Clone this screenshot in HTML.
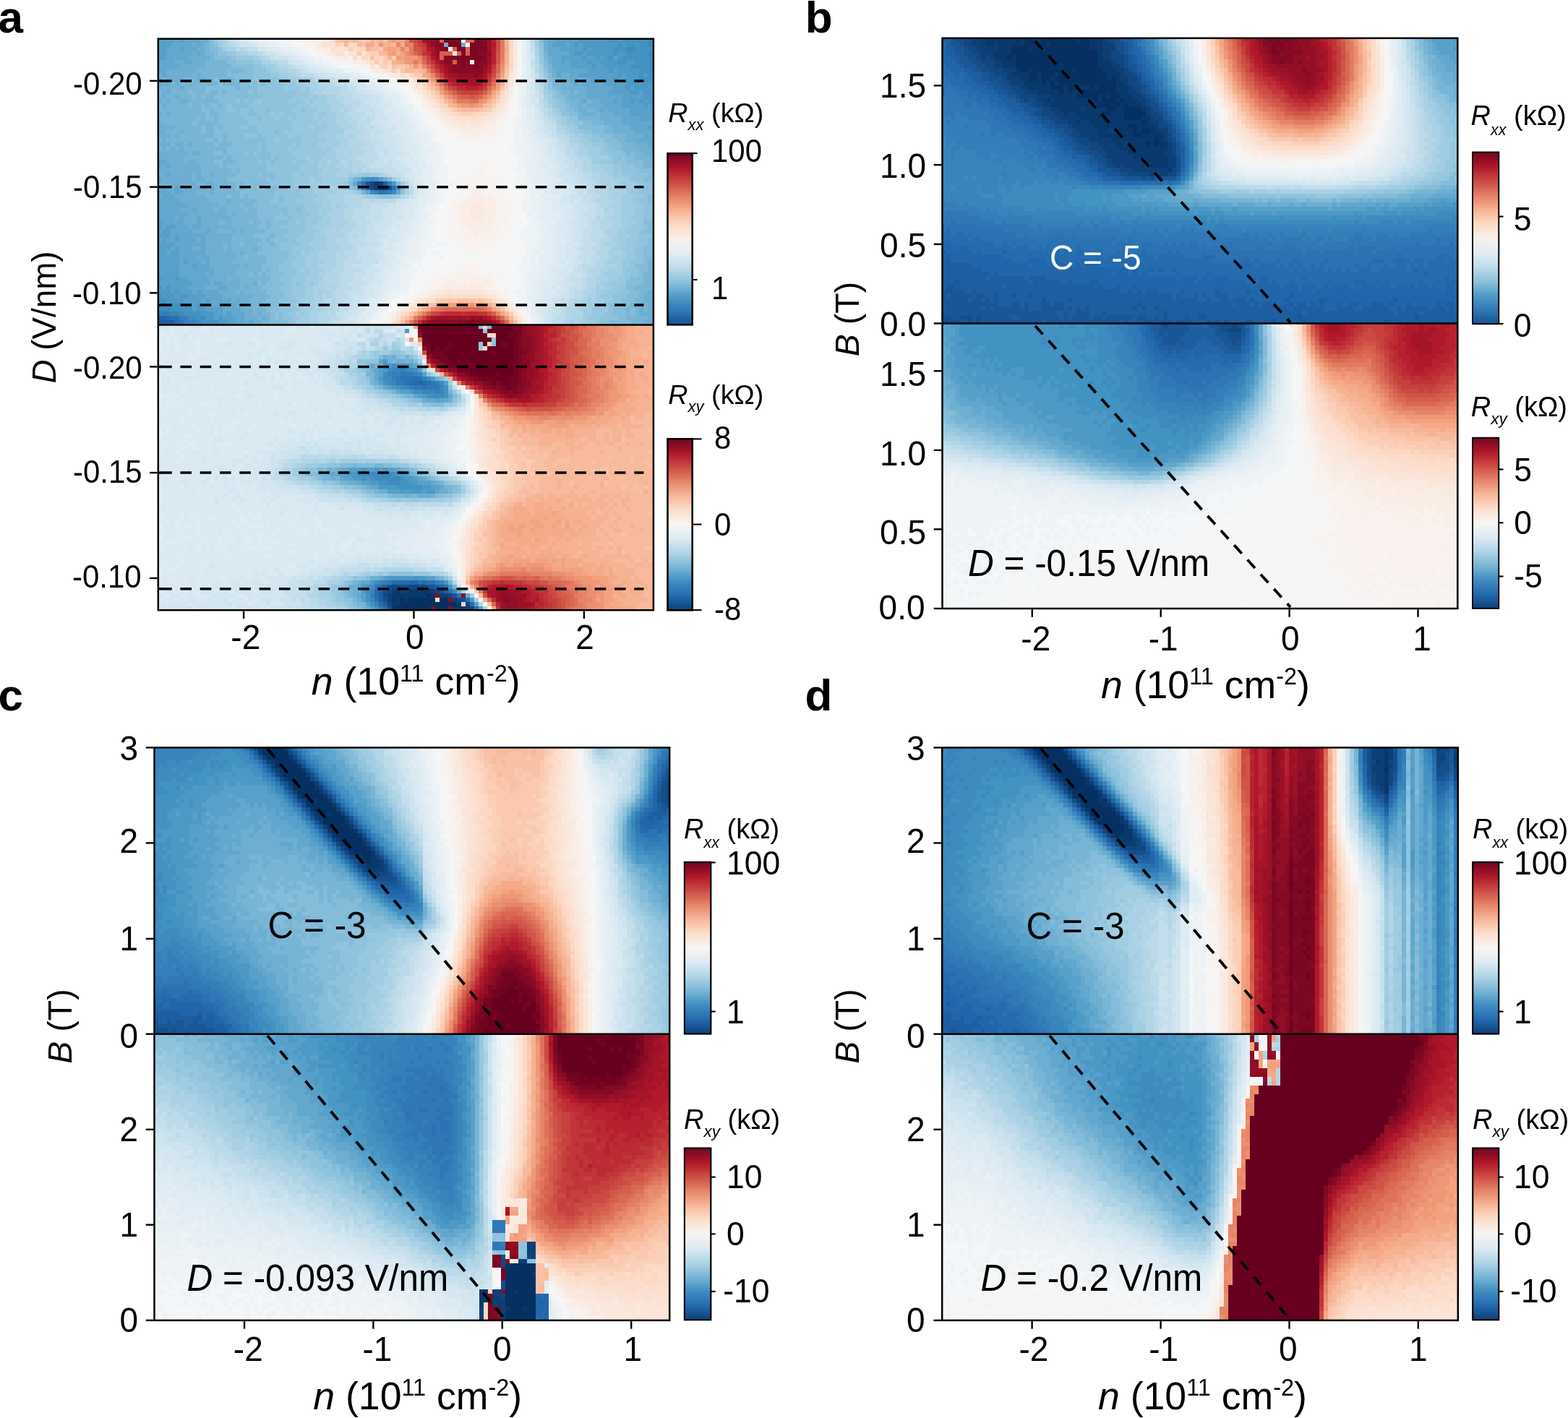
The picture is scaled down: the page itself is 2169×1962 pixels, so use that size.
<!DOCTYPE html>
<html lang="en"><head><meta charset="utf-8"><title>Figure</title>
<style>html,body{margin:0;padding:0;background:#fff;overflow:hidden}svg{display:block}text{font-family:"Liberation Sans", sans-serif;}</style></head>
<body>
<svg width="2169" height="1962" viewBox="0 0 2169 1962">
<defs><linearGradient id="cb" x1="0" y1="0" x2="0" y2="1"><stop offset="0.000" stop-color="#720421"/><stop offset="0.083" stop-color="#ae172a"/><stop offset="0.167" stop-color="#cd4d44"/><stop offset="0.250" stop-color="#e68569"/><stop offset="0.333" stop-color="#f7b799"/><stop offset="0.417" stop-color="#fcdfcd"/><stop offset="0.500" stop-color="#f7f5f3"/><stop offset="0.583" stop-color="#dceaf2"/><stop offset="0.667" stop-color="#b0d4e7"/><stop offset="0.750" stop-color="#79b5d6"/><stop offset="0.833" stop-color="#3f8ec1"/><stop offset="0.917" stop-color="#246aae"/><stop offset="1.000" stop-color="#0d4078"/></linearGradient><linearGradient id="cbx" x1="0" y1="0" x2="0" y2="1"><stop offset="0.000" stop-color="#720421"/><stop offset="0.083" stop-color="#ac162a"/><stop offset="0.167" stop-color="#cb4942"/><stop offset="0.250" stop-color="#e47f65"/><stop offset="0.333" stop-color="#f6b191"/><stop offset="0.417" stop-color="#fddac6"/><stop offset="0.500" stop-color="#f8f0eb"/><stop offset="0.583" stop-color="#e3eef3"/><stop offset="0.667" stop-color="#bfdceb"/><stop offset="0.750" stop-color="#8ec2dd"/><stop offset="0.833" stop-color="#519cc8"/><stop offset="0.917" stop-color="#2f79b6"/><stop offset="1.000" stop-color="#175392"/></linearGradient></defs>
<rect x="0" y="0" width="2169" height="1962" fill="#fff"/>
<clipPath id="ka1"><rect x="218.8" y="53.7" width="685.1" height="395.9"/></clipPath>
<g clip-path="url(#ka1)"><g transform="translate(218 56) scale(6 6)" fill="none" stroke-width="1.04" shape-rendering="crispEdges">
<path stroke="#09386c" d="M50 33h1M51 34h2"/>
<path stroke="#0d3f76" d="M51 33h1M50 34h1"/>
<path stroke="#114781" d="M49 33h1M49 34h1"/>
<path stroke="#154e8b" d="M53 34h1"/>
<path stroke="#195696" d="M48 33h1"/>
<path stroke="#1d5ea0" d="M52 33h1M0 65h4"/>
<path stroke="#2165ab" d="M48 34h1M0 64h2M0 66h3"/>
<path stroke="#256caf" d="M2 64h1M4 65h1M3 66h1"/>
<path stroke="#2a72b2" d="M47 33h1M54 34h1M51 35h1M3 64h2M5 65h1M4 66h1"/>
<path stroke="#2f78b5" d="M52 35h1M5 66h2"/>
<path stroke="#347fb9" d="M53 33h1M50 35h1M53 35h1M0 63h3M5 64h2M6 65h1M7 66h1"/>
<path stroke="#3885bc" d="M47 34h1M3 63h2M7 65h2M8 66h2"/>
<path stroke="#3d8bbf" d="M113 0h1M113 1h2M108 2h2M113 3h2M49 32h1M46 33h1M49 35h1M54 35h1M0 61h2M0 62h3M5 63h1M7 64h2M10 64h1M9 65h1M10 66h1"/>
<path stroke="#4292c2" d="M104 0h2M107 0h6M114 0h1M106 1h1M108 1h2M111 1h2M105 2h3M110 2h5M105 3h1M108 3h5M104 4h1M107 4h8M106 5h2M110 5h5M109 6h6M111 7h4M111 8h1M113 8h2M111 9h4M114 10h1M48 32h1M50 32h1M0 59h1M0 60h2M2 61h3M3 62h5M6 63h4M9 64h1M10 65h4M11 66h4"/>
<path stroke="#4c99c6" d="M97 0h7M106 0h1M96 1h1M98 1h8M107 1h1M110 1h1M98 2h1M100 2h5M96 3h2M99 3h6M106 3h2M98 4h1M101 4h1M103 4h1M106 4h1M99 5h1M102 5h4M108 5h2M100 6h1M103 6h6M104 7h1M106 7h5M106 8h1M108 8h3M112 8h1M105 9h1M108 9h3M108 10h6M108 11h1M110 11h5M109 12h2M112 12h3M112 13h3M109 14h1M111 14h1M113 14h2M112 15h1M114 16h1M47 32h1M54 33h1M55 34h1M0 55h1M4 55h1M0 57h1M2 57h1M0 58h3M4 58h1M1 59h3M5 59h2M2 60h4M5 61h3M9 61h1M9 62h2M10 63h3M11 64h2M14 64h1M14 65h2M15 66h2"/>
<path stroke="#57a0ca" d="M0 0h4M5 0h1M92 0h5M0 1h3M91 1h3M95 1h1M97 1h1M0 2h2M5 2h1M93 2h5M99 2h1M0 3h2M95 3h1M98 3h1M0 4h2M93 4h5M99 4h2M102 4h1M105 4h1M93 5h1M95 5h4M100 5h2M95 6h5M101 6h2M99 7h5M105 7h1M97 8h9M107 8h1M100 9h5M106 9h2M103 10h5M105 11h3M109 11h1M104 12h5M111 12h1M107 13h5M105 14h1M107 14h2M110 14h1M112 14h1M107 15h5M113 15h2M109 16h5M109 17h6M111 18h4M114 19h1M113 20h2M114 21h1M51 32h1M46 34h1M0 42h1M0 43h1M2 43h2M1 44h2M0 45h3M4 45h1M1 46h1M4 46h1M0 47h4M0 48h3M4 48h1M0 49h2M3 49h2M0 50h5M0 51h5M6 51h1M0 52h5M8 52h1M0 53h5M0 54h5M1 55h3M5 55h2M0 56h8M1 57h1M3 57h4M3 58h1M5 58h3M9 58h1M4 59h1M7 59h4M6 60h4M11 60h1M8 61h1M10 61h2M8 62h1M11 62h4M13 63h2M16 63h1M13 64h1M15 64h3M16 65h2M17 66h2"/>
<path stroke="#62a7ce" d="M4 0h1M6 0h4M90 0h2M3 1h5M9 1h1M90 1h1M94 1h1M2 2h3M6 2h3M90 2h3M2 3h6M9 3h1M90 3h5M2 4h5M91 4h2M0 5h4M6 5h2M91 5h2M94 5h1M0 6h5M91 6h4M0 7h2M92 7h7M1 8h1M92 8h1M95 8h2M95 9h2M98 9h2M96 10h1M98 10h5M99 11h6M99 12h5M99 13h8M98 14h1M102 14h3M106 14h1M103 15h4M102 16h1M104 16h5M105 17h4M107 18h4M107 19h7M109 20h4M110 21h4M112 22h3M111 23h4M113 24h2M114 25h1M0 28h2M2 29h1M2 31h1M0 32h1M45 33h1M1 34h1M4 34h1M0 35h3M4 35h2M48 35h1M55 35h1M1 36h3M0 37h5M0 38h7M0 39h5M8 39h1M0 40h7M0 41h4M5 41h1M9 41h1M1 42h5M9 42h1M1 43h1M4 43h3M8 43h2M0 44h1M3 44h5M11 44h1M3 45h1M5 45h6M0 46h1M2 46h2M5 46h4M10 46h1M4 47h7M3 48h1M5 48h3M10 48h1M2 49h1M5 49h6M5 50h4M10 50h2M5 51h1M7 51h3M11 51h1M5 52h3M9 52h3M5 53h8M5 54h6M12 54h1M7 55h5M8 56h4M13 56h2M7 57h4M14 57h2M8 58h1M10 58h4M11 59h4M10 60h1M12 60h5M18 60h1M12 61h6M114 61h1M15 62h4M15 63h1M17 63h3M18 64h2M18 65h2M21 65h1M19 66h2"/>
<path stroke="#6daed1" d="M10 0h2M89 0h1M8 1h1M10 1h1M66 1h1M70 1h1M89 1h1M9 2h2M89 2h1M8 3h1M10 3h1M7 4h5M90 4h1M4 5h2M8 5h3M90 5h1M5 6h6M2 7h7M91 7h1M0 8h1M2 8h6M9 8h1M91 8h1M93 8h2M0 9h1M2 9h4M9 9h2M92 9h3M97 9h1M0 10h3M4 10h1M93 10h1M95 10h1M97 10h1M0 11h1M2 11h1M5 11h1M93 11h6M1 12h2M95 12h1M97 12h2M1 13h1M4 13h1M95 13h4M0 14h1M2 14h1M5 14h2M97 14h1M100 14h2M1 15h1M97 15h1M99 15h4M97 16h2M101 16h1M103 16h1M0 17h1M2 17h1M98 17h3M102 17h3M102 18h5M0 19h1M103 19h4M0 20h4M105 20h4M0 21h2M5 21h1M105 21h5M0 22h3M4 22h1M108 22h4M1 23h1M108 23h3M0 24h3M4 24h2M7 24h1M110 24h3M1 25h1M3 25h1M5 25h1M111 25h3M0 26h7M8 26h2M112 26h3M0 27h6M114 27h1M2 28h4M7 28h2M0 29h2M3 29h7M0 30h10M0 31h2M3 31h5M9 31h1M12 31h1M1 32h7M9 32h2M46 32h1M52 32h1M0 33h9M11 33h2M0 34h1M2 34h2M5 34h6M12 34h1M3 35h1M6 35h3M12 35h1M0 36h1M4 36h7M5 37h7M16 37h1M7 38h7M5 39h3M9 39h4M14 39h2M7 40h9M17 40h1M4 41h1M6 41h3M10 41h7M6 42h3M10 42h4M16 42h1M7 43h1M10 43h7M8 44h3M12 44h2M17 44h1M19 44h1M11 45h6M9 46h1M11 46h6M11 47h4M16 47h1M8 48h2M11 48h4M16 48h1M22 48h1M11 49h7M19 49h1M9 50h1M12 50h6M10 51h1M12 51h5M12 52h7M20 52h1M13 53h5M11 54h1M13 54h5M12 55h4M17 55h2M114 55h1M12 56h1M15 56h4M22 56h1M114 56h1M11 57h3M16 57h3M20 57h1M114 57h1M14 58h4M19 58h1M113 58h2M15 59h7M112 59h3M17 60h1M19 60h2M112 60h3M18 61h2M111 61h1M113 61h1M19 62h3M111 62h1M113 62h2M20 63h2M23 63h1M111 63h4M20 64h3M24 64h1M113 64h2M20 65h1M22 65h2M112 65h3M21 66h3M112 66h3"/>
<path stroke="#78b5d5" d="M11 1h1M11 2h1M11 3h2M89 3h1M12 4h1M89 4h1M11 5h5M11 6h6M90 6h1M9 7h7M17 7h3M90 7h1M8 8h1M10 8h6M1 9h1M6 9h3M11 9h2M14 9h4M91 9h1M3 10h1M5 10h9M15 10h4M91 10h2M94 10h1M1 11h1M3 11h2M6 11h5M18 11h1M92 11h1M0 12h1M3 12h4M8 12h3M12 12h2M15 12h1M93 12h2M96 12h1M0 13h1M2 13h2M5 13h3M9 13h1M11 13h2M94 13h1M1 14h1M3 14h2M7 14h7M94 14h3M99 14h1M0 15h1M2 15h5M8 15h2M11 15h1M14 15h1M95 15h2M98 15h1M0 16h10M12 16h1M96 16h1M99 16h2M1 17h1M3 17h8M12 17h2M97 17h1M101 17h1M0 18h9M10 18h1M13 18h1M97 18h5M1 19h7M9 19h5M100 19h3M4 20h6M11 20h2M14 20h1M103 20h2M2 21h3M6 21h4M11 21h2M103 21h2M3 22h1M5 22h8M15 22h1M105 22h3M0 23h1M2 23h9M13 23h1M15 23h1M106 23h2M3 24h1M6 24h1M8 24h5M14 24h3M107 24h3M0 25h1M2 25h1M4 25h1M6 25h10M107 25h4M7 26h1M10 26h3M15 26h1M108 26h1M110 26h2M6 27h9M16 27h1M110 27h4M6 28h1M9 28h4M15 28h3M112 28h3M10 29h4M15 29h1M112 29h3M10 30h7M18 30h1M114 30h1M8 31h1M10 31h2M13 31h5M8 32h1M11 32h5M45 32h1M9 33h2M13 33h5M19 33h1M11 34h1M13 34h5M19 34h1M9 35h3M13 35h6M47 35h1M11 36h5M17 36h2M20 36h1M12 37h4M17 37h6M14 38h5M20 38h2M13 39h1M16 39h4M21 39h2M16 40h1M18 40h5M17 41h6M14 42h2M17 42h4M22 42h2M25 42h1M17 43h6M25 43h1M14 44h3M18 44h1M20 44h5M17 45h5M26 45h1M17 46h7M25 46h1M15 47h1M17 47h2M20 47h3M26 47h1M15 48h1M17 48h5M23 48h1M18 49h1M20 49h3M114 49h1M18 50h2M21 50h4M114 50h1M17 51h8M113 51h2M19 52h1M21 52h3M113 52h2M18 53h6M25 53h1M113 53h2M18 54h3M22 54h1M24 54h1M112 54h3M16 55h1M19 55h7M112 55h2M19 56h3M24 56h1M112 56h2M19 57h1M21 57h3M110 57h4M18 58h1M20 58h5M111 58h2M22 59h4M111 59h1M21 60h4M110 60h2M20 61h6M109 61h2M112 61h1M22 62h3M108 62h1M110 62h1M112 62h1M22 63h1M24 63h2M108 63h1M110 63h1M23 64h1M25 64h1M108 64h5M24 65h2M109 65h3M24 66h2M109 66h3"/>
<path stroke="#84bcd9" d="M12 0h1M88 0h1M12 1h1M12 2h2M13 3h1M13 4h4M16 5h2M89 5h1M17 6h5M89 6h1M16 7h1M20 7h2M16 8h6M90 8h1M13 9h1M18 9h4M90 9h1M14 10h1M19 10h2M22 10h1M24 10h1M11 11h7M19 11h4M91 11h1M7 12h1M11 12h1M14 12h1M16 12h5M22 12h1M92 12h1M8 13h1M10 13h1M13 13h11M92 13h2M14 14h4M19 14h1M21 14h1M93 14h1M7 15h1M10 15h1M12 15h2M15 15h1M17 15h4M94 15h1M10 16h2M13 16h3M18 16h1M21 16h1M25 16h1M94 16h2M11 17h1M14 17h5M21 17h2M95 17h2M9 18h1M11 18h2M14 18h6M23 18h1M8 19h1M14 19h7M98 19h2M10 20h1M13 20h1M15 20h4M21 20h2M97 20h6M10 21h1M13 21h10M27 21h1M100 21h3M13 22h2M16 22h4M23 22h1M102 22h3M11 23h2M14 23h1M16 23h9M103 23h3M13 24h1M17 24h6M24 24h1M104 24h3M16 25h7M24 25h1M105 25h2M13 26h2M16 26h4M21 26h1M23 26h3M107 26h1M109 26h1M15 27h1M17 27h9M27 27h1M106 27h1M108 27h2M13 28h2M18 28h5M24 28h1M26 28h1M108 28h4M14 29h1M16 29h9M110 29h2M17 30h1M19 30h6M111 30h3M18 31h5M24 31h3M113 31h2M16 32h9M26 32h1M53 32h1M112 32h3M18 33h1M20 33h6M44 33h1M55 33h1M114 33h1M18 34h1M20 34h3M25 34h3M45 34h1M56 34h1M19 35h8M16 36h1M19 36h1M21 36h6M28 36h1M113 36h1M23 37h3M28 37h1M113 37h1M19 38h1M22 38h6M20 39h1M23 39h7M32 39h1M23 40h5M29 40h1M23 41h4M30 41h1M114 41h1M21 42h1M24 42h1M26 42h4M112 42h2M23 43h2M26 43h2M113 43h1M25 44h5M112 44h3M22 45h4M27 45h2M114 45h1M24 46h1M26 46h1M28 46h2M113 46h2M19 47h1M23 47h3M27 47h1M113 47h2M24 48h4M112 48h3M23 49h7M112 49h2M20 50h1M25 50h5M112 50h2M25 51h4M112 51h1M24 52h4M110 52h3M24 53h1M26 53h2M111 53h2M21 54h1M23 54h1M25 54h4M111 54h1M26 55h2M109 55h3M23 56h1M25 56h4M108 56h4M24 57h4M108 57h2M25 58h4M109 58h2M26 59h3M108 59h3M25 60h3M107 60h3M26 61h3M105 61h1M107 61h2M25 62h3M105 62h3M109 62h1M26 63h1M28 63h1M105 63h3M109 63h1M26 64h1M28 64h1M106 64h2M26 65h4M104 65h5M26 66h2M105 66h4"/>
<path stroke="#8fc3dd" d="M13 1h1M88 1h1M14 2h1M88 2h1M14 3h2M88 3h1M17 4h1M18 5h4M22 6h2M22 7h3M89 7h1M22 8h4M22 9h6M21 10h1M23 10h1M25 10h4M90 10h1M23 11h6M90 11h1M21 12h1M23 12h9M91 12h1M24 13h7M91 13h1M18 14h1M20 14h1M22 14h1M24 14h6M32 14h1M92 14h1M16 15h1M21 15h11M92 15h2M16 16h2M19 16h2M22 16h3M26 16h5M33 16h1M93 16h1M19 17h2M23 17h3M27 17h1M29 17h3M93 17h2M20 18h3M24 18h3M28 18h2M31 18h1M95 18h2M21 19h10M96 19h2M19 20h2M23 20h8M23 21h4M28 21h1M30 21h1M98 21h2M20 22h3M24 22h6M32 22h1M100 22h2M25 23h2M28 23h5M100 23h3M23 24h1M25 24h6M32 24h1M103 24h1M23 25h1M25 25h5M31 25h1M103 25h2M20 26h1M22 26h1M26 26h5M104 26h3M26 27h1M28 27h4M105 27h1M107 27h1M23 28h1M25 28h1M27 28h4M32 28h2M105 28h3M25 29h8M107 29h3M25 30h8M107 30h4M23 31h1M27 31h4M33 31h1M109 31h4M25 32h1M27 32h4M44 32h1M109 32h3M26 33h5M112 33h2M23 34h2M28 34h2M32 34h1M44 34h1M112 34h3M27 35h6M56 35h1M111 35h4M27 36h1M29 36h5M51 36h3M112 36h1M114 36h1M26 37h2M29 37h3M111 37h2M114 37h1M28 38h6M112 38h3M30 39h2M33 39h1M112 39h3M28 40h1M30 40h5M112 40h3M27 41h3M31 41h3M112 41h2M30 42h2M33 42h1M114 42h1M28 43h6M112 43h1M114 43h1M30 44h4M111 44h1M29 45h4M111 45h3M27 46h1M30 46h2M111 46h2M28 47h5M111 47h2M28 48h3M110 48h2M30 49h1M32 49h1M110 49h2M30 50h2M110 50h2M29 51h2M109 51h3M28 52h3M109 52h1M28 53h4M108 53h3M29 54h3M109 54h2M28 55h3M108 55h1M29 56h2M32 56h1M28 57h3M107 57h1M29 58h2M106 58h3M29 59h2M105 59h3M28 60h4M105 60h2M29 61h2M103 61h2M106 61h1M28 62h4M104 62h1M27 63h1M29 63h1M103 63h2M27 64h1M29 64h2M102 64h4M30 65h1M102 65h2M28 66h3M101 66h1M103 66h2"/>
<path stroke="#98c8e0" d="M13 0h1M16 3h2M18 4h4M88 4h1M22 5h2M88 5h1M24 6h1M25 7h1M26 8h2M89 8h1M28 9h2M29 10h3M29 11h4M34 11h1M32 12h3M90 12h1M31 13h4M36 13h1M23 14h1M30 14h2M33 14h1M35 14h1M91 14h1M32 15h3M91 15h1M31 16h2M34 16h3M92 16h1M26 17h1M28 17h1M32 17h4M37 17h2M27 18h1M30 18h1M32 18h4M37 18h1M94 18h1M31 19h6M38 19h1M94 19h2M31 20h4M36 20h3M96 20h1M29 21h1M31 21h7M96 21h2M30 22h2M33 22h4M98 22h2M27 23h1M33 23h6M99 23h1M31 24h1M33 24h4M100 24h3M30 25h1M32 25h6M39 25h1M102 25h1M31 26h8M102 26h2M32 27h2M35 27h3M104 27h1M31 28h1M34 28h1M36 28h1M102 28h3M33 29h4M105 29h2M33 30h5M105 30h2M31 31h2M34 31h3M47 31h2M105 31h1M107 31h2M31 32h4M36 32h2M108 32h1M31 33h4M43 33h1M107 33h1M110 33h2M30 34h2M33 34h1M35 34h1M110 34h2M33 35h3M46 35h1M109 35h2M34 36h3M50 36h1M54 36h1M110 36h2M32 37h4M109 37h2M34 38h4M110 38h2M34 39h3M110 39h2M35 40h2M110 40h2M34 41h4M109 41h3M32 42h1M34 42h3M110 42h2M34 43h2M109 43h3M34 44h3M108 44h3M33 45h3M109 45h2M32 46h4M108 46h3M33 47h2M108 47h3M31 48h5M107 48h3M31 49h1M34 49h1M108 49h2M32 50h2M108 50h2M31 51h3M107 51h2M31 52h3M107 52h2M32 53h1M34 53h1M107 53h1M32 54h3M107 54h2M31 55h3M106 55h2M31 56h1M33 56h1M35 56h1M104 56h4M31 57h3M105 57h2M31 58h3M103 58h3M31 59h3M102 59h3M32 60h1M103 60h2M31 61h3M101 61h2M32 62h1M100 62h4M30 63h2M33 63h1M100 63h3M31 64h2M99 64h3M31 65h1M101 65h1M31 66h1M100 66h1M102 66h1"/>
<path stroke="#a1cde2" d="M14 0h1M87 0h1M14 1h1M87 1h1M15 2h1M18 3h1M22 4h1M25 6h2M88 6h1M26 7h2M28 8h2M30 9h3M89 9h1M32 10h2M89 10h1M33 11h1M89 11h1M35 12h1M89 12h1M35 13h1M37 13h2M90 13h1M34 14h1M36 14h3M90 14h1M35 15h5M37 16h3M91 16h1M36 17h1M39 17h2M92 17h1M36 18h1M38 18h3M93 18h1M37 19h1M39 19h2M93 19h1M35 20h1M39 20h3M94 20h2M38 21h5M95 21h1M37 22h4M96 22h2M39 23h3M97 23h2M37 24h5M98 24h2M38 25h1M40 25h1M99 25h3M39 26h2M99 26h3M34 27h1M38 27h3M100 27h4M35 28h1M37 28h2M40 28h2M100 28h2M37 29h4M102 29h3M38 30h4M103 30h2M37 31h4M44 31h3M49 31h2M104 31h1M106 31h1M35 32h1M38 32h6M54 32h1M105 32h3M35 33h8M56 33h1M106 33h1M108 33h2M34 34h1M36 34h4M42 34h2M107 34h3M36 35h5M45 35h1M108 35h1M37 36h2M48 36h2M55 36h1M107 36h3M36 37h4M107 37h2M38 38h2M41 38h1M107 38h3M37 39h3M107 39h3M37 40h2M107 40h3M38 41h2M107 41h2M37 42h3M107 42h3M36 43h3M107 43h2M37 44h1M106 44h2M36 45h3M106 45h3M36 46h3M105 46h3M35 47h4M106 47h2M36 48h3M105 48h2M33 49h1M35 49h2M104 49h1M107 49h1M34 50h3M105 50h3M34 51h4M104 51h3M34 52h3M106 52h1M33 53h1M35 53h3M104 53h3M35 54h2M103 54h4M34 55h4M104 55h2M34 56h1M36 56h1M102 56h2M34 57h2M101 57h1M103 57h2M34 58h2M37 58h1M101 58h2M34 59h2M101 59h1M33 60h3M99 60h1M101 60h2M34 61h1M99 61h2M33 62h3M98 62h2M32 63h1M34 63h1M98 63h2M33 64h2M98 64h1M32 65h3M98 65h3M32 66h2M98 66h2"/>
<path stroke="#aad1e5" d="M15 0h1M15 1h1M16 2h2M87 2h1M19 3h2M87 3h1M23 4h1M24 5h2M27 6h1M28 7h2M88 7h1M30 8h2M88 8h1M33 9h3M34 10h3M35 11h4M36 12h2M39 13h2M89 13h1M39 14h3M40 15h3M90 15h1M40 16h2M43 16h1M41 17h2M91 17h1M41 18h2M92 18h1M41 19h3M92 19h1M42 20h3M93 20h1M94 21h1M41 22h2M44 22h1M95 22h1M42 23h2M95 23h2M42 24h2M97 24h1M41 25h3M97 25h2M41 26h2M44 26h1M97 26h2M41 27h3M99 27h1M39 28h1M44 28h1M41 29h2M44 29h1M100 29h2M42 30h3M46 30h1M100 30h3M41 31h3M51 31h1M102 31h2M102 32h3M102 33h4M40 34h2M57 34h1M104 34h3M41 35h4M57 35h1M104 35h4M39 36h4M47 36h1M104 36h3M40 37h3M105 37h2M40 38h1M42 38h2M104 38h3M40 39h3M103 39h1M105 39h2M39 40h4M105 40h2M40 41h3M104 41h3M40 42h4M105 42h2M39 43h4M105 43h2M38 44h2M41 44h1M103 44h3M39 45h4M104 45h2M39 46h2M104 46h1M39 47h3M103 47h3M39 48h3M104 48h1M37 49h4M105 49h2M37 50h4M104 50h1M38 51h3M103 51h1M37 52h4M103 52h3M38 53h2M102 53h2M37 54h2M102 54h1M101 55h3M37 56h2M101 56h1M36 57h3M40 57h1M102 57h1M36 58h1M38 58h2M100 58h1M36 59h2M39 59h1M99 59h2M36 60h2M98 60h1M100 60h1M35 61h4M36 62h2M97 62h1M35 63h2M35 64h2M96 64h2M35 65h2M95 65h1M97 65h1M34 66h2M96 66h2"/>
<path stroke="#b3d6e7" d="M16 1h1M19 2h1M21 3h2M24 4h1M87 4h1M26 5h2M87 5h1M28 6h2M30 7h2M87 7h1M32 8h1M88 9h1M37 10h3M88 10h1M39 11h3M38 12h4M41 13h2M42 14h1M89 14h1M43 15h2M89 15h1M42 16h1M44 16h1M90 16h1M43 17h1M90 17h1M43 18h2M91 18h1M44 19h2M45 20h1M92 20h1M43 21h4M92 21h2M43 22h1M45 22h1M94 22h1M44 23h3M44 24h4M95 24h2M44 25h3M96 25h1M43 26h1M45 26h3M96 26h1M44 27h2M97 27h2M42 28h2M45 28h2M98 28h2M43 29h1M45 29h3M98 29h2M45 30h1M48 30h1M98 30h2M52 31h1M100 31h2M55 32h1M100 32h2M101 33h1M102 34h2M101 35h3M43 36h4M56 36h1M102 36h2M43 37h4M49 37h1M101 37h4M44 38h3M102 38h2M43 39h2M104 39h1M43 40h2M103 40h2M43 41h2M101 41h1M103 41h1M44 42h2M102 42h3M43 43h3M102 43h3M40 44h1M42 44h3M43 45h1M45 45h1M103 45h1M41 46h3M102 46h2M42 47h3M102 47h1M42 48h3M102 48h2M41 49h2M101 49h3M41 50h3M102 50h2M41 51h2M101 51h2M41 52h2M101 52h2M40 53h3M99 53h3M39 54h3M100 54h2M38 55h4M99 55h2M39 56h3M99 56h2M39 57h1M41 57h1M99 57h2M40 58h1M98 58h2M38 59h1M40 59h1M98 59h1M38 60h1M40 60h1M96 60h2M39 61h2M95 61h4M38 62h3M94 62h3M37 63h2M40 63h1M94 63h4M37 64h3M94 64h2M37 65h2M94 65h1M96 65h1M36 66h2M94 66h2"/>
<path stroke="#bcdaea" d="M16 0h1M86 0h1M17 1h1M18 2h1M20 2h1M23 3h1M25 4h1M28 5h2M30 6h1M87 6h1M32 7h1M33 8h3M36 9h2M87 9h1M40 10h1M42 11h2M88 11h1M42 12h3M88 12h1M43 13h2M43 14h4M88 14h1M45 15h2M45 16h1M89 16h1M44 17h4M89 17h1M45 18h2M48 18h1M90 18h1M46 19h3M91 19h1M46 20h2M49 20h1M47 21h2M46 22h3M92 22h2M47 23h2M93 23h2M48 24h2M94 24h1M47 25h3M94 25h2M48 26h2M94 26h2M46 27h5M95 27h2M47 28h3M96 28h2M48 29h1M96 29h2M47 30h1M49 30h3M97 30h1M53 31h1M98 31h2M98 32h2M57 33h1M99 33h2M100 34h2M58 35h1M99 35h2M57 36h1M100 36h2M47 37h2M50 37h5M100 37h1M47 38h2M101 38h1M45 39h4M101 39h2M45 40h4M101 40h2M45 41h3M102 41h1M46 42h3M100 42h2M46 43h2M100 43h2M45 44h3M100 44h3M44 45h1M46 45h2M100 45h3M44 46h3M100 46h2M45 47h3M101 47h1M45 48h1M100 48h2M43 49h3M44 50h2M100 50h2M43 51h4M100 51h1M43 52h2M98 52h3M43 53h4M98 53h1M42 54h3M99 54h1M42 55h3M98 55h1M42 56h2M98 56h1M42 57h3M98 57h1M41 58h2M96 58h2M41 59h3M96 59h2M39 60h1M41 60h2M95 60h1M41 61h1M94 61h1M41 62h1M93 62h1M39 63h1M93 63h1M40 64h2M92 64h2M39 65h1M93 65h1M38 66h1M92 66h2"/>
<path stroke="#c5dfec" d="M17 0h1M18 1h1M86 1h1M21 2h2M86 2h1M24 3h1M26 4h1M86 5h1M31 6h1M33 7h1M36 8h1M87 8h1M38 9h3M41 10h3M87 10h1M44 11h2M87 11h1M45 12h1M45 13h4M88 13h1M47 14h1M47 15h2M88 15h1M46 16h4M88 16h1M48 17h2M47 18h1M49 18h1M89 18h1M89 19h2M48 20h1M50 20h1M90 20h2M49 21h3M91 21h1M49 22h2M91 22h1M49 23h3M92 23h1M50 24h2M92 24h2M50 25h3M93 25h1M50 26h1M52 26h1M51 27h1M94 27h1M50 28h2M53 28h1M94 28h2M49 29h5M95 29h1M52 30h3M94 30h3M54 31h2M96 31h2M56 32h1M96 32h2M97 33h2M58 34h1M98 34h2M97 35h1M98 36h2M98 37h2M49 38h4M99 38h2M49 39h3M99 39h2M49 40h3M98 40h3M48 41h4M99 41h2M49 42h2M99 42h1M48 43h2M99 43h1M48 44h2M98 44h2M48 45h3M98 45h2M47 46h3M98 46h2M48 47h3M98 47h3M46 48h3M97 48h3M46 49h4M98 49h3M46 50h4M97 50h3M47 51h4M98 51h2M45 52h4M97 52h1M47 53h1M96 53h2M45 54h3M98 54h1M45 55h2M95 55h3M44 56h4M96 56h2M45 57h2M95 57h3M43 58h4M95 58h1M44 59h1M95 59h1M43 60h2M93 60h2M42 61h3M92 61h2M42 62h2M91 62h2M41 63h2M91 63h2M42 64h1M91 64h1M40 65h2M91 65h2M39 66h3M91 66h1"/>
<path stroke="#cde3ef" d="M18 0h1M19 1h2M25 3h2M86 3h1M27 4h3M86 4h1M30 5h1M32 6h2M86 6h1M34 7h1M37 8h2M41 9h3M44 10h1M46 12h2M87 12h1M49 13h2M87 13h1M48 14h3M49 15h2M87 15h1M50 16h2M50 17h2M88 17h1M50 18h3M88 18h1M49 19h3M51 20h2M54 20h1M89 20h1M52 21h2M89 21h2M51 22h3M90 22h1M52 23h3M52 24h3M91 24h1M53 25h2M92 25h1M51 26h1M53 26h3M92 26h2M52 27h3M92 27h2M52 28h1M54 28h2M93 28h1M54 29h3M93 29h2M55 30h3M93 30h1M56 31h1M93 31h3M57 32h1M94 32h2M58 33h1M95 33h2M96 34h2M96 35h1M98 35h1M58 36h1M95 36h3M55 37h2M95 37h1M97 37h1M53 38h2M96 38h3M52 39h3M96 39h3M52 40h3M96 40h2M52 41h2M55 41h1M97 41h2M51 42h3M96 42h3M50 43h3M97 43h2M50 44h2M96 44h2M51 45h2M96 45h2M50 46h2M96 46h2M51 47h1M97 47h1M49 48h2M96 48h1M50 49h2M97 49h1M50 50h2M96 50h1M96 51h2M49 52h1M96 52h1M48 53h3M48 54h2M95 54h3M47 55h3M94 55h1M48 56h1M94 56h2M47 57h1M94 57h1M47 58h1M93 58h2M45 59h3M93 59h2M45 60h2M91 60h2M45 61h1M91 61h1M44 62h2M90 62h1M43 63h3M90 63h1M43 64h1M90 64h1M42 65h3M90 65h1M42 66h2"/>
<path stroke="#d4e7f1" d="M19 0h2M85 0h1M21 1h2M23 2h2M27 3h1M30 4h1M31 5h2M34 6h1M35 7h2M86 7h1M39 8h2M86 8h1M45 10h3M86 10h1M46 11h3M86 11h1M48 12h3M51 13h1M86 13h1M51 14h1M86 14h2M51 15h3M52 16h1M87 16h1M52 17h2M87 17h1M53 18h1M87 18h1M52 19h2M88 19h1M53 20h1M88 20h1M54 21h1M88 21h1M54 22h2M89 22h1M55 23h2M90 23h2M55 24h2M90 24h1M55 25h2M90 25h2M56 26h2M90 26h1M55 27h2M91 27h1M56 28h1M91 28h2M57 29h1M92 29h1M58 30h1M92 30h1M57 31h1M92 31h1M58 32h1M93 32h1M92 33h3M59 34h1M94 34h2M59 35h1M95 35h1M59 36h1M93 36h2M57 37h1M93 37h2M96 37h1M55 38h3M95 38h1M55 39h2M95 39h1M55 40h2M94 40h2M54 41h1M56 41h1M95 41h2M54 42h1M94 42h2M53 43h1M55 43h1M95 43h2M52 44h2M95 44h1M53 45h2M94 45h2M52 46h3M95 46h1M53 47h1M94 47h3M51 48h3M94 48h2M94 49h3M52 50h1M94 50h2M51 51h2M93 51h1M95 51h1M50 52h2M94 52h2M51 53h1M93 53h3M50 54h1M92 54h3M50 55h2M93 55h1M49 56h3M92 56h2M48 57h2M91 57h1M93 57h1M48 58h2M92 58h1M48 59h2M91 59h2M47 60h1M90 60h1M46 61h2M89 61h2M46 62h2M89 62h1M46 63h1M89 63h1M44 64h2M89 64h1M45 65h1M89 65h1M44 66h1M89 66h2"/>
<path stroke="#dae9f2" d="M85 1h1M25 2h1M85 2h1M28 3h1M85 3h1M31 4h1M85 4h1M33 5h1M35 6h1M37 7h2M41 8h3M44 9h2M86 9h1M49 11h1M51 12h1M86 12h1M52 13h1M52 14h2M86 15h1M53 16h2M54 17h1M54 18h3M54 19h3M87 19h1M55 20h3M87 20h1M55 21h3M87 21h1M56 22h2M88 22h1M57 23h2M88 23h2M57 24h2M89 24h1M57 25h3M59 26h1M89 26h1M91 26h1M57 27h2M90 27h1M57 28h3M90 28h1M58 29h2M89 29h1M91 29h1M60 30h1M90 30h2M58 31h2M91 31h1M59 32h1M91 32h2M59 33h2M91 33h1M91 34h3M60 35h1M91 35h4M58 37h2M92 37h1M58 38h1M93 38h2M57 39h2M93 39h2M57 40h2M93 40h1M57 41h2M93 41h2M55 42h3M92 42h2M54 43h1M56 43h2M92 43h3M54 44h3M92 44h3M55 45h1M93 45h1M55 46h2M92 46h1M94 46h1M52 47h1M54 47h1M92 47h2M54 48h2M92 48h2M52 49h3M92 49h2M53 50h2M92 50h2M53 51h1M92 51h1M94 51h1M52 52h2M92 52h2M52 53h1M91 53h2M51 54h2M91 54h1M91 55h2M91 56h1M50 57h2M90 57h1M92 57h1M50 58h2M89 58h3M50 59h1M89 59h2M48 60h1M88 60h2M48 61h1M88 62h1M88 63h1M46 64h2M46 65h1M45 66h2"/>
<path stroke="#dfecf3" d="M21 0h1M23 1h2M26 2h2M29 3h2M32 4h1M34 5h1M85 5h1M36 6h2M85 6h1M39 7h1M41 7h1M85 7h1M44 8h1M85 8h1M46 9h2M85 9h1M48 10h2M85 10h1M50 11h2M85 11h1M52 12h1M85 12h1M53 13h2M85 13h1M54 14h2M85 14h1M54 15h1M85 15h1M55 16h2M85 16h2M55 17h2M85 17h2M57 18h1M86 18h1M57 19h1M86 19h1M58 20h1M86 20h1M58 21h1M86 21h1M58 22h2M87 22h1M59 23h1M87 23h1M59 24h2M88 24h1M60 25h1M88 25h2M58 26h1M60 26h1M88 26h1M59 27h2M89 27h1M60 28h2M88 28h2M60 29h2M90 29h1M59 30h1M89 30h1M60 31h1M88 31h3M60 32h1M89 32h2M90 33h1M60 34h2M90 34h1M61 35h1M89 35h2M60 36h2M91 36h2M61 37h1M90 37h2M59 38h1M91 38h2M59 39h1M90 39h3M59 40h1M92 40h1M59 41h1M91 41h2M58 42h1M58 43h1M90 43h2M57 44h2M90 44h2M56 45h2M91 45h2M91 46h1M93 46h1M55 47h2M90 47h2M56 48h1M91 48h1M55 49h2M91 49h1M90 50h2M54 51h2M91 51h1M54 52h1M90 52h2M53 53h2M90 53h1M53 54h1M90 54h1M52 55h2M89 55h2M52 56h1M88 56h3M52 57h1M89 57h1M52 58h1M88 58h1M51 59h1M88 59h1M49 60h2M87 60h1M49 61h1M88 61h1M48 62h2M87 62h1M47 63h2M48 64h1M88 64h1M47 65h1M88 65h1M88 66h1"/>
<path stroke="#e4eef4" d="M22 0h2M84 0h1M25 1h2M28 2h2M31 3h2M33 4h2M84 4h1M35 5h1M84 5h1M38 6h1M40 7h1M42 7h1M45 8h2M84 8h1M48 9h1M50 10h1M52 11h1M53 12h2M55 13h1M84 13h1M84 14h1M55 15h2M84 15h1M57 16h1M57 17h1M58 18h1M85 18h1M58 19h2M85 19h1M59 20h1M84 20h2M59 21h1M60 22h1M85 22h2M60 23h2M86 23h1M86 24h2M61 25h2M86 25h2M61 26h2M87 26h1M61 27h1M86 27h3M87 28h1M62 29h1M87 29h2M61 30h2M87 30h2M61 31h2M87 31h1M61 32h2M87 32h2M61 33h3M87 33h3M62 34h2M87 34h3M62 35h1M62 36h1M88 36h3M60 37h1M89 37h1M60 38h2M88 38h3M60 39h1M88 39h2M60 40h2M88 40h4M60 41h2M88 41h3M59 42h2M89 42h3M59 43h1M88 43h1M59 44h1M89 44h1M58 45h2M89 45h2M57 46h1M88 46h3M57 47h1M89 47h1M57 48h1M88 48h3M57 49h1M87 49h1M89 49h2M55 50h2M88 50h2M56 51h1M88 51h3M55 52h2M88 52h2M55 53h1M88 53h2M54 54h2M88 54h2M54 55h2M87 55h2M53 56h3M87 56h1M53 57h2M86 57h3M53 58h1M87 58h1M52 59h1M86 59h2M51 60h1M86 60h1M50 61h1M86 61h2M50 62h1M86 62h1M49 63h1M86 63h2M87 64h1M48 65h1M87 65h1M47 66h1"/>
<path stroke="#eaf1f5" d="M24 0h2M27 1h1M84 1h1M30 2h2M84 2h1M33 3h1M84 3h1M35 4h1M36 5h2M39 6h1M84 6h1M43 7h1M84 7h1M47 8h1M49 9h2M84 9h1M51 10h2M84 10h1M53 11h2M84 11h1M55 12h1M83 12h2M56 13h1M56 14h1M83 14h1M57 15h2M58 16h1M84 16h1M58 17h2M84 17h1M59 18h1M84 18h1M60 19h1M83 19h2M60 20h1M60 21h2M84 21h2M61 22h2M84 22h1M62 23h1M84 23h2M61 24h4M84 24h2M63 25h1M83 25h1M85 25h1M63 26h2M85 26h2M62 27h3M84 27h2M62 28h3M84 28h3M63 29h2M85 29h2M63 30h1M85 30h2M63 31h1M85 31h2M63 32h1M85 32h2M64 33h1M86 33h1M86 34h1M63 35h1M86 35h3M63 36h1M86 36h1M62 37h2M86 37h3M62 38h1M86 38h2M61 39h1M86 39h2M62 40h1M85 40h1M87 40h1M87 41h1M61 42h2M87 42h2M60 43h2M87 43h1M89 43h1M60 44h2M87 44h2M60 45h2M86 45h1M88 45h1M58 46h3M87 46h1M58 47h2M87 47h2M58 48h2M86 48h2M58 49h3M88 49h1M57 50h4M86 50h2M57 51h1M86 51h1M57 52h2M86 52h2M56 53h2M86 53h2M56 54h2M85 54h3M56 55h1M85 55h2M56 56h2M84 56h3M55 57h2M85 57h1M54 58h2M85 58h2M53 59h2M85 59h1M52 60h1M85 60h1M51 61h2M84 61h2M51 62h1M50 63h1M49 64h1M86 64h1M48 66h2M87 66h1"/>
<path stroke="#eff3f6" d="M26 0h2M28 1h3M32 2h2M34 3h1M36 4h2M38 5h2M40 6h2M44 7h3M48 8h1M51 9h1M53 10h1M83 10h1M83 11h1M56 12h1M57 13h1M83 13h1M57 14h1M83 15h1M59 16h1M83 16h1M60 17h1M83 17h1M60 18h2M82 18h2M61 19h1M82 19h1M61 20h2M82 20h2M62 21h2M82 21h2M63 22h1M82 22h2M63 23h1M82 23h2M65 24h1M82 24h2M64 25h2M81 25h2M84 25h1M65 26h1M82 26h3M65 27h1M83 27h1M65 28h1M83 28h1M65 29h2M83 29h2M64 30h3M82 30h3M64 31h3M83 31h2M64 32h3M83 32h2M65 33h3M84 33h2M64 34h3M84 34h2M64 35h2M85 35h1M64 36h2M84 36h2M87 36h1M64 37h2M84 37h2M63 38h1M84 38h2M62 39h3M84 39h2M63 40h1M86 40h1M62 41h2M85 41h2M63 42h1M83 42h1M86 42h1M62 43h1M85 43h2M62 44h2M84 44h3M62 45h1M83 45h3M87 45h1M61 46h3M84 46h3M60 47h3M64 47h2M84 47h3M60 48h3M85 48h1M61 49h1M63 49h2M85 49h2M61 50h1M65 50h1M84 50h2M58 51h3M84 51h2M87 51h1M60 52h1M84 52h2M58 53h2M83 53h3M58 54h1M84 54h1M57 55h2M84 55h1M57 57h1M83 57h2M56 58h2M82 58h3M55 59h1M83 59h2M53 60h1M83 60h2M53 61h1M52 62h1M84 62h2M51 63h1M85 63h1M50 64h2M49 65h2M86 65h1M86 66h1"/>
<path stroke="#f4f6f7" d="M28 0h3M70 0h1M83 0h1M31 1h1M83 1h1M34 2h1M83 2h1M35 3h2M68 3h1M83 3h1M38 4h1M40 5h1M72 5h1M83 5h1M42 6h3M83 6h1M47 7h1M83 7h1M49 8h1M83 8h1M52 9h1M83 9h1M54 10h1M55 11h2M57 12h1M82 12h1M58 13h1M82 13h1M58 14h2M59 15h1M82 15h1M60 16h1M82 16h1M81 17h2M81 18h1M62 19h1M63 20h1M81 20h1M64 21h1M81 21h1M64 22h3M80 22h2M64 23h3M80 23h2M66 24h2M69 24h1M75 24h1M78 24h4M66 25h4M71 25h1M74 25h1M76 25h1M79 25h2M66 26h3M81 26h1M66 27h4M79 27h4M66 28h2M69 28h4M79 28h4M67 29h4M79 29h2M82 29h1M67 30h3M77 30h1M81 30h1M67 31h1M70 31h1M81 31h2M67 32h2M81 32h2M68 33h1M79 33h1M82 33h2M67 34h2M80 34h1M82 34h2M66 35h3M83 35h2M66 36h1M68 36h1M83 36h1M66 37h1M83 37h1M64 38h3M82 38h2M65 39h1M64 40h2M83 40h2M64 41h2M82 41h3M64 42h2M84 42h2M63 43h4M82 43h3M64 44h2M82 44h2M63 45h4M80 45h1M82 45h1M64 46h2M83 46h1M63 47h1M79 47h1M82 47h2M63 48h5M81 48h1M83 48h2M62 49h1M65 49h3M77 49h1M79 49h1M81 49h4M62 50h3M66 50h3M71 50h1M75 50h1M77 50h1M82 50h2M61 51h7M70 51h1M79 51h1M82 51h1M59 52h1M61 52h5M81 52h3M60 53h4M78 53h1M80 53h3M59 54h3M81 54h3M59 55h3M81 55h3M58 56h3M80 56h4M58 57h2M81 57h2M58 58h1M81 58h1M56 59h2M82 59h1M54 60h3M82 60h1M54 61h1M83 61h1M53 62h1M52 63h1M85 64h1M51 65h1M50 66h1"/>
<path stroke="#f7f5f4" d="M31 0h2M32 1h2M71 1h1M35 2h1M67 2h1M37 3h1M39 4h1M83 4h1M41 5h2M45 6h1M48 7h1M50 8h1M53 9h2M55 10h1M57 11h1M82 11h1M58 12h1M59 13h1M60 14h1M82 14h1M60 15h1M81 15h1M61 16h1M81 16h1M61 17h2M62 18h2M80 18h1M63 19h2M80 19h2M64 20h2M79 20h2M65 21h2M78 21h3M67 22h2M79 22h1M67 23h3M71 23h2M74 23h1M76 23h1M78 23h2M68 24h1M70 24h5M76 24h2M70 25h1M72 25h2M75 25h1M77 25h2M69 26h12M70 27h9M68 28h1M73 28h6M71 29h3M75 29h4M81 29h1M70 30h4M75 30h2M78 30h3M68 31h2M71 31h3M75 31h1M77 31h4M69 32h6M76 32h5M69 33h2M72 33h1M74 33h1M76 33h3M80 33h2M69 34h2M72 34h1M76 34h4M81 34h1M69 35h3M75 35h8M67 36h1M69 36h2M80 36h3M67 37h1M69 37h1M79 37h4M67 38h1M81 38h1M66 39h1M79 39h1M81 39h3M66 40h2M80 40h3M66 41h3M81 41h1M66 42h2M79 42h1M81 42h2M67 43h3M79 43h3M66 44h2M69 44h1M79 44h3M67 45h2M81 45h1M66 46h3M78 46h5M66 47h5M74 47h3M78 47h1M80 47h2M68 48h4M73 48h8M82 48h1M68 49h9M78 49h1M80 49h1M69 50h2M72 50h3M76 50h1M78 50h4M68 51h2M71 51h8M80 51h2M83 51h1M66 52h5M72 52h9M64 53h6M74 53h4M79 53h1M62 54h5M75 54h1M77 54h1M79 54h2M62 55h1M64 55h1M77 55h4M61 56h2M78 56h2M60 57h2M78 57h2M59 58h2M79 58h2M58 59h2M81 59h1M55 61h1M54 62h1M83 62h1M53 63h1M84 63h1M52 64h1M85 65h1M51 66h1M85 66h1"/>
<path stroke="#f8f1ed" d="M33 0h2M37 0h1M34 1h3M36 2h1M38 3h1M40 4h1M44 4h1M43 5h2M46 6h3M49 7h1M51 8h2M82 9h1M56 10h2M82 10h1M58 11h1M59 12h1M60 13h1M81 13h1M81 14h1M61 15h1M62 16h1M80 16h1M63 17h1M80 17h1M64 18h1M79 18h1M65 19h1M78 19h2M66 20h1M76 20h1M78 20h1M67 21h3M76 21h2M69 22h3M74 22h5M70 23h1M73 23h1M75 23h1M77 23h1M74 29h1M74 30h1M74 31h1M76 31h1M75 32h1M71 33h1M73 33h1M75 33h1M71 34h1M73 34h3M74 35h1M71 36h2M75 36h1M77 36h3M68 37h1M70 37h1M77 37h2M68 38h2M78 38h3M67 39h3M78 39h1M80 39h1M68 40h1M78 40h2M69 41h1M77 41h4M68 42h2M78 42h1M80 42h1M70 43h1M77 43h2M68 44h1M70 44h2M75 44h1M77 44h2M69 45h4M74 45h6M69 46h9M71 47h3M77 47h1M72 48h1M71 52h1M70 53h4M67 54h8M76 54h1M78 54h1M63 55h1M65 55h5M71 55h1M74 55h1M76 55h1M63 56h3M69 56h3M77 56h1M62 57h3M76 57h2M80 57h1M61 58h2M78 58h1M60 59h1M79 59h2M57 60h2M81 60h1M56 61h1M82 61h1M54 63h1M83 63h1M53 64h1M84 64h1M52 65h1M52 66h1"/>
<path stroke="#f9ede6" d="M35 0h2M37 2h1M39 2h1M39 3h1M43 3h1M41 4h2M82 4h1M45 5h3M50 6h1M51 7h1M82 7h1M53 8h1M82 8h1M55 9h1M58 10h1M81 11h1M81 12h1M61 14h1M62 15h1M80 15h1M63 16h1M64 17h1M79 17h1M65 18h1M78 18h1M66 19h2M76 19h2M67 20h3M74 20h2M77 20h1M70 21h1M72 21h4M72 22h2M72 35h2M73 36h2M76 36h1M71 37h6M70 38h3M75 38h3M70 39h2M76 39h2M69 40h3M75 40h3M70 41h2M75 41h2M70 42h8M71 43h6M72 44h3M76 44h1M73 45h1M70 55h1M72 55h2M75 55h1M66 56h3M72 56h5M65 57h5M71 57h1M75 57h1M63 58h1M76 58h2M61 59h1M78 59h1M59 60h1M80 60h1M57 61h1M81 61h1M55 62h1M82 62h1M53 65h1M84 65h1"/>
<path stroke="#fae9df" d="M38 0h1M82 0h1M37 1h1M82 1h1M38 2h1M82 2h1M40 3h1M82 3h1M43 4h1M46 4h1M82 5h1M82 6h1M50 7h1M54 8h2M56 9h3M59 11h1M60 12h1M61 13h1M62 14h1M80 14h1M64 16h1M79 16h1M65 17h1M78 17h1M66 18h2M77 18h1M68 19h2M71 19h1M75 19h1M70 20h4M71 21h1M73 38h2M72 39h4M72 40h3M72 41h3M70 57h1M72 57h3M64 58h2M68 58h1M75 58h1M62 59h1M60 60h1M79 60h1M58 61h1M56 62h1M54 64h1M53 66h1M84 66h1"/>
<path stroke="#fbe5d9" d="M39 0h1M40 1h1M41 2h2M45 3h1M47 3h1M48 5h1M52 7h1M57 8h1M81 8h1M81 9h1M59 10h1M81 10h1M60 11h1M61 12h1M80 12h1M80 13h1M63 14h1M63 15h1M79 15h1M78 16h1M66 17h1M77 17h1M68 18h1M75 18h2M70 19h1M72 19h3M66 58h2M69 58h6M63 59h1M76 59h2M61 60h1M59 61h1M80 61h1M57 62h1M81 62h1M55 63h1M82 63h1M83 64h1M54 65h1"/>
<path stroke="#fce1d2" d="M38 1h2M43 2h1M41 3h2M44 3h1M49 6h1M53 6h1M53 7h1M60 10h1M62 13h1M79 14h1M64 15h1M78 15h1M65 16h1M67 17h1M76 17h1M69 18h3M74 18h1M64 59h2M75 59h1M62 60h1M78 60h1M60 61h1M55 64h1M83 65h1M54 66h1"/>
<path stroke="#fcddcb" d="M40 0h1M42 1h1M44 1h1M40 2h1M45 2h1M45 4h1M48 4h1M49 5h1M55 7h1M81 7h1M56 8h1M59 9h1M61 11h1M80 11h1M62 12h1M79 13h1M66 16h1M77 16h1M68 17h1M75 17h1M72 18h2M66 59h9M63 60h1M77 60h1M79 61h1M58 62h1M56 63h1"/>
<path stroke="#fcd8c3" d="M81 0h1M45 1h1M81 1h1M46 2h2M81 2h1M48 3h1M81 3h1M47 4h1M50 4h2M81 4h1M51 5h1M81 5h1M51 6h1M81 6h1M58 8h1M61 10h1M80 10h1M79 12h1M63 13h1M64 14h1M65 15h1M67 16h1M69 17h1M73 17h2M61 61h1M78 61h1M59 62h1M80 62h1M57 63h1M82 64h1M55 65h1M83 66h1"/>
<path stroke="#fbd0b9" d="M41 1h1M44 2h1M49 3h2M53 5h1M52 6h1M54 7h1M60 9h2M80 9h1M62 11h1M63 12h1M64 13h1M65 14h1M78 14h1M66 15h1M77 15h1M76 16h1M70 17h3M64 60h1M76 60h1M81 63h1M56 64h1"/>
<path stroke="#fac9b0" d="M47 0h1M51 2h1M46 3h1M52 4h1M54 4h1M50 5h1M52 5h1M55 6h2M56 7h1M59 8h2M80 8h1M62 10h1M79 11h1M78 13h1M68 16h1M75 16h1M65 60h2M68 60h1M73 60h1M75 60h1M62 61h1M58 63h1M55 66h1"/>
<path stroke="#f9c1a6" d="M41 0h1M44 0h1M46 0h1M48 0h1M52 0h1M47 1h1M50 1h1M49 2h2M49 4h1M54 6h1M57 6h1M59 7h1M80 7h1M63 11h1M64 12h1M65 13h1M77 14h1M76 15h1M69 16h1M74 16h1M67 60h1M69 60h4M74 60h1M63 61h1M77 61h1M60 62h1M79 62h1M57 64h1M56 65h1M82 65h1"/>
<path stroke="#f7ba9c" d="M42 0h1M50 0h1M43 1h1M46 1h1M54 1h1M51 3h2M80 6h1M57 7h2M60 7h1M78 12h1M66 14h1M67 15h1M75 15h1M70 16h4M80 63h1M81 64h1"/>
<path stroke="#f6b293" d="M43 0h1M45 0h1M49 0h1M51 0h1M80 0h1M52 1h2M80 1h1M48 2h1M55 3h1M80 3h1M53 4h1M80 4h1M54 5h1M80 5h1M58 6h1M61 7h1M62 9h1M79 9h1M63 10h1M79 10h1M77 13h1M76 14h1M68 15h1M64 61h1M76 61h1M61 62h1M78 62h1M59 63h1M56 66h1M82 66h1"/>
<path stroke="#f5aa89" d="M48 1h2M56 1h1M52 2h1M55 2h1M80 2h1M55 5h2M60 6h1M61 8h1M64 11h1M67 14h1M65 61h1M75 61h1M58 64h1"/>
<path stroke="#f3a280" d="M53 0h1M55 0h2M53 2h2M57 2h1M53 3h1M56 3h1M56 4h1M62 8h1M79 8h1M78 11h1M65 12h1M77 12h1M66 13h1M69 15h1M74 15h1M66 61h3M70 61h1M73 61h2M62 62h1M77 62h1M79 63h1M57 65h1M81 65h1"/>
<path stroke="#ef9878" d="M54 0h1M51 1h1M54 3h1M55 4h1M57 4h3M57 5h2M59 6h1M79 7h1M63 9h1M64 10h1M78 10h1M76 13h1M68 14h1M75 14h1M70 15h2M73 15h1M69 61h1M71 61h2M60 63h1M80 64h1"/>
<path stroke="#ea8f71" d="M57 3h1M60 5h1M79 6h1M65 11h1M67 13h1M74 14h1M72 15h1M57 66h1"/>
<path stroke="#e68569" d="M57 0h1M55 1h1M58 1h1M56 2h1M60 4h1M79 5h1M61 6h1M62 7h1M63 8h1M78 9h1M77 11h1M66 12h1M75 13h1M63 62h1M76 62h1M78 63h1M81 66h1"/>
<path stroke="#e27b62" d="M79 0h1M57 1h1M79 1h1M58 2h1M79 2h1M58 3h1M79 3h1M79 4h1M59 5h1M78 8h1M64 9h1M76 12h1M68 13h1M69 14h3M64 62h1M61 63h1M59 64h1M58 65h1"/>
<path stroke="#de715a" d="M65 10h1M77 10h1M67 12h1M72 14h2M65 62h1M75 62h1"/>
<path stroke="#d96853" d="M71 2h1M59 3h1M69 3h1M61 5h1M62 6h1M78 6h1M78 7h1M66 11h1M76 11h1M69 13h1M74 13h1M66 62h9M79 64h1M80 65h1"/>
<path stroke="#d55e4c" d="M65 0h1M71 0h2M68 2h1M65 3h3M71 3h1M61 4h1M65 4h1M68 5h1M63 7h1M64 8h1M77 9h1M68 12h1M75 12h1M70 13h2M73 13h1M62 63h1M77 63h1M60 64h1M58 66h1"/>
<path stroke="#d05447" d="M58 0h1M59 1h1M59 2h2M60 3h1M78 3h1M78 4h1M78 5h1M65 9h1M72 13h1M59 65h1"/>
<path stroke="#cb4a42" d="M59 0h1M78 0h1M78 1h1M78 2h1M62 5h1M63 6h1M77 8h1M66 10h1M76 10h1M67 11h1M69 12h1M74 12h1M63 63h1M76 63h1M78 64h1M80 66h1"/>
<path stroke="#c6403e" d="M60 1h1M61 2h1M62 4h1M64 7h1M77 7h1M65 8h1M68 11h1M75 11h1M70 12h4M64 63h1M61 64h1M79 65h1"/>
<path stroke="#c13539" d="M60 0h1M61 1h1M61 3h1M63 5h1M77 6h1M76 9h1M65 63h1M70 63h1M74 63h2M59 66h1"/>
<path stroke="#bc2b34" d="M62 3h1M64 6h1M76 8h1M66 9h1M67 10h1M75 10h1M69 11h2M74 11h1M66 63h4M71 63h3M77 64h1M60 65h1"/>
<path stroke="#b7212f" d="M77 0h1M77 2h1M77 3h1M77 4h1M77 5h1M65 7h1M68 10h1M71 11h3M62 64h1M79 66h1"/>
<path stroke="#b1182b" d="M77 1h1M62 2h1M63 4h1M64 5h1M65 6h1M76 7h1M66 8h1M67 9h1M75 9h1M69 10h2M74 10h1M76 64h1M78 65h1"/>
<path stroke="#a61429" d="M62 1h1M63 2h1M63 3h1M76 6h1M66 7h1M75 8h1M68 9h1M71 10h3M63 64h1M71 64h1M75 64h1M61 65h1M60 66h1"/>
<path stroke="#9c1127" d="M61 0h2M76 0h1M76 1h1M76 2h1M64 4h1M76 4h1M65 5h1M76 5h1M66 6h1M75 7h1M67 8h2M69 9h6M64 64h7M73 64h1M77 65h1"/>
<path stroke="#910e26" d="M63 0h1M63 1h1M64 2h1M64 3h1M76 3h1M67 6h1M75 6h1M67 7h1M69 8h4M74 8h1M72 64h1M74 64h1M62 65h1M78 66h1"/>
<path stroke="#870a24" d="M64 0h1M69 0h1M75 0h1M64 1h2M75 1h1M65 2h1M70 3h1M74 3h2M66 4h2M75 4h1M66 5h2M69 5h1M71 5h1M74 5h2M68 6h2M71 6h2M74 6h1M68 7h7M73 8h1M63 65h6M70 65h1M73 65h4M61 66h2M77 66h1"/>
<path stroke="#7c0722" d="M66 0h3M73 0h2M67 1h3M72 1h3M66 2h1M69 2h2M72 2h4M72 3h2M68 4h7M70 5h1M73 5h1M70 6h1M73 6h1M69 65h1M71 65h2M63 66h9M73 66h4"/>
<path stroke="#720321" d="M72 66h1"/>
</g></g>
<clipPath id="ka2"><rect x="218.8" y="449.6" width="685.1" height="394.6"/></clipPath>
<g clip-path="url(#ka2)"><g transform="translate(218 452) scale(6 6)" fill="none" stroke-width="1.04" shape-rendering="crispEdges">
<path stroke="#053061" d="M62 62h1M56 63h1M58 63h6M65 63h2M56 64h13M55 65h8M64 65h3"/>
<path stroke="#09386c" d="M55 61h1M58 61h5M54 62h8M63 62h1M54 63h2M57 63h1M54 64h2M69 64h1M54 65h1M68 65h3"/>
<path stroke="#0d3f76" d="M54 61h1M56 61h2M63 61h1M53 62h1M65 62h2M53 63h1M68 63h1M71 65h1"/>
<path stroke="#114781" d="M54 60h2M58 60h4M53 61h1M64 61h1M52 62h1M67 62h1M69 63h1M53 64h1M71 64h1M72 65h1"/>
<path stroke="#154e8b" d="M53 60h1M56 60h2M62 60h1M52 61h1M65 61h1M52 63h1M70 63h1M53 65h1"/>
<path stroke="#195696" d="M63 60h1M68 62h1"/>
<path stroke="#1d5ea0" d="M52 60h1M64 60h1M51 61h1M66 61h1M51 62h1M51 63h1M52 64h1"/>
<path stroke="#2165ab" d="M60 13h1M58 59h2M65 60h1"/>
<path stroke="#256caf" d="M59 12h1M58 13h2M61 13h1M54 59h4M61 59h1M51 60h1M50 61h1M50 62h1M71 63h1M51 64h1M72 64h1M52 65h1M73 65h1"/>
<path stroke="#2a72b2" d="M56 12h3M60 12h1M57 13h1M62 13h1M61 14h1M60 59h1M62 59h2M66 60h1M67 61h1M69 62h1M50 63h1"/>
<path stroke="#2f78b5" d="M56 11h3M55 12h1M55 13h2M63 13h1M59 14h2M62 14h3M53 59h1M50 60h1M51 65h1"/>
<path stroke="#347fb9" d="M56 10h1M54 11h2M59 11h1M54 12h1M61 12h1M64 13h1M58 14h1M64 15h1M52 59h1M64 59h1M49 62h1"/>
<path stroke="#3885bc" d="M54 10h2M57 10h1M53 11h1M60 11h1M54 13h1M57 14h1M65 14h1M61 15h3M65 15h1M51 59h1M65 59h1M49 61h1M49 63h1M50 64h1"/>
<path stroke="#3d8bbf" d="M53 10h1M58 10h1M52 11h1M52 12h2M62 12h1M53 13h1M65 13h1M56 14h1M59 15h2M63 16h3M48 34h6M50 35h6M53 36h3M50 59h1M49 60h1M48 61h1M68 61h1"/>
<path stroke="#4292c2" d="M52 9h1M54 9h1M56 9h2M59 10h1M52 13h1M55 14h1M66 14h1M66 15h1M62 16h1M66 16h1M46 34h2M54 34h1M47 35h1M49 35h1M56 35h1M51 36h2M56 36h2M55 37h6M59 58h1M48 60h1M67 60h1M48 62h1M48 63h1M49 64h1M50 65h1"/>
<path stroke="#4c99c6" d="M57 1h1M52 8h1M53 9h1M55 9h1M52 10h1M51 12h1M63 12h1M54 14h1M58 15h1M61 16h1M47 33h1M50 33h1M52 33h1M44 34h2M55 34h2M45 35h2M48 35h1M57 35h2M49 36h2M58 36h2M51 37h4M61 37h2M56 38h1M58 38h3M62 38h2M53 58h6M60 58h2M49 59h1M66 59h1M47 60h1M47 61h1M72 63h1"/>
<path stroke="#57a0ca" d="M58 9h1M51 10h1M60 10h1M51 11h1M61 11h1M51 13h1M66 13h1M53 14h1M56 15h2M60 16h1M64 17h1M44 33h3M48 33h2M51 33h1M53 33h2M42 34h2M57 34h1M43 35h2M59 35h1M47 36h2M60 36h3M63 37h2M53 38h3M57 38h1M61 38h1M52 58h1M62 58h2M47 62h1M47 63h1M48 64h1M73 64h1M49 65h1M74 65h1"/>
<path stroke="#62a7ce" d="M51 8h1M49 9h1M59 9h1M50 10h1M50 11h1M50 12h1M52 14h1M55 15h1M59 16h1M67 16h1M62 17h2M65 17h2M42 33h2M55 33h1M40 34h2M42 35h1M60 35h1M46 36h1M63 36h1M49 37h2M65 37h1M64 38h1M51 58h1M47 59h2M46 60h1M46 62h1M71 62h1"/>
<path stroke="#6daed1" d="M52 7h1M54 7h1M53 8h1M55 8h2M58 8h1M51 9h1M49 10h1M64 12h1M50 13h1M61 17h1M67 17h1M39 33h1M41 33h1M56 33h1M39 34h1M58 34h1M40 35h1M61 35h1M44 36h2M64 36h1M48 37h1M51 38h2M65 38h2M57 39h1M60 39h4M49 58h2M64 58h1M46 59h1M44 60h2M45 61h2M69 61h1M45 62h1M46 63h1M48 65h1"/>
<path stroke="#78b5d5" d="M53 7h1M57 7h1M54 8h1M57 8h1M50 9h1M48 11h2M49 12h1M49 13h1M51 14h1M54 15h1M67 15h1M57 16h2M45 32h1M50 32h2M37 33h1M40 33h1M57 33h1M37 34h2M59 34h1M38 35h2M41 35h1M62 35h1M42 36h2M65 36h1M47 37h1M66 37h2M50 38h1M67 38h1M54 39h3M58 39h2M65 58h1M45 59h1M67 59h1M68 60h1M44 61h1M44 62h1M45 63h1M46 64h2M47 65h1"/>
<path stroke="#84bcd9" d="M76 0h1M51 7h1M55 7h1M59 8h1M48 9h1M60 9h1M48 10h1M65 12h1M50 14h1M53 15h1M56 16h1M68 16h1M59 17h2M63 18h3M42 32h3M46 32h4M52 32h2M38 33h1M58 33h1M34 34h3M60 34h1M37 35h1M63 35h1M41 36h1M45 37h2M68 37h1M48 38h2M68 38h1M53 39h1M64 39h2M48 58h1M44 59h1M43 60h1M43 61h1M43 62h1M45 64h1M46 65h1"/>
<path stroke="#8fc3dd" d="M74 0h1M77 3h1M74 4h1M77 4h1M54 6h2M56 7h1M58 7h1M46 8h5M47 10h1M61 10h1M62 11h1M48 12h1M67 14h1M52 15h1M55 16h1M58 17h1M68 17h1M61 18h2M39 32h3M54 32h2M34 33h3M59 33h1M61 34h1M36 35h1M38 36h1M40 36h1M66 36h1M43 37h2M69 37h1M47 38h1M69 38h1M50 39h3M66 39h2M53 57h6M45 58h1M47 58h1M66 58h1M43 59h1M42 60h1M42 61h1M42 62h1M43 63h2M44 64h1M45 65h1"/>
<path stroke="#98c8e0" d="M75 1h1M52 5h1M74 5h1M50 6h1M53 6h1M56 6h1M50 7h1M46 9h2M46 10h1M47 12h1M48 13h1M49 14h1M51 15h1M68 15h1M54 16h1M69 16h1M57 17h1M66 18h2M37 32h2M56 32h2M33 33h1M33 34h1M62 34h1M35 35h1M64 35h1M39 36h1M67 36h1M42 37h1M49 39h1M55 40h1M58 40h3M62 40h1M51 57h1M59 57h4M46 58h1M40 60h2M40 61h2M41 62h1M41 63h2M43 64h1M44 65h1"/>
<path stroke="#a1cde2" d="M54 4h1M54 5h2M49 6h1M51 6h2M49 7h1M59 7h1M60 8h1M45 10h1M46 11h2M46 12h1M66 12h1M46 13h2M67 13h1M48 14h1M50 15h1M52 16h2M56 17h1M69 17h1M58 18h2M68 18h1M40 31h1M42 31h5M48 31h2M34 32h3M31 33h2M60 33h1M31 34h2M33 35h2M65 35h1M37 36h1M68 36h1M40 37h2M44 38h3M70 38h1M48 39h1M68 39h1M53 40h2M56 40h2M61 40h1M63 40h3M48 57h1M50 57h1M52 57h1M44 58h1M42 59h1M40 62h1M72 62h1M40 63h1M41 64h2"/>
<path stroke="#aad1e5" d="M49 4h2M55 4h1M58 5h1M47 6h1M57 6h2M46 7h3M43 10h2M44 11h2M63 11h1M47 14h1M48 15h2M51 16h1M54 17h2M57 18h1M60 18h1M62 19h1M65 19h1M36 31h1M39 31h1M47 31h1M50 31h5M32 32h2M58 32h2M61 33h2M63 34h1M32 35h1M66 35h1M35 36h2M69 36h1M38 37h2M70 37h1M41 38h1M43 38h1M47 39h1M69 39h1M51 40h2M66 40h2M47 57h1M49 57h1M63 57h2M42 58h2M67 58h1M39 59h3M39 60h1M37 61h3M70 61h1M37 62h3M39 63h1M73 63h1M39 64h2M42 65h2M75 65h1"/>
<path stroke="#b3d6e7" d="M51 2h1M50 3h1M55 3h1M52 4h1M51 5h1M53 5h1M46 6h1M48 6h1M45 7h1M44 8h1M43 9h3M44 12h2M45 13h1M45 14h2M50 16h1M53 17h1M54 18h3M60 19h2M63 19h2M66 19h1M33 30h1M45 30h1M33 31h3M37 31h2M41 31h1M55 31h1M31 32h1M60 32h1M29 33h2M29 34h2M64 34h1M30 35h2M67 35h1M32 36h3M37 37h1M40 38h1M42 38h1M45 39h2M48 40h3M68 40h1M52 56h7M43 57h1M46 57h1M65 57h1M40 58h2M68 59h1M36 60h3M36 61h1M35 62h2M37 63h2M37 64h2M74 64h1M39 65h1M41 65h1"/>
<path stroke="#bcdaea" d="M48 1h1M50 1h2M49 3h1M51 3h1M46 4h2M56 4h1M47 5h1M50 5h1M56 5h2M59 6h1M44 7h1M60 7h1M42 8h2M45 8h1M42 10h1M43 11h1M42 12h2M42 13h3M47 15h1M69 15h1M48 16h2M51 17h2M70 17h1M69 18h1M56 19h1M58 19h2M34 30h11M46 30h2M30 31h3M56 31h2M29 32h2M61 32h1M63 33h1M27 34h2M65 34h1M29 35h1M68 35h1M31 36h1M70 36h1M35 37h2M71 37h1M37 38h3M71 38h1M43 39h2M70 39h1M47 40h1M69 40h1M54 41h1M57 41h3M61 41h5M67 41h1M48 56h1M50 56h2M59 56h3M42 57h1M44 57h2M66 57h1M38 58h2M36 59h3M34 60h2M34 61h2M34 62h1M33 63h1M35 63h2M35 64h2M35 65h1M37 65h2M40 65h1"/>
<path stroke="#c5dfec" d="M55 1h1M46 2h1M52 2h3M48 3h1M52 3h1M54 3h1M56 3h1M51 4h1M53 4h1M44 5h1M49 5h1M43 6h2M41 7h1M43 7h1M41 8h1M39 9h1M41 9h2M61 9h1M40 10h2M41 11h2M64 11h1M41 12h1M43 14h2M68 14h1M46 15h1M47 16h1M70 16h1M50 17h1M51 18h3M54 19h2M57 19h1M67 19h2M61 20h1M64 20h1M33 28h1M34 29h1M37 29h1M40 29h2M43 29h2M31 30h2M48 30h4M53 30h2M28 31h2M58 31h2M28 32h1M62 32h2M27 33h2M64 33h1M66 34h1M26 35h3M29 36h2M33 37h2M36 38h1M39 39h4M44 40h1M46 40h1M50 41h4M55 41h2M60 41h1M66 41h1M51 42h1M56 42h1M58 42h1M46 55h3M50 55h1M52 55h1M54 55h4M59 55h1M42 56h6M49 56h1M62 56h3M40 57h2M35 58h1M37 58h1M32 59h4M31 60h3M69 60h1M29 61h5M31 62h3M31 63h1M34 63h1M33 64h2M33 65h2M36 65h1"/>
<path stroke="#cde3ef" d="M48 0h6M56 1h1M47 2h1M49 2h2M56 2h1M43 3h1M53 3h1M41 4h1M43 4h3M48 4h1M43 5h1M45 5h2M48 5h1M41 6h2M45 6h1M39 7h2M42 7h1M38 8h3M38 9h1M40 9h1M38 10h2M62 10h1M39 11h2M40 12h1M41 13h1M42 14h1M43 15h3M45 16h2M47 17h3M48 18h3M70 18h1M48 19h1M50 19h4M53 20h1M55 20h6M62 20h2M65 20h1M54 21h1M34 27h1M36 27h1M43 27h2M46 27h1M32 28h1M34 28h5M40 28h2M43 28h2M46 28h1M48 28h1M28 29h6M35 29h2M38 29h2M42 29h1M45 29h3M49 29h3M26 30h1M29 30h2M52 30h1M55 30h1M26 31h2M60 31h1M26 32h2M25 33h2M65 33h1M25 34h2M24 35h1M69 35h1M27 36h2M71 36h1M28 37h5M33 38h3M72 38h1M36 39h3M71 39h1M37 40h7M45 40h1M47 41h3M68 41h1M42 42h1M50 42h1M52 42h4M57 42h1M59 42h3M63 42h2M53 43h1M57 43h1M46 54h1M52 54h5M42 55h4M49 55h1M51 55h1M53 55h1M58 55h1M60 55h2M38 56h4M65 56h1M35 57h5M67 57h1M31 58h1M33 58h2M36 58h1M30 59h2M28 60h3M26 61h1M29 62h2M15 63h1M24 63h2M28 63h3M32 63h1M16 64h1M25 64h1M29 64h4M7 65h1M18 65h1M26 65h1M28 65h5"/>
<path stroke="#d4e7f1" d="M32 0h1M42 0h1M45 0h3M54 0h1M28 1h1M38 1h1M42 1h1M44 1h2M47 1h1M49 1h1M6 2h1M24 2h1M39 2h6M48 2h1M39 3h1M42 3h1M44 3h2M47 3h1M16 4h2M21 4h1M28 4h1M30 4h2M40 4h1M42 4h1M24 5h1M28 5h3M35 5h1M40 5h3M59 5h1M14 6h1M23 6h1M32 6h1M36 6h5M21 7h1M25 7h1M37 7h2M25 8h1M27 8h1M29 8h1M31 8h1M35 8h1M37 8h1M16 9h1M20 9h2M30 9h1M33 9h1M36 9h2M30 10h1M32 10h3M36 10h2M22 11h1M28 11h1M31 11h1M34 11h2M37 11h2M2 12h1M6 12h2M23 12h2M26 12h1M35 12h1M38 12h2M20 13h1M29 13h1M32 13h1M36 13h1M38 13h3M27 14h2M38 14h4M40 15h3M20 16h2M41 16h1M43 16h2M14 17h1M17 17h1M46 17h1M30 18h1M35 18h1M42 18h1M46 18h2M19 19h1M36 19h1M43 19h1M45 19h1M47 19h1M49 19h1M69 19h1M27 20h1M30 20h2M39 20h1M46 20h2M49 20h1M51 20h2M54 20h1M66 20h1M29 21h1M39 21h1M50 21h2M53 21h1M55 21h2M58 21h1M61 21h3M47 22h1M50 22h1M52 22h3M56 22h1M58 22h1M60 22h2M36 23h1M52 23h2M56 23h1M30 24h2M34 24h1M37 24h1M42 24h2M47 24h1M20 25h1M32 25h2M43 25h2M48 25h1M50 25h2M55 25h1M13 26h2M19 26h1M27 26h1M30 26h1M33 26h1M35 26h1M37 26h6M44 26h6M25 27h2M28 27h6M35 27h1M37 27h6M45 27h1M47 27h6M55 27h1M27 28h5M39 28h1M42 28h1M45 28h1M47 28h1M49 28h5M55 28h1M8 29h1M13 29h1M23 29h5M48 29h1M52 29h3M56 29h2M20 30h1M25 30h1M27 30h2M56 30h4M10 31h1M17 31h3M22 31h1M24 31h2M61 31h2M14 32h2M17 32h1M20 32h2M23 32h3M64 32h2M12 33h1M14 33h3M19 33h2M22 33h2M66 33h1M13 34h1M15 34h1M19 34h5M67 34h1M11 35h1M13 35h1M15 35h3M19 35h1M21 35h2M25 35h1M5 36h2M10 36h1M15 36h1M19 36h3M23 36h4M12 37h1M17 37h1M23 37h5M72 37h1M16 38h2M20 38h1M23 38h2M26 38h7M15 39h1M18 39h1M27 39h2M31 39h2M34 39h2M13 40h1M17 40h1M19 40h1M24 40h1M26 40h1M32 40h5M70 40h2M13 41h1M25 41h1M34 41h1M36 41h1M40 41h7M69 41h1M29 42h1M36 42h1M47 42h3M62 42h1M65 42h3M24 43h1M28 43h1M35 43h1M49 43h4M54 43h3M58 43h2M61 43h3M66 43h1M51 44h1M53 44h1M57 44h1M46 49h1M42 53h1M46 53h1M48 53h3M52 53h1M54 53h1M56 53h1M35 54h1M39 54h3M43 54h3M47 54h5M57 54h4M12 55h1M32 55h1M34 55h1M37 55h5M62 55h2M27 56h1M33 56h1M35 56h3M11 57h1M22 57h1M24 57h1M28 57h1M32 57h3M19 58h1M22 58h1M25 58h6M32 58h1M68 58h1M13 59h1M17 59h2M20 59h4M26 59h4M13 60h1M17 60h2M20 60h1M22 60h6M2 61h1M10 61h3M14 61h2M18 61h4M23 61h3M27 61h2M0 62h1M3 62h2M7 62h1M12 62h6M20 62h9M3 63h1M5 63h1M7 63h2M11 63h4M17 63h3M21 63h1M23 63h1M26 63h2M0 64h7M8 64h8M17 64h4M22 64h3M26 64h3M0 65h7M9 65h8M19 65h6M27 65h1"/>
<path stroke="#dae9f2" d="M0 0h3M4 0h2M7 0h3M12 0h2M15 0h2M18 0h13M33 0h2M36 0h6M43 0h2M55 0h2M0 1h3M4 1h2M7 1h2M12 1h1M14 1h6M21 1h1M23 1h5M32 1h6M39 1h3M43 1h1M46 1h1M52 1h3M2 2h4M8 2h16M25 2h4M30 2h9M45 2h1M55 2h1M3 3h1M5 3h2M8 3h1M10 3h4M16 3h6M23 3h11M35 3h4M40 3h2M46 3h1M57 3h1M0 4h2M3 4h1M5 4h3M10 4h6M18 4h3M22 4h1M24 4h4M29 4h1M32 4h8M59 4h1M1 5h3M5 5h4M10 5h14M25 5h3M31 5h4M36 5h4M0 6h4M5 6h2M8 6h1M11 6h3M15 6h8M24 6h2M27 6h5M33 6h3M60 6h1M0 7h1M2 7h1M4 7h3M9 7h12M22 7h2M26 7h2M29 7h8M0 8h20M21 8h3M26 8h1M28 8h1M30 8h1M32 8h3M36 8h1M0 9h4M6 9h6M13 9h3M17 9h3M22 9h8M31 9h2M34 9h2M0 10h1M2 10h4M7 10h1M9 10h21M31 10h1M35 10h1M0 11h2M3 11h13M17 11h5M23 11h4M29 11h2M32 11h2M36 11h1M1 12h1M4 12h2M8 12h7M16 12h7M25 12h1M28 12h2M31 12h4M36 12h2M0 13h8M9 13h11M21 13h8M30 13h2M33 13h3M37 13h1M0 14h5M7 14h5M13 14h6M20 14h7M29 14h1M31 14h7M1 15h2M4 15h4M9 15h5M16 15h11M28 15h12M3 16h1M5 16h2M8 16h3M12 16h6M19 16h1M22 16h5M28 16h4M33 16h8M42 16h1M0 17h3M4 17h1M6 17h8M16 17h1M18 17h28M71 17h1M1 18h1M5 18h5M13 18h10M24 18h6M32 18h3M36 18h6M43 18h3M0 19h1M3 19h4M9 19h10M20 19h16M37 19h6M44 19h1M46 19h1M70 19h1M0 20h1M2 20h5M8 20h3M13 20h5M19 20h8M28 20h2M32 20h7M40 20h6M48 20h1M50 20h1M67 20h1M0 21h5M6 21h2M9 21h11M21 21h8M31 21h3M35 21h4M40 21h10M52 21h1M57 21h1M59 21h2M64 21h2M0 22h3M4 22h1M6 22h6M13 22h4M19 22h20M41 22h6M48 22h2M51 22h1M55 22h1M57 22h1M59 22h1M62 22h2M0 23h1M3 23h2M6 23h2M9 23h2M12 23h3M16 23h1M18 23h4M23 23h8M32 23h4M37 23h15M54 23h2M57 23h5M64 23h1M1 24h1M3 24h6M10 24h3M14 24h1M17 24h2M20 24h1M22 24h7M32 24h2M35 24h2M38 24h4M44 24h3M48 24h13M62 24h1M3 25h1M5 25h1M8 25h5M14 25h6M21 25h5M27 25h1M29 25h3M34 25h9M45 25h3M49 25h1M52 25h3M56 25h3M0 26h10M11 26h1M15 26h4M20 26h7M28 26h2M31 26h2M34 26h1M36 26h1M43 26h1M50 26h6M0 27h1M3 27h1M6 27h1M9 27h2M12 27h3M17 27h8M27 27h1M53 27h2M56 27h3M1 28h4M7 28h1M9 28h18M54 28h1M56 28h2M59 28h1M0 29h4M5 29h3M9 29h4M14 29h6M21 29h2M55 29h1M58 29h2M0 30h1M2 30h3M6 30h12M19 30h1M21 30h4M60 30h2M0 31h4M5 31h5M11 31h6M20 31h2M23 31h1M63 31h2M0 32h14M16 32h1M18 32h2M22 32h1M66 32h1M0 33h12M13 33h1M17 33h2M21 33h1M24 33h1M1 34h12M14 34h1M16 34h3M24 34h1M68 34h2M0 35h4M5 35h6M12 35h1M14 35h1M18 35h1M20 35h1M23 35h1M70 35h1M1 36h4M7 36h3M11 36h4M16 36h3M22 36h1M72 36h1M0 37h5M6 37h6M13 37h4M18 37h5M1 38h8M10 38h6M18 38h2M21 38h2M25 38h1M0 39h1M3 39h2M6 39h9M16 39h2M19 39h8M29 39h2M33 39h1M72 39h1M1 40h12M14 40h3M18 40h1M20 40h4M25 40h1M27 40h5M0 41h9M10 41h3M14 41h3M18 41h4M23 41h1M26 41h8M35 41h1M37 41h3M0 42h4M5 42h13M19 42h10M30 42h2M33 42h3M37 42h5M43 42h4M68 42h1M1 43h4M6 43h12M19 43h2M22 43h1M25 43h3M29 43h6M36 43h6M43 43h6M60 43h1M64 43h2M67 43h1M0 44h1M2 44h1M4 44h1M6 44h1M9 44h1M11 44h1M14 44h5M20 44h2M24 44h7M33 44h3M37 44h14M52 44h1M54 44h3M58 44h5M0 45h2M3 45h1M5 45h4M10 45h7M18 45h1M21 45h6M28 45h2M31 45h5M38 45h3M42 45h18M1 46h3M5 46h1M8 46h1M10 46h4M15 46h3M19 46h2M24 46h1M26 46h4M32 46h5M38 46h2M41 46h4M47 46h6M54 46h3M58 46h2M0 47h1M2 47h1M4 47h1M6 47h3M10 47h5M18 47h1M21 47h1M23 47h4M28 47h1M30 47h2M34 47h2M37 47h1M41 47h6M49 47h3M53 47h3M2 48h4M7 48h2M10 48h3M14 48h1M16 48h3M21 48h2M25 48h1M27 48h6M35 48h5M42 48h3M46 48h1M50 48h2M1 49h3M8 49h2M12 49h2M15 49h1M18 49h2M22 49h1M24 49h1M26 49h18M47 49h3M51 49h2M54 49h1M0 50h1M4 50h1M6 50h3M10 50h4M15 50h4M22 50h1M24 50h2M28 50h1M31 50h3M35 50h4M41 50h1M45 50h1M47 50h1M49 50h4M2 51h4M7 51h2M10 51h1M12 51h1M14 51h1M16 51h3M23 51h1M26 51h14M41 51h1M44 51h2M48 51h1M51 51h1M54 51h1M0 52h4M5 52h4M10 52h5M16 52h1M18 52h1M20 52h10M32 52h4M37 52h1M39 52h1M41 52h6M48 52h6M0 53h4M6 53h10M17 53h7M27 53h2M30 53h6M37 53h5M43 53h3M47 53h1M51 53h1M53 53h1M55 53h1M57 53h1M59 53h1M0 54h1M2 54h3M6 54h1M8 54h1M10 54h1M12 54h2M15 54h1M17 54h18M36 54h3M42 54h1M61 54h4M0 55h1M3 55h1M5 55h5M11 55h1M13 55h14M28 55h2M33 55h1M35 55h2M64 55h2M1 56h1M4 56h2M7 56h20M28 56h3M32 56h1M34 56h1M1 57h10M12 57h10M23 57h1M25 57h3M29 57h3M1 58h2M4 58h2M7 58h2M10 58h5M16 58h3M20 58h2M23 58h2M0 59h4M5 59h8M14 59h3M19 59h1M24 59h2M0 60h13M14 60h3M19 60h1M21 60h1M1 61h1M3 61h7M13 61h1M16 61h2M22 61h1M71 61h1M1 62h2M5 62h2M8 62h4M18 62h2M0 63h3M4 63h1M6 63h1M9 63h2M16 63h1M20 63h1M22 63h1M7 64h1M21 64h1M8 65h1M17 65h1M25 65h1"/>
<path stroke="#dfecf3" d="M3 0h1M6 0h1M10 0h2M14 0h1M17 0h1M31 0h1M35 0h1M57 0h1M3 1h1M6 1h1M9 1h3M13 1h1M20 1h1M22 1h1M29 1h3M0 2h2M7 2h1M29 2h1M0 3h3M4 3h1M7 3h1M9 3h1M14 3h2M22 3h1M34 3h1M2 4h1M4 4h1M8 4h2M23 4h1M58 4h1M0 5h1M4 5h1M9 5h1M4 6h1M7 6h1M9 6h2M26 6h1M1 7h1M3 7h1M7 7h2M24 7h1M28 7h1M20 8h1M24 8h1M4 9h2M12 9h1M1 10h1M6 10h1M8 10h1M2 11h1M16 11h1M27 11h1M0 12h1M3 12h1M15 12h1M27 12h1M30 12h1M8 13h1M68 13h1M5 14h2M12 14h1M19 14h1M30 14h1M0 15h1M3 15h1M8 15h1M14 15h2M27 15h1M0 16h3M4 16h1M7 16h1M11 16h1M18 16h1M27 16h1M32 16h1M71 16h1M3 17h1M5 17h1M15 17h1M0 18h1M2 18h3M10 18h3M23 18h1M31 18h1M1 19h2M7 19h2M1 20h1M7 20h1M11 20h2M18 20h1M68 20h2M5 21h1M8 21h1M20 21h1M30 21h1M34 21h1M66 21h1M3 22h1M5 22h1M12 22h1M17 22h2M39 22h2M65 22h1M1 23h2M5 23h1M8 23h1M11 23h1M15 23h1M17 23h1M22 23h1M31 23h1M62 23h2M0 24h1M2 24h1M9 24h1M13 24h1M15 24h2M19 24h1M21 24h1M29 24h1M61 24h1M63 24h1M0 25h3M4 25h1M6 25h2M13 25h1M26 25h1M28 25h1M59 25h4M10 26h1M12 26h1M56 26h7M1 27h2M4 27h2M7 27h2M11 27h1M15 27h2M59 27h4M0 28h1M5 28h2M8 28h1M58 28h1M60 28h4M4 29h1M20 29h1M60 29h4M1 30h1M5 30h1M18 30h1M62 30h2M4 31h1M65 31h1M67 32h1M67 33h2M0 34h1M4 35h1M71 35h1M0 36h1M5 37h1M73 37h1M0 38h1M9 38h1M73 38h1M1 39h2M5 39h1M0 40h1M9 41h1M17 41h1M22 41h1M24 41h1M70 41h1M4 42h1M18 42h1M32 42h1M69 42h1M0 43h1M5 43h1M18 43h1M21 43h1M23 43h1M42 43h1M1 44h1M3 44h1M5 44h1M7 44h2M10 44h1M12 44h2M19 44h1M22 44h2M31 44h2M36 44h1M63 44h5M2 45h1M4 45h1M9 45h1M17 45h1M19 45h2M27 45h1M30 45h1M36 45h2M41 45h1M60 45h2M63 45h3M0 46h1M4 46h1M6 46h2M9 46h1M14 46h1M18 46h1M21 46h3M25 46h1M30 46h2M37 46h1M40 46h1M45 46h2M53 46h1M57 46h1M60 46h1M63 46h1M1 47h1M3 47h1M5 47h1M9 47h1M15 47h3M19 47h2M22 47h1M27 47h1M29 47h1M32 47h2M36 47h1M38 47h3M47 47h2M52 47h1M56 47h5M0 48h2M6 48h1M9 48h1M13 48h1M15 48h1M19 48h2M23 48h2M26 48h1M33 48h2M40 48h2M45 48h1M47 48h3M52 48h1M54 48h5M0 49h1M4 49h4M10 49h2M14 49h1M16 49h2M20 49h2M23 49h1M25 49h1M44 49h2M50 49h1M53 49h1M55 49h3M1 50h3M5 50h1M9 50h1M14 50h1M19 50h3M23 50h1M26 50h2M29 50h2M34 50h1M39 50h2M42 50h3M46 50h1M48 50h1M53 50h2M56 50h1M58 50h1M0 51h2M6 51h1M9 51h1M11 51h1M13 51h1M15 51h1M19 51h4M24 51h2M40 51h1M42 51h2M46 51h2M49 51h2M52 51h2M55 51h3M4 52h1M9 52h1M15 52h1M17 52h1M19 52h1M30 52h2M36 52h1M38 52h1M40 52h1M47 52h1M54 52h5M60 52h1M4 53h2M16 53h1M24 53h3M29 53h1M36 53h1M58 53h1M60 53h3M1 54h1M5 54h1M7 54h1M9 54h1M11 54h1M14 54h1M16 54h1M1 55h2M4 55h1M10 55h1M27 55h1M30 55h2M66 55h1M0 56h1M2 56h2M6 56h1M31 56h1M66 56h2M0 57h1M0 58h1M3 58h1M6 58h1M9 58h1M15 58h1M4 59h1M0 61h1"/>
<path stroke="#e4eef4" d="M70 15h1M71 18h1M70 20h1M67 21h2M64 22h1M66 22h2M65 23h2M68 23h1M64 24h3M63 25h3M63 26h2M63 27h3M64 28h2M64 29h2M64 30h2M66 31h2M68 32h1M69 33h1M70 34h1M73 36h1M73 39h1M72 40h1M71 41h1M70 42h1M68 43h2M68 44h1M62 45h1M66 45h2M61 46h2M64 46h2M61 47h3M53 48h1M59 48h6M58 49h5M55 50h1M57 50h1M59 50h4M58 51h6M59 52h1M61 52h4M63 53h4M65 54h2M68 57h1M69 59h1"/>
<path stroke="#eaf1f5" d="M58 0h1M61 8h1M69 14h1M71 19h1M69 21h1M68 22h1M67 23h1M67 24h1M66 25h2M65 26h4M66 27h3M66 28h2M66 29h2M66 30h3M68 31h1M70 32h1M70 33h1M72 35h1M74 37h1M74 38h1M69 44h1M68 45h1M66 46h1M64 47h2M65 48h2M63 49h3M63 50h3M64 51h2M65 52h2M67 53h1M67 54h1M67 55h1M68 56h1"/>
<path stroke="#eff3f6" d="M58 1h1M58 2h1M71 20h1M70 21h1M69 22h2M69 23h2M68 24h2M68 25h2M69 26h1M69 27h1M68 28h1M68 29h3M69 30h1M69 31h2M69 32h1M71 34h1M73 40h1M72 41h1M70 43h1M67 46h2M66 47h3M67 48h1M66 49h2M66 50h1M66 51h2M67 52h1M68 54h1M68 55h1M69 58h1M70 60h1"/>
<path stroke="#f4f6f7" d="M59 1h1M57 2h1M59 2h1M57 4h1M60 5h1M71 15h1M72 17h1M72 18h1M71 21h1M70 24h1M70 25h1M70 26h2M70 27h1M69 28h2M71 29h1M70 30h2M71 31h1M71 32h1M71 33h1M72 34h1M73 35h1M74 36h1M74 39h1M73 41h1M71 42h1M70 44h1M69 45h2M69 46h1M68 48h1M68 49h1M67 50h1M68 52h1M68 53h1M69 57h1M73 62h1M75 64h1M76 65h1"/>
<path stroke="#f7f5f4" d="M59 3h1M72 16h1M72 19h1M72 20h1M71 22h1M71 23h1M71 24h1M71 25h1M71 27h1M71 28h1M72 31h1M72 32h2M72 33h1M73 34h1M74 35h1M75 37h1M75 38h1M75 39h1M74 40h1M72 42h1M71 43h1M69 47h1M68 50h1M68 51h1M69 54h1M69 56h1"/>
<path stroke="#f8f1ed" d="M72 21h1M72 22h1M72 23h1M72 24h1M72 26h1M72 27h1M72 28h1M72 29h1M72 30h1M73 33h1M75 36h1M74 41h1M72 43h1M71 44h1M70 46h1M69 48h1M69 49h1M69 51h1M69 52h1M69 53h1M69 55h1M72 61h1M74 63h1"/>
<path stroke="#f9ede6" d="M70 14h1M73 21h1M73 23h1M72 25h1M73 26h1M73 27h1M73 28h1M73 29h1M73 30h1M73 31h1M74 33h1M74 34h1M75 35h1M76 37h1M76 38h1M76 39h1M75 40h1M73 42h2M73 43h1M72 44h1M71 45h1M70 47h1M70 48h1M69 50h1M70 54h1M70 55h1M70 56h1"/>
<path stroke="#fae9df" d="M73 18h1M73 19h1M73 22h1M73 24h1M73 25h1M74 28h1M74 29h1M74 30h1M74 31h1M74 32h1M75 33h1M75 34h1M76 35h1M76 36h1M77 37h1M71 46h1M70 49h1M70 50h1M70 51h1M70 52h1M70 53h1M70 57h1M70 58h1M70 59h1"/>
<path stroke="#fbe5d9" d="M73 17h1M73 20h1M74 22h1M74 23h1M74 24h1M74 25h1M74 26h2M74 27h2M75 28h1M75 29h2M75 30h1M75 31h1M75 32h1M76 34h2M77 38h1M76 40h1M75 41h1M75 42h1M74 43h1M73 44h1M72 45h1M71 47h1M71 48h1M71 49h1M71 50h1"/>
<path stroke="#fce1d2" d="M72 15h1M73 16h1M74 20h1M74 21h1M75 24h1M75 25h1M76 27h1M76 28h1M76 30h1M76 31h2M76 32h3M76 33h1M77 35h2M77 36h2M78 37h1M77 39h1M76 41h1M73 45h1M72 46h1M71 51h1M71 52h1M71 53h1M71 54h1M71 55h1M71 60h1"/>
<path stroke="#fcddcb" d="M76 2h1M63 10h1M74 19h1M75 22h1M75 23h1M76 24h1M76 25h2M76 26h1M77 27h1M77 28h2M77 29h2M77 30h1M78 31h1M80 32h1M77 33h2M78 34h1M79 36h1M79 37h1M78 38h1M77 40h1M74 44h1M74 45h1M73 46h1M72 47h1M72 48h1M72 49h1M72 50h1M72 52h1M71 56h1M64 63h1M70 64h1"/>
<path stroke="#fcd8c3" d="M75 0h1M77 2h1M76 4h1M75 5h1M75 20h1M75 21h1M76 22h1M77 24h1M78 25h1M78 26h1M78 27h1M79 29h1M78 30h2M79 31h2M79 32h1M79 33h2M79 34h2M79 35h2M80 36h1M80 37h1M79 38h1M78 39h2M78 40h1M77 41h1M76 42h2M75 43h2M73 47h1M73 50h1M72 51h1M72 53h1M72 54h1M72 55h1M71 57h1"/>
<path stroke="#fbd0b9" d="M60 4h1M61 7h1M74 18h1M75 19h1M76 20h1M76 21h1M77 22h1M76 23h3M78 24h1M79 25h1M77 26h1M79 26h1M79 27h1M79 28h3M80 29h1M80 30h2M81 31h1M85 31h1M81 32h2M81 33h2M81 34h1M83 34h1M81 35h1M81 36h1M81 37h1M80 38h2M80 39h1M79 40h1M78 41h1M75 44h2M75 45h1M74 46h2M74 47h1M73 48h2M73 49h1M75 49h1M74 50h1M73 51h2M73 52h1M73 53h1M73 54h1M72 56h1"/>
<path stroke="#fac9b0" d="M74 17h1M78 22h1M79 24h2M80 25h1M80 26h2M80 27h1M82 28h1M84 28h1M81 29h3M82 30h3M82 31h3M86 31h1M83 32h1M85 32h1M83 33h3M82 34h1M84 34h1M86 34h1M82 35h2M82 36h3M82 37h2M82 38h1M81 39h1M80 40h1M78 42h1M77 43h1M77 44h1M75 47h1M74 49h1M75 50h1M75 51h1M74 52h2M74 53h2M74 54h1M73 55h1M71 58h1M73 61h1"/>
<path stroke="#f9c1a6" d="M75 18h1M77 21h2M79 22h1M80 23h1M113 24h1M82 25h1M82 26h2M107 26h1M81 27h3M114 27h1M83 28h1M85 28h3M84 29h2M87 29h1M89 29h1M113 29h1M85 30h5M104 30h1M114 30h1M87 31h2M92 31h3M100 31h1M109 31h1M112 31h1M84 32h1M86 32h3M91 32h1M103 32h1M113 32h1M86 33h4M96 33h1M100 33h1M102 33h2M105 33h1M85 34h1M89 34h2M103 34h1M84 35h4M85 36h3M95 36h1M103 36h1M84 37h2M87 37h1M107 37h1M110 37h1M112 37h1M114 37h1M83 38h1M86 38h2M111 38h1M82 39h3M81 40h2M79 41h2M79 42h1M114 42h1M78 43h1M113 43h1M78 44h1M76 45h1M76 46h1M76 47h1M75 48h2M107 48h1M114 48h1M76 49h1M114 49h1M76 50h1M104 50h1M76 51h1M112 51h3M76 52h2M107 52h1M110 54h1M74 55h1M73 56h1M72 57h1M114 63h1M76 64h1"/>
<path stroke="#f7ba9c" d="M114 0h1M114 3h1M113 5h1M112 6h1M112 7h1M114 8h1M114 13h1M113 15h1M114 16h1M114 17h1M76 19h1M114 19h1M77 20h1M112 20h3M109 21h1M112 21h3M109 22h6M79 23h1M81 23h1M106 23h1M112 23h3M81 24h1M83 24h1M101 24h4M107 24h1M109 24h4M114 24h1M81 25h1M84 25h2M101 25h2M104 25h1M107 25h1M110 25h5M84 26h4M97 26h2M101 26h2M104 26h1M108 26h7M84 27h4M91 27h3M96 27h1M99 27h2M102 27h2M105 27h3M109 27h2M112 27h2M88 28h4M93 28h2M98 28h8M107 28h8M86 29h1M88 29h1M90 29h1M92 29h3M96 29h6M103 29h10M114 29h1M90 30h14M105 30h9M89 31h3M95 31h5M101 31h8M110 31h2M113 31h2M89 32h2M92 32h11M104 32h9M114 32h1M90 33h6M97 33h3M101 33h1M104 33h1M106 33h9M87 34h2M91 34h12M104 34h6M111 34h4M88 35h15M104 35h11M88 36h4M93 36h2M96 36h6M104 36h8M113 36h2M86 37h1M88 37h4M93 37h3M97 37h5M103 37h4M108 37h2M111 37h1M113 37h1M84 38h2M88 38h7M96 38h4M101 38h10M113 38h2M85 39h2M89 39h1M92 39h1M97 39h1M99 39h3M104 39h1M107 39h1M109 39h6M83 40h2M87 40h1M94 40h1M100 40h1M103 40h1M105 40h2M109 40h6M81 41h1M84 41h1M96 41h1M98 41h1M104 41h1M106 41h1M108 41h7M80 42h1M101 42h1M103 42h1M105 42h3M109 42h5M79 43h2M99 43h1M101 43h2M104 43h1M106 43h7M114 43h1M100 44h1M104 44h2M107 44h8M77 45h1M103 45h2M106 45h9M77 46h1M102 46h2M105 46h4M110 46h5M77 47h1M101 47h1M103 47h2M107 47h4M112 47h3M77 48h1M101 48h2M104 48h3M108 48h6M77 49h1M102 49h2M105 49h9M77 50h1M97 50h1M100 50h4M105 50h10M77 51h2M100 51h1M103 51h1M105 51h1M107 51h5M97 52h1M102 52h4M108 52h7M76 53h1M96 53h1M102 53h1M109 53h6M75 54h2M105 54h4M111 54h1M113 54h2M108 55h2M112 55h1M114 55h1M74 56h1M105 56h1M110 56h5M110 57h5M109 58h1M111 58h4M71 59h1M112 59h3M111 60h1M113 60h2M112 61h3M74 62h1M112 62h3M113 63h1M111 64h4M110 65h5"/>
<path stroke="#f6b293" d="M110 0h4M110 1h1M112 1h3M110 2h5M110 3h4M111 4h4M109 5h1M111 5h2M114 5h1M109 6h3M113 6h2M109 7h3M113 7h2M111 8h1M113 8h1M111 9h4M110 10h5M65 11h1M110 11h1M112 11h3M67 12h1M110 12h2M113 12h2M110 13h4M111 14h4M109 15h4M114 15h1M111 16h1M113 16h1M108 17h1M110 17h4M109 18h6M110 19h4M78 20h1M107 20h1M109 20h3M79 21h2M105 21h2M108 21h1M110 21h2M80 22h2M104 22h5M82 23h2M85 23h1M95 23h1M100 23h1M102 23h4M107 23h5M82 24h1M85 24h1M87 24h1M91 24h1M93 24h1M96 24h5M105 24h2M108 24h1M83 25h1M86 25h6M93 25h1M96 25h5M103 25h1M105 25h2M108 25h2M88 26h9M99 26h2M103 26h1M105 26h2M88 27h3M94 27h2M97 27h2M101 27h1M104 27h1M108 27h1M111 27h1M92 28h1M95 28h3M106 28h1M91 29h1M95 29h1M102 29h1M110 34h1M103 35h1M92 36h1M102 36h1M112 36h1M92 37h1M96 37h1M102 37h1M95 38h1M100 38h1M112 38h1M87 39h2M90 39h2M93 39h4M98 39h1M102 39h2M105 39h2M108 39h1M85 40h2M88 40h4M93 40h1M95 40h5M101 40h2M104 40h1M107 40h2M82 41h1M85 41h2M89 41h6M97 41h1M99 41h5M105 41h1M107 41h1M81 42h1M85 42h2M89 42h1M91 42h2M94 42h7M102 42h1M104 42h1M108 42h1M81 43h1M86 43h1M93 43h6M100 43h1M103 43h1M105 43h1M79 44h3M94 44h6M101 44h3M106 44h1M78 45h2M93 45h1M95 45h1M98 45h5M105 45h1M78 46h1M93 46h1M95 46h3M99 46h3M104 46h1M109 46h1M78 47h1M96 47h1M98 47h3M102 47h1M105 47h2M111 47h1M78 48h1M94 48h1M97 48h4M103 48h1M78 49h2M86 49h1M90 49h2M93 49h1M95 49h7M104 49h1M78 50h1M80 50h3M90 50h1M92 50h5M98 50h2M84 51h2M88 51h2M91 51h9M101 51h2M104 51h1M106 51h1M78 52h4M85 52h1M87 52h1M91 52h1M93 52h4M98 52h4M106 52h1M77 53h2M84 53h1M92 53h1M95 53h1M97 53h1M99 53h3M103 53h6M77 54h2M98 54h7M109 54h1M112 54h1M75 55h3M97 55h1M101 55h1M103 55h5M110 55h2M113 55h1M75 56h1M100 56h1M103 56h1M106 56h4M103 57h1M105 57h5M106 58h3M110 58h1M105 59h2M108 59h4M72 60h1M107 60h4M112 60h1M107 61h2M110 61h2M105 62h1M108 62h4M106 63h7M107 64h4M108 65h1"/>
<path stroke="#f5aa89" d="M108 0h2M108 1h2M111 1h1M108 2h2M108 3h2M107 4h4M107 5h2M110 5h1M108 6h1M108 7h1M108 8h3M112 8h1M108 9h3M108 10h2M108 11h2M111 11h1M108 12h2M112 12h1M108 13h2M108 14h3M108 15h1M109 16h2M112 16h1M109 17h1M106 18h3M105 19h5M103 20h1M106 20h1M108 20h1M100 21h1M102 21h3M107 21h1M82 22h1M99 22h1M101 22h3M84 23h1M86 23h4M96 23h4M101 23h1M84 24h1M86 24h1M88 24h3M92 24h1M94 24h2M92 25h1M94 25h2M92 40h1M83 41h1M87 41h2M95 41h1M82 42h3M87 42h2M90 42h1M93 42h1M82 43h4M87 43h4M92 43h1M82 44h7M90 44h4M80 45h6M88 45h4M94 45h1M96 45h2M79 46h2M82 46h1M85 46h2M89 46h2M92 46h1M98 46h1M79 47h2M84 47h2M87 47h9M97 47h1M79 48h4M84 48h10M95 48h2M80 49h6M88 49h2M92 49h1M94 49h1M79 50h1M83 50h7M91 50h1M79 51h5M86 51h2M90 51h1M82 52h3M86 52h1M88 52h3M92 52h1M79 53h2M82 53h2M85 53h7M93 53h2M98 53h1M79 54h1M81 54h1M86 54h1M90 54h1M92 54h1M94 54h4M91 55h2M94 55h3M98 55h3M102 55h1M76 56h1M98 56h2M101 56h2M104 56h1M73 57h2M99 57h4M104 57h1M104 58h2M104 59h1M107 59h1M105 60h2M105 61h2M109 61h1M106 62h2M75 63h1M105 63h1M104 64h3M103 65h1M105 65h3M109 65h1"/>
<path stroke="#f3a280" d="M59 0h1M107 0h1M107 1h1M107 2h1M106 3h2M106 4h1M106 5h1M107 6h1M106 7h2M106 8h2M106 9h2M105 10h1M107 10h1M106 11h2M105 12h1M107 12h1M106 13h2M106 14h2M106 15h2M107 16h2M106 17h2M105 18h1M104 19h1M79 20h1M104 20h2M81 21h1M99 21h1M101 21h1M83 22h3M89 22h3M94 22h5M100 22h1M90 23h5M91 43h1M89 44h1M86 45h2M92 45h1M81 46h1M83 46h2M87 46h2M91 46h1M94 46h1M81 47h3M86 47h1M83 48h1M87 49h1M81 53h1M80 54h1M82 54h4M87 54h3M91 54h1M93 54h1M78 55h1M80 55h2M84 55h1M89 55h2M93 55h1M77 56h1M91 56h7M96 57h3M72 58h1M100 58h4M102 59h2M101 60h1M103 60h2M103 61h2M103 62h2M101 63h1M103 63h2M103 64h1M77 65h1M104 65h1"/>
<path stroke="#ef9878" d="M104 0h1M106 0h1M104 1h3M105 2h2M58 3h1M104 4h2M105 5h1M104 6h3M105 7h1M105 8h1M105 9h1M104 10h1M106 10h1M104 11h2M106 12h1M105 13h1M105 14h1M104 15h2M104 16h3M104 17h2M103 18h2M77 19h1M101 19h3M80 20h1M101 20h2M82 21h3M96 21h3M86 22h3M92 22h2M79 55h1M82 55h2M85 55h4M78 56h1M85 56h1M89 56h2M75 57h1M94 57h2M96 58h4M98 59h4M100 60h1M102 60h1M102 61h1M101 62h2M102 63h1M102 64h1M101 65h2"/>
<path stroke="#ea8f71" d="M102 0h2M105 0h1M103 1h1M103 2h2M102 3h4M102 4h2M103 5h2M103 6h1M103 7h2M103 8h2M103 9h2M103 10h1M103 11h1M102 12h3M102 13h1M104 13h1M102 14h1M104 14h1M103 15h1M103 16h1M103 17h1M76 18h1M102 18h1M78 19h1M81 20h1M98 20h3M85 21h3M90 21h6M79 56h5M86 56h3M76 57h2M91 57h3M73 58h1M94 58h2M97 59h1M98 60h2M99 61h3M99 62h2M100 63h1M99 64h3M99 65h2"/>
<path stroke="#e68569" d="M101 0h1M101 1h2M101 2h2M60 3h1M100 3h2M101 5h2M102 6h1M102 7h1M101 8h2M62 9h1M101 9h2M101 10h2M102 11h1M101 12h1M69 13h1M101 13h1M103 13h1M103 14h1M101 15h2M74 16h1M102 16h1M75 17h1M101 17h2M100 18h2M79 19h1M99 19h2M82 20h1M93 20h1M95 20h3M88 21h2M84 56h1M78 57h1M86 57h5M74 58h1M93 58h1M72 59h1M96 59h1M73 60h1M97 60h1M97 61h2M98 62h1M97 63h3M98 64h1M98 65h1"/>
<path stroke="#e27b62" d="M99 0h2M100 1h1M100 2h1M99 4h3M100 5h1M100 6h2M100 7h2M100 9h1M100 10h1M100 11h2M99 12h2M100 13h1M71 14h1M100 14h2M100 15h1M99 16h3M100 17h1M99 18h1M80 19h1M97 19h2M83 20h2M89 20h1M92 20h1M94 20h1M79 57h7M89 58h1M91 58h2M95 59h1M94 60h3M74 61h1M96 62h2M97 64h1M96 65h2"/>
<path stroke="#de715a" d="M98 1h2M98 2h2M99 3h1M99 5h1M98 6h2M99 7h1M99 8h2M98 9h2M99 10h1M99 11h1M98 13h2M99 14h1M99 15h1M98 16h1M99 17h1M77 18h1M96 18h1M98 18h1M81 19h1M94 19h3M85 20h4M90 20h2M75 58h2M88 58h1M90 58h1M73 59h1M93 59h2M95 61h2M96 63h1M96 64h1M95 65h1"/>
<path stroke="#d96853" d="M97 0h2M97 1h1M97 3h2M97 4h2M98 5h1M97 6h1M98 7h1M98 8h1M97 9h1M98 10h1M98 11h1M97 12h2M97 14h2M97 15h2M97 16h1M97 17h2M78 18h1M97 18h1M82 19h1M93 19h1M77 58h1M83 58h1M85 58h2M90 59h3M93 60h1M94 61h1M95 62h1M76 63h1M95 63h1M77 64h1M95 64h1M94 65h1"/>
<path stroke="#d55e4c" d="M96 1h1M97 2h1M96 4h1M97 5h1M96 7h2M96 8h2M96 10h2M97 11h1M96 12h1M97 13h1M96 14h1M73 15h1M96 15h1M96 16h1M76 17h1M96 17h1M79 18h1M95 18h1M83 19h1M91 19h2M78 58h1M82 58h1M84 58h1M87 58h1M92 60h1M92 61h2M93 62h2M94 63h1M94 64h1"/>
<path stroke="#d05447" d="M94 0h1M96 0h1M95 1h1M95 2h2M95 3h2M96 5h1M95 6h2M95 7h1M95 8h1M95 9h2M95 10h1M66 11h1M95 11h2M95 12h1M95 13h2M95 14h1M95 15h1M95 16h1M94 17h2M92 18h3M84 19h1M86 19h5M79 58h3M74 59h1M88 59h2M74 60h1M91 60h1M75 62h1M92 62h1M93 63h1M93 64h1M93 65h1"/>
<path stroke="#cb4a42" d="M95 0h1M94 1h1M93 2h2M94 3h1M94 4h2M94 5h2M61 6h1M94 6h1M94 7h1M94 8h1M64 10h1M94 10h1M93 11h2M94 12h1M94 13h1M94 14h1M94 15h1M75 16h1M94 16h1M77 17h1M93 17h1M80 18h1M85 19h1M75 59h1M85 59h3M89 60h2M90 61h2M91 62h1M92 63h1M92 64h1M92 65h1"/>
<path stroke="#c6403e" d="M93 0h1M93 1h1M92 3h1M93 4h1M92 5h2M93 6h1M92 7h2M93 8h1M92 9h3M93 10h1M68 12h1M93 12h1M93 13h1M72 14h1M93 14h1M74 15h1M92 15h2M93 16h1M92 17h1M89 18h3M76 59h1M84 59h1M75 60h1M88 60h1M90 62h1M90 63h2M91 64h1M91 65h1"/>
<path stroke="#c13539" d="M92 0h1M92 1h1M92 2h1M91 3h1M93 3h1M92 4h1M92 6h1M92 8h1M92 10h1M92 11h1M92 12h1M70 13h1M92 13h1M91 14h2M91 15h1M91 16h2M78 17h1M90 17h2M81 18h3M85 18h4M77 59h2M80 59h4M86 60h2M75 61h1M88 61h2M89 62h1M89 63h1M90 64h1M78 65h1M89 65h2"/>
<path stroke="#bc2b34" d="M91 0h1M90 1h2M90 3h1M91 4h1M91 5h1M90 6h2M91 7h1M91 8h1M91 9h1M90 10h2M67 11h1M91 11h1M90 12h2M90 13h2M90 15h1M76 16h1M89 16h2M79 17h1M89 17h1M84 18h1M79 59h1M84 60h2M87 61h1M88 62h1M77 63h1M88 63h1M87 64h1M89 64h1M88 65h1"/>
<path stroke="#b7212f" d="M90 0h1M89 2h3M89 4h2M90 5h1M90 7h1M62 8h1M90 8h1M63 9h1M90 9h1M65 10h1M90 11h1M89 13h1M73 14h1M89 14h2M89 15h1M77 16h1M88 16h1M87 17h2M76 60h1M82 60h2M86 61h1M86 62h2M86 63h1M78 64h1M88 64h1M87 65h1"/>
<path stroke="#b1182b" d="M89 0h1M89 1h1M89 3h1M89 5h1M89 6h1M89 7h1M89 8h1M89 9h1M88 10h2M89 11h1M69 12h1M89 12h1M71 13h1M75 15h1M88 15h1M78 16h1M86 16h2M80 17h3M86 17h1M77 60h3M81 60h1M84 61h2M76 62h1M85 62h1M85 63h1M87 63h1M86 65h1"/>
<path stroke="#a61429" d="M88 0h1M88 1h1M88 2h1M88 3h1M88 4h1M88 5h1M88 6h1M87 7h2M88 8h1M87 9h2M66 10h1M68 11h1M88 11h1M88 12h1M72 13h1M87 13h2M74 14h1M88 14h1M76 15h1M87 15h1M83 17h3M80 60h1M76 61h2M83 61h1M77 62h1M84 63h1M86 64h1M85 65h1"/>
<path stroke="#9c1127" d="M87 0h1M86 1h2M87 2h1M87 3h1M87 4h1M87 5h1M87 6h1M87 8h1M64 9h1M86 9h1M87 10h1M87 11h1M70 12h1M87 12h1M86 13h1M86 14h2M77 15h1M85 15h2M79 16h1M84 16h2M78 61h1M80 61h3M78 62h1M82 62h3M78 63h1M79 64h1M83 64h3M79 65h1M83 65h2"/>
<path stroke="#910e26" d="M85 0h2M85 1h1M60 2h1M85 2h2M86 3h1M86 4h1M61 5h1M86 5h1M86 6h1M62 7h1M85 7h2M63 8h1M86 8h1M65 9h1M85 10h2M85 11h2M71 12h1M85 12h2M73 13h2M75 14h1M85 14h1M78 15h1M84 15h1M80 16h1M82 16h2M79 61h1M70 62h1M79 62h3M67 63h1M79 63h1M81 63h3M80 64h3M63 65h1M67 65h1M80 65h3"/>
<path stroke="#870a24" d="M84 0h1M84 1h1M84 2h1M84 3h2M84 4h2M84 5h2M85 6h1M84 7h1M64 8h1M84 8h2M85 9h1M67 10h2M84 10h1M69 11h2M84 11h1M72 12h1M84 12h1M84 13h2M76 14h1M78 14h1M83 14h2M79 15h1M81 15h1M83 15h1M81 16h1M64 62h1M80 63h1"/>
<path stroke="#7c0722" d="M60 1h1M83 2h1M83 3h1M83 4h1M83 5h1M62 6h1M84 6h1M63 7h1M83 7h1M65 8h1M83 8h1M66 9h1M83 9h2M83 10h1M71 11h1M83 11h1M73 12h1M83 12h1M75 13h2M78 13h1M83 13h1M77 14h1M79 14h1M82 14h1M80 15h1M82 15h1"/>
<path stroke="#720321" d="M64 0h1M67 0h1M79 0h1M82 0h2M71 1h1M82 1h2M81 2h2M61 3h1M82 3h1M61 4h2M67 4h1M79 4h2M82 4h1M62 5h1M64 5h1M66 5h1M82 5h1M63 6h3M70 6h1M77 6h1M82 6h2M64 7h3M82 7h1M66 8h2M69 8h1M71 8h1M82 8h1M67 9h4M72 9h1M78 9h1M82 9h1M69 10h3M82 10h1M72 11h2M78 11h1M82 11h1M74 12h4M80 12h3M77 13h1M79 13h1M81 13h2M80 14h2"/>
<path stroke="#67001f" d="M60 0h4M65 0h2M68 0h6M77 0h2M80 0h2M61 1h10M72 1h3M76 1h6M61 2h15M78 2h3M62 3h15M78 3h4M63 4h4M68 4h6M75 4h1M78 4h1M81 4h1M63 5h1M65 5h1M67 5h7M76 5h6M66 6h4M71 6h6M78 6h4M67 7h15M68 8h1M70 8h1M72 8h10M71 9h1M73 9h5M79 9h3M72 10h10M74 11h4M79 11h3M78 12h2M80 13h1"/>
</g></g>
<clipPath id="kb1"><rect x="1303.5" y="52.8" width="712.8" height="395.2"/></clipPath>
<g clip-path="url(#kb1)"><g transform="translate(1303 55) scale(6 6)" fill="none" stroke-width="1.04" shape-rendering="crispEdges">
<path stroke="#053061" d="M17 0h1M19 0h3M23 0h8M32 0h2M19 1h5M25 1h9M16 2h4M21 2h2M24 2h10M16 3h20M15 4h1M17 4h19M17 5h19M17 6h10M28 6h8M18 7h2M21 7h9M31 7h6M20 8h2M23 8h3M27 8h11M20 9h2M23 9h2M26 9h12M39 9h1M23 10h1M25 10h1M27 10h13M25 11h3M29 11h3M34 11h1M36 11h4M27 12h1M29 12h1M32 12h8M31 13h5M37 13h1M39 13h2M35 14h1M37 14h3M41 14h1M36 15h5M42 15h1M38 16h2M42 16h4M37 17h2M42 17h5M42 18h4M46 19h1M43 20h2M44 21h1M46 21h2M44 22h2M49 23h1M47 24h1M49 24h1"/>
<path stroke="#09386c" d="M9 0h8M18 0h1M22 0h1M31 0h1M34 0h3M10 1h2M13 1h6M24 1h1M34 1h3M13 2h3M20 2h1M23 2h1M34 2h3M12 3h4M36 3h1M12 4h3M16 4h1M36 4h1M14 5h3M36 5h3M14 6h3M27 6h1M36 6h3M17 7h1M20 7h1M30 7h1M37 7h3M16 8h4M22 8h1M26 8h1M38 8h3M18 9h2M22 9h1M25 9h1M38 9h1M40 9h1M19 10h4M24 10h1M26 10h1M40 10h2M20 11h5M28 11h1M32 11h2M35 11h1M40 11h3M22 12h5M28 12h1M30 12h2M40 12h3M25 13h6M36 13h1M38 13h1M41 13h3M24 14h1M26 14h9M36 14h1M40 14h1M42 14h3M25 15h11M41 15h1M43 15h3M27 16h5M33 16h5M40 16h2M46 16h1M28 17h1M31 17h6M39 17h3M32 18h10M46 18h2M31 19h1M34 19h12M47 19h1M35 20h8M45 20h4M36 21h2M40 21h4M45 21h1M48 21h2M36 22h8M46 22h5M39 23h10M50 23h1M40 24h2M43 24h4M48 24h1M50 24h2M41 25h11M43 26h8M44 27h8M46 28h6M48 29h4M52 30h1"/>
<path stroke="#0d3f76" d="M7 0h2M37 0h1M7 1h3M12 1h1M37 1h2M8 2h5M37 2h3M9 3h3M37 3h2M9 4h1M11 4h1M37 4h2M12 5h2M39 5h1M12 6h2M39 6h2M14 7h3M40 7h2M15 8h1M41 8h1M15 9h3M41 9h2M16 10h3M42 10h1M18 11h2M43 11h1M19 12h3M43 12h2M22 13h3M44 13h2M22 14h2M25 14h1M45 14h2M23 15h2M46 15h1M25 16h2M32 16h1M47 16h1M26 17h2M29 17h2M47 17h1M27 18h5M48 18h1M29 19h2M32 19h2M48 19h2M30 20h5M49 20h1M31 21h5M38 21h2M50 21h2M32 22h4M51 22h1M34 23h5M51 23h1M36 24h4M42 24h1M52 24h1M37 25h4M52 25h1M38 26h5M51 26h2M38 27h6M52 27h2M39 28h7M52 28h2M40 29h1M42 29h6M52 29h2M44 30h8M48 31h1M50 31h2"/>
<path stroke="#114781" d="M5 0h2M38 0h2M5 1h2M39 1h1M6 2h2M7 3h2M39 3h2M8 4h1M10 4h1M39 4h3M9 5h3M40 5h2M10 6h2M41 6h1M11 7h3M42 7h1M12 8h3M42 8h2M14 9h1M43 9h2M15 10h1M43 10h2M16 11h2M44 11h2M17 12h2M45 12h1M18 13h4M46 13h1M19 14h1M21 14h1M47 14h1M21 15h2M47 15h1M23 16h2M48 16h1M23 17h3M48 17h2M25 18h2M49 18h2M26 19h3M50 19h1M29 20h1M50 20h2M30 21h1M30 22h2M52 22h1M31 23h3M52 23h1M32 24h4M53 24h1M34 25h3M53 25h1M36 26h2M53 26h1M37 27h1M38 28h1M38 29h2M41 29h1M41 30h3M53 30h1M43 31h5M49 31h1M52 31h2"/>
<path stroke="#154e8b" d="M3 0h2M40 0h1M4 1h1M40 1h2M5 2h1M40 2h2M5 3h2M41 3h1M6 4h2M42 4h1M7 5h2M42 5h1M8 6h2M42 6h1M9 7h2M43 7h1M11 8h1M44 8h1M11 9h3M45 9h1M13 10h2M45 10h1M14 11h2M46 11h1M15 12h2M46 12h1M17 13h1M47 13h1M18 14h1M20 14h1M48 14h1M20 15h1M48 15h2M22 16h1M49 16h1M21 17h2M50 17h1M23 18h2M25 19h1M51 19h1M26 20h3M52 20h1M28 21h2M52 21h1M29 22h1M30 23h1M53 23h1M31 24h1M31 25h3M33 26h3M35 27h2M54 27h1M36 28h2M54 28h1M37 29h1M54 29h1M39 30h2M54 30h1M41 31h2M46 32h1M48 32h1M50 32h1M0 64h2M4 64h3M8 64h1M0 65h4M6 65h1M8 65h1"/>
<path stroke="#195696" d="M2 0h1M41 0h1M2 1h2M42 1h1M3 2h2M42 2h1M3 3h2M42 3h1M4 4h2M43 4h1M4 5h3M43 5h1M5 6h3M43 6h2M7 7h2M44 7h1M9 8h2M45 8h1M9 9h2M11 10h2M46 10h1M12 11h2M47 11h1M13 12h2M47 12h1M15 13h2M48 13h1M17 14h1M49 14h1M18 15h2M19 16h3M50 16h1M20 17h1M51 17h1M22 18h1M51 18h1M23 19h2M52 19h1M24 20h2M26 21h2M53 21h1M27 22h2M53 22h1M28 23h2M29 24h2M54 24h1M30 25h1M54 25h1M31 26h2M54 26h1M34 27h1M34 28h2M36 29h1M36 30h3M38 31h3M54 31h1M42 32h4M47 32h1M49 32h1M51 32h3M3 56h1M1 57h2M0 58h5M7 58h1M0 59h1M2 59h5M8 59h2M12 59h1M16 59h1M20 59h1M0 60h6M7 60h2M10 60h1M12 60h1M23 60h1M29 60h1M0 61h13M16 61h2M19 61h1M23 61h2M26 61h2M45 61h1M0 62h9M10 62h1M12 62h6M19 62h1M23 62h5M29 62h1M31 62h1M33 62h1M44 62h1M46 62h1M49 62h1M0 63h26M28 63h1M31 63h3M37 63h1M51 63h1M2 64h2M7 64h1M9 64h7M18 64h9M28 64h1M30 64h4M35 64h2M38 64h6M45 64h2M49 64h1M51 64h1M56 64h1M59 64h2M82 64h1M109 64h1M4 65h2M7 65h1M9 65h14M24 65h17M42 65h1M45 65h8M54 65h4M61 65h1M63 65h1M65 65h1M70 65h2M76 65h1M83 65h1M102 65h1"/>
<path stroke="#1d5ea0" d="M0 0h2M42 0h2M1 1h1M43 1h1M1 2h2M43 2h1M1 3h2M43 3h1M2 4h2M44 4h1M3 5h1M44 5h1M4 6h1M45 6h1M5 7h2M45 7h1M6 8h3M46 8h1M7 9h2M46 9h1M8 10h3M47 10h1M10 11h2M12 12h1M48 12h1M13 13h2M49 13h1M14 14h3M15 15h3M50 15h1M16 16h3M51 16h1M19 17h1M20 18h2M52 18h1M21 19h2M23 20h1M53 20h1M24 21h2M26 22h1M54 22h1M27 23h1M54 23h1M27 24h2M28 25h2M55 25h1M30 26h1M55 26h1M30 27h1M32 27h2M55 27h1M33 28h1M55 28h1M34 29h2M55 29h1M35 30h1M37 31h1M39 32h3M0 49h1M1 50h1M0 51h2M0 52h7M0 53h9M0 54h11M12 54h1M0 55h10M11 55h8M20 55h4M0 56h3M4 56h16M21 56h6M29 56h1M34 56h2M0 57h1M3 57h11M15 57h20M36 57h1M40 57h1M44 57h1M5 58h2M8 58h33M43 58h1M45 58h1M47 58h3M55 58h1M63 58h1M70 58h1M1 59h1M7 59h1M10 59h2M13 59h3M17 59h3M21 59h32M54 59h1M58 59h1M60 59h1M63 59h3M74 59h1M80 59h1M6 60h1M9 60h1M11 60h1M13 60h10M24 60h5M30 60h23M54 60h5M61 60h1M64 60h2M67 60h3M71 60h1M79 60h1M87 60h2M104 60h1M13 61h3M18 61h1M20 61h3M25 61h1M28 61h17M46 61h21M68 61h3M72 61h1M74 61h3M80 61h1M82 61h2M85 61h1M87 61h1M91 61h1M94 61h2M99 61h3M103 61h1M107 61h1M114 61h1M116 61h2M9 62h1M11 62h1M18 62h1M20 62h3M28 62h1M30 62h1M32 62h1M34 62h10M45 62h1M47 62h2M50 62h30M81 62h7M91 62h4M97 62h6M105 62h1M107 62h5M113 62h3M117 62h1M26 63h2M29 63h2M34 63h3M38 63h13M52 63h31M84 63h20M105 63h5M111 63h8M16 64h2M27 64h1M29 64h1M34 64h1M37 64h1M44 64h1M47 64h2M50 64h1M52 64h4M57 64h2M61 64h21M83 64h26M110 64h9M23 65h1M41 65h1M43 65h2M53 65h1M58 65h3M62 65h1M64 65h1M66 65h4M72 65h4M77 65h6M84 65h18M103 65h16"/>
<path stroke="#2165ab" d="M0 1h1M44 1h1M0 2h1M44 2h1M0 3h1M44 3h1M0 4h2M45 4h1M0 5h3M45 5h1M1 6h3M46 6h1M2 7h3M46 7h1M3 8h1M5 8h1M47 8h1M5 9h2M47 9h1M5 10h3M48 10h1M7 11h3M48 11h1M9 12h3M49 12h1M11 13h2M11 14h3M50 14h1M13 15h2M51 15h1M15 16h1M16 17h3M52 17h1M18 18h2M19 19h2M53 19h1M21 20h2M22 21h2M54 21h1M23 22h3M25 23h2M26 24h1M55 24h1M27 25h1M28 26h2M31 27h1M31 28h2M33 29h1M34 30h1M55 30h1M36 31h1M37 32h2M54 32h1M0 47h2M0 48h3M4 48h2M1 49h6M8 49h1M14 49h1M0 50h1M2 50h12M2 51h14M20 51h4M26 51h1M32 51h2M7 52h13M21 52h3M25 52h5M31 52h1M33 52h3M44 52h1M9 53h34M44 53h1M47 53h2M50 53h1M53 53h1M109 53h1M11 54h1M13 54h26M40 54h3M44 54h1M46 54h1M54 54h1M61 54h1M111 54h1M10 55h1M19 55h1M24 55h30M55 55h4M60 55h1M62 55h4M73 55h2M83 55h1M116 55h1M20 56h1M27 56h2M30 56h4M36 56h22M59 56h11M73 56h2M76 56h1M80 56h1M89 56h1M95 56h3M100 56h1M102 56h1M110 56h1M114 56h1M116 56h3M14 57h1M35 57h1M37 57h3M41 57h3M45 57h26M72 57h6M79 57h3M83 57h3M88 57h1M90 57h4M97 57h3M101 57h2M105 57h2M108 57h1M110 57h2M113 57h1M116 57h2M41 58h2M44 58h1M46 58h1M50 58h5M56 58h7M64 58h6M71 58h11M83 58h2M86 58h29M116 58h3M53 59h1M55 59h3M59 59h1M61 59h2M66 59h8M75 59h5M81 59h38M53 60h1M59 60h2M62 60h2M66 60h1M70 60h1M72 60h7M80 60h7M89 60h15M105 60h14M67 61h1M71 61h1M73 61h1M77 61h3M81 61h1M84 61h1M86 61h1M88 61h3M92 61h2M96 61h3M102 61h1M104 61h3M108 61h6M115 61h1M118 61h1M80 62h1M88 62h3M95 62h2M103 62h2M106 62h1M112 62h1M116 62h1M118 62h1M83 63h1M104 63h1M110 63h1"/>
<path stroke="#256caf" d="M44 0h1M45 2h1M45 3h1M46 4h1M46 5h1M0 6h1M0 7h2M47 7h1M0 8h3M4 8h1M1 9h4M48 9h1M2 10h3M4 11h3M49 11h1M6 12h3M6 13h1M8 13h3M50 13h1M8 14h1M10 14h1M11 15h2M13 16h2M52 16h1M14 17h2M15 18h3M53 18h1M16 19h3M19 20h2M54 20h1M20 21h2M21 22h2M55 22h1M23 23h2M55 23h1M25 24h1M26 25h1M26 26h2M27 27h3M29 28h2M30 29h3M31 30h3M33 31h3M55 31h1M36 32h1M41 33h10M52 33h1M1 44h1M0 45h2M3 45h2M6 45h1M0 46h6M7 46h2M2 47h10M14 47h1M16 47h1M3 48h1M6 48h10M17 48h3M22 48h1M24 48h1M31 48h1M42 48h1M7 49h1M9 49h5M15 49h12M28 49h2M31 49h3M35 49h2M40 49h1M46 49h1M52 49h1M54 49h1M14 50h23M38 50h6M45 50h4M50 50h6M60 50h3M105 50h1M114 50h3M16 51h4M24 51h2M27 51h5M34 51h28M67 51h1M69 51h2M72 51h1M77 51h1M81 51h1M88 51h1M99 51h3M104 51h4M109 51h2M112 51h4M117 51h2M20 52h1M24 52h1M30 52h1M32 52h1M36 52h8M45 52h27M73 52h4M78 52h1M80 52h1M82 52h1M85 52h1M87 52h1M95 52h1M98 52h1M102 52h1M105 52h2M108 52h1M110 52h1M112 52h7M43 53h1M45 53h2M49 53h1M51 53h2M54 53h26M81 53h1M83 53h1M85 53h3M89 53h1M91 53h1M93 53h1M96 53h3M101 53h6M108 53h1M110 53h9M39 54h1M43 54h1M45 54h1M47 54h7M55 54h6M62 54h49M112 54h7M54 55h1M59 55h1M61 55h1M66 55h7M75 55h8M84 55h32M117 55h2M58 56h1M70 56h3M75 56h1M77 56h3M81 56h8M90 56h5M98 56h2M101 56h1M103 56h7M111 56h3M115 56h1M71 57h1M78 57h1M82 57h1M86 57h2M89 57h1M94 57h3M100 57h1M103 57h2M107 57h1M109 57h1M112 57h1M114 57h2M118 57h1M82 58h1M85 58h1M115 58h1"/>
<path stroke="#2a72b2" d="M45 0h1M46 3h1M47 5h1M47 6h1M48 8h1M0 9h1M0 10h2M49 10h1M0 11h1M2 11h2M0 12h1M3 12h3M50 12h1M4 13h2M7 13h1M51 13h1M5 14h3M9 14h1M51 14h1M5 15h2M8 15h3M52 15h1M9 16h1M11 16h2M53 16h1M11 17h3M53 17h1M12 18h3M13 19h3M54 19h1M15 20h4M16 21h4M55 21h1M19 22h2M20 23h3M22 24h3M22 25h1M24 25h2M56 25h1M23 26h3M56 26h1M26 27h1M56 27h1M26 28h3M56 28h1M28 29h2M56 29h1M30 30h1M32 31h1M33 32h3M37 33h4M51 33h1M53 33h1M2 42h1M0 43h8M0 44h1M2 44h12M2 45h1M5 45h1M7 45h10M19 45h1M26 45h2M30 45h1M6 46h1M9 46h26M36 46h4M43 46h1M114 46h1M12 47h2M15 47h1M17 47h22M40 47h4M45 47h5M51 47h1M53 47h1M55 47h1M57 47h2M66 47h1M75 47h1M109 47h1M114 47h1M117 47h1M16 48h1M20 48h2M23 48h1M25 48h6M32 48h10M43 48h16M60 48h1M62 48h1M64 48h3M68 48h1M73 48h1M79 48h2M94 48h1M96 48h4M103 48h2M106 48h13M27 49h1M30 49h1M34 49h1M37 49h3M41 49h5M47 49h5M53 49h1M55 49h28M84 49h3M88 49h7M96 49h3M100 49h19M37 50h1M44 50h1M49 50h1M56 50h4M63 50h42M106 50h8M117 50h2M62 51h5M68 51h1M71 51h1M73 51h4M78 51h3M82 51h6M89 51h10M102 51h2M108 51h1M111 51h1M116 51h1M72 52h1M77 52h1M79 52h1M81 52h1M83 52h2M86 52h1M88 52h7M96 52h2M99 52h3M103 52h2M107 52h1M109 52h1M111 52h1M80 53h1M82 53h1M84 53h1M88 53h1M90 53h1M92 53h1M94 53h2M99 53h2M107 53h1"/>
<path stroke="#2f78b5" d="M45 1h1M46 2h1M47 4h1M48 6h1M48 7h1M49 9h1M50 10h1M1 11h1M50 11h1M1 12h2M51 12h1M0 13h4M0 14h5M52 14h1M0 15h5M7 15h1M0 16h9M10 16h1M0 17h3M4 17h7M54 17h1M2 18h1M6 18h6M54 18h1M1 19h1M10 19h3M5 20h1M11 20h4M55 20h1M11 21h5M9 22h1M11 22h1M14 22h5M17 23h3M56 23h1M18 24h4M56 24h1M19 25h3M23 25h1M19 26h1M21 26h2M20 27h1M22 27h4M24 28h2M24 29h4M27 30h3M56 30h1M29 31h3M31 32h2M55 32h1M34 33h3M54 33h1M0 38h1M0 40h6M0 41h9M0 42h2M3 42h9M14 42h1M8 43h12M22 43h1M31 43h1M35 43h1M14 44h27M44 44h1M49 44h1M51 44h1M55 44h1M57 44h1M112 44h1M17 45h2M20 45h6M28 45h2M31 45h20M52 45h10M63 45h1M69 45h2M72 45h1M75 45h1M78 45h1M83 45h1M95 45h2M100 45h3M104 45h1M108 45h6M115 45h4M35 46h1M40 46h3M44 46h31M76 46h1M78 46h5M84 46h1M86 46h2M89 46h1M94 46h5M100 46h14M115 46h4M39 47h1M44 47h1M50 47h1M52 47h1M54 47h1M56 47h1M59 47h7M67 47h8M76 47h11M88 47h21M110 47h4M115 47h2M118 47h1M59 48h1M61 48h1M63 48h1M67 48h1M69 48h4M74 48h5M81 48h13M95 48h1M100 48h3M105 48h1M83 49h1M87 49h1M95 49h1M99 49h1"/>
<path stroke="#347fb9" d="M46 0h1M46 1h1M47 3h1M48 4h1M48 5h1M49 7h1M49 8h1M50 9h1M53 15h1M3 17h1M0 18h2M3 18h3M0 19h1M2 19h8M55 19h1M0 20h5M6 20h5M0 21h11M0 22h9M10 22h1M12 22h2M56 22h1M1 23h16M1 24h1M3 24h15M2 25h2M5 25h14M2 26h1M8 26h3M12 26h7M20 26h1M2 27h1M8 27h3M13 27h7M21 27h1M11 28h3M17 28h7M14 29h1M19 29h2M22 29h1M20 30h2M23 30h4M14 31h1M24 31h3M28 31h1M56 31h1M26 32h1M29 32h2M32 33h2M0 37h1M2 37h1M1 38h3M5 38h1M0 39h9M10 39h1M6 40h7M15 40h1M9 41h12M12 42h2M15 42h18M34 42h1M36 42h3M41 42h1M44 42h1M20 43h2M23 43h8M32 43h3M36 43h18M55 43h4M63 43h3M97 43h1M111 43h8M41 44h3M45 44h4M50 44h1M52 44h3M56 44h1M58 44h11M70 44h12M83 44h6M90 44h22M113 44h6M51 45h1M62 45h1M64 45h5M71 45h1M73 45h2M76 45h2M79 45h4M84 45h11M97 45h3M103 45h1M105 45h3M114 45h1M75 46h1M77 46h1M83 46h1M85 46h1M88 46h1M90 46h4M99 46h1M87 47h1"/>
<path stroke="#3885bc" d="M47 1h1M47 2h1M49 6h1M50 8h1M51 11h1M52 13h1M53 14h1M54 16h1M55 18h1M56 21h1M0 23h1M0 24h1M2 24h1M0 25h2M4 25h1M0 26h2M3 26h5M11 26h1M57 26h1M0 27h2M3 27h5M11 27h2M57 27h1M0 28h11M14 28h3M57 28h1M0 29h14M15 29h4M21 29h1M23 29h1M0 30h20M22 30h1M0 31h14M15 31h9M27 31h1M0 32h5M6 32h1M8 32h5M14 32h12M27 32h2M0 33h17M18 33h3M22 33h1M25 33h2M28 33h4M0 34h2M3 34h5M9 34h4M15 34h1M18 34h1M30 34h1M34 34h2M37 34h9M0 35h8M9 35h4M15 35h1M0 36h9M12 36h2M1 37h1M3 37h11M4 38h1M6 38h8M9 39h1M11 39h8M22 39h1M13 40h2M16 40h15M21 41h18M40 41h1M45 41h1M118 41h1M33 42h1M35 42h1M39 42h2M42 42h2M45 42h16M62 42h1M64 42h1M95 42h1M101 42h3M105 42h2M108 42h11M54 43h1M59 43h4M66 43h31M98 43h13M69 44h1M82 44h1M89 44h1"/>
<path stroke="#3d8bbf" d="M47 0h1M48 2h1M48 3h1M49 4h1M49 5h1M50 7h1M51 9h1M51 10h1M52 12h1M53 13h1M54 15h1M55 17h1M56 20h1M57 24h1M57 25h1M57 29h1M5 32h1M7 32h1M13 32h1M56 32h1M17 33h1M21 33h1M23 33h2M27 33h1M55 33h1M2 34h1M8 34h1M13 34h2M16 34h2M19 34h11M31 34h3M36 34h1M46 34h7M8 35h1M13 35h2M16 35h14M9 36h3M14 36h12M27 36h2M14 37h12M27 37h2M14 38h13M28 38h2M32 38h1M19 39h3M23 39h10M34 39h2M37 39h1M31 40h13M47 40h1M114 40h5M39 41h1M41 41h4M46 41h15M62 41h1M64 41h1M78 41h1M90 41h1M96 41h1M98 41h20M61 42h1M63 42h1M65 42h30M96 42h5M104 42h1M107 42h1"/>
<path stroke="#4292c2" d="M48 0h1M48 1h1M50 6h1M51 8h1M52 11h1M54 14h1M55 16h1M56 19h1M57 22h1M57 23h1M57 30h1M53 34h1M30 35h12M26 36h1M29 36h8M38 36h1M26 37h1M29 37h8M38 37h1M27 38h1M30 38h2M33 38h7M118 38h1M33 39h1M36 39h1M38 39h8M47 39h1M49 39h1M109 39h1M111 39h8M44 40h3M48 40h10M59 40h3M63 40h2M95 40h1M102 40h3M106 40h8M61 41h1M63 41h1M65 41h13M79 41h11M91 41h5M97 41h1"/>
<path stroke="#4c99c6" d="M118 0h1M49 2h1M118 2h1M49 3h1M50 5h1M51 7h1M52 9h1M52 10h1M53 12h1M55 15h1M56 18h1M57 21h1M57 31h1M54 34h1M42 35h5M37 36h1M39 36h4M37 37h1M39 37h5M45 37h1M115 37h1M40 38h10M51 38h1M111 38h1M113 38h5M46 39h1M48 39h1M50 39h12M63 39h1M67 39h1M98 39h2M101 39h2M104 39h5M110 39h1M58 40h1M62 40h1M65 40h6M72 40h4M77 40h18M96 40h6M105 40h1"/>
<path stroke="#57a0ca" d="M49 0h1M113 0h5M49 1h1M114 1h5M114 2h4M50 3h1M115 3h4M50 4h1M117 4h2M51 5h1M118 5h1M51 6h1M52 8h1M53 11h1M54 13h1M55 14h1M56 17h1M57 19h1M57 20h1M58 24h1M58 26h1M58 27h1M58 28h1M57 32h1M56 33h1M55 34h1M47 35h5M43 36h3M47 36h2M44 37h1M46 37h5M112 37h3M116 37h3M50 38h1M52 38h5M58 38h1M100 38h1M102 38h1M105 38h6M112 38h1M62 39h1M64 39h3M68 39h21M90 39h8M100 39h1M103 39h1M71 40h1M76 40h1"/>
<path stroke="#62a7ce" d="M112 0h1M113 1h1M50 2h1M113 2h1M113 3h2M114 4h3M115 5h3M116 6h3M52 7h1M116 7h3M118 8h1M118 9h1M53 10h1M54 12h1M56 16h1M58 22h1M58 23h1M58 25h1M58 29h1M58 30h1M56 34h1M52 35h2M118 35h1M46 36h1M49 36h4M113 36h6M51 37h4M58 37h1M108 37h4M57 38h1M59 38h8M68 38h4M75 38h1M80 38h1M83 38h1M90 38h1M92 38h8M101 38h1M103 38h2M89 39h1"/>
<path stroke="#6daed1" d="M111 0h1M50 1h1M112 1h1M112 2h1M51 3h1M112 3h1M51 4h1M113 5h2M52 6h1M114 6h2M114 7h2M53 8h1M115 8h3M53 9h1M115 9h3M116 10h3M54 11h1M118 11h1M118 12h1M55 13h1M118 13h1M56 15h1M57 18h1M58 21h1M54 35h2M114 35h4M53 36h5M108 36h5M55 37h3M59 37h5M96 37h1M98 37h1M100 37h8M67 38h1M72 38h3M76 38h4M81 38h2M84 38h6M91 38h1"/>
<path stroke="#78b5d5" d="M50 0h1M111 1h1M51 2h1M111 2h1M111 3h1M52 4h1M112 4h2M52 5h1M112 5h1M112 6h2M53 7h1M113 7h1M113 8h2M114 9h1M54 10h1M114 10h2M114 11h4M55 12h1M115 12h3M117 13h1M56 14h1M117 14h2M57 16h1M57 17h1M58 19h1M58 20h1M58 31h1M57 33h1M57 34h1M115 34h4M56 35h1M109 35h5M58 36h2M105 36h3M64 37h8M73 37h1M75 37h2M78 37h4M84 37h1M90 37h1M92 37h4M97 37h1M99 37h1"/>
<path stroke="#84bcd9" d="M51 0h1M110 0h1M51 1h1M110 1h1M110 2h1M52 3h1M111 4h1M111 5h1M53 6h1M112 7h1M112 8h1M54 9h1M113 9h1M113 10h1M113 11h1M114 12h1M56 13h1M116 13h1M116 14h1M57 15h1M117 15h2M118 16h1M118 17h1M58 18h1M59 24h1M59 25h1M59 26h1M59 27h1M59 28h1M118 31h1M58 32h1M117 32h1M115 33h4M111 34h4M57 35h2M107 35h2M60 36h6M97 36h1M99 36h6M72 37h1M74 37h1M77 37h1M82 37h2M85 37h5M91 37h1"/>
<path stroke="#8fc3dd" d="M109 0h1M52 2h1M109 2h1M110 3h1M53 4h1M110 4h1M53 5h1M111 6h1M111 7h1M54 8h1M111 8h1M112 9h1M112 10h1M55 11h1M113 12h1M113 13h3M114 14h2M115 15h2M116 16h2M58 17h1M116 17h2M117 18h2M117 19h2M118 20h1M59 21h1M118 21h1M59 22h1M118 22h1M59 23h1M59 29h1M118 29h1M59 30h1M118 30h1M117 31h1M116 32h1M118 32h1M58 33h1M113 33h2M58 34h1M109 34h2M59 35h3M102 35h5M66 36h11M78 36h6M85 36h1M91 36h6M98 36h1"/>
<path stroke="#98c8e0" d="M52 1h1M109 1h1M53 3h1M110 5h1M110 6h1M54 7h1M110 7h1M110 8h1M111 9h1M55 10h1M112 11h1M56 12h1M112 12h1M112 13h1M57 14h1M113 14h1M114 15h1M58 16h1M114 16h2M115 17h1M115 18h2M59 19h1M115 19h2M59 20h1M116 20h2M116 21h2M116 22h2M118 23h1M117 24h2M117 25h2M117 26h2M117 27h2M116 28h3M116 29h2M116 30h2M59 31h1M114 31h3M113 32h3M110 33h3M59 34h1M107 34h2M62 35h2M68 35h1M98 35h4M77 36h1M84 36h1M86 36h5"/>
<path stroke="#a1cde2" d="M52 0h1M53 2h1M109 3h1M109 4h1M54 5h1M54 6h1M109 6h1M55 8h1M55 9h1M110 9h1M111 10h1M56 11h1M111 11h1M111 12h1M57 13h1M112 14h1M58 15h1M112 15h2M113 16h1M113 17h2M59 18h1M114 18h1M114 19h1M115 20h1M115 21h1M115 22h1M115 23h3M60 24h1M115 24h2M60 25h1M114 25h3M60 26h1M115 26h2M114 27h3M115 28h1M114 29h2M114 30h2M112 31h2M59 32h1M111 32h2M59 33h1M108 33h2M60 34h1M103 34h4M64 35h4M69 35h2M72 35h3M77 35h1M93 35h5"/>
<path stroke="#aad1e5" d="M108 0h1M53 1h1M108 1h1M108 2h1M54 3h1M108 3h1M54 4h1M109 5h1M55 7h1M109 7h1M110 10h1M110 11h1M110 12h1M111 13h1M111 14h1M111 15h1M111 16h2M59 17h1M112 17h1M112 18h2M112 19h2M113 20h2M60 21h1M113 21h2M60 22h1M113 22h2M60 23h1M114 23h1M113 24h2M113 26h2M60 27h1M113 27h1M60 28h1M113 28h2M60 29h1M112 29h2M60 30h1M112 30h2M111 31h1M108 32h3M60 33h1M106 33h2M61 34h2M100 34h3M71 35h1M75 35h2M78 35h15"/>
<path stroke="#b3d6e7" d="M53 0h1M107 0h1M107 1h1M54 2h1M108 4h1M108 5h1M55 6h1M108 6h1M109 8h1M56 9h1M109 9h1M56 10h1M109 10h1M57 12h1M58 13h1M110 13h1M58 14h1M110 14h1M110 15h1M59 16h1M111 17h1M111 18h1M111 19h1M60 20h1M111 20h2M111 21h2M112 22h1M111 23h3M112 24h1M111 25h3M112 26h1M111 27h2M111 28h2M111 29h1M110 30h2M60 31h1M109 31h2M60 32h1M106 32h2M61 33h1M103 33h3M63 34h5M95 34h5"/>
<path stroke="#bcdaea" d="M54 1h1M107 2h1M107 3h1M55 4h1M107 4h1M55 5h1M56 7h1M108 7h1M56 8h1M108 8h1M108 10h1M57 11h1M109 11h1M109 12h1M109 13h1M109 14h1M59 15h1M109 15h1M110 16h1M60 17h1M110 17h1M60 18h1M110 18h1M60 19h1M110 19h1M110 20h1M110 21h1M110 22h2M110 23h1M61 24h1M110 24h2M61 25h1M110 25h1M61 26h1M110 26h2M61 27h1M61 28h1M110 28h1M61 29h1M109 29h2M61 30h1M108 30h2M106 31h3M61 32h1M104 32h2M62 33h2M101 33h2M68 34h7M76 34h4M81 34h2M91 34h4"/>
<path stroke="#c5dfec" d="M54 0h1M106 0h1M55 2h1M55 3h1M107 5h1M56 6h1M107 6h1M108 9h1M57 10h1M108 11h1M58 12h1M108 12h1M108 13h1M59 14h1M108 14h1M60 16h1M109 16h1M109 17h1M109 18h1M109 19h1M109 20h1M61 21h1M109 21h1M61 22h1M109 22h1M61 23h1M109 23h1M109 24h1M109 25h1M109 26h1M109 27h2M108 28h2M108 29h1M106 30h2M61 31h1M105 31h1M62 32h1M103 32h1M64 33h3M96 33h5M75 34h1M80 34h1M83 34h8"/>
<path stroke="#cde3ef" d="M55 0h1M55 1h1M106 1h1M106 2h1M106 3h1M56 5h1M106 5h1M107 7h1M57 8h1M107 8h1M57 9h1M107 9h1M107 10h1M58 11h1M107 11h1M59 13h1M60 15h1M108 15h1M108 16h1M108 17h1M108 18h1M61 19h1M108 19h1M61 20h1M108 20h1M108 21h1M108 22h1M108 23h1M108 24h1M107 25h2M62 26h1M107 26h2M107 27h2M62 28h1M107 28h1M62 29h1M106 29h2M62 30h1M104 30h2M62 31h1M103 31h2M63 32h1M100 32h3M67 33h3M94 33h2"/>
<path stroke="#d4e7f1" d="M56 2h1M56 3h1M56 4h1M106 4h1M106 6h1M57 7h1M106 7h1M106 8h1M106 9h1M107 12h1M107 13h1M60 14h1M107 14h1M107 15h1M107 16h1M107 17h1M61 18h1M107 18h1M107 19h1M107 20h1M107 21h1M107 22h1M107 23h1M62 24h1M107 24h1M62 25h1M106 25h1M106 26h1M62 27h1M105 28h2M104 29h2M103 30h1M63 31h1M102 31h1M64 32h2M98 32h2M70 33h14M85 33h1M88 33h2M91 33h3"/>
<path stroke="#dae9f2" d="M56 0h1M105 0h1M56 1h1M105 1h1M105 2h1M105 3h1M105 4h1M105 5h1M57 6h1M105 6h1M105 7h1M58 9h1M58 10h1M106 10h1M106 11h1M59 12h1M106 12h1M106 13h1M106 14h1M106 15h1M61 16h1M106 16h1M61 17h1M106 17h1M106 18h1M106 19h1M62 20h1M106 20h1M62 21h1M106 21h1M62 22h1M105 22h2M62 23h1M106 23h1M105 24h2M105 25h1M105 26h1M104 27h3M63 28h1M103 28h2M63 29h1M103 29h1M63 30h1M100 30h3M64 31h3M99 31h3M66 32h4M93 32h1M95 32h3M84 33h1M86 33h2M90 33h1"/>
<path stroke="#dfecf3" d="M57 2h1M57 4h1M57 5h1M58 8h1M105 8h1M105 9h1M59 10h1M105 10h1M59 11h1M60 12h1M105 12h1M60 13h1M105 13h1M61 15h1M105 15h1M105 16h1M105 17h1M62 18h1M105 18h1M62 19h1M105 19h1M105 20h1M105 21h1M104 23h2M63 24h1M104 24h1M63 25h1M104 25h1M63 26h1M103 26h2M63 27h1M103 27h1M102 28h1M101 29h2M64 30h2M99 30h1M68 31h1M95 31h4M70 32h10M81 32h1M83 32h1M85 32h1M89 32h1M91 32h2M94 32h1"/>
<path stroke="#e4eef4" d="M57 0h1M104 0h1M57 1h1M104 1h1M104 2h1M57 3h1M104 3h1M104 4h1M104 5h1M58 6h1M104 6h1M58 7h1M59 9h1M105 11h1M61 14h1M105 14h1M104 15h1M62 16h1M104 16h1M62 17h1M104 17h1M104 18h1M104 19h1M104 20h1M63 21h1M104 21h1M63 22h1M104 22h1M63 23h1M103 23h1M103 24h1M102 25h2M102 26h1M64 27h1M101 27h2M64 28h1M100 28h2M64 29h2M99 29h2M66 30h2M96 30h3M67 31h1M69 31h2M90 31h1M92 31h3M80 32h1M82 32h1M84 32h1M86 32h3M90 32h1"/>
<path stroke="#eaf1f5" d="M103 0h1M103 1h1M103 2h1M103 3h1M58 4h1M103 4h1M58 5h1M59 7h1M104 7h1M59 8h1M104 8h1M104 9h1M104 10h1M60 11h1M104 11h1M104 12h1M61 13h1M104 13h1M104 14h1M103 18h1M63 19h1M103 19h1M63 20h1M103 20h1M103 21h1M102 22h2M102 23h1M64 24h1M102 24h1M64 25h1M101 25h1M64 26h1M100 26h2M65 27h1M100 27h1M65 28h1M98 28h2M66 29h2M95 29h4M68 30h2M91 30h5M71 31h12M84 31h6M91 31h1"/>
<path stroke="#eff3f6" d="M58 0h1M58 1h1M58 2h1M58 3h1M103 5h1M59 6h1M103 6h1M103 7h1M60 10h1M61 12h1M103 13h1M62 14h1M103 14h1M62 15h1M103 15h1M103 16h1M63 17h1M103 17h1M63 18h1M102 19h1M102 20h1M64 21h1M101 21h2M64 22h1M101 22h1M64 23h1M101 23h1M100 24h2M99 25h2M65 26h1M99 26h1M66 27h1M97 27h3M66 28h2M95 28h3M68 29h3M91 29h4M70 30h21M83 31h1"/>
<path stroke="#f4f6f7" d="M59 0h1M102 0h1M102 1h1M59 2h1M102 2h1M59 3h1M102 3h1M59 4h1M59 5h1M60 8h1M103 8h1M60 9h1M103 9h1M61 10h1M103 10h1M61 11h1M103 11h1M103 12h1M62 13h1M63 15h1M102 15h1M63 16h1M102 16h1M102 17h1M101 18h2M64 19h1M101 19h1M64 20h1M101 20h1M100 21h1M100 22h1M65 23h1M100 23h1M65 24h1M99 24h1M65 25h2M98 25h1M66 26h2M98 26h1M67 27h2M96 27h1M68 28h2M92 28h3M71 29h15M87 29h3"/>
<path stroke="#f7f5f4" d="M59 1h1M102 4h1M102 5h1M60 6h1M102 6h1M60 7h1M102 7h1M102 8h1M61 9h1M102 9h1M102 10h1M102 11h1M62 12h1M102 12h1M102 13h1M63 14h1M102 14h1M64 16h1M101 16h1M64 17h1M101 17h1M64 18h1M100 19h1M100 20h1M65 21h1M65 22h1M98 22h2M98 23h2M66 24h1M97 24h2M67 25h1M96 25h2M68 26h1M94 26h4M69 27h1M93 27h3M70 28h3M74 28h1M76 28h1M81 28h2M84 28h2M87 28h5M86 29h1M90 29h1"/>
<path stroke="#f8f1ed" d="M101 0h1M101 1h1M101 2h1M101 3h1M60 4h1M60 5h1M61 8h1M62 11h1M101 12h1M63 13h1M101 13h1M101 14h1M101 15h1M65 17h1M100 17h1M65 18h1M100 18h1M65 19h1M99 19h1M65 20h1M99 20h1M66 21h1M99 21h1M66 22h1M66 23h2M67 24h2M96 24h1M68 25h1M95 25h1M69 26h2M93 26h1M70 27h2M73 27h1M90 27h3M73 28h1M75 28h1M77 28h4M83 28h1M86 28h1"/>
<path stroke="#f9ede6" d="M60 0h1M60 1h1M60 2h1M60 3h1M101 4h1M101 5h1M101 6h1M61 7h1M101 7h1M101 8h1M62 9h1M101 9h1M62 10h1M101 10h1M63 11h1M101 11h1M63 12h1M100 13h1M64 14h1M100 14h1M64 15h1M100 15h1M65 16h1M100 16h1M99 17h1M99 18h1M98 19h1M66 20h1M98 20h1M98 21h1M67 22h1M97 22h1M68 23h1M96 23h2M95 24h1M69 25h2M94 25h1M71 26h3M92 26h1M72 27h1M74 27h16"/>
<path stroke="#fae9df" d="M100 0h1M100 1h1M61 5h1M61 6h1M62 8h1M100 12h1M99 14h1M99 15h1M99 16h1M98 17h1M66 18h1M98 18h1M66 19h1M97 19h1M97 20h1M67 21h1M97 21h1M68 22h1M96 22h1M69 23h1M95 23h1M69 24h2M94 24h1M71 25h1M92 25h2M74 26h2M89 26h3"/>
<path stroke="#fbe5d9" d="M100 2h1M61 3h1M100 3h1M61 4h1M100 4h1M100 5h1M100 6h1M62 7h1M100 7h1M100 8h1M100 9h1M63 10h1M100 10h1M100 11h1M64 12h1M64 13h1M99 13h1M65 15h1M66 16h1M98 16h1M66 17h1M97 18h1M67 19h1M67 20h2M96 20h1M68 21h1M96 21h1M69 22h1M95 22h1M70 23h1M94 23h1M71 24h1M92 24h2M72 25h2M90 25h2M76 26h13"/>
<path stroke="#fce1d2" d="M61 1h1M61 2h1M62 6h1M63 9h1M64 11h1M99 12h1M65 14h1M98 14h1M98 15h1M97 17h1M67 18h1M68 19h1M69 21h1M95 21h1M70 22h1M94 22h1M71 23h1M93 23h1M72 24h1M91 24h1M74 25h3M87 25h3"/>
<path stroke="#fcddcb" d="M61 0h1M99 0h1M99 1h1M99 2h1M99 3h1M99 4h1M62 5h1M99 5h1M99 7h1M63 8h1M99 8h1M99 9h1M64 10h1M99 10h1M99 11h1M98 12h1M65 13h1M98 13h1M66 15h1M97 15h1M67 16h1M97 16h1M67 17h1M96 19h1M69 20h1M95 20h1M70 21h1M94 21h1M71 22h1M93 22h1M72 23h2M92 23h1M73 24h3M89 24h2M77 25h10"/>
<path stroke="#fcd8c3" d="M62 2h1M62 3h1M62 4h1M99 6h1M63 7h1M64 9h1M98 11h1M65 12h1M66 14h1M97 14h1M67 15h1M96 17h1M68 18h1M96 18h1M95 19h1M94 20h1M71 21h1M72 22h1M92 22h1M74 23h1M90 23h2M76 24h4M87 24h2"/>
<path stroke="#fbd0b9" d="M62 0h1M98 0h1M62 1h1M98 1h1M98 2h1M63 5h1M98 5h1M63 6h1M98 6h1M64 8h1M98 8h1M98 9h1M98 10h1M65 11h1M66 13h1M97 13h1M96 15h1M96 16h1M68 17h1M69 18h1M95 18h1M69 19h1M94 19h1M70 20h1M72 21h1M92 21h2M73 22h2M91 22h1M75 23h1M88 23h2M80 24h7"/>
<path stroke="#fac9b0" d="M98 3h1M63 4h1M98 4h1M64 7h1M98 7h1M65 10h1M97 11h1M66 12h1M97 12h1M67 14h1M96 14h1M68 16h1M69 17h1M95 17h1M70 19h1M71 20h1M93 20h1M91 21h1M89 22h2M76 23h5M82 23h1M87 23h1"/>
<path stroke="#f9c1a6" d="M97 0h1M97 1h1M63 2h1M97 2h1M63 3h1M64 6h1M97 8h1M65 9h1M97 9h1M97 10h1M66 11h1M67 13h1M68 15h1M95 16h1M70 18h1M94 18h1M71 19h1M93 19h1M72 20h1M92 20h1M73 21h2M90 21h1M75 22h2M88 22h1M81 23h1M83 23h4"/>
<path stroke="#f7ba9c" d="M63 1h1M97 3h1M97 4h1M64 5h1M97 5h1M97 6h1M65 7h1M97 7h1M65 8h1M66 10h1M96 12h1M96 13h1M68 14h1M95 15h1M69 16h1M94 16h1M70 17h1M94 17h1M71 18h1M93 18h1M72 19h1M73 20h1M91 20h1M75 21h1M89 21h1M77 22h4M85 22h1M87 22h1"/>
<path stroke="#f6b293" d="M63 0h1M96 0h1M64 4h1M66 9h1M96 9h1M96 10h1M96 11h1M67 12h1M68 13h1M95 13h1M95 14h1M69 15h1M70 16h1M93 17h1M73 19h1M92 19h1M74 20h1M90 20h1M76 21h1M88 21h1M81 22h4M86 22h1"/>
<path stroke="#f5aa89" d="M96 1h1M64 2h1M96 2h1M64 3h1M96 3h1M65 5h1M65 6h1M96 6h1M96 7h1M66 8h1M96 8h1M67 11h1M95 12h1M69 14h1M94 14h1M70 15h1M94 15h1M93 16h1M71 17h1M72 18h1M92 18h1M74 19h1M91 19h1M75 20h1M89 20h1M77 21h5M86 21h2"/>
<path stroke="#f3a280" d="M64 0h1M64 1h1M96 4h1M96 5h1M67 10h1M95 10h1M95 11h1M68 12h1M69 13h1M94 13h1M71 16h1M72 17h1M92 17h1M73 18h1M91 18h1M75 19h1M90 19h1M76 20h2M88 20h1M82 21h4"/>
<path stroke="#ef9878" d="M95 0h1M95 1h1M65 3h1M65 4h1M66 6h1M95 6h1M66 7h1M95 7h1M95 8h1M67 9h1M95 9h1M68 11h1M69 12h1M94 12h1M70 14h1M71 15h1M93 15h1M72 16h1M92 16h1M73 17h1M74 18h1M90 18h1M76 19h1M89 19h1M78 20h3M86 20h2"/>
<path stroke="#ea8f71" d="M65 1h1M65 2h1M95 2h1M95 3h1M95 4h1M66 5h1M95 5h1M67 8h1M68 10h1M94 10h1M94 11h1M70 13h1M93 13h1M71 14h1M93 14h1M92 15h1M74 17h1M91 17h1M75 18h1M77 19h1M88 19h1M81 20h5"/>
<path stroke="#e68569" d="M65 0h1M94 0h1M66 3h1M66 4h1M67 7h1M68 8h1M68 9h1M69 11h1M70 12h1M72 15h1M73 16h1M91 16h1M75 17h1M76 18h1M89 18h1M78 19h3M86 19h2"/>
<path stroke="#e27b62" d="M66 1h1M94 1h1M66 2h1M94 2h1M94 3h1M94 4h1M67 5h1M94 5h1M67 6h1M94 6h1M94 7h1M94 8h1M94 9h1M69 10h1M93 11h1M93 12h1M71 13h1M72 14h1M92 14h1M73 15h1M74 16h2M76 17h1M90 17h1M77 18h2M88 18h1M81 19h5"/>
<path stroke="#de715a" d="M66 0h1M93 0h1M93 1h1M93 2h1M67 3h1M67 4h1M68 7h1M69 9h1M93 10h1M70 11h1M71 12h1M72 13h1M92 13h1M73 14h1M74 15h1M91 15h1M76 16h1M90 16h1M77 17h2M88 17h2M79 18h2M86 18h2"/>
<path stroke="#d96853" d="M67 1h1M67 2h1M93 3h1M93 4h1M93 5h1M68 6h1M93 6h1M93 7h1M69 8h1M93 8h1M93 9h1M70 10h1M71 11h1M92 11h1M72 12h1M92 12h1M91 13h1M74 14h1M91 14h1M75 15h1M90 15h1M77 16h1M89 16h1M87 17h1M81 18h5"/>
<path stroke="#d55e4c" d="M67 0h1M92 0h1M68 3h1M68 4h1M68 5h1M69 7h1M92 8h1M70 9h1M71 10h1M92 10h1M91 12h1M73 13h1M75 14h1M90 14h1M76 15h1M89 15h1M78 16h1M79 17h2M85 17h2"/>
<path stroke="#d05447" d="M92 1h1M68 2h1M92 2h1M92 3h1M92 5h1M69 6h1M92 6h1M92 7h1M70 8h1M71 9h1M92 9h1M72 11h1M91 11h1M73 12h1M74 13h2M90 13h1M76 14h2M77 15h2M79 16h1M87 16h2M81 17h4"/>
<path stroke="#cb4a42" d="M68 0h1M91 0h1M68 1h1M91 1h1M69 4h1M92 4h1M69 5h1M70 6h1M70 7h1M71 8h1M91 9h1M72 10h1M91 10h1M73 11h2M74 12h2M76 13h1M89 14h1M79 15h1M88 15h1M80 16h2M85 16h2"/>
<path stroke="#c6403e" d="M69 2h1M91 2h1M69 3h1M91 3h1M91 4h1M70 5h1M91 5h1M91 6h1M91 7h1M91 8h1M72 9h1M73 10h1M90 11h1M90 12h1M77 13h2M89 13h1M78 14h1M88 14h1M80 15h1M86 15h2M82 16h3"/>
<path stroke="#c13539" d="M90 0h1M69 1h1M90 1h1M90 2h1M70 4h1M90 4h1M71 6h1M71 7h1M72 8h1M90 8h1M73 9h1M90 9h1M74 10h1M90 10h1M75 11h2M76 12h3M89 12h1M79 13h1M88 13h1M79 14h2M87 14h1M81 15h3M85 15h1"/>
<path stroke="#bc2b34" d="M69 0h1M89 0h1M70 1h1M89 1h1M70 2h1M70 3h1M90 3h1M71 5h1M90 5h1M90 6h1M72 7h1M90 7h1M73 8h1M74 9h2M75 10h2M89 10h1M77 11h1M89 11h1M88 12h1M86 13h2M81 14h2M85 14h2M84 15h1"/>
<path stroke="#b7212f" d="M70 0h1M88 0h1M89 2h1M89 3h1M71 4h1M89 4h1M89 5h1M72 6h1M89 6h1M73 7h1M89 7h1M74 8h1M89 8h1M76 9h1M89 9h1M77 10h1M78 11h1M79 12h1M87 12h1M80 13h2M83 14h2"/>
<path stroke="#b1182b" d="M71 0h1M87 0h1M71 1h1M88 1h1M71 2h1M88 2h1M71 3h2M72 4h1M72 5h2M73 6h1M74 7h1M75 8h1M88 8h1M77 9h1M88 9h1M78 10h2M88 10h1M79 11h2M87 11h2M80 12h2M86 12h1M82 13h4"/>
<path stroke="#a61429" d="M72 0h1M86 0h1M72 1h1M87 1h1M72 2h1M87 2h1M87 3h2M73 4h1M88 4h1M87 5h2M74 6h1M87 6h2M75 7h1M88 7h1M76 8h2M87 8h1M78 9h2M80 10h1M87 10h1M81 11h1M86 11h1M82 12h1M84 12h2"/>
<path stroke="#9c1127" d="M85 0h1M73 1h1M85 1h2M73 2h1M86 2h1M73 3h1M86 3h1M74 4h1M84 4h1M86 4h2M74 5h1M86 5h1M75 6h2M86 6h1M76 7h4M87 7h1M78 8h3M86 8h1M80 9h2M86 9h2M81 10h2M86 10h1M82 11h2M85 11h1M83 12h1"/>
<path stroke="#910e26" d="M73 0h1M82 0h3M82 1h3M74 2h1M81 2h1M83 2h3M74 3h1M83 3h3M75 4h1M81 4h3M85 4h1M75 5h1M81 5h1M83 5h3M77 6h9M80 7h3M84 7h3M81 8h3M85 8h1M82 9h4M83 10h3M84 11h1"/>
<path stroke="#870a24" d="M74 0h1M78 0h1M80 0h2M74 1h2M79 1h3M75 2h1M77 2h1M79 2h2M82 2h1M75 3h1M78 3h5M76 4h5M76 5h2M79 5h2M82 5h1M83 7h1M84 8h1"/>
<path stroke="#7c0722" d="M75 0h3M79 0h1M76 1h3M76 2h1M78 2h1M76 3h2M78 5h1"/>
</g></g>
<clipPath id="kb2"><rect x="1303.5" y="448.0" width="712.8" height="394.0"/></clipPath>
<g clip-path="url(#kb2)"><g transform="translate(1303 451) scale(6 6)" fill="none" stroke-width="1.04" shape-rendering="crispEdges">
<path stroke="#114781" d="M67 0h1M66 1h3"/>
<path stroke="#154e8b" d="M51 0h1M64 0h3M68 0h1M64 1h2M66 2h3M66 3h3M67 4h1"/>
<path stroke="#195696" d="M50 0h1M52 0h5M62 0h2M69 0h1M50 1h7M63 1h1M69 1h1M50 2h1M52 2h4M63 2h3M69 2h1M51 3h4M64 3h2M51 4h3M55 4h1M65 4h2M68 4h1M66 5h3"/>
<path stroke="#1d5ea0" d="M48 0h2M57 0h3M61 0h1M48 1h2M57 1h6M70 1h1M49 2h1M51 2h1M56 2h7M49 3h2M55 3h5M61 3h3M69 3h1M50 4h1M54 4h1M56 4h3M62 4h3M69 4h1M50 5h8M64 5h2M52 6h1M54 6h1M65 6h4"/>
<path stroke="#2165ab" d="M47 0h1M60 0h1M70 0h1M47 1h1M47 2h2M70 2h1M48 3h1M60 3h1M70 3h1M49 4h1M59 4h3M70 4h1M49 5h1M58 5h6M69 5h1M50 6h2M53 6h1M55 6h10M69 6h1M51 7h6M58 7h2M64 7h5M55 8h1M65 8h1M67 8h1"/>
<path stroke="#256caf" d="M46 0h1M46 1h1M46 2h1M47 3h1M47 4h2M48 5h1M70 5h1M48 6h2M70 6h1M49 7h2M57 7h1M60 7h4M49 8h6M56 8h9M66 8h1M68 8h1M52 9h2M55 9h7M64 9h3M54 10h1M57 10h3M61 10h1"/>
<path stroke="#2a72b2" d="M45 0h1M71 0h1M45 1h1M71 1h1M71 2h1M46 3h1M71 3h1M46 4h1M71 4h1M46 5h2M47 6h1M47 7h2M69 7h1M48 8h1M69 8h1M49 9h3M54 9h1M62 9h2M67 9h2M50 10h4M55 10h2M60 10h1M62 10h6M51 11h15M53 12h11M54 13h3M58 13h2M61 13h1M57 14h4"/>
<path stroke="#2f78b5" d="M43 0h2M43 1h2M43 2h3M44 3h2M44 4h2M45 5h1M71 5h1M45 6h2M46 7h1M70 7h1M47 8h1M70 8h1M47 9h2M69 9h1M47 10h3M68 10h1M48 11h3M66 11h3M48 12h1M50 12h3M64 12h4M50 13h4M57 13h1M60 13h1M62 13h4M50 14h7M61 14h4M54 15h9M54 16h1M58 16h1M60 16h3M56 17h1M59 17h2"/>
<path stroke="#347fb9" d="M40 0h3M41 1h2M42 2h1M42 3h2M42 4h2M43 5h2M44 6h1M71 6h1M44 7h2M71 7h1M45 8h2M46 9h1M70 9h1M45 10h2M69 10h1M47 11h1M69 11h1M47 12h1M49 12h1M68 12h1M47 13h3M66 13h2M48 14h2M65 14h3M48 15h6M63 15h3M49 16h5M55 16h3M59 16h1M63 16h2M50 17h6M57 17h2M61 17h4M54 18h8M55 19h1M58 19h1M60 19h1"/>
<path stroke="#3885bc" d="M38 0h2M38 1h3M39 2h3M39 3h3M72 3h1M41 4h1M40 5h3M40 6h4M40 7h4M41 8h4M71 8h1M42 9h4M44 10h1M70 10h1M44 11h3M43 12h1M45 12h2M69 12h1M45 13h2M68 13h2M45 14h3M68 14h1M45 15h3M66 15h2M46 16h3M65 16h2M44 17h1M46 17h4M46 18h1M48 18h6M62 18h3M49 19h6M56 19h2M59 19h1M61 19h3M52 20h10M55 21h1M57 21h1M53 22h1"/>
<path stroke="#3d8bbf" d="M27 0h1M29 0h2M33 0h5M72 0h1M33 1h1M36 1h2M72 1h1M33 2h2M36 2h3M72 2h1M23 3h1M26 3h1M30 3h9M23 4h1M30 4h1M32 4h1M34 4h1M36 4h5M72 4h1M31 5h2M36 5h4M72 5h1M36 6h4M72 6h1M32 7h1M36 7h4M29 8h1M33 8h1M35 8h3M39 8h2M36 9h1M38 9h1M40 9h2M71 9h1M34 10h1M39 10h5M37 11h1M40 11h4M70 11h1M38 12h1M41 12h2M44 12h1M34 13h1M37 13h1M39 13h1M41 13h4M34 14h1M38 14h1M41 14h4M69 14h1M40 15h5M68 15h1M39 16h7M67 16h2M41 17h3M45 17h1M65 17h2M43 18h3M47 18h1M65 18h2M42 19h7M64 19h1M44 20h8M62 20h1M46 21h9M56 21h1M58 21h4M44 22h1M50 22h3M54 22h7M47 23h1M50 23h3M54 23h3M58 23h1M46 24h1M53 24h2M56 24h3M53 25h1M56 25h1"/>
<path stroke="#4292c2" d="M4 0h23M28 0h1M31 0h2M4 1h29M34 1h2M4 2h29M35 2h1M5 3h18M24 3h2M27 3h3M4 4h19M24 4h6M31 4h1M33 4h1M35 4h1M6 5h2M10 5h21M33 5h3M5 6h2M9 6h27M7 7h25M33 7h3M72 7h1M9 8h1M11 8h1M13 8h16M30 8h3M34 8h1M38 8h1M72 8h1M6 9h2M9 9h1M12 9h1M14 9h22M37 9h1M39 9h1M10 10h1M12 10h4M19 10h8M28 10h6M35 10h4M71 10h1M14 11h1M16 11h1M19 11h18M38 11h2M71 11h1M18 12h4M23 12h2M26 12h12M39 12h2M70 12h1M23 13h1M25 13h1M27 13h7M35 13h2M38 13h1M40 13h1M70 13h1M22 14h1M25 14h3M29 14h1M31 14h3M35 14h3M39 14h2M27 15h13M69 15h1M27 16h12M69 16h1M27 17h1M31 17h10M67 17h2M29 18h1M31 18h12M32 19h1M34 19h8M65 19h2M31 20h3M36 20h1M38 20h6M63 20h2M38 21h8M62 21h2M35 22h1M37 22h1M40 22h4M45 22h5M61 22h2M36 23h1M39 23h4M44 23h3M48 23h2M53 23h1M57 23h1M59 23h3M39 24h7M47 24h6M55 24h1M59 24h2M38 25h15M54 25h2M57 25h3M40 26h20M39 27h13M53 27h4M58 27h1M41 28h7M49 28h5M55 28h2M45 29h7M54 29h1M45 30h3M49 30h1"/>
<path stroke="#4c99c6" d="M2 0h2M3 1h1M3 2h1M2 3h3M3 4h1M2 5h4M8 5h2M2 6h3M7 6h2M3 7h4M3 8h6M10 8h1M12 8h1M3 9h3M8 9h1M10 9h2M13 9h1M72 9h1M4 10h6M11 10h1M16 10h3M27 10h1M72 10h1M5 11h2M8 11h6M15 11h1M17 11h2M4 12h1M6 12h12M22 12h1M25 12h1M71 12h1M5 13h1M7 13h16M24 13h1M26 13h1M71 13h1M8 14h1M10 14h2M13 14h9M23 14h2M28 14h1M30 14h1M70 14h1M10 15h1M12 15h15M70 15h1M13 16h1M15 16h2M18 16h9M70 16h1M13 17h1M17 17h10M28 17h3M69 17h1M14 18h1M18 18h1M21 18h8M30 18h1M67 18h2M20 19h12M33 19h1M67 19h1M21 20h1M23 20h8M34 20h2M37 20h1M65 20h2M22 21h2M26 21h12M64 21h2M24 22h11M36 22h1M38 22h2M63 22h2M27 23h9M37 23h2M43 23h1M62 23h1M30 24h9M61 24h2M28 25h10M60 25h2M28 26h1M30 26h10M60 26h1M32 27h7M52 27h1M57 27h1M59 27h1M34 28h7M48 28h1M54 28h1M57 28h2M37 29h8M52 29h2M55 29h2M40 30h5M48 30h1M50 30h6M43 31h9"/>
<path stroke="#57a0ca" d="M0 0h2M0 1h3M0 2h3M1 3h1M0 4h3M73 4h1M1 5h1M73 6h1M1 7h2M1 8h2M1 9h2M2 10h2M2 11h3M7 11h1M72 11h1M2 12h2M5 12h1M3 13h2M6 13h1M4 14h4M9 14h1M12 14h1M71 14h1M4 15h6M11 15h1M4 16h9M14 16h1M17 16h1M6 17h2M9 17h4M14 17h3M10 18h4M15 18h3M19 18h2M12 19h8M68 19h1M14 20h7M22 20h1M67 20h1M14 21h8M24 21h2M66 21h1M16 22h8M65 22h1M19 23h1M21 23h6M63 23h2M21 24h1M23 24h7M63 24h1M24 25h4M62 25h1M27 26h1M29 26h1M61 26h1M28 27h4M60 27h1M30 28h4M59 28h1M33 29h4M57 29h2M35 30h5M56 30h1M38 31h5M52 31h4M43 32h8"/>
<path stroke="#62a7ce" d="M73 0h1M73 1h1M73 2h1M0 3h1M73 3h1M0 5h1M73 5h1M0 6h2M0 7h1M73 7h1M0 8h1M0 9h1M0 10h2M0 11h2M1 12h1M72 12h1M2 13h1M72 13h1M1 14h3M3 15h1M71 15h1M3 16h1M71 16h1M3 17h3M8 17h1M70 17h1M4 18h6M69 18h1M7 19h5M69 19h1M7 20h2M10 20h4M68 20h1M10 21h4M67 21h1M12 22h4M66 22h1M14 23h5M20 23h1M65 23h1M17 24h1M19 24h2M22 24h1M64 24h1M19 25h5M63 25h2M22 26h5M62 26h2M25 27h3M61 27h1M27 28h3M60 28h1M29 29h2M32 29h1M59 29h1M32 30h3M57 30h1M36 31h2M56 31h1M40 32h3M51 32h3M44 33h5"/>
<path stroke="#6daed1" d="M73 8h1M73 9h1M73 10h1M73 11h1M0 12h1M0 13h2M0 14h1M72 14h1M0 15h3M1 16h2M2 17h1M71 17h1M2 18h2M70 18h1M2 19h5M4 20h3M9 20h1M5 21h5M68 21h1M8 22h4M67 22h1M10 23h4M66 23h1M14 24h3M18 24h1M65 24h1M16 25h3M18 26h4M64 26h1M22 27h3M62 27h1M24 28h3M61 28h1M27 29h2M31 29h1M60 29h1M30 30h2M58 30h1M33 31h3M57 31h1M37 32h3M54 32h1M41 33h3M49 33h3"/>
<path stroke="#78b5d5" d="M73 12h1M72 15h1M0 16h1M0 17h2M0 18h2M71 18h1M1 19h1M70 19h1M3 20h1M69 20h1M2 21h3M3 22h5M68 22h1M6 23h4M67 23h1M9 24h5M66 24h1M12 25h4M65 25h1M16 26h2M18 27h4M63 27h1M22 28h2M62 28h1M26 29h1M61 29h1M27 30h3M59 30h1M31 31h2M58 31h1M34 32h3M55 32h1M39 33h2M52 33h1M45 34h3"/>
<path stroke="#84bcd9" d="M74 3h1M74 4h1M74 5h1M74 6h1M74 7h1M74 9h1M74 10h1M73 13h1M73 14h1M72 16h1M72 17h1M0 19h1M71 19h1M0 20h3M70 20h1M0 21h2M69 21h1M1 22h2M69 22h1M3 23h3M68 23h1M5 24h4M67 24h1M10 25h2M66 25h1M12 26h4M65 26h1M15 27h3M64 27h1M19 28h3M63 28h1M23 29h3M62 29h1M26 30h1M60 30h1M29 31h2M59 31h1M33 32h1M56 32h2M36 33h3M53 33h1M42 34h3M48 34h3"/>
<path stroke="#8fc3dd" d="M74 0h1M74 1h1M74 2h1M74 8h1M74 11h1M73 15h1M72 18h1M71 20h1M70 21h1M0 22h1M1 23h2M4 24h1M6 25h4M67 25h1M9 26h3M66 26h1M12 27h3M65 27h1M16 28h3M64 28h1M20 29h3M63 29h1M24 30h2M61 30h1M27 31h2M60 31h1M31 32h2M34 33h2M54 33h2M39 34h3M51 34h1"/>
<path stroke="#98c8e0" d="M74 12h1M74 13h1M73 16h1M73 17h1M72 19h1M71 21h1M70 22h1M0 23h1M69 23h1M0 24h4M68 24h2M3 25h3M7 26h2M67 26h1M10 27h2M66 27h1M14 28h2M65 28h1M16 29h4M20 30h1M22 30h2M62 30h1M26 31h1M61 31h1M29 32h2M58 32h1M32 33h1M38 34h1M52 34h1M43 35h7"/>
<path stroke="#a1cde2" d="M75 9h1M74 14h1M74 15h1M74 16h1M73 18h1M72 20h1M70 23h1M0 25h3M68 25h1M4 26h3M7 27h3M67 27h1M10 28h4M66 28h1M14 29h2M64 29h1M18 30h1M21 30h1M63 30h1M24 31h2M62 31h1M27 32h2M59 32h1M31 33h1M33 33h1M56 33h1M35 34h3M53 34h1M41 35h2M50 35h1"/>
<path stroke="#aad1e5" d="M75 2h1M75 3h1M75 4h1M75 5h1M75 6h1M75 7h1M75 8h1M75 10h1M75 11h1M75 12h1M74 17h1M73 19h1M72 21h1M71 22h1M71 23h1M70 24h1M69 25h1M0 26h4M68 26h1M4 27h3M7 28h3M67 28h1M12 29h2M65 29h1M16 30h2M19 30h1M64 30h1M21 31h3M25 32h2M60 32h2M29 33h2M57 33h1M33 34h2M54 34h1M37 35h4M51 35h2"/>
<path stroke="#b3d6e7" d="M75 0h1M75 1h1M75 13h1M75 14h1M74 18h1M73 20h1M72 22h1M70 25h1M69 26h1M2 27h2M68 27h1M5 28h2M9 29h3M66 29h1M12 30h4M17 31h4M63 31h1M22 32h3M27 33h2M58 33h1M31 34h2M55 34h1M36 35h1M44 36h4"/>
<path stroke="#bcdaea" d="M75 15h1M75 16h1M75 17h1M74 19h1M73 21h1M73 22h1M72 23h1M71 24h1M70 26h1M0 27h2M69 27h1M2 28h3M68 28h1M5 29h4M67 29h1M9 30h3M65 30h2M15 31h2M64 31h1M20 32h2M62 32h1M25 33h2M59 33h1M29 34h2M56 34h1M34 35h2M53 35h1M41 36h3M48 36h3"/>
<path stroke="#c5dfec" d="M76 4h1M76 5h1M76 6h1M76 7h1M76 8h1M76 9h1M76 10h1M76 11h1M76 12h1M76 14h1M75 18h1M75 19h1M74 20h1M74 21h1M73 23h1M72 24h1M71 25h2M70 27h1M0 28h2M69 28h1M2 29h3M68 29h1M6 30h3M11 31h4M65 31h1M17 32h3M63 32h1M22 33h3M60 33h1M28 34h1M57 34h1M32 35h2M54 35h1M37 36h4M51 36h1"/>
<path stroke="#cde3ef" d="M76 1h1M76 2h1M76 3h1M76 13h1M76 15h1M76 16h1M75 20h1M74 22h1M73 24h1M71 26h2M71 27h1M70 28h1M0 29h2M2 30h4M67 30h2M6 31h1M9 31h2M66 31h1M14 32h3M64 32h1M20 33h2M61 33h2M25 34h3M58 34h1M31 35h1M55 35h1M34 36h3M52 36h2M44 37h1M46 37h1"/>
<path stroke="#d4e7f1" d="M76 0h1M77 8h1M77 9h1M77 10h1M77 11h1M77 12h1M77 13h1M76 17h1M76 18h1M76 20h1M75 21h1M75 22h1M74 23h1M74 24h1M73 25h1M73 26h1M71 28h1M69 29h2M0 30h2M69 30h1M2 31h4M7 31h2M67 31h1M10 32h4M65 32h1M14 33h2M17 33h3M63 33h1M22 34h3M59 34h2M27 35h4M56 35h1M31 36h3M54 36h1M38 37h6M45 37h1M47 37h4"/>
<path stroke="#dae9f2" d="M77 4h1M77 5h1M77 6h1M77 7h1M77 14h1M77 15h1M77 16h1M76 19h1M76 22h1M75 23h1M74 25h1M74 26h1M72 27h2M71 29h1M70 30h1M1 31h1M68 31h1M4 32h6M66 32h1M9 33h2M12 33h2M16 33h1M64 33h1M18 34h4M61 34h2M24 35h3M57 35h2M29 36h2M55 36h2M35 37h3M51 37h3M42 38h1M44 38h2"/>
<path stroke="#dfecf3" d="M77 1h1M77 2h1M77 3h1M78 8h1M78 9h1M78 10h1M78 11h1M78 12h1M78 13h1M78 14h1M77 17h1M77 18h1M77 19h1M77 20h1M76 21h1M75 24h1M75 25h1M75 26h1M74 27h1M72 28h2M72 29h1M71 30h2M0 31h1M69 31h2M0 32h4M67 32h2M5 33h4M11 33h1M65 33h2M13 34h5M63 34h1M17 35h1M20 35h4M59 35h2M22 36h7M57 36h1M31 37h4M54 37h1M36 38h6M43 38h1M46 38h6M42 39h1M44 39h1M47 39h1"/>
<path stroke="#e4eef4" d="M77 0h1M78 6h1M78 7h1M78 15h1M78 16h1M78 17h1M78 18h1M78 19h1M77 21h1M77 22h1M76 23h1M76 24h1M76 25h1M75 27h2M74 28h2M73 29h2M73 30h1M71 31h2M69 32h3M0 33h5M67 33h3M0 34h1M4 34h9M64 34h2M8 35h1M10 35h7M18 35h2M61 35h2M14 36h2M19 36h3M58 36h1M20 37h5M26 37h5M55 37h2M25 38h1M30 38h6M52 38h3M32 39h2M35 39h7M43 39h1M45 39h2M48 39h3M52 39h1M40 40h5"/>
<path stroke="#eaf1f5" d="M78 1h1M78 2h1M78 3h1M78 4h1M78 5h2M79 7h1M79 8h1M79 9h1M79 10h1M79 11h1M79 12h1M79 13h1M79 14h1M79 15h1M79 16h1M79 17h1M79 18h1M79 19h1M78 20h2M78 21h2M78 22h2M77 23h2M77 24h2M77 25h2M76 26h2M77 27h1M76 28h1M75 29h2M74 30h3M73 31h4M72 32h2M75 32h1M70 33h3M1 34h3M66 34h5M0 35h2M3 35h5M9 35h1M63 35h3M3 36h2M6 36h8M16 36h3M59 36h4M64 36h1M1 37h1M3 37h1M7 37h5M13 37h7M25 37h1M57 37h4M5 38h1M12 38h3M16 38h9M26 38h4M55 38h3M12 39h1M18 39h1M20 39h6M27 39h5M34 39h1M51 39h1M53 39h3M7 40h1M18 40h1M21 40h4M27 40h1M29 40h11M45 40h10M28 41h1M31 41h1M33 41h14M48 41h3M40 42h2"/>
<path stroke="#eff3f6" d="M78 0h1M79 2h1M79 3h1M79 4h1M79 6h1M80 8h1M80 9h1M80 10h1M80 11h1M80 12h1M80 13h1M80 14h1M80 15h1M80 16h1M80 17h1M80 18h2M80 19h1M80 20h1M80 21h2M80 22h1M79 23h2M79 24h2M79 25h1M78 26h2M78 27h3M77 28h2M77 29h3M77 30h2M77 31h3M74 32h1M76 32h3M73 33h5M71 34h5M2 35h1M66 35h8M0 36h3M5 36h1M63 36h1M65 36h7M73 36h1M0 37h1M2 37h1M4 37h3M12 37h1M61 37h6M69 37h2M0 38h5M6 38h6M15 38h1M58 38h7M66 38h1M0 39h12M13 39h5M19 39h1M26 39h1M56 39h6M0 40h7M8 40h10M19 40h2M25 40h2M28 40h1M55 40h6M64 40h1M0 41h28M29 41h2M32 41h1M47 41h1M51 41h8M60 41h1M64 41h1M68 41h1M0 42h16M17 42h23M42 42h15M58 42h1M0 43h22M24 43h23M48 43h3M53 43h1M55 43h2M58 43h1M65 43h1M0 44h16M17 44h2M20 44h1M23 44h1M25 44h3M30 44h1M34 44h2M37 44h1M40 44h2M44 44h2M47 44h1M52 44h2M0 45h13M15 45h2M20 45h2M23 45h3M29 45h2M32 45h1M39 45h1M44 45h1M46 45h1M1 46h11M13 46h3M18 46h3M22 46h5M30 46h2M33 46h2M36 46h2M39 46h1M45 46h1M47 46h1M50 46h1M0 47h1M2 47h4M7 47h4M12 47h1M16 47h3M20 47h1M25 47h1M27 47h2M31 47h1M33 47h1M43 47h1M46 47h2M49 47h1M52 47h1M0 48h3M4 48h2M8 48h3M14 48h2M18 48h3M23 48h2M26 48h1M28 48h1M31 48h2M39 48h1M44 48h1M47 48h1M53 48h1M0 49h10M11 49h1M13 49h2M17 49h1M19 49h2M24 49h1M26 49h2M30 49h1M32 49h2M35 49h1M44 49h1M1 50h7M9 50h3M13 50h2M17 50h1M22 50h1M30 50h1M1 51h3M5 51h1M8 51h4M14 51h2M18 51h2M23 51h3M27 51h1M29 51h1M3 52h2M6 52h2M9 52h2M13 52h1M17 52h1M29 52h1M35 52h1M0 53h2M6 53h3M13 53h1M16 53h1M22 53h1M25 53h1M27 53h1M30 53h1M49 53h1M1 54h1M3 54h1M6 54h3M10 54h1M16 54h2M22 54h1M0 55h1M2 55h1M4 55h3M8 55h1M13 55h1M23 55h1M3 56h1M5 56h2M8 56h3M12 56h1M18 56h2M1 57h1M4 57h2M9 57h2M14 57h1M16 57h1M20 57h1M26 57h1M7 58h1M13 58h1M0 59h1M3 59h1M5 59h1M8 59h3M12 59h1M1 60h1M22 60h1M4 61h1M6 62h1M8 62h1M0 63h1M4 63h1M0 64h1M14 65h1"/>
<path stroke="#f4f6f7" d="M79 0h1M79 1h1M80 5h1M80 6h1M80 7h1M81 9h1M81 10h1M81 11h1M81 12h1M81 13h1M81 14h1M81 15h1M81 16h2M81 17h1M81 19h1M81 20h1M81 22h1M81 23h1M81 24h2M80 25h3M80 26h3M81 27h2M79 28h3M80 29h3M79 30h4M80 31h3M79 32h3M78 33h4M83 33h1M76 34h6M74 35h8M72 36h1M74 36h9M67 37h2M71 37h10M83 37h1M65 38h1M67 38h16M62 39h14M77 39h1M79 39h3M61 40h3M65 40h17M84 40h1M59 41h1M61 41h3M65 41h3M69 41h10M81 41h1M16 42h1M57 42h1M59 42h13M73 42h8M87 42h1M22 43h2M47 43h1M51 43h2M54 43h1M57 43h1M59 43h6M66 43h13M80 43h3M16 44h1M19 44h1M21 44h2M24 44h1M28 44h2M31 44h3M36 44h1M38 44h2M42 44h2M46 44h1M48 44h4M54 44h16M71 44h8M80 44h2M13 45h2M17 45h3M22 45h1M26 45h3M31 45h1M33 45h6M40 45h4M45 45h1M47 45h21M69 45h5M75 45h2M78 45h3M0 46h1M12 46h1M16 46h2M21 46h1M27 46h3M32 46h1M35 46h1M38 46h1M40 46h5M46 46h1M48 46h2M51 46h25M78 46h4M84 46h1M1 47h1M6 47h1M11 47h1M13 47h3M19 47h1M21 47h4M26 47h1M29 47h2M32 47h1M34 47h9M44 47h2M48 47h1M50 47h2M53 47h16M70 47h3M74 47h5M82 47h1M3 48h1M6 48h2M11 48h3M16 48h2M21 48h2M25 48h1M27 48h1M29 48h2M33 48h6M40 48h4M45 48h2M48 48h5M54 48h23M78 48h3M83 48h2M10 49h1M12 49h1M15 49h2M18 49h1M21 49h3M25 49h1M28 49h2M31 49h1M34 49h1M36 49h8M45 49h22M68 49h4M75 49h1M78 49h5M0 50h1M8 50h1M12 50h1M15 50h2M18 50h4M23 50h7M31 50h42M74 50h4M79 50h1M81 50h2M84 50h1M0 51h1M4 51h1M6 51h2M12 51h2M16 51h2M20 51h3M26 51h1M28 51h1M30 51h37M68 51h4M73 51h2M76 51h7M85 51h1M0 52h3M5 52h1M8 52h1M11 52h2M14 52h3M18 52h11M30 52h5M36 52h17M54 52h17M72 52h3M76 52h2M79 52h1M84 52h1M2 53h4M9 53h4M14 53h2M17 53h5M23 53h2M26 53h1M28 53h2M31 53h18M50 53h23M74 53h4M80 53h1M0 54h1M2 54h1M4 54h2M9 54h1M11 54h5M18 54h4M23 54h51M77 54h3M81 54h1M1 55h1M3 55h1M7 55h1M9 55h4M14 55h9M24 55h40M65 55h7M74 55h1M76 55h1M78 55h1M80 55h1M83 55h1M88 55h1M0 56h3M4 56h1M7 56h1M11 56h1M13 56h5M20 56h34M55 56h9M66 56h7M74 56h4M79 56h2M84 56h1M0 57h1M2 57h2M6 57h3M11 57h3M15 57h1M17 57h3M21 57h5M27 57h21M49 57h9M59 57h3M63 57h3M67 57h5M73 57h1M75 57h2M80 57h1M0 58h7M8 58h5M14 58h37M52 58h17M71 58h3M75 58h1M77 58h4M83 58h1M1 59h2M4 59h1M6 59h2M11 59h1M13 59h42M56 59h5M63 59h1M65 59h2M68 59h5M75 59h5M81 59h3M86 59h1M0 60h1M2 60h20M23 60h32M57 60h8M67 60h4M72 60h4M77 60h2M83 60h1M0 61h4M5 61h41M48 61h16M67 61h2M70 61h1M72 61h2M75 61h1M79 61h4M84 61h1M86 61h1M0 62h6M7 62h1M9 62h29M39 62h5M45 62h7M53 62h2M56 62h4M62 62h3M66 62h1M68 62h6M75 62h1M79 62h1M84 62h1M1 63h3M5 63h54M60 63h1M62 63h2M65 63h3M70 63h4M77 63h1M79 63h1M81 63h1M83 63h1M85 63h1M1 64h31M33 64h11M45 64h9M55 64h2M58 64h2M61 64h1M65 64h3M69 64h3M73 64h2M76 64h1M78 64h3M82 64h1M84 64h1M0 65h14M15 65h9M25 65h6M32 65h1M34 65h4M39 65h7M47 65h5M57 65h5M66 65h2M70 65h4M76 65h1M78 65h5"/>
<path stroke="#f7f5f4" d="M80 1h1M80 3h1M80 4h1M81 6h1M81 7h1M81 8h1M82 10h1M82 11h1M82 12h1M82 13h1M82 14h1M82 15h1M82 17h1M82 18h1M82 19h1M82 20h1M82 21h1M82 22h1M82 23h1M83 24h1M83 25h1M83 26h1M83 27h1M82 28h3M83 29h2M83 30h2M83 31h3M82 32h4M82 33h1M84 33h1M82 34h4M82 35h4M83 36h3M81 37h2M84 37h4M83 38h3M87 38h1M76 39h1M78 39h1M82 39h9M82 40h2M85 40h4M79 41h2M82 41h8M72 42h1M81 42h6M88 42h2M79 43h1M83 43h6M91 43h1M70 44h1M79 44h1M82 44h10M68 45h1M74 45h1M77 45h1M81 45h11M93 45h1M76 46h2M82 46h2M85 46h8M69 47h1M73 47h1M79 47h3M83 47h8M77 48h1M81 48h2M85 48h4M91 48h1M67 49h1M72 49h3M76 49h2M83 49h10M73 50h1M78 50h1M80 50h1M83 50h1M85 50h2M88 50h4M93 50h1M96 50h1M67 51h1M72 51h1M75 51h1M83 51h2M86 51h8M53 52h1M71 52h1M75 52h1M78 52h1M80 52h4M85 52h7M93 52h2M97 52h1M102 52h1M109 52h1M73 53h1M78 53h2M81 53h10M93 53h3M99 53h1M102 53h1M104 53h1M107 53h1M74 54h3M80 54h1M82 54h10M93 54h1M102 54h1M110 54h1M113 54h1M118 54h1M64 55h1M72 55h2M75 55h1M77 55h1M79 55h1M81 55h2M84 55h4M89 55h1M91 55h2M94 55h1M103 55h1M107 55h1M54 56h1M64 56h2M73 56h1M78 56h1M81 56h3M85 56h8M96 56h1M98 56h3M102 56h2M114 56h1M118 56h1M48 57h1M58 57h1M62 57h1M66 57h1M72 57h1M74 57h1M77 57h3M81 57h15M100 57h4M110 57h1M114 57h1M116 57h1M51 58h1M69 58h2M74 58h1M76 58h1M81 58h2M84 58h12M97 58h1M100 58h2M103 58h1M105 58h1M107 58h1M116 58h1M118 58h1M55 59h1M61 59h2M64 59h1M67 59h1M73 59h2M80 59h1M84 59h2M87 59h12M100 59h3M104 59h1M106 59h3M112 59h1M114 59h1M55 60h2M65 60h2M71 60h1M76 60h1M79 60h4M84 60h9M94 60h3M98 60h1M100 60h1M103 60h3M110 60h1M112 60h1M46 61h2M64 61h3M69 61h1M71 61h1M74 61h1M76 61h3M83 61h1M85 61h1M87 61h11M99 61h10M110 61h2M114 61h3M118 61h1M38 62h1M44 62h1M52 62h1M55 62h1M60 62h2M65 62h1M67 62h1M74 62h1M76 62h3M80 62h4M85 62h15M101 62h4M108 62h10M59 63h1M61 63h1M64 63h1M68 63h2M74 63h3M78 63h1M80 63h1M82 63h1M84 63h1M86 63h10M97 63h8M106 63h8M116 63h2M32 64h1M44 64h1M54 64h1M57 64h1M60 64h1M62 64h3M68 64h1M72 64h1M75 64h1M77 64h1M81 64h1M83 64h1M85 64h19M106 64h8M115 64h4M24 65h1M31 65h1M33 65h1M38 65h1M46 65h1M52 65h5M62 65h4M68 65h2M74 65h2M77 65h1M83 65h18M102 65h16"/>
<path stroke="#f8f1ed" d="M80 0h1M80 2h1M81 5h1M82 9h1M83 16h1M83 17h1M83 18h1M83 19h1M83 20h1M83 21h1M83 22h1M83 23h2M84 24h1M84 25h1M84 26h2M84 27h2M85 28h1M85 29h1M85 30h2M86 31h1M86 32h2M85 33h1M87 33h1M86 34h3M86 35h4M86 36h4M92 36h1M88 37h6M86 38h1M88 38h9M91 39h5M89 40h6M96 40h2M100 40h1M90 41h11M102 41h1M104 41h1M90 42h10M101 42h3M105 42h2M108 42h1M111 42h1M113 42h1M89 43h2M92 43h5M98 43h6M105 43h1M107 43h3M111 43h3M117 43h1M92 44h17M110 44h3M114 44h2M92 45h1M94 45h15M110 45h3M114 45h2M117 45h1M93 46h23M117 46h1M91 47h28M89 48h2M92 48h25M118 48h1M93 49h26M87 50h1M92 50h1M94 50h2M97 50h22M94 51h22M117 51h2M92 52h1M95 52h2M98 52h4M103 52h6M110 52h9M91 53h2M96 53h3M100 53h2M103 53h1M105 53h2M108 53h11M92 54h1M94 54h8M103 54h7M111 54h2M114 54h4M90 55h1M93 55h1M95 55h8M104 55h3M108 55h11M93 56h3M97 56h1M101 56h1M104 56h10M115 56h3M96 57h4M104 57h6M111 57h3M115 57h1M117 57h2M96 58h1M98 58h2M102 58h1M104 58h1M106 58h1M108 58h8M117 58h1M99 59h1M103 59h1M105 59h1M109 59h3M113 59h1M115 59h4M93 60h1M97 60h1M99 60h1M101 60h2M106 60h4M111 60h1M113 60h6M98 61h1M109 61h1M112 61h2M117 61h1M100 62h1M105 62h3M118 62h1M96 63h1M105 63h1M114 63h2M118 63h1M104 64h2M114 64h1M101 65h1M118 65h1"/>
<path stroke="#f9ede6" d="M81 3h1M81 4h1M82 7h1M82 8h1M83 10h1M83 11h1M83 12h1M83 13h1M83 14h1M83 15h1M84 21h1M84 22h1M85 24h1M85 25h1M86 26h1M86 27h1M86 28h1M86 29h2M87 30h2M87 31h3M88 32h2M86 33h1M88 33h2M92 33h1M89 34h6M90 35h5M90 36h2M93 36h5M100 36h1M94 37h3M98 37h4M103 37h2M97 38h8M106 38h3M111 38h4M96 39h15M112 39h2M115 39h1M118 39h1M95 40h1M98 40h2M101 40h18M101 41h1M103 41h1M105 41h14M100 42h1M104 42h1M107 42h1M109 42h2M112 42h1M114 42h5M97 43h1M104 43h1M106 43h1M110 43h1M114 43h3M118 43h1M109 44h1M113 44h1M116 44h3M109 45h1M113 45h1M116 45h1M118 45h1M116 46h1M118 46h1M117 48h1M116 51h1"/>
<path stroke="#fae9df" d="M81 0h1M81 1h1M81 2h1M82 5h1M82 6h1M83 9h1M84 16h1M84 17h1M84 18h1M84 19h1M84 20h1M85 21h1M85 22h1M85 23h1M86 25h1M87 26h1M87 27h2M87 28h2M88 29h3M89 30h2M92 30h1M90 31h3M90 32h5M90 33h2M93 33h4M95 34h3M95 35h8M98 36h2M101 36h11M97 37h1M102 37h1M105 37h14M105 38h1M109 38h2M115 38h4M111 39h1M114 39h1M116 39h2"/>
<path stroke="#fbe5d9" d="M82 4h1M83 8h1M84 12h1M84 13h1M84 14h1M84 15h1M85 18h1M85 19h1M85 20h1M86 21h1M86 22h1M86 23h2M86 24h2M87 25h1M88 26h2M89 27h2M89 28h4M91 29h3M91 30h1M93 30h1M93 31h5M95 32h4M97 33h5M98 34h8M107 34h1M110 34h1M103 35h14M112 36h7"/>
<path stroke="#fce1d2" d="M82 3h1M83 6h1M83 7h1M84 10h1M84 11h1M85 16h1M85 17h1M86 19h1M86 20h1M87 21h1M87 22h2M88 23h2M88 24h3M88 25h3M90 26h3M91 27h3M93 28h2M94 29h1M94 30h5M98 31h5M104 31h1M99 32h8M102 33h12M106 34h1M108 34h2M111 34h8M117 35h2"/>
<path stroke="#fcddcb" d="M82 0h1M82 1h1M82 2h1M84 9h1M85 14h1M85 15h1M86 17h1M86 18h2M87 19h1M87 20h1M88 21h2M89 22h1M90 23h1M91 24h1M91 25h2M93 26h2M94 27h2M95 28h2M95 29h6M99 30h5M105 30h3M103 31h1M105 31h7M114 31h1M117 31h1M107 32h12M114 33h5"/>
<path stroke="#fcd8c3" d="M83 5h1M84 8h1M85 11h1M85 12h1M85 13h1M86 15h1M86 16h2M87 17h1M88 18h1M88 19h1M88 20h2M90 22h2M91 23h2M92 24h2M93 25h2M95 26h1M96 27h2M97 28h4M102 28h1M101 29h7M109 29h1M104 30h1M108 30h9M112 31h2M115 31h2M118 31h1"/>
<path stroke="#fbd0b9" d="M83 4h1M84 7h1M85 10h1M86 13h1M86 14h1M87 15h1M88 16h1M88 17h1M89 18h2M89 19h2M90 20h1M90 21h3M92 22h1M93 23h2M94 24h2M95 25h3M96 26h5M98 27h6M105 27h1M101 28h1M103 28h6M111 28h1M108 29h1M110 29h9M117 30h2"/>
<path stroke="#fac9b0" d="M83 3h1M85 9h1M86 12h1M87 14h1M88 15h1M89 16h1M89 17h2M91 19h2M91 20h3M93 21h1M93 22h2M95 23h1M96 24h2M99 24h1M98 25h5M101 26h6M104 27h1M106 27h8M115 27h2M109 28h2M112 28h7"/>
<path stroke="#f9c1a6" d="M83 2h1M84 6h1M85 8h1M86 10h1M86 11h1M87 13h1M88 14h1M89 15h2M90 16h2M91 17h1M91 18h3M93 19h2M94 20h2M94 21h4M95 22h4M96 23h4M98 24h1M100 24h3M103 25h4M108 25h1M107 26h8M118 26h1M114 27h1M117 27h2"/>
<path stroke="#f7ba9c" d="M83 0h1M83 1h1M84 5h1M87 11h1M87 12h1M88 13h1M89 14h1M92 16h1M92 17h2M94 18h2M95 19h2M96 20h2M98 21h2M99 22h1M101 22h1M100 23h3M103 24h6M107 25h1M109 25h3M114 25h5M115 26h3"/>
<path stroke="#f6b293" d="M84 4h1M85 7h1M86 9h1M88 12h1M89 13h1M90 14h2M91 15h3M93 16h3M94 17h4M96 18h3M97 19h3M98 20h3M100 21h2M100 22h1M102 22h1M103 23h7M109 24h6M116 24h3M112 25h2"/>
<path stroke="#f5aa89" d="M87 10h1M88 11h1M89 12h1M90 13h3M92 14h4M94 15h4M96 16h3M98 17h1M99 18h2M100 19h1M101 20h1M102 21h1M103 22h5M110 23h9M115 24h1"/>
<path stroke="#f3a280" d="M84 3h1M85 6h1M86 8h1M87 9h1M88 10h1M89 11h1M90 12h2M93 12h1M93 13h4M96 14h3M98 15h1M99 16h1M99 17h2M101 19h1M102 20h2M103 21h4M108 22h11"/>
<path stroke="#ef9878" d="M84 2h1M85 5h1M86 7h1M90 11h2M93 11h2M92 12h1M94 12h4M97 13h2M99 15h1M100 16h1M101 17h1M101 18h1M102 19h1M104 20h1M107 21h12"/>
<path stroke="#ea8f71" d="M84 0h1M84 1h1M87 8h1M88 9h1M89 10h2M92 10h1M96 10h1M92 11h1M95 11h3M98 12h1M99 13h1M99 14h2M100 15h1M101 16h1M102 17h1M102 18h1M103 19h1M105 20h4M116 20h3"/>
<path stroke="#e68569" d="M85 4h1M86 6h1M89 9h1M91 10h1M93 10h3M97 10h1M98 11h1M99 12h1M101 15h1M102 16h1M103 18h1M104 19h2M116 19h3M109 20h7"/>
<path stroke="#e27b62" d="M85 3h1M87 7h1M88 8h1M98 8h1M90 9h9M98 10h1M99 11h1M100 12h1M100 13h1M101 14h1M102 15h1M103 17h1M104 18h2M117 18h2M106 19h10"/>
<path stroke="#de715a" d="M86 5h1M97 7h1M89 8h1M93 8h5M99 9h1M99 10h1M100 11h1M101 13h1M102 14h1M103 15h1M103 16h1M104 17h1M118 17h1M106 18h1M114 18h3"/>
<path stroke="#d96853" d="M85 2h1M86 4h1M87 6h1M97 6h2M88 7h1M94 7h3M98 7h2M90 8h3M99 8h1M100 9h1M100 10h1M101 11h1M101 12h1M102 13h1M104 16h1M117 16h2M105 17h2M115 17h3M107 18h7"/>
<path stroke="#d55e4c" d="M85 1h1M87 5h1M97 5h3M88 6h1M95 6h2M99 6h1M89 7h2M92 7h2M100 7h1M100 8h1M101 9h1M101 10h1M102 12h1M103 14h1M104 15h1M117 15h2M105 16h2M114 16h3M107 17h8"/>
<path stroke="#d05447" d="M85 0h1M86 3h1M97 4h3M95 5h2M94 6h1M100 6h1M91 7h1M101 7h1M101 8h1M102 10h1M102 11h1M103 12h1M103 13h1M118 13h1M104 14h1M116 14h3M105 15h1M115 15h2M107 16h7"/>
<path stroke="#cb4a42" d="M98 1h1M86 2h1M97 2h3M96 3h4M95 4h2M100 4h1M88 5h1M94 5h1M100 5h1M89 6h2M92 6h2M101 6h1M102 8h1M102 9h1M103 11h1M118 12h1M104 13h1M117 13h1M105 14h1M114 14h2M106 15h4M111 15h1M113 15h2"/>
<path stroke="#c6403e" d="M97 0h5M86 1h1M97 1h1M99 1h3M96 2h1M100 2h3M95 3h1M100 3h2M87 4h1M101 4h1M93 5h1M101 5h1M91 6h1M102 6h1M102 7h1M103 9h1M103 10h1M104 11h1M118 11h1M104 12h2M115 12h3M105 13h3M114 13h3M106 14h8M110 15h1M112 15h1"/>
<path stroke="#c13539" d="M86 0h1M96 0h1M102 0h2M95 1h2M102 1h2M95 2h1M103 2h1M87 3h1M94 3h1M102 3h2M88 4h1M93 4h2M102 4h1M89 5h4M102 5h1M103 6h1M103 7h1M103 8h1M118 8h1M104 9h1M118 9h1M104 10h2M116 10h3M105 11h1M115 11h3M106 12h2M109 12h1M113 12h2M108 13h6"/>
<path stroke="#bc2b34" d="M95 0h1M104 0h1M87 1h1M94 1h1M104 1h1M87 2h1M94 2h1M104 2h1M93 3h1M104 3h1M89 4h1M92 4h1M103 4h2M103 5h1M104 6h1M118 6h1M104 7h1M117 7h2M104 8h2M117 8h1M105 9h2M115 9h3M106 10h1M114 10h2M106 11h2M112 11h3M108 12h1M110 12h3"/>
<path stroke="#b7212f" d="M87 0h1M93 0h2M105 0h2M114 0h1M117 0h2M93 1h1M105 1h1M116 1h3M88 2h1M93 2h1M105 2h2M117 2h2M88 3h1M91 3h2M105 3h1M116 3h3M90 4h2M105 4h2M116 4h3M104 5h3M115 5h4M105 6h2M116 6h2M105 7h3M114 7h3M106 8h2M113 8h4M107 9h2M113 9h2M107 10h2M111 10h3M108 11h4"/>
<path stroke="#b1182b" d="M88 0h1M92 0h1M107 0h3M111 0h3M115 0h2M88 1h1M92 1h1M106 1h4M111 1h1M114 1h2M89 2h4M107 2h1M113 2h4M89 3h2M106 3h2M112 3h4M107 4h1M113 4h3M107 5h2M113 5h2M107 6h3M113 6h3M108 7h2M111 7h3M108 8h5M109 9h4M109 10h2"/>
<path stroke="#a61429" d="M89 0h3M110 0h1M89 1h3M110 1h1M112 1h2M108 2h5M108 3h4M108 4h5M109 5h4M110 6h3M110 7h1"/>
</g></g>
<clipPath id="kc1"><rect x="213.5" y="1033.9" width="712.7" height="396.8"/></clipPath>
<g clip-path="url(#kc1)"><g transform="translate(213 1036) scale(6 6)" fill="none" stroke-width="1.04" shape-rendering="crispEdges">
<path stroke="#053061" d="M25 0h5M25 1h6M26 2h5M28 3h4M28 4h5M29 5h5M30 6h5M31 7h5M32 8h5M32 9h5M33 10h5M34 11h5M35 12h2M38 12h2M36 13h5M37 14h5M38 15h2M41 15h2M39 16h5M39 17h5M40 18h5M41 19h5M42 20h5M43 21h5M44 22h4M45 23h4M46 24h4M48 25h2M49 26h1"/>
<path stroke="#09386c" d="M24 0h1M31 2h1M27 3h1M32 3h1M33 4h1M34 5h1M29 6h1M30 7h1M31 8h1M37 9h1M38 10h1M33 11h1M39 11h1M37 12h1M40 12h1M35 13h1M41 13h1M36 14h1M37 15h1M40 15h1M38 16h1M44 17h1M45 18h1M40 19h1M46 19h1M41 20h1M47 20h1M42 21h1M43 22h1M48 22h1M44 23h1M49 23h1M45 24h1M50 24h1M47 25h1M50 25h1M48 26h1M50 26h2M49 27h3"/>
<path stroke="#0d3f76" d="M30 0h1M24 1h1M25 2h1M26 3h1M27 4h1M28 5h1M35 6h1M37 8h1M38 9h1M32 10h1M34 12h1M42 14h1M43 15h1M37 16h1M44 16h1M38 17h1M39 18h1M48 21h1M46 25h1M51 25h1M47 26h1M52 26h1M48 27h1M52 27h1M49 28h4M51 29h1"/>
<path stroke="#114781" d="M23 0h1M31 1h1M32 2h1M28 6h1M29 7h1M36 7h1M31 9h1M118 9h1M39 10h1M118 10h1M40 11h1M118 11h1M36 15h1M45 17h1M41 21h1M42 22h1M49 22h1M43 23h1M50 23h1M44 24h1M45 25h1M47 27h1M53 27h1M48 28h1M53 28h1M50 29h1M52 29h2"/>
<path stroke="#154e8b" d="M33 3h1M34 4h1M27 5h1M35 5h1M36 6h1M118 6h1M118 7h1M30 8h1M117 8h2M117 9h1M117 10h1M117 11h1M33 12h1M41 12h1M117 12h2M34 13h1M42 13h1M118 13h1M35 14h1M46 18h1M47 19h1M40 20h1M48 20h1M51 24h1M52 25h1M46 26h1M49 29h1M54 29h1M51 30h5M0 65h3M4 65h1M0 66h5M6 66h3M10 66h1"/>
<path stroke="#195696" d="M31 0h1M32 1h1M24 2h1M25 3h1M26 4h1M118 5h1M37 7h1M117 7h1M38 8h1M30 9h1M31 10h1M116 10h1M32 11h1M116 11h1M116 12h1M117 13h1M43 14h1M117 14h1M44 15h1M36 16h1M45 16h1M37 17h1M38 18h1M39 19h1M49 21h1M53 26h1M54 28h1M50 30h1M52 31h4M10 62h1M0 63h1M3 63h1M5 63h2M9 63h1M0 64h7M8 64h4M3 65h1M5 65h9M5 66h1M9 66h1M11 66h2"/>
<path stroke="#1d5ea0" d="M22 0h1M23 1h1M33 2h1M34 3h1M118 4h1M117 6h1M29 8h1M116 8h1M39 9h1M116 9h1M40 10h1M41 11h1M116 13h1M34 14h1M116 14h1M118 14h1M35 15h1M115 15h3M114 16h1M116 16h1M46 17h1M50 22h1M42 23h1M51 23h1M43 24h1M44 25h1M45 26h1M46 27h1M54 27h1M47 28h1M48 29h1M55 29h1M51 31h1M56 31h1M53 32h4M0 61h6M10 61h1M0 62h10M12 62h2M1 63h2M4 63h1M7 63h2M10 63h4M7 64h1M12 64h4M14 65h3M13 66h3"/>
<path stroke="#2165ab" d="M118 3h1M35 4h1M117 4h1M26 5h1M36 5h1M117 5h1M27 6h1M37 6h1M28 7h1M116 7h1M115 11h1M32 12h1M115 12h1M33 13h1M115 13h1M115 14h1M114 15h1M118 15h1M113 16h1M115 16h1M117 16h2M112 17h4M47 18h1M113 18h2M48 19h1M39 20h1M40 21h1M41 22h1M52 24h1M53 25h1M49 30h1M56 30h1M52 32h1M57 32h1M53 33h5M2 58h1M4 58h1M0 59h2M4 59h7M0 60h12M6 61h4M11 61h3M11 62h1M14 62h1M14 63h2M16 64h2M16 66h2"/>
<path stroke="#256caf" d="M32 0h1M33 1h1M23 2h1M118 2h1M24 3h1M25 4h1M116 6h1M39 8h1M115 9h1M30 10h1M115 10h1M31 11h1M42 12h1M43 13h1M44 14h1M114 14h1M113 15h1M112 16h1M116 17h3M37 18h1M112 18h1M115 18h4M38 19h1M112 19h2M116 19h1M49 20h1M54 26h1M55 28h1M56 29h1M50 31h1M57 31h1M51 32h1M58 33h1M54 34h5M58 35h1M2 56h1M8 56h1M0 57h4M6 57h5M0 58h2M3 58h1M5 58h6M2 59h2M11 59h3M12 60h3M14 61h1M15 62h2M16 63h1M17 65h2M18 66h1"/>
<path stroke="#2a72b2" d="M21 0h1M22 1h1M34 2h1M117 3h1M116 4h1M116 5h1M38 7h1M115 8h1M40 9h1M41 10h1M114 12h1M114 13h1M113 14h1M45 15h1M112 15h1M35 16h1M46 16h1M36 17h1M111 17h1M114 19h2M117 19h1M113 20h3M50 21h1M51 22h1M52 23h1M43 25h1M44 26h1M45 27h1M46 28h1M47 29h1M57 30h1M58 32h1M52 33h1M59 34h1M56 35h2M59 35h1M7 54h1M0 55h1M2 55h6M0 56h2M3 56h5M9 56h2M4 57h2M11 57h2M11 58h2M14 58h1M14 59h2M15 60h1M15 61h2M17 62h1M17 63h2M18 64h2M19 65h1M19 66h1"/>
<path stroke="#2f78b5" d="M118 0h1M117 1h2M117 2h1M35 3h1M116 3h1M36 4h1M25 5h1M37 5h1M26 6h1M27 7h1M115 7h1M28 8h1M29 9h1M42 11h1M114 11h1M43 12h1M32 13h1M34 15h1M111 16h1M47 17h1M48 18h1M111 18h1M49 19h1M111 19h1M118 19h1M112 20h1M116 20h3M39 21h1M114 21h3M118 21h1M40 22h1M41 23h1M42 24h1M55 27h1M48 30h1M49 31h1M50 32h1M59 33h1M53 34h1M54 35h2M56 36h1M58 36h1M5 51h1M6 52h1M9 52h1M0 53h2M3 53h6M0 54h7M8 54h3M1 55h1M8 55h5M11 56h4M13 57h3M13 58h1M15 58h2M16 59h1M16 60h3M17 61h3M18 62h2M19 63h1M20 64h2M20 65h2M20 66h2"/>
<path stroke="#347fb9" d="M1 0h1M20 0h1M33 0h1M34 1h1M22 2h1M116 2h1M23 3h1M24 4h1M115 5h1M38 6h1M115 6h1M39 7h1M40 8h1M114 10h1M30 11h1M31 12h1M44 13h1M113 13h1M33 14h1M45 14h1M112 14h1M111 15h1M38 20h1M50 20h1M111 20h1M111 21h3M117 21h1M113 22h6M113 23h1M117 23h1M53 24h1M54 25h1M56 28h1M58 31h1M51 33h1M60 34h1M60 35h1M55 36h1M57 36h1M59 36h2M3 47h1M3 48h2M0 49h2M3 49h3M0 50h1M2 50h2M5 50h2M8 50h1M0 51h5M6 51h4M0 52h6M7 52h2M10 52h1M2 53h1M9 53h3M11 54h4M13 55h3M15 56h2M16 57h2M17 58h2M17 59h2M19 60h3M20 61h1M20 62h2M20 63h2M22 65h1M22 66h2"/>
<path stroke="#3885bc" d="M0 0h1M2 0h9M117 0h1M0 1h10M21 1h1M0 2h9M35 2h1M0 3h3M5 3h1M22 3h1M36 3h1M0 4h1M2 4h1M37 4h1M115 4h1M25 6h1M26 7h1M27 8h1M28 9h1M41 9h1M114 9h1M29 10h1M42 10h1M113 12h1M46 15h1M34 16h1M47 16h1M35 17h1M110 17h1M36 18h1M110 18h1M37 19h1M51 21h1M111 22h2M40 23h1M114 23h3M118 23h1M118 24h1M43 26h1M55 26h1M45 28h1M57 29h1M47 30h1M58 30h1M59 32h1M52 34h1M53 35h1M61 36h1M57 37h4M0 44h1M4 44h1M0 45h1M4 45h2M0 46h1M2 46h5M0 47h3M4 47h2M7 47h1M0 48h3M5 48h2M8 48h1M2 49h1M6 49h4M1 50h1M4 50h1M7 50h1M9 50h2M10 51h1M12 51h1M11 52h4M12 53h2M15 54h2M16 55h2M17 56h2M18 57h3M19 58h2M19 59h4M21 61h2M22 62h1M22 63h2M22 64h2M23 65h2M24 66h2"/>
<path stroke="#3d8bbf" d="M11 0h5M18 0h2M34 0h1M116 0h1M10 1h5M19 1h2M35 1h1M116 1h1M9 2h4M20 2h2M3 3h2M6 3h2M9 3h3M13 3h2M16 3h1M21 3h1M37 3h1M1 4h1M3 4h9M13 4h1M15 4h1M23 4h1M0 5h4M5 5h2M8 5h3M24 5h1M38 5h1M0 6h6M7 6h1M39 6h1M0 7h4M5 7h2M25 7h1M40 7h1M114 7h1M0 8h1M41 8h1M114 8h1M0 9h2M5 9h1M0 10h3M28 10h1M43 11h1M113 11h1M30 12h1M44 12h1M31 13h1M112 13h1M32 14h1M46 14h1M33 15h1M110 16h1M48 17h1M49 18h1M110 19h1M51 20h1M110 20h1M52 21h1M110 21h1M39 22h1M52 22h1M53 23h1M111 23h2M41 24h1M54 24h1M113 24h5M42 25h1M55 25h1M116 25h3M118 26h1M44 27h1M56 27h1M57 28h1M1 29h1M46 29h1M0 30h2M48 31h1M59 31h1M0 32h1M2 32h1M49 32h1M0 33h1M2 33h1M50 33h1M60 33h1M0 34h2M0 35h3M1 36h1M54 36h1M0 37h1M55 37h2M61 37h1M0 38h2M57 38h2M60 38h1M0 39h2M0 40h1M3 40h1M1 41h1M0 42h1M2 42h4M0 43h6M1 44h3M5 44h3M1 45h3M6 45h3M1 46h1M7 46h3M6 47h1M8 47h3M7 48h1M9 48h4M10 49h3M14 49h1M11 50h4M11 51h1M13 51h3M15 52h1M17 52h1M14 53h4M17 54h2M18 55h2M19 56h2M21 58h1M22 60h3M23 61h1M23 62h2M24 63h2M24 64h3M26 65h1"/>
<path stroke="#4292c2" d="M16 0h2M35 0h1M15 1h4M13 2h7M36 2h2M115 2h1M8 3h1M12 3h1M15 3h1M17 3h4M115 3h1M12 4h1M14 4h1M16 4h2M19 4h4M38 4h1M4 5h1M7 5h1M11 5h7M22 5h2M39 5h1M6 6h1M8 6h6M18 6h1M23 6h2M40 6h1M114 6h1M4 7h1M7 7h1M9 7h3M14 7h1M1 8h11M14 8h1M26 8h1M2 9h3M7 9h2M27 9h1M42 9h2M3 10h4M43 10h2M0 11h6M29 11h1M44 11h1M0 12h5M6 12h1M8 12h1M45 12h1M0 13h6M8 13h1M45 13h1M0 14h4M111 14h1M0 15h3M47 15h1M110 15h1M0 16h3M48 16h1M0 17h4M49 17h1M0 18h4M35 18h1M50 18h1M0 19h1M36 19h1M50 19h1M0 20h2M37 20h1M3 21h1M38 21h1M0 22h4M53 22h1M110 22h1M1 23h1M3 23h1M0 24h3M111 24h2M0 25h2M3 25h1M114 25h2M0 26h4M115 26h3M0 27h3M4 27h1M117 27h2M0 28h5M0 29h1M2 29h3M2 30h2M5 30h1M0 31h5M1 32h1M3 32h2M1 33h1M5 33h2M2 34h3M51 34h1M3 35h2M52 35h1M61 35h1M0 36h1M2 36h3M53 36h1M1 37h3M2 38h3M6 38h1M56 38h1M59 38h1M61 38h1M2 39h5M1 40h2M4 40h3M0 41h1M2 41h5M1 42h1M6 42h3M6 43h3M10 43h1M8 44h3M9 45h2M10 46h3M11 47h4M13 48h2M13 49h1M15 49h2M15 50h3M16 51h3M16 52h1M18 52h2M18 53h2M19 54h2M20 55h1M21 56h3M21 57h3M22 58h2M23 59h3M24 61h2M25 62h2M26 63h2M27 64h1M25 65h1M27 65h1M26 66h3"/>
<path stroke="#4c99c6" d="M36 0h1M115 0h1M36 1h1M115 1h1M38 2h1M38 3h1M18 4h1M39 4h1M41 4h1M114 4h1M18 5h4M40 5h2M114 5h1M14 6h4M19 6h4M41 6h1M8 7h1M12 7h2M15 7h10M41 7h2M12 8h2M15 8h1M17 8h2M20 8h6M42 8h1M6 9h1M9 9h7M26 9h1M7 10h8M26 10h2M113 10h1M6 11h7M28 11h1M45 11h1M5 12h1M7 12h1M9 12h3M29 12h1M112 12h1M6 13h2M9 13h2M29 13h2M46 13h2M4 14h8M30 14h2M47 14h2M3 15h2M6 15h3M10 15h1M31 15h2M48 15h1M3 16h6M10 16h1M33 16h1M49 16h1M4 17h7M34 17h1M109 17h1M4 18h4M109 18h1M1 19h7M51 19h1M109 19h1M2 20h6M36 20h1M52 20h1M109 20h1M0 21h3M4 21h2M7 21h1M9 21h1M37 21h1M53 21h1M109 21h1M4 22h4M38 22h1M54 22h1M0 23h1M2 23h1M4 23h5M39 23h1M54 23h1M110 23h1M3 24h5M40 24h1M55 24h1M2 25h1M4 25h3M9 25h1M41 25h1M56 25h1M111 25h3M4 26h5M42 26h1M56 26h1M111 26h4M3 27h1M5 27h5M43 27h1M57 27h1M115 27h2M5 28h2M44 28h1M115 28h1M117 28h2M5 29h3M45 29h1M58 29h1M117 29h2M4 30h1M6 30h3M46 30h1M59 30h1M118 30h1M5 31h3M47 31h1M60 31h1M5 32h4M48 32h1M60 32h1M3 33h2M7 33h1M49 33h1M5 34h4M50 34h1M61 34h1M5 35h4M5 36h3M9 36h1M4 37h6M54 37h1M5 38h1M7 38h1M9 38h1M7 39h3M58 39h4M7 40h3M7 41h3M9 42h3M9 43h1M11 43h2M11 44h3M11 45h4M13 46h5M15 47h2M18 47h1M15 48h5M17 49h2M18 50h4M19 51h3M20 52h2M20 53h2M21 54h3M21 55h2M24 56h2M24 57h2M24 58h2M26 59h1M25 60h3M26 61h2M27 62h2M28 63h1M28 64h2M28 65h2M29 66h1"/>
<path stroke="#57a0ca" d="M37 0h2M37 1h3M39 2h1M39 3h2M114 3h1M40 4h1M42 5h1M42 6h2M43 7h1M45 7h1M16 8h1M19 8h1M43 8h2M113 8h1M16 9h10M44 9h3M113 9h1M15 10h11M45 10h3M13 11h4M18 11h10M46 11h2M12 12h7M21 12h8M46 12h3M11 13h9M22 13h1M24 13h1M26 13h3M48 13h1M111 13h1M12 14h5M18 14h1M26 14h1M28 14h2M49 14h1M110 14h1M5 15h1M9 15h1M11 15h1M13 15h5M28 15h1M30 15h1M49 15h2M9 16h1M11 16h2M14 16h1M29 16h4M50 16h2M109 16h1M11 17h1M13 17h1M31 17h3M50 17h2M8 18h7M16 18h1M32 18h3M51 18h1M8 19h4M13 19h1M34 19h2M52 19h2M8 20h6M35 20h1M6 21h1M8 21h1M10 21h5M36 21h1M8 22h6M36 22h2M109 22h1M9 23h3M13 23h2M38 23h1M109 23h1M8 24h6M38 24h1M56 24h1M110 24h1M7 25h2M10 25h1M12 25h1M40 25h1M110 25h1M9 26h4M40 26h2M10 27h4M15 27h1M42 27h1M113 27h2M7 28h6M58 28h1M114 28h1M116 28h1M8 29h6M115 29h2M9 30h4M116 30h2M8 31h4M117 31h2M9 32h5M118 32h1M8 33h4M61 33h1M118 33h1M9 34h3M13 34h1M118 34h1M9 35h4M51 35h1M8 36h1M10 36h2M52 36h1M10 37h4M8 38h1M10 38h4M55 38h1M10 39h1M13 39h2M56 39h1M10 40h3M59 40h1M10 41h5M12 42h4M13 43h5M14 44h2M15 45h2M18 45h1M18 46h1M17 47h1M19 47h2M20 48h2M19 49h3M22 50h1M22 51h2M22 52h3M22 53h4M24 54h2M23 55h4M26 56h2M26 57h2M26 58h3M27 59h2M28 60h1M28 61h1M29 62h2M29 63h2M30 64h1M30 65h1M30 66h3"/>
<path stroke="#62a7ce" d="M39 0h2M114 0h1M40 1h2M114 1h1M40 2h2M114 2h1M41 3h3M42 4h2M43 5h2M44 6h1M44 7h1M113 7h1M45 8h2M48 10h1M17 11h1M48 11h1M112 11h1M19 12h2M49 12h1M111 12h1M20 13h2M23 13h1M25 13h1M49 13h1M17 14h1M19 14h7M27 14h1M50 14h1M12 15h1M18 15h3M22 15h6M29 15h1M51 15h1M13 16h1M15 16h10M26 16h3M52 16h1M12 17h1M14 17h5M20 17h4M25 17h1M27 17h4M52 17h2M15 18h1M17 18h5M23 18h2M27 18h5M52 18h2M12 19h1M14 19h6M23 19h1M27 19h1M29 19h5M54 19h1M14 20h4M19 20h1M22 20h1M29 20h6M53 20h2M15 21h5M33 21h3M54 21h1M14 22h4M19 22h1M29 22h3M33 22h3M55 22h1M12 23h1M15 23h1M17 23h1M31 23h1M33 23h1M36 23h2M55 23h2M14 24h6M36 24h2M39 24h1M109 24h1M11 25h1M13 25h4M35 25h2M38 25h2M57 25h1M13 26h3M19 26h1M38 26h1M57 26h2M110 26h1M14 27h1M16 27h1M41 27h1M58 27h1M111 27h2M13 28h2M16 28h2M41 28h3M14 29h3M43 29h2M59 29h1M113 29h2M13 30h3M45 30h1M114 30h2M12 31h2M15 31h1M46 31h1M115 31h2M14 32h1M16 32h1M47 32h1M61 32h1M115 32h1M117 32h1M12 33h4M48 33h1M116 33h2M12 34h1M14 34h3M49 34h1M117 34h1M13 35h2M50 35h1M117 35h2M12 36h5M118 36h1M14 37h3M53 37h1M14 38h4M54 38h1M11 39h2M15 39h1M18 39h1M57 39h1M13 40h6M60 40h2M15 41h3M16 42h5M18 43h4M16 44h4M21 44h1M17 45h1M19 45h4M19 46h5M21 47h3M22 48h3M22 49h2M23 50h2M26 50h1M24 51h2M25 52h3M26 53h2M26 54h2M27 55h2M30 55h1M28 56h2M28 57h2M29 58h2M29 59h2M29 60h2M29 61h3M31 62h2M31 63h2M31 64h3M31 65h3"/>
<path stroke="#6daed1" d="M41 0h1M42 1h1M42 2h2M44 4h1M113 4h1M45 5h1M113 5h1M45 6h1M113 6h1M46 7h1M47 8h1M47 9h3M49 10h1M112 10h1M49 11h1M50 12h1M50 13h1M110 13h1M51 14h1M21 15h1M52 15h1M109 15h1M25 16h1M19 17h1M24 17h1M26 17h1M54 17h1M22 18h1M25 18h2M54 18h1M108 18h1M20 19h3M24 19h3M28 19h1M108 19h1M18 20h1M20 20h2M23 20h6M55 20h1M108 20h1M20 21h13M55 21h1M108 21h1M18 22h1M20 22h9M32 22h1M108 22h1M16 23h1M18 23h13M32 23h1M34 23h2M108 23h1M20 24h16M57 24h1M17 25h5M25 25h1M27 25h4M33 25h2M37 25h1M58 25h1M109 25h1M16 26h3M20 26h4M25 26h2M30 26h1M33 26h1M35 26h3M39 26h1M17 27h5M25 27h1M34 27h1M37 27h4M59 27h1M15 28h1M18 28h4M34 28h2M37 28h2M40 28h1M59 28h1M112 28h2M17 29h4M36 29h1M41 29h2M60 29h1M112 29h1M16 30h4M24 30h1M42 30h3M60 30h1M113 30h1M14 31h1M16 31h5M45 31h1M114 31h1M15 32h1M17 32h2M46 32h1M116 32h1M16 33h3M22 33h1M47 33h1M114 33h2M17 34h2M20 34h1M48 34h1M116 34h1M15 35h4M48 35h2M115 35h2M17 36h1M19 36h1M50 36h2M117 36h1M17 37h4M51 37h2M62 37h1M117 37h2M18 38h1M20 38h2M53 38h1M62 38h1M16 39h2M19 39h1M54 39h2M19 40h5M57 40h2M18 41h5M24 41h1M60 41h1M21 42h2M24 42h2M22 43h4M27 43h1M20 44h1M22 44h2M25 44h1M27 44h1M23 45h5M24 46h2M29 46h1M24 47h3M25 48h6M24 49h7M25 50h1M27 50h2M30 50h1M26 51h4M32 51h1M28 52h3M28 53h3M32 53h1M28 54h3M32 54h1M29 55h1M30 56h1M30 57h4M31 58h2M31 59h3M31 60h3M32 61h3M33 62h2M33 63h2M34 64h1M36 64h1M34 65h2M33 66h3"/>
<path stroke="#78b5d5" d="M42 0h1M43 1h1M44 2h1M44 3h1M113 3h1M45 4h2M46 5h1M46 6h2M47 7h1M48 8h1M112 8h1M50 9h1M112 9h1M50 10h1M50 11h1M111 11h1M51 12h1M51 13h1M52 14h1M109 14h1M53 15h1M53 16h2M108 17h1M55 19h1M56 21h1M56 22h2M57 23h1M58 24h1M108 24h1M22 25h3M26 25h1M31 25h2M24 26h1M27 26h3M31 26h2M34 26h1M59 26h1M109 26h1M22 27h3M26 27h8M35 27h2M110 27h1M22 28h12M36 28h1M39 28h1M60 28h1M110 28h2M21 29h14M37 29h4M111 29h1M20 30h4M26 30h3M30 30h12M61 30h1M112 30h1M21 31h7M29 31h2M32 31h1M35 31h10M61 31h1M112 31h2M19 32h5M25 32h4M30 32h4M37 32h2M40 32h6M112 32h3M19 33h3M23 33h1M27 33h1M30 33h1M35 33h2M38 33h1M40 33h2M43 33h4M19 34h1M21 34h1M23 34h2M26 34h1M32 34h1M38 34h1M40 34h1M42 34h6M114 34h2M19 35h6M26 35h2M38 35h1M40 35h1M45 35h1M114 35h1M18 36h1M20 36h6M28 36h1M31 36h2M41 36h1M47 36h3M62 36h1M115 36h2M21 37h3M28 37h2M34 37h1M48 37h3M116 37h1M19 38h1M22 38h6M31 38h1M33 38h1M50 38h3M117 38h2M20 39h8M31 39h5M44 39h1M53 39h1M62 39h1M24 40h4M30 40h2M33 40h1M37 40h1M54 40h3M23 41h1M25 41h4M31 41h1M38 41h1M58 41h2M61 41h1M23 42h1M26 42h8M26 43h1M28 43h3M32 43h1M34 43h1M36 43h2M24 44h1M26 44h1M28 44h6M28 45h6M26 46h3M30 46h8M27 47h8M36 47h1M31 48h5M31 49h3M29 50h1M31 50h6M30 51h2M33 51h1M35 51h1M37 51h1M31 52h6M31 53h1M33 53h3M37 53h1M31 54h1M33 54h4M38 54h1M31 55h8M31 56h8M34 57h2M37 57h1M33 58h4M34 59h4M34 60h4M35 61h2M35 62h3M35 63h4M35 64h1M37 64h1M36 65h3M36 66h1M38 66h1"/>
<path stroke="#84bcd9" d="M43 0h2M113 0h1M44 1h2M113 1h1M45 2h2M113 2h1M45 3h2M47 5h1M48 6h1M48 7h2M112 7h1M49 8h1M51 11h1M52 12h1M52 13h2M53 14h2M54 15h1M108 16h1M55 18h1M56 20h1M57 21h1M58 23h1M59 25h1M108 25h1M60 27h1M109 27h1M109 28h1M35 29h1M61 29h1M110 29h1M25 30h1M29 30h1M111 30h1M28 31h1M31 31h1M33 31h2M111 31h1M24 32h1M29 32h1M34 32h3M39 32h1M24 33h3M28 33h2M31 33h4M37 33h1M39 33h1M42 33h1M112 33h2M22 34h1M25 34h1M27 34h5M33 34h5M39 34h1M41 34h1M112 34h2M25 35h1M28 35h3M32 35h6M39 35h1M41 35h4M46 35h2M112 35h2M26 36h2M29 36h2M33 36h8M42 36h5M114 36h1M24 37h4M30 37h4M35 37h13M114 37h2M28 38h3M32 38h1M34 38h16M115 38h2M28 39h3M36 39h8M45 39h8M116 39h3M28 40h2M32 40h1M34 40h3M38 40h16M118 40h1M29 41h2M32 41h6M39 41h1M41 41h1M43 41h6M50 41h2M55 41h3M118 41h1M34 42h8M44 42h1M31 43h1M33 43h1M35 43h1M38 43h7M47 43h1M34 44h12M34 45h8M45 45h1M38 46h3M35 47h1M37 47h6M36 48h4M41 48h2M34 49h9M37 50h3M41 50h1M43 50h1M34 51h1M36 51h1M38 51h4M43 51h1M37 52h6M36 53h1M38 53h4M37 54h1M39 54h1M39 55h3M39 56h1M41 56h2M36 57h1M38 57h2M41 57h1M37 58h3M42 58h1M38 59h3M43 59h1M38 60h4M37 61h6M38 62h4M39 63h2M42 63h1M38 64h5M39 65h3M37 66h1M39 66h4"/>
<path stroke="#8fc3dd" d="M45 0h1M46 1h1M47 3h1M47 4h2M112 4h1M48 5h1M112 5h1M49 6h2M112 6h1M50 7h1M50 8h1M51 9h1M51 10h1M52 11h1M53 12h1M110 12h1M109 13h1M108 14h1M108 15h1M55 16h1M55 17h1M107 18h1M56 19h1M107 19h1M57 20h1M107 20h1M107 21h1M58 22h1M107 22h1M107 23h1M59 24h1M60 25h1M60 26h1M108 26h1M61 28h1M110 30h1M110 31h1M111 32h1M111 33h1M111 34h1M31 35h1M62 35h1M112 36h2M63 37h1M113 37h1M63 38h1M114 38h1M63 39h1M115 39h1M62 40h1M116 40h2M40 41h1M42 41h1M49 41h1M52 41h3M117 41h1M42 42h2M45 42h9M58 42h4M118 42h1M45 43h2M48 43h1M117 43h1M46 44h5M118 44h1M42 45h3M46 45h3M117 45h2M41 46h8M118 46h1M43 47h5M118 47h1M40 48h1M43 48h4M118 48h1M43 49h4M118 49h1M40 50h1M42 50h1M44 50h3M42 51h1M44 51h2M48 51h1M43 52h2M46 52h1M118 52h1M42 53h4M40 54h6M42 55h3M40 56h1M43 56h2M40 57h1M42 57h4M40 58h2M43 58h2M41 59h2M44 59h2M42 60h3M43 61h2M42 62h2M41 63h1M43 63h2M43 64h1M45 64h1M42 65h3M43 66h2"/>
<path stroke="#98c8e0" d="M46 0h1M47 1h1M112 1h1M47 2h2M112 2h1M48 3h1M112 3h1M49 4h1M49 5h1M51 8h1M52 9h1M111 9h1M52 10h2M111 10h1M53 11h1M110 11h1M54 13h1M55 15h1M56 17h1M107 17h1M56 18h1M57 19h1M58 20h1M58 21h1M59 22h1M59 23h1M60 24h1M107 24h1M61 27h1M108 27h1M109 29h1M109 30h1M110 32h1M110 33h1M110 34h1M111 35h1M111 36h1M112 37h1M113 38h1M114 39h1M63 40h1M114 40h2M115 41h2M54 42h4M115 42h3M49 43h7M57 43h1M115 43h2M118 43h1M51 44h3M117 44h1M49 45h4M116 45h1M49 46h3M116 46h2M48 47h3M116 47h2M47 48h5M116 48h2M47 49h3M51 49h1M117 49h1M47 50h3M118 50h1M46 51h2M49 51h1M117 51h2M45 52h1M47 52h3M117 52h1M46 53h3M50 53h1M118 53h1M46 54h4M117 54h2M45 55h5M118 55h1M45 56h4M117 56h1M46 57h3M118 57h1M45 58h3M118 58h1M46 59h3M118 59h1M45 60h2M48 60h1M117 60h2M45 61h4M117 61h2M44 62h3M48 62h1M117 62h2M45 63h3M117 63h2M44 64h1M46 64h2M118 64h1M45 65h3M117 65h2M45 66h4M117 66h2"/>
<path stroke="#a1cde2" d="M47 0h2M102 0h2M112 0h1M48 1h2M49 2h2M49 3h2M50 4h1M50 5h2M111 5h1M51 6h1M51 7h1M111 7h1M52 8h1M111 8h1M53 9h1M110 10h1M54 12h1M109 12h1M55 13h1M108 13h1M55 14h1M56 15h1M107 15h1M56 16h1M107 16h1M57 17h1M57 18h1M58 19h1M61 25h1M107 25h1M61 26h1M107 26h1M108 28h1M109 31h1M109 32h1M109 33h1M62 34h1M110 35h1M63 36h1M111 37h1M112 38h1M113 39h1M64 40h1M113 40h1M62 41h1M113 41h2M114 42h1M56 43h1M58 43h4M114 43h1M54 44h2M114 44h3M53 45h3M114 45h2M52 46h3M114 46h2M51 47h3M115 47h1M52 48h3M114 48h2M50 49h1M53 49h1M114 49h3M50 50h4M115 50h3M50 51h3M116 51h1M50 52h4M116 52h1M49 53h1M51 53h2M115 53h3M50 54h3M116 54h1M50 55h1M115 55h3M49 56h3M116 56h1M118 56h1M49 57h4M115 57h3M48 58h4M115 58h3M49 59h1M51 59h1M116 59h2M47 60h1M49 60h1M116 60h1M49 61h2M115 61h2M47 62h1M49 62h1M116 62h1M48 63h3M116 63h1M48 64h2M117 64h1M48 65h3M49 66h1M116 66h1"/>
<path stroke="#aad1e5" d="M49 0h1M104 0h1M50 1h1M102 1h2M51 3h1M111 3h1M51 4h2M111 4h1M52 5h1M52 6h1M111 6h1M52 7h1M53 8h1M54 10h1M54 11h1M55 12h1M56 14h1M107 14h1M57 16h1M58 18h1M106 18h1M59 20h1M59 21h2M106 21h1M60 22h1M106 22h1M60 23h1M61 24h1M107 27h1M108 29h1M108 30h1M108 31h1M108 33h1M109 34h1M110 36h1M64 37h1M110 37h1M64 38h1M110 38h2M64 39h1M111 39h2M112 40h1M63 41h1M113 42h1M112 43h2M56 44h5M112 44h1M56 45h2M113 45h1M55 46h2M113 46h1M54 47h2M113 47h2M55 48h1M113 48h1M52 49h1M54 49h1M113 49h1M54 50h2M113 50h1M53 51h1M114 51h2M113 52h3M53 53h2M114 53h1M53 54h2M113 54h3M51 55h2M54 55h1M52 56h2M114 56h2M53 57h1M114 57h1M52 58h1M114 58h1M50 59h1M52 59h2M114 59h2M50 60h3M113 60h3M51 61h2M114 61h1M50 62h2M114 62h2M51 63h2M113 63h3M50 64h2M115 64h2M51 65h2M114 65h3M50 66h2M115 66h1"/>
<path stroke="#b3d6e7" d="M50 0h3M111 0h1M51 1h2M104 1h1M111 1h1M51 2h2M103 2h1M111 2h1M52 3h1M53 5h1M110 5h1M53 6h1M110 6h1M53 7h2M110 7h1M54 8h2M110 8h1M54 9h1M110 9h1M55 10h1M55 11h2M109 11h1M56 12h1M108 12h1M56 13h1M107 13h1M57 14h1M57 15h1M106 16h1M58 17h1M106 17h1M59 18h1M59 19h1M106 19h1M60 20h1M106 20h1M61 23h1M106 23h1M106 24h1M106 25h1M106 26h1M107 28h1M107 30h1M107 31h1M108 32h1M62 33h1M63 35h1M109 35h1M109 36h1M109 37h1M111 40h1M64 41h1M111 41h2M62 42h1M111 42h2M61 44h1M113 44h1M58 45h2M111 45h2M57 46h1M111 46h2M56 47h1M111 47h2M56 48h2M55 49h3M112 49h1M56 50h1M112 50h1M114 50h1M54 51h2M112 51h2M54 52h3M55 53h1M113 53h1M55 54h1M53 55h1M55 55h1M112 55h3M54 56h1M112 56h2M54 57h1M113 57h1M53 58h1M112 58h2M54 59h1M113 59h1M53 60h1M112 60h1M53 61h2M112 61h2M52 62h2M113 62h1M53 63h2M52 64h2M112 64h3M112 65h2M52 66h2M112 66h3"/>
<path stroke="#bcdaea" d="M53 0h1M101 0h1M105 0h1M101 1h1M105 1h1M53 2h2M102 2h1M104 2h2M110 2h1M53 3h2M110 3h1M53 4h2M110 4h1M54 5h2M54 6h2M55 7h1M109 8h1M55 9h2M56 10h1M109 10h1M108 11h1M107 12h1M57 13h1M58 14h1M106 14h1M58 15h1M106 15h1M58 16h1M59 17h1M61 21h1M61 22h1M105 22h1M105 23h1M106 28h1M107 29h1M62 31h1M62 32h1M107 32h1M107 33h1M63 34h1M107 34h2M108 35h1M64 36h1M108 36h1M109 38h1M65 39h1M109 39h2M65 40h1M110 40h1M63 42h1M110 42h1M62 43h1M110 43h2M111 44h1M60 45h2M58 46h3M110 46h1M57 47h3M58 48h1M111 48h2M58 49h1M111 49h1M57 50h2M111 50h1M56 51h3M110 51h2M57 52h2M111 52h2M56 53h1M111 53h2M56 54h1M111 54h2M111 55h1M55 56h2M111 56h1M55 57h2M111 57h2M54 58h2M110 58h2M55 59h1M111 59h2M54 60h2M111 60h1M55 61h1M111 61h1M54 62h1M111 62h2M111 63h2M54 64h2M111 64h1M53 65h2M110 65h2M54 66h2M110 66h2"/>
<path stroke="#c5dfec" d="M54 0h1M106 0h1M108 0h1M110 0h1M53 1h2M106 1h2M110 1h1M55 2h1M101 2h1M106 2h1M108 2h1M55 3h1M102 3h3M106 3h1M109 3h1M55 4h1M109 4h1M56 5h1M107 5h3M56 6h1M107 6h1M109 6h1M56 7h2M108 7h2M56 8h1M108 8h1M108 9h2M57 10h1M108 10h1M57 11h2M107 11h1M57 12h2M58 13h1M106 13h1M59 15h1M59 16h1M60 18h1M105 18h1M60 19h2M105 19h1M61 20h1M105 20h1M105 21h1M105 24h1M106 27h1M62 28h1M62 29h1M106 29h1M62 30h1M63 32h1M63 33h1M64 35h1M107 35h1M107 36h1M108 37h1M65 38h1M108 38h1M109 40h1M65 41h1M109 41h2M64 42h1M109 42h1M109 43h1M62 44h1M110 44h1M110 45h1M61 46h1M109 46h1M60 47h1M109 47h2M59 48h2M110 48h1M59 49h1M110 49h1M59 50h1M110 50h1M59 51h1M109 51h1M59 52h1M109 52h2M57 53h1M110 53h1M57 54h2M109 54h2M56 55h2M109 55h2M57 56h1M109 56h2M57 57h1M109 57h2M56 58h1M109 58h1M56 59h1M108 59h3M56 60h1M109 60h2M56 61h1M109 61h2M55 62h2M109 62h2M55 63h2M109 63h2M110 64h1M55 65h2M109 65h1M109 66h1"/>
<path stroke="#cde3ef" d="M55 0h2M107 0h1M109 0h1M55 1h2M108 1h2M56 2h1M107 2h1M109 2h1M56 3h1M101 3h1M105 3h1M107 3h2M56 4h1M103 4h6M57 5h2M105 5h2M57 6h1M108 6h1M57 8h1M107 8h1M57 9h2M107 9h1M58 10h1M107 10h1M59 12h1M106 12h1M59 13h1M59 14h2M105 15h1M60 16h1M105 16h1M60 17h1M105 17h1M61 18h1M104 21h1M104 23h1M105 25h1M62 26h1M105 26h1M62 27h1M105 27h1M105 28h1M63 29h1M63 30h1M106 30h1M63 31h1M106 31h1M106 32h1M64 33h1M106 33h1M64 34h1M106 34h1M65 37h1M107 37h1M107 38h1M66 39h1M107 39h2M66 40h1M108 40h1M108 41h1M63 43h1M63 44h1M108 44h2M62 45h2M108 45h2M62 46h1M61 47h1M108 47h1M61 48h1M108 48h2M60 49h2M109 49h1M60 50h2M109 50h1M60 51h1M108 51h1M58 53h2M108 53h2M59 54h1M108 54h1M58 55h2M108 55h1M58 56h2M107 56h2M58 57h1M108 57h1M57 58h2M107 58h2M57 59h2M107 59h1M57 60h2M108 60h1M57 61h1M108 61h1M57 62h1M108 62h1M57 63h1M107 63h2M56 64h2M107 64h3M57 65h1M107 65h2M56 66h2M107 66h2"/>
<path stroke="#d4e7f1" d="M100 0h1M57 1h2M100 1h1M57 2h1M57 3h2M57 4h1M102 4h1M103 5h2M58 6h1M103 6h2M106 6h1M58 7h1M106 7h2M58 8h2M106 8h1M59 9h1M106 9h1M59 10h1M106 10h1M59 11h1M106 11h1M105 12h1M60 13h1M105 13h1M105 14h1M60 15h1M104 16h1M61 17h1M104 17h1M104 18h1M104 19h1M62 20h1M104 20h1M62 21h1M104 22h1M62 23h1M62 24h2M104 24h1M62 25h2M104 25h1M63 27h1M63 28h1M64 29h1M105 29h1M105 30h1M105 31h1M64 32h1M105 32h1M105 33h1M106 35h1M65 36h1M106 36h1M106 37h1M106 38h1M107 40h1M66 41h1M107 41h1M65 42h1M107 42h2M64 43h1M107 43h2M64 44h1M107 44h1M63 46h1M107 46h2M62 47h1M62 48h1M62 49h1M108 49h1M62 50h1M108 50h1M61 51h2M107 51h1M60 52h2M107 52h2M60 53h2M60 54h2M60 55h1M107 55h1M60 56h1M59 57h1M107 57h1M59 58h1M59 59h2M106 59h1M59 60h1M106 60h2M58 61h2M106 61h2M58 62h2M106 62h2M58 63h1M58 64h1M106 64h1M58 65h1M58 66h1M106 66h1"/>
<path stroke="#dae9f2" d="M57 0h2M58 2h2M100 2h1M58 4h2M101 4h1M59 5h2M102 5h1M59 6h2M102 6h1M105 6h1M59 7h2M103 7h3M60 8h1M104 8h2M60 9h1M105 9h1M60 10h1M105 10h1M60 11h2M105 11h1M60 12h2M61 13h1M61 14h1M104 14h1M61 15h1M104 15h1M61 16h1M62 17h1M62 19h1M103 20h1M103 21h1M62 22h1M103 22h1M63 23h1M63 26h1M104 26h1M64 27h1M104 27h1M64 28h1M104 28h1M64 30h1M104 30h1M64 31h1M104 33h1M65 34h1M105 34h1M65 35h1M105 35h1M105 36h1M66 37h1M105 37h1M66 38h1M105 38h1M106 39h1M106 40h1M106 41h1M66 42h1M106 42h1M65 43h1M106 43h1M65 44h1M64 45h1M107 45h1M64 46h1M106 46h1M63 47h2M107 47h1M63 48h1M106 48h2M63 49h1M106 49h2M63 50h1M106 50h2M106 51h1M106 52h1M62 53h1M106 53h2M106 54h2M61 55h1M61 56h1M106 56h1M60 57h2M106 57h1M60 58h1M105 58h2M60 60h1M60 61h1M59 63h1M105 63h2M59 64h1M105 64h1M59 65h1M106 65h1M59 66h1"/>
<path stroke="#dfecf3" d="M59 0h2M59 1h2M60 2h1M59 3h2M100 3h1M60 4h2M61 5h1M101 5h1M61 6h1M101 6h1M61 7h1M102 7h1M61 8h1M103 8h1M61 9h1M104 9h1M61 10h2M104 10h1M103 11h2M104 12h1M62 13h1M103 13h2M62 14h1M103 14h1M62 15h1M103 15h1M62 16h1M103 16h1M103 17h1M62 18h2M103 18h1M63 19h1M103 19h1M63 20h1M63 21h1M63 22h2M64 23h1M103 23h1M64 24h1M103 24h1M64 25h1M103 25h1M64 26h1M103 26h1M103 29h2M65 30h1M65 31h1M104 31h1M65 32h1M104 32h1M65 33h1M104 34h1M66 35h1M104 35h1M66 36h1M104 36h1M67 39h1M105 39h1M67 40h1M105 40h1M67 41h1M105 41h1M105 43h1M105 44h2M65 45h1M105 45h2M65 46h1M105 46h1M65 47h1M105 47h2M64 48h1M64 49h1M105 49h1M105 50h1M63 51h1M105 51h1M62 52h2M105 52h1M62 54h1M105 54h1M62 55h1M105 55h2M62 56h1M105 56h1M62 57h1M104 57h2M61 58h1M61 59h1M105 59h1M61 60h1M105 60h1M105 61h1M60 62h1M105 62h1M60 63h1M60 64h1M60 65h1M105 65h1M60 66h1M104 66h2"/>
<path stroke="#e4eef4" d="M99 0h1M61 1h1M99 1h1M61 2h1M61 3h2M100 4h1M62 5h2M100 5h1M62 6h1M62 7h1M101 7h1M62 8h2M102 8h1M62 9h1M102 9h2M63 10h1M102 10h2M62 11h1M62 12h1M103 12h1M63 13h1M63 14h1M102 14h1M63 15h1M102 15h1M63 16h1M63 17h2M102 17h1M64 18h1M102 18h1M64 19h1M102 19h1M64 20h2M102 20h1M64 21h1M102 21h1M102 22h1M102 23h1M102 24h1M65 25h1M65 26h1M102 26h1M65 27h1M103 27h1M65 28h1M103 28h1M65 29h2M66 30h1M103 30h1M66 31h1M103 31h1M66 32h1M103 32h1M66 33h1M103 33h1M66 34h1M103 34h1M103 35h1M67 37h1M104 37h1M67 38h1M104 38h1M104 40h1M104 41h1M67 42h1M104 42h2M66 43h1M104 43h1M66 44h1M104 44h1M66 45h1M104 45h1M66 46h1M104 46h1M104 47h1M65 48h1M104 48h2M104 49h1M64 50h1M104 50h1M64 51h1M104 51h1M64 52h1M104 52h1M63 53h1M104 53h2M104 54h1M63 55h1M104 55h1M104 56h1M62 58h1M103 58h2M104 59h1M104 60h1M61 61h1M104 61h1M61 62h1M104 62h1M61 63h1M104 63h1M104 64h1M61 65h1M104 65h1M103 66h1"/>
<path stroke="#eaf1f5" d="M61 0h2M62 1h1M62 2h1M99 2h1M99 3h1M62 4h1M99 4h1M63 6h1M100 6h1M63 7h1M100 7h1M101 8h1M63 9h1M101 9h1M101 10h1M63 11h2M102 11h1M63 12h2M102 12h1M64 13h1M101 13h2M64 14h1M101 14h1M64 15h1M64 16h2M101 16h2M101 17h1M65 18h1M65 19h1M101 19h1M65 21h1M101 21h1M65 22h2M65 23h1M65 24h2M66 25h1M102 25h1M66 26h1M66 27h1M102 27h1M66 28h1M102 29h1M102 30h1M102 32h1M67 33h1M67 34h1M67 35h1M67 36h1M103 36h1M102 37h2M103 38h1M103 39h2M102 40h2M68 41h1M103 41h1M103 42h1M67 43h1M103 43h1M67 44h1M103 44h1M103 45h1M103 46h1M66 47h1M66 48h1M103 48h1M65 49h1M65 50h1M103 50h1M103 51h1M103 52h1M64 53h1M103 53h1M63 54h1M103 54h1M103 55h1M63 56h1M103 56h1M63 57h1M103 57h1M62 59h1M103 59h1M62 60h1M103 60h1M62 61h1M103 61h1M103 62h1M103 63h1M61 64h1M103 64h1M103 65h1M61 66h1"/>
<path stroke="#eff3f6" d="M63 0h1M98 0h1M63 1h2M63 2h1M63 3h2M63 4h2M64 5h1M99 5h1M64 6h1M64 7h1M64 8h1M100 8h1M64 9h2M100 9h1M64 10h2M100 10h1M65 11h1M101 11h1M65 12h1M101 12h1M65 13h1M65 14h1M65 15h1M101 15h1M65 17h2M66 18h1M101 18h1M66 19h2M101 20h1M66 21h1M101 22h1M66 23h2M101 23h1M67 24h1M101 24h1M67 25h1M67 26h1M67 27h1M101 27h1M67 28h1M102 28h1M67 29h1M67 30h1M67 31h1M102 31h1M67 32h1M68 33h1M102 33h1M102 34h1M68 35h1M102 35h1M68 36h1M102 36h1M68 37h1M68 38h1M102 38h1M68 39h1M102 39h1M68 40h1M102 41h1M68 42h1M102 42h1M102 43h1M102 44h1M67 45h1M102 45h1M67 46h1M102 46h1M102 47h2M102 48h1M66 49h1M103 49h1M65 51h1M65 52h1M102 52h1M102 53h1M64 54h1M102 54h1M64 55h1M102 55h1M102 56h1M102 57h1M63 58h1M102 58h1M63 59h1M102 59h1M63 60h1M102 61h1M62 62h1M102 62h1M62 63h1M102 63h1M102 64h1M102 65h1M102 66h1"/>
<path stroke="#f4f6f7" d="M64 0h2M65 1h1M98 1h1M64 2h2M98 2h1M65 3h1M98 3h1M65 4h1M65 5h1M65 6h1M99 6h1M65 7h2M99 7h1M65 8h2M99 8h1M66 9h1M66 10h1M66 11h1M100 11h1M66 12h1M100 12h1M66 13h1M99 13h2M66 14h1M100 14h1M66 15h1M100 15h1M66 16h1M100 16h1M67 17h1M100 17h1M67 18h1M100 18h1M100 19h1M66 20h2M67 21h2M67 22h1M100 22h1M68 23h1M100 23h1M68 24h1M68 25h1M100 25h2M68 26h1M101 26h1M68 28h1M101 28h1M68 29h1M101 29h1M68 30h1M101 30h1M68 31h1M101 31h1M68 32h1M101 32h1M101 33h1M68 34h1M101 34h1M101 35h1M101 36h1M101 37h1M101 38h1M101 39h1M101 41h1M101 42h1M68 43h1M101 44h1M68 45h1M101 45h1M67 47h1M101 47h1M67 48h1M102 49h1M66 50h1M102 50h1M66 51h1M102 51h1M65 53h1M64 56h1M64 57h1M101 59h1M102 60h1M63 61h1M101 61h1M62 64h1M62 65h1M101 65h1M62 66h1"/>
<path stroke="#f7f5f4" d="M97 0h1M66 1h1M97 1h1M66 2h1M66 3h1M66 4h2M98 4h1M66 5h1M98 5h1M66 6h2M67 7h1M98 7h1M67 8h1M97 8h2M67 9h1M98 9h2M67 10h1M98 10h2M67 11h2M98 11h2M67 12h1M98 12h2M67 13h1M67 14h2M98 14h2M67 15h1M99 15h1M67 16h2M98 16h2M99 17h1M68 18h1M98 18h2M68 19h1M99 19h1M68 20h1M98 20h3M99 21h2M68 22h1M99 22h1M99 23h1M100 24h1M99 25h1M69 26h1M100 26h1M68 27h1M99 27h2M69 28h1M100 28h1M69 29h1M100 29h1M100 30h1M99 31h2M69 32h1M100 32h1M69 33h1M100 33h1M69 34h1M100 34h1M69 35h1M100 35h1M69 36h1M100 36h1M69 37h1M100 37h1M69 38h1M100 38h1M69 39h1M69 40h1M101 40h1M69 41h1M100 41h1M69 42h1M101 43h1M68 44h1M68 46h1M101 46h1M68 47h1M101 48h1M67 49h1M101 49h1M101 50h1M101 51h1M66 52h1M101 52h1M101 53h1M65 54h1M101 54h1M65 55h1M101 55h1M65 56h1M101 56h1M101 57h1M64 58h1M101 58h1M64 59h1M64 60h1M101 60h1M63 62h1M101 62h1M63 63h1M101 63h1M63 64h1M101 64h1M101 66h1"/>
<path stroke="#f8f1ed" d="M66 0h2M67 1h1M67 2h1M97 2h1M67 3h1M97 3h1M97 4h1M67 5h2M97 5h1M68 6h1M97 6h2M68 7h1M97 7h1M68 8h1M68 9h2M97 9h1M97 10h1M69 11h1M97 11h1M68 12h1M97 12h1M68 13h1M96 13h3M69 14h1M97 14h1M68 15h2M97 15h2M68 17h2M97 17h2M69 18h1M97 18h1M69 19h1M97 19h2M69 20h1M69 21h1M98 21h1M69 22h1M97 22h2M69 23h1M98 23h1M69 24h1M98 24h2M69 25h2M98 25h1M98 26h2M69 27h2M98 27h1M98 28h2M97 29h3M69 30h1M99 30h1M69 31h1M99 32h1M99 33h1M70 34h1M99 34h1M70 35h1M99 35h1M99 36h1M99 37h1M70 38h1M99 39h2M100 40h1M99 41h1M100 42h1M69 43h1M100 43h1M100 44h1M100 45h1M100 46h1M100 47h1M68 48h1M100 48h1M100 49h1M67 50h1M100 50h1M67 51h1M100 52h1M66 53h1M66 54h1M100 54h1M100 55h1M65 57h1M100 57h1M100 58h1M100 60h1M64 61h1M63 65h1M63 66h1"/>
<path stroke="#f9ede6" d="M68 0h1M96 0h1M68 1h1M96 1h1M68 2h2M96 2h1M68 3h1M96 3h1M68 4h1M96 4h1M96 5h1M96 6h1M69 7h1M96 7h1M69 8h2M96 8h1M96 9h1M68 10h2M95 10h2M95 11h2M69 12h1M96 12h1M69 13h2M70 14h1M96 14h1M70 15h1M96 15h1M69 16h2M95 16h3M70 17h1M70 18h1M96 18h1M70 19h1M70 20h1M97 20h1M70 21h1M96 21h2M70 22h2M96 22h1M70 23h2M96 23h2M70 24h1M96 24h2M71 25h1M95 25h3M70 26h1M97 26h1M97 27h1M70 28h1M96 28h2M70 29h2M96 29h1M70 30h1M97 30h2M70 31h1M98 31h1M70 32h1M98 32h1M70 33h1M98 33h1M98 34h1M98 35h1M70 36h1M98 36h1M70 37h1M99 38h1M70 39h1M70 40h1M99 40h1M99 42h1M99 43h1M69 44h1M99 44h1M99 45h1M99 46h1M99 47h1M68 49h1M100 51h1M67 52h1M100 53h1M66 55h1M100 56h1M65 58h1M100 59h1M100 61h1M64 62h1M100 62h1M64 63h1M100 63h1M100 64h1M100 65h1M100 66h1"/>
<path stroke="#fae9df" d="M95 0h1M69 1h1M95 1h1M69 3h1M95 3h1M69 4h2M95 4h1M69 5h2M95 5h1M69 6h2M95 6h1M70 7h1M95 7h1M94 8h2M70 9h2M95 9h1M70 10h1M70 11h2M94 11h1M70 12h1M95 12h1M71 13h1M94 13h2M95 14h1M95 15h1M71 16h1M94 16h1M94 17h3M71 18h1M95 18h1M71 19h1M95 19h2M71 20h1M95 20h2M71 21h1M95 21h1M95 22h1M94 23h2M71 24h1M95 24h1M94 25h1M71 26h1M95 26h2M71 27h1M96 27h1M95 28h1M95 29h1M71 30h1M96 30h1M71 31h1M96 31h2M71 32h1M96 32h2M71 33h1M97 33h1M71 34h1M97 34h1M71 35h1M97 35h1M97 36h1M97 37h2M97 38h2M98 39h1M98 40h1M70 41h1M98 41h1M98 42h1M98 43h1M98 44h1M69 45h1M69 46h1M99 48h1M99 49h1M68 50h1M99 50h1M99 51h1M67 54h1M99 54h1M99 55h1M66 56h1M99 57h1M65 59h1M65 60h1M64 64h1M64 65h1"/>
<path stroke="#fbe5d9" d="M69 0h2M94 0h1M70 1h1M94 1h1M70 2h1M94 2h2M70 3h1M94 3h1M94 4h1M71 5h1M94 5h1M71 6h1M94 6h1M71 7h1M93 7h2M71 8h1M72 9h1M94 9h1M71 10h2M93 10h2M93 11h1M71 12h2M93 12h2M72 13h1M71 14h2M93 14h2M71 15h2M94 15h1M72 16h1M71 17h2M72 18h1M93 18h2M72 19h2M93 19h2M72 20h1M93 20h2M72 21h2M94 21h1M72 22h1M94 22h1M72 23h1M72 24h1M93 24h2M72 25h1M72 26h1M94 26h1M72 27h1M94 27h2M71 28h2M93 28h2M94 29h1M94 30h2M95 31h1M95 32h1M96 33h1M96 34h1M96 35h1M71 36h1M96 36h1M71 37h1M97 39h1M97 40h1M97 41h1M70 42h1M70 43h1M70 44h1M98 45h1M98 46h1M69 47h1M98 47h1M69 48h1M98 48h1M68 51h1M68 52h1M98 52h2M67 53h1M99 53h1M99 56h1M66 57h1M66 58h1M99 58h1M99 59h1M99 60h1M65 61h1M99 61h1M65 62h1M99 62h1M99 63h1M99 64h1M99 65h1M64 66h1M99 66h1"/>
<path stroke="#fce1d2" d="M93 0h1M71 1h1M93 1h1M71 2h1M93 2h1M71 3h1M71 4h1M93 4h1M72 5h1M93 5h1M72 6h1M93 6h1M72 7h1M72 8h1M93 8h1M92 9h2M73 10h1M92 10h1M72 11h2M73 12h2M92 12h1M73 13h1M92 13h2M73 14h2M73 15h1M92 15h2M73 16h1M93 16h1M73 17h1M92 17h2M73 18h2M74 19h1M91 19h2M73 20h2M92 20h1M92 21h2M73 22h2M92 22h2M73 23h2M93 23h1M73 24h1M92 24h1M73 25h1M92 25h2M73 26h1M93 26h1M93 27h1M73 28h1M72 29h1M93 29h1M72 30h1M93 30h1M72 31h1M94 31h1M72 32h1M94 32h1M72 33h1M95 33h1M72 34h1M95 34h1M72 35h1M95 35h1M95 36h1M96 37h1M71 38h1M96 38h1M71 39h1M96 39h1M96 40h1M71 41h1M97 42h1M97 43h1M97 44h1M70 45h1M97 45h1M70 46h1M97 46h1M69 49h1M98 49h1M98 50h1M98 51h1M68 53h1M98 53h1M98 54h1M67 55h1M98 57h1M65 63h1M65 64h1"/>
<path stroke="#fcddcb" d="M71 0h1M72 1h1M92 1h1M72 2h1M72 3h2M92 3h2M72 4h2M92 4h1M73 5h1M92 5h1M73 6h2M92 6h1M73 7h2M91 7h2M73 8h2M92 8h1M73 9h2M91 9h1M74 10h1M91 10h1M74 11h2M91 11h2M75 12h1M91 12h1M74 13h2M91 14h2M74 15h1M91 15h1M74 16h2M92 16h1M74 17h1M91 17h1M75 18h1M91 18h2M75 19h1M75 20h1M91 20h1M74 21h3M90 21h1M75 22h1M91 22h1M75 23h1M91 23h2M74 24h2M91 24h1M74 25h1M91 25h1M74 26h1M92 26h1M73 27h2M92 27h1M92 28h1M73 29h1M92 29h1M73 30h1M73 31h1M93 31h1M73 32h1M93 32h1M73 33h1M94 33h1M73 34h1M94 34h1M94 35h1M72 36h1M72 37h1M95 37h1M95 38h1M71 40h1M95 40h1M96 41h1M71 42h1M96 42h1M96 43h1M97 47h1M97 48h1M97 49h1M69 50h1M98 55h1M67 56h1M98 56h1M98 58h1M66 59h1M98 59h1M66 60h1M98 60h1M98 61h1M98 62h1M98 63h1M98 65h1"/>
<path stroke="#fcd8c3" d="M72 0h2M92 0h1M73 1h1M73 2h1M91 2h2M74 3h1M91 3h1M74 4h2M74 5h1M91 5h1M75 6h1M91 6h1M75 7h1M75 8h1M91 8h1M75 9h1M90 9h1M75 10h1M76 11h1M90 11h1M76 12h1M89 12h2M76 13h1M90 13h2M75 14h3M75 15h3M90 15h1M76 16h1M89 16h3M75 17h3M90 17h1M76 18h2M90 18h1M76 19h1M90 19h1M76 20h2M89 20h2M77 21h1M88 21h1M91 21h1M76 22h2M90 22h1M76 23h3M90 23h1M76 24h1M75 25h2M90 25h1M75 26h1M90 26h2M75 27h1M89 27h3M74 28h2M91 28h1M74 29h2M91 29h1M74 30h1M92 30h1M74 31h1M91 31h2M92 32h1M92 33h2M93 34h1M73 35h1M93 35h1M94 36h1M94 37h1M72 38h1M94 38h1M95 39h1M95 41h1M71 43h1M95 43h1M71 44h1M96 44h1M96 45h1M96 46h1M70 47h1M70 48h1M96 48h1M97 50h1M69 51h1M97 51h1M69 52h1M97 52h1M97 53h1M68 54h1M67 57h1M66 61h1M98 64h1M65 65h1M65 66h1M98 66h1"/>
<path stroke="#fbd0b9" d="M74 0h1M91 0h1M74 1h1M91 1h1M74 2h1M90 2h1M75 3h1M90 3h1M90 4h2M75 5h2M90 5h1M76 6h1M90 6h1M76 7h1M90 7h1M76 8h2M89 8h2M76 9h3M89 9h1M76 10h1M89 10h2M77 11h2M87 11h1M89 11h1M77 12h2M88 12h1M77 13h2M89 13h1M78 14h1M85 14h1M87 14h4M78 15h1M89 15h1M77 16h3M88 16h1M78 17h2M83 17h2M86 17h4M78 18h2M88 18h2M77 19h2M85 19h2M89 19h1M78 20h2M87 20h2M78 21h2M84 21h1M87 21h1M89 21h1M78 22h2M84 22h1M86 22h4M87 23h3M77 24h2M86 24h1M88 24h3M77 25h1M89 25h1M76 26h3M88 26h2M76 27h2M76 28h1M90 28h1M76 29h1M89 29h2M75 30h1M91 30h1M74 32h1M91 32h1M74 33h1M74 34h1M92 34h1M92 35h1M73 36h1M93 36h1M72 39h1M94 39h1M72 40h1M94 40h1M95 42h1M95 44h1M71 45h1M96 47h1M70 49h1M96 49h1M96 50h1M69 53h1M97 54h1M68 55h1M97 55h1M97 57h1M67 58h1M97 58h1M67 59h1M97 60h1M66 62h1M66 63h1"/>
<path stroke="#fac9b0" d="M75 0h1M90 0h1M75 1h1M90 1h1M75 2h1M86 2h1M76 3h1M89 3h1M76 4h2M89 4h1M77 5h1M83 5h2M89 5h1M77 6h2M83 6h1M85 6h2M89 6h1M77 7h4M84 7h2M87 7h3M78 8h1M80 8h2M85 8h4M79 9h1M81 9h1M84 9h5M77 10h5M83 10h6M79 11h8M88 11h1M79 12h9M79 13h10M79 14h6M86 14h1M79 15h5M85 15h4M80 16h8M80 17h3M85 17h1M80 18h8M79 19h6M87 19h2M80 20h7M80 21h2M83 21h1M85 21h2M81 22h3M85 22h1M79 23h8M79 24h2M82 24h1M84 24h2M87 24h1M78 25h2M84 25h1M86 25h3M84 26h4M78 27h1M86 27h3M77 28h2M86 28h1M88 28h2M77 29h1M88 29h1M76 30h1M89 30h2M75 31h2M89 31h2M75 32h1M75 33h1M89 33h3M91 34h1M74 35h1M74 36h1M92 36h1M73 37h1M93 37h1M73 38h1M93 38h1M93 39h1M72 41h1M94 41h1M72 42h1M94 42h1M94 43h1M95 45h1M71 46h1M95 46h1M95 47h1M70 50h1M96 51h1M96 52h1M96 53h1M68 56h1M97 56h1M97 59h1M67 60h1M97 61h1M97 62h1M97 63h1M66 64h1M97 64h1M66 65h1M97 65h1"/>
<path stroke="#f9c1a6" d="M76 0h3M86 0h1M88 0h2M76 1h3M82 1h3M86 1h1M88 1h2M76 2h2M79 2h7M87 2h3M77 3h1M79 3h1M81 3h8M78 4h11M78 5h5M85 5h4M80 6h3M84 6h1M87 6h2M81 7h3M86 7h1M79 8h1M82 8h3M80 9h1M82 9h2M82 10h1M84 15h1M82 21h1M80 22h1M81 24h1M83 24h1M80 25h4M85 25h1M79 26h5M79 27h2M82 27h4M79 28h4M85 28h1M87 28h1M78 29h2M84 29h4M77 30h1M87 30h2M88 31h1M89 32h2M75 34h1M90 34h1M91 35h1M91 36h1M92 37h1M92 38h1M73 39h1M93 40h1M93 41h1M72 43h1M94 44h1M94 45h1M71 47h1M71 48h1M95 48h1M70 51h1M69 54h1M96 54h1M96 55h1M68 57h1M96 57h1M67 61h1M66 66h1M97 66h1"/>
<path stroke="#f7ba9c" d="M79 0h7M87 0h1M79 1h3M85 1h1M87 1h1M78 2h1M78 3h1M80 3h1M79 6h1M81 27h1M83 28h2M80 29h4M78 30h4M83 30h1M85 30h2M77 31h3M85 31h1M87 31h1M76 32h2M88 32h1M76 33h1M88 33h1M89 34h1M75 35h1M89 35h2M74 37h1M91 37h1M74 38h1M92 39h1M73 40h1M92 40h1M73 41h1M93 42h1M93 43h1M72 44h1M93 44h1M94 46h1M94 47h1M71 49h1M95 49h1M95 50h1M95 51h1M70 52h1M95 52h1M69 55h1M96 56h1M68 58h1M96 58h1M96 59h1M96 60h1M96 61h1M67 62h1"/>
<path stroke="#f6b293" d="M82 30h1M84 30h1M86 31h1M78 32h1M86 32h2M77 33h1M87 33h1M76 34h1M87 34h2M76 35h1M88 35h1M75 36h1M89 36h2M90 37h1M91 38h1M74 39h1M91 39h1M92 41h1M73 42h1M73 43h1M72 45h1M93 45h1M72 46h1M93 46h1M72 47h1M94 48h1M94 49h1M71 50h1M94 50h1M70 53h1M95 53h1M95 54h1M95 55h1M95 56h1M68 59h1M96 62h1M67 63h1M96 63h1M96 64h1M96 65h1M96 66h1"/>
<path stroke="#f5aa89" d="M80 31h5M79 32h7M78 33h2M85 33h2M77 34h1M86 34h1M87 35h1M76 36h1M75 37h1M75 38h1M90 38h1M90 39h1M74 40h1M91 40h1M91 41h1M92 42h1M92 43h1M73 44h1M92 44h1M93 47h1M72 48h1M93 48h1M71 51h1M94 51h1M94 52h1M70 54h1M69 56h1M95 57h1M67 64h1"/>
<path stroke="#f3a280" d="M80 33h2M83 33h2M78 34h2M85 34h1M77 35h1M85 35h2M88 36h1M89 37h1M74 41h1M91 42h1M73 45h1M92 45h1M92 46h1M93 49h1M71 52h1M94 54h1M69 57h1M95 58h1M95 59h1M68 60h1M95 60h1M68 61h1M95 61h1M68 62h1M95 62h1M67 65h1M67 66h1"/>
<path stroke="#ef9878" d="M82 33h1M80 34h5M78 35h2M84 35h1M77 36h1M87 36h1M76 37h1M88 37h1M88 38h2M75 39h1M89 39h1M90 40h1M74 42h1M74 43h1M91 43h1M91 44h1M73 46h1M73 47h1M92 47h1M72 49h1M93 50h1M93 51h1M93 52h1M71 53h1M94 53h1M70 55h1M94 55h1M69 58h1M95 63h1M95 64h1M95 65h1M95 66h1"/>
<path stroke="#ea8f71" d="M80 35h4M78 36h3M85 36h2M77 37h1M86 37h2M76 38h1M75 40h1M89 40h1M90 41h1M90 42h1M90 43h1M91 45h1M91 46h1M73 48h1M92 48h1M92 49h1M72 50h1M72 51h1M93 53h1M70 56h1M94 56h1M94 57h1M94 58h1M69 59h1M68 63h1M68 64h1"/>
<path stroke="#e68569" d="M81 36h4M78 37h2M85 37h1M77 38h1M87 38h1M76 39h1M88 39h1M75 41h1M89 41h1M75 42h1M74 44h1M90 44h1M74 45h1M91 47h1M91 48h1M92 50h1M92 51h1M71 54h1M93 54h1M70 57h1M94 59h1M69 60h1M94 60h1M68 65h1M68 66h1"/>
<path stroke="#e27b62" d="M80 37h1M78 38h1M86 38h1M77 39h1M87 39h1M76 40h1M88 40h1M89 42h1M75 43h1M90 45h1M74 46h1M90 46h1M73 49h1M72 52h1M92 52h1M72 53h1M71 55h1M93 55h1M69 61h1M94 61h1M69 62h1M94 63h1M94 65h1"/>
<path stroke="#de715a" d="M81 37h4M79 38h1M84 38h2M86 39h1M87 40h1M76 41h1M88 41h1M89 43h1M75 44h1M89 44h1M74 47h1M90 47h1M74 48h1M91 49h1M73 50h1M92 53h1M93 56h1M93 57h1M70 58h1M94 62h1M69 63h1M94 64h1M94 66h1"/>
<path stroke="#d96853" d="M80 38h4M78 39h2M81 39h1M85 39h1M77 40h1M86 40h1M77 41h1M87 41h1M76 42h1M88 42h1M88 43h1M75 45h1M89 45h1M90 48h1M91 50h1M73 51h1M91 51h1M72 54h1M92 54h1M92 55h1M71 56h1M93 58h1M70 59h1M93 60h1"/>
<path stroke="#d55e4c" d="M80 39h1M82 39h3M78 40h2M85 40h1M86 41h1M87 42h1M76 43h1M88 44h1M75 46h1M89 46h1M74 49h1M90 49h1M73 52h1M91 52h1M73 53h1M72 55h1M92 56h1M71 57h1M93 59h1M70 60h1M93 61h1M93 62h1M93 63h1M69 64h1M93 64h1"/>
<path stroke="#d05447" d="M80 40h5M78 41h2M84 41h2M77 42h1M86 42h1M86 43h2M76 44h1M87 44h1M88 45h1M75 47h1M89 47h1M74 50h1M90 50h1M90 51h1M91 53h1M72 56h1M92 57h1M71 58h1M70 61h1M69 65h1M93 65h1M69 66h1M93 66h1"/>
<path stroke="#cb4a42" d="M80 41h2M78 42h1M85 42h1M77 43h1M76 45h1M87 45h1M88 46h1M88 47h1M75 48h1M89 48h1M75 49h1M89 49h1M74 51h1M74 52h1M90 52h1M73 54h1M91 54h1M91 55h1M92 58h1M71 59h1M92 59h1M70 62h1M70 63h1"/>
<path stroke="#c6403e" d="M82 41h2M79 42h3M84 42h1M78 43h2M85 43h1M77 44h1M86 44h1M76 46h1M75 50h1M89 50h1M89 51h1M90 53h1M73 55h1M91 56h1M72 57h1M71 60h1M92 60h1M92 61h1M92 62h1M92 65h1"/>
<path stroke="#c13539" d="M82 42h2M80 43h2M84 43h1M78 44h2M85 44h1M77 45h1M86 45h1M77 46h1M87 46h1M76 47h1M87 47h1M88 48h1M88 49h1M74 53h1M90 54h1M91 57h1M72 58h1M91 58h1M71 61h1M92 63h1M70 64h1M92 64h1M70 65h1M70 66h1M92 66h1"/>
<path stroke="#bc2b34" d="M82 43h2M81 44h1M84 44h1M78 45h2M85 45h1M78 46h1M85 46h2M77 47h1M86 47h1M76 48h1M87 48h1M76 49h1M88 50h1M75 51h1M89 52h1M74 54h1M90 55h1M73 56h1M72 59h1M91 59h1M71 62h1M71 63h1"/>
<path stroke="#b7212f" d="M80 44h1M82 44h2M80 45h2M84 45h1M79 46h1M84 46h1M86 48h1M87 49h1M76 50h1M88 51h1M75 52h1M89 53h1M74 55h1M90 56h1M73 57h1M73 58h1M72 60h1M91 60h1M72 61h1M91 61h1M91 62h1M91 63h1M71 64h1M91 64h1"/>
<path stroke="#b1182b" d="M82 45h2M80 46h1M82 46h2M78 47h2M85 47h1M77 48h1M77 49h1M87 50h1M76 51h1M88 52h1M75 53h1M88 53h1M75 54h1M89 54h1M89 55h1M74 56h1M90 57h1M90 58h1M73 59h1M72 62h1M71 65h1M91 65h1M91 66h1"/>
<path stroke="#a61429" d="M81 46h1M80 47h1M83 47h2M78 48h1M85 48h1M78 49h1M85 49h2M77 50h2M87 51h1M76 52h1M75 55h1M89 56h1M74 57h1M90 59h1M73 60h1M90 60h1M90 61h1M71 66h1"/>
<path stroke="#9c1127" d="M81 47h2M79 48h3M84 48h1M79 49h2M84 49h1M85 50h2M77 51h1M77 52h1M87 52h1M76 53h1M76 54h1M88 54h1M88 55h1M75 56h1M89 57h1M74 58h1M73 61h1M90 62h1M72 63h1M90 63h1M72 64h1M90 65h1M90 66h1"/>
<path stroke="#910e26" d="M82 48h2M81 49h1M83 49h1M79 50h2M78 51h1M86 51h1M78 52h1M86 52h1M77 53h1M87 53h1M77 54h1M76 55h1M76 56h1M75 57h1M89 58h1M74 59h1M89 59h1M74 60h1M89 60h1M89 61h1M73 62h1M73 63h1M90 64h1M72 65h1M72 66h1"/>
<path stroke="#870a24" d="M82 49h1M81 50h4M79 51h1M84 51h2M79 52h1M85 52h1M78 53h1M86 53h1M78 54h1M86 54h2M78 55h1M87 55h1M88 56h1M76 57h1M88 57h1M75 58h1M88 58h1M75 59h1M74 61h1M89 62h1M89 63h1M73 64h1M89 64h1M89 65h1M73 66h1"/>
<path stroke="#7c0722" d="M80 51h4M83 52h2M79 53h2M84 53h2M79 54h1M85 54h1M77 55h1M86 55h1M77 56h1M87 56h1M77 57h1M87 57h1M88 59h1M75 60h1M88 60h1M75 61h1M74 62h2M74 63h1M88 63h1M74 64h1M73 65h1M89 66h1"/>
<path stroke="#720321" d="M80 52h3M81 53h3M80 54h3M84 54h1M79 55h3M83 55h3M78 56h3M84 56h3M78 57h2M84 57h1M86 57h1M76 58h2M82 58h1M84 58h1M86 58h2M76 59h2M85 59h2M76 60h2M85 60h1M76 61h1M78 61h1M87 61h2M76 62h1M78 62h1M87 62h2M75 63h2M75 64h2M81 64h1M74 65h2M88 65h1M74 66h2M78 66h1M81 66h1M88 66h1"/>
<path stroke="#67001f" d="M83 54h1M82 55h1M81 56h3M80 57h4M85 57h1M78 58h4M83 58h1M85 58h1M78 59h7M87 59h1M78 60h7M86 60h2M77 61h1M79 61h8M77 62h1M79 62h8M77 63h11M77 64h4M82 64h7M76 65h12M76 66h2M79 66h2M82 66h6"/>
</g></g>
<clipPath id="kc2"><rect x="213.5" y="1430.7" width="712.7" height="395.7"/></clipPath>
<g clip-path="url(#kc2)"><g transform="translate(213 1433) scale(6 6)" fill="none" stroke-width="1.04" shape-rendering="crispEdges">
<path stroke="#053061" d="M81 53h7M81 54h7M81 55h6M81 56h7M81 57h7M81 58h7M81 59h2M84 59h4M81 60h7M81 61h7M81 62h7M82 63h3M86 63h2M81 64h7M81 65h7"/>
<path stroke="#09386c" d="M87 55h1M75 59h2M83 59h1M75 60h2M75 61h2M75 62h1M81 63h1M85 63h1"/>
<path stroke="#0d3f76" d="M86 48h2M86 49h2M86 50h2M87 51h1M84 52h2M78 59h2M78 60h2M78 61h3M78 62h3M75 63h1M80 63h1M75 64h1M80 64h1M75 65h1M80 65h1"/>
<path stroke="#114781" d="M86 51h1M80 52h1M80 53h1M80 60h1"/>
<path stroke="#154e8b" d="M80 51h1M80 57h1M80 58h1"/>
<path stroke="#2165ab" d="M88 60h1M90 60h1M88 61h3M88 62h3M88 63h3M88 64h1M90 64h1M90 65h1"/>
<path stroke="#256caf" d="M89 60h1M89 64h1M88 65h2"/>
<path stroke="#2a72b2" d="M64 10h1M63 11h1M66 12h1M62 13h1M66 13h1M64 15h1M67 15h1M61 17h2M65 17h1M58 18h1M66 18h3M65 19h2M66 20h2M64 21h1M66 21h2M64 22h1M66 22h2M64 23h1M67 24h1M66 27h1"/>
<path stroke="#2f78b5" d="M66 2h1M60 3h1M63 3h1M67 3h1M61 5h1M59 6h1M65 6h1M67 6h1M62 7h2M58 8h7M66 8h1M60 9h3M64 9h3M55 10h2M58 10h2M61 10h3M65 10h2M58 11h5M64 11h4M57 12h9M67 12h1M55 13h1M58 13h2M61 13h1M63 13h3M67 13h2M59 14h11M56 15h1M58 15h6M65 15h2M57 16h12M57 17h4M63 17h2M66 17h3M59 18h7M58 19h7M67 19h2M58 20h4M63 20h3M68 20h1M60 21h4M65 21h1M68 21h1M59 22h5M65 22h1M68 22h1M58 23h3M62 23h2M65 23h4M60 24h1M63 24h4M68 24h1M62 25h7M61 26h2M64 26h4M64 27h2M67 27h2M63 28h1M65 28h2M64 29h2M67 29h2M66 30h2M66 31h2M66 32h1M66 33h1M78 43h3M78 44h3M78 45h3M78 48h2M78 49h3"/>
<path stroke="#347fb9" d="M57 0h1M60 0h3M64 0h5M56 1h6M63 1h4M68 1h1M55 2h8M64 2h2M67 2h1M54 3h1M57 3h2M61 3h2M64 3h3M68 3h1M52 4h1M56 4h13M52 5h1M54 5h1M57 5h4M62 5h6M54 6h5M60 6h5M66 6h1M68 6h1M54 7h8M64 7h5M52 8h1M55 8h3M65 8h1M67 8h2M54 9h6M63 9h1M67 9h2M52 10h1M54 10h1M57 10h1M60 10h1M67 10h2M53 11h5M68 11h1M51 12h1M54 12h3M68 12h2M53 13h2M56 13h2M60 13h1M69 13h1M52 14h1M54 14h5M54 15h2M57 15h1M68 15h2M53 16h2M56 16h1M69 16h1M55 17h2M69 17h1M55 18h1M57 18h1M69 18h1M55 19h3M69 19h1M53 20h1M55 20h3M62 20h1M69 20h1M55 21h5M69 21h1M54 22h2M57 22h2M69 22h1M56 23h2M61 23h1M69 23h1M55 24h5M61 24h2M69 24h1M58 25h4M69 25h1M57 26h4M63 26h1M68 26h2M59 27h1M61 27h3M69 27h1M58 28h2M64 28h1M67 28h2M61 29h2M66 29h1M69 29h1M61 30h1M63 30h3M68 30h1M64 31h2M68 31h2M63 32h3M67 32h2M65 33h1M67 33h3M66 34h3M65 35h4M68 36h1M68 37h1M68 38h1M80 48h1"/>
<path stroke="#3885bc" d="M47 0h4M52 0h3M56 0h1M58 0h2M63 0h1M48 1h8M62 1h1M67 1h1M69 1h1M47 2h2M50 2h5M63 2h1M68 2h2M47 3h1M50 3h4M55 3h2M59 3h1M47 4h5M53 4h3M69 4h1M50 5h2M53 5h1M55 5h2M68 5h3M46 6h1M50 6h4M69 6h1M48 7h1M50 7h4M69 7h2M48 8h3M53 8h2M69 8h2M47 9h1M50 9h4M69 9h1M48 10h1M50 10h2M53 10h1M69 10h2M51 11h2M69 11h2M50 12h1M52 12h2M50 13h1M52 13h1M51 14h1M53 14h1M70 14h1M51 15h1M53 15h1M51 16h2M55 16h1M70 16h1M52 17h1M54 17h1M70 17h1M52 18h3M56 18h1M70 18h1M52 19h3M70 19h1M54 20h1M70 20h1M53 21h2M70 21h1M52 22h2M56 22h1M70 22h1M54 23h2M70 23h1M70 24h1M55 25h3M70 25h1M56 26h1M70 26h1M56 27h3M60 27h1M70 27h1M57 28h1M60 28h3M69 28h1M57 29h4M63 29h1M59 30h1M62 30h1M69 30h2M60 31h4M61 32h2M69 32h1M61 33h4M70 33h1M62 34h4M69 34h1M64 35h1M64 36h1M66 36h2M69 36h1M65 37h3M69 37h1M66 38h2M69 38h1M67 39h2"/>
<path stroke="#3d8bbf" d="M42 0h1M44 0h3M51 0h1M55 0h1M69 0h1M42 1h6M44 2h2M49 2h1M70 2h1M41 3h1M44 3h1M46 3h1M48 3h2M69 3h2M43 4h1M45 4h2M44 5h6M45 6h1M47 6h3M70 6h1M45 7h1M47 7h1M49 7h1M71 7h1M45 8h3M51 8h1M71 8h1M48 9h2M70 9h1M47 10h1M49 10h1M71 10h1M47 11h4M46 12h4M70 12h1M49 13h1M51 13h1M70 13h2M49 14h2M49 15h2M52 15h1M70 15h2M46 16h1M49 16h2M71 16h1M49 17h2M53 17h1M71 17h1M50 18h2M49 19h1M51 19h1M50 20h3M71 20h1M50 21h3M71 21h1M50 22h2M71 22h1M51 23h3M71 23h1M51 24h4M53 25h2M54 26h2M71 26h1M54 27h2M71 27h1M54 28h3M70 28h2M55 29h2M70 29h1M56 30h3M60 30h1M57 31h3M70 31h1M58 32h3M70 32h1M60 33h1M60 34h2M70 34h1M61 35h3M69 35h1M62 36h2M65 36h1M70 36h1M63 37h2M70 37h1M64 38h2M70 38h1M66 39h1M69 39h2M66 40h5M67 41h2M68 42h1"/>
<path stroke="#4292c2" d="M36 0h6M43 0h1M70 0h2M39 1h3M70 1h2M38 2h1M40 2h4M46 2h1M71 2h1M38 3h3M42 3h2M45 3h1M71 3h2M39 4h4M44 4h1M70 4h3M38 5h6M71 5h1M41 6h4M71 6h1M38 7h5M44 7h1M46 7h1M42 8h3M41 9h6M71 9h1M41 10h1M43 10h4M43 11h4M71 11h2M41 12h1M44 12h2M71 12h1M43 13h6M43 14h6M71 14h1M42 15h7M45 16h1M47 16h2M45 17h2M48 17h1M51 17h1M72 17h1M44 18h2M47 18h3M71 18h1M47 19h2M50 19h1M71 19h1M45 20h1M48 20h2M48 21h2M72 21h1M49 22h1M48 23h3M72 23h1M49 24h2M71 24h1M49 25h4M71 25h1M51 26h3M50 27h1M52 27h2M52 28h2M53 29h2M71 29h1M55 30h1M71 30h1M56 31h1M71 31h1M56 32h2M71 32h2M58 33h2M71 33h1M58 34h1M71 34h1M59 35h2M70 35h2M61 36h1M61 37h2M71 37h1M63 38h1M64 39h2M64 40h2M65 41h2M69 41h3M66 42h2M69 42h2M67 43h1"/>
<path stroke="#4c99c6" d="M31 0h1M34 0h2M72 0h1M31 1h2M35 1h4M34 2h4M39 2h1M72 2h1M33 3h5M30 4h1M32 4h1M34 4h5M33 5h1M35 5h1M72 5h1M35 6h6M72 6h1M36 7h2M43 7h1M72 7h1M35 8h2M38 8h4M72 8h1M38 9h3M72 9h1M37 10h1M39 10h2M42 10h1M72 10h1M37 11h1M39 11h4M39 12h2M42 12h2M72 12h1M39 13h4M72 13h1M40 14h3M72 14h1M40 15h2M72 15h1M40 16h5M72 16h1M41 17h4M47 17h1M42 18h2M46 18h1M72 18h1M43 19h4M72 19h1M46 20h2M72 20h1M43 21h5M43 22h6M72 22h1M43 23h2M46 23h2M46 24h3M72 24h1M47 25h2M72 25h1M47 26h4M72 26h1M51 27h1M72 27h1M50 28h2M72 28h1M51 29h2M72 29h1M52 30h3M72 30h1M54 31h2M72 31h1M55 32h1M55 33h3M72 33h1M55 34h3M59 34h1M72 34h1M57 35h2M72 35h1M58 36h3M71 36h1M60 37h1M72 37h1M61 38h2M71 38h2M62 39h2M71 39h2M62 40h2M71 40h1M64 41h1M72 41h1M65 42h1M71 42h1M65 43h2M68 43h4M66 44h4"/>
<path stroke="#57a0ca" d="M25 0h1M28 0h3M32 0h2M23 1h1M25 1h1M27 1h4M33 1h2M72 1h1M28 2h6M73 2h1M26 3h3M30 3h3M73 3h1M27 4h1M29 4h1M31 4h1M33 4h1M30 5h3M34 5h1M36 5h2M27 6h1M29 6h2M32 6h3M73 6h1M33 7h3M73 7h1M32 8h3M37 8h1M73 8h1M32 9h6M73 9h1M31 10h1M34 10h3M38 10h1M36 11h1M38 11h1M35 12h4M73 12h1M35 13h4M36 14h4M36 15h4M73 15h1M38 16h2M73 16h1M39 17h2M73 17h1M38 18h4M73 18h1M40 19h3M73 19h1M41 20h4M73 20h1M40 21h3M73 21h1M41 22h1M73 22h1M42 23h1M45 23h1M73 23h1M42 24h4M73 24h1M45 25h2M73 25h1M46 26h1M47 27h3M73 27h1M48 28h2M48 29h3M73 29h1M49 30h1M51 30h1M73 30h1M51 31h3M53 32h2M73 32h1M53 33h2M55 35h2M73 35h1M56 36h2M72 36h1M57 37h3M59 38h2M61 39h1M72 40h1M62 41h2M62 42h3M72 42h1M64 43h1M65 44h1M70 44h3M68 45h1"/>
<path stroke="#62a7ce" d="M22 0h3M26 0h2M73 0h1M20 1h1M22 1h1M24 1h1M26 1h1M73 1h1M23 2h5M21 3h5M29 3h1M22 4h1M24 4h3M28 4h1M73 4h1M23 5h1M25 5h1M27 5h3M73 5h1M26 6h1M31 6h1M23 7h1M25 7h8M27 8h5M24 9h1M26 9h1M28 9h4M27 10h4M32 10h2M73 10h1M29 11h7M73 11h1M31 12h4M30 13h5M73 13h1M31 14h5M73 14h1M32 15h4M33 16h5M33 17h6M33 18h5M36 19h4M37 20h4M36 21h4M39 22h2M42 22h1M38 23h2M41 23h1M39 24h3M41 25h4M42 26h4M73 26h1M45 27h2M45 28h3M73 28h1M47 29h1M47 30h2M50 30h1M49 31h2M73 31h1M50 32h3M51 33h2M73 33h1M52 34h3M73 34h1M53 35h2M55 36h1M73 36h1M55 37h2M73 37h1M57 38h2M73 38h1M58 39h3M73 39h1M59 40h3M73 40h1M60 41h2M73 41h1M73 42h1M72 43h2M65 45h3M69 45h3M66 46h4"/>
<path stroke="#6daed1" d="M16 0h6M17 1h3M21 1h1M16 2h2M20 2h3M17 3h1M20 3h1M18 4h2M21 4h1M23 4h1M17 5h3M21 5h2M24 5h1M26 5h1M20 6h6M28 6h1M19 7h4M24 7h1M20 8h1M22 8h5M22 9h1M25 9h1M27 9h1M24 10h3M26 11h3M27 12h1M29 12h2M28 13h2M27 14h1M29 14h2M74 14h1M29 15h3M29 16h4M30 17h3M30 18h1M32 18h1M32 19h4M32 20h5M34 21h2M34 22h2M37 22h2M37 23h1M40 23h1M37 24h2M38 25h3M38 26h1M40 26h2M39 27h1M41 27h4M42 28h3M42 29h5M45 30h2M46 31h3M49 32h1M49 33h2M50 34h2M50 35h3M53 36h2M54 37h1M55 38h2M57 39h1M61 42h1M62 43h2M63 44h2M73 44h1M64 45h1M72 45h1M70 46h1M72 46h1M67 47h2M71 47h1"/>
<path stroke="#78b5d5" d="M7 0h1M9 0h1M11 0h5M74 0h1M10 1h7M74 1h1M13 2h1M15 2h1M18 2h2M74 2h1M12 3h2M15 3h2M18 3h2M74 3h1M14 4h4M20 4h1M74 4h1M14 5h1M16 5h1M20 5h1M74 5h1M14 6h2M17 6h1M19 6h1M74 6h1M17 7h2M74 7h1M18 8h2M21 8h1M74 8h1M17 9h1M20 9h2M23 9h1M74 9h1M20 10h1M22 10h2M74 10h1M22 11h4M74 11h1M22 12h5M28 12h1M74 12h1M20 13h1M23 13h1M25 13h3M74 13h1M22 14h5M28 14h1M21 15h1M24 15h5M74 15h1M26 16h3M74 16h1M26 17h4M74 17h1M26 18h4M31 18h1M74 18h1M29 19h3M74 19h1M28 20h4M74 20h1M31 21h3M74 21h1M31 22h3M36 22h1M74 22h1M32 23h1M34 23h1M36 23h1M74 23h1M32 24h1M35 24h2M74 24h1M35 25h3M74 25h1M36 26h2M39 26h1M74 26h1M40 27h1M74 27h1M39 28h3M74 28h1M41 29h1M74 29h1M43 30h2M74 30h1M43 31h1M45 31h1M74 31h1M46 32h3M46 33h3M74 33h1M48 34h1M74 34h1M49 35h1M48 36h1M51 36h2M74 36h1M52 37h2M53 38h2M54 39h1M56 39h1M56 40h3M74 40h1M57 41h3M59 42h2M74 42h1M61 43h1M61 44h2M62 45h2M73 45h1M64 46h2M71 46h1M73 46h1M66 47h1M69 47h2M72 47h1M67 48h3M71 48h1"/>
<path stroke="#84bcd9" d="M3 0h2M8 0h1M10 0h1M5 1h5M7 2h6M14 2h1M7 3h1M9 3h3M14 3h1M7 4h7M9 5h3M13 5h1M15 5h1M11 6h3M16 6h1M18 6h1M12 7h5M14 8h4M16 9h1M18 9h2M15 10h5M21 10h1M18 11h4M17 12h5M19 13h1M21 13h2M24 13h1M19 14h3M22 15h2M22 16h4M23 17h3M23 18h1M25 18h1M22 19h1M25 19h4M27 20h1M27 21h4M29 22h2M30 23h2M33 23h1M35 23h1M30 24h2M33 24h2M32 25h3M34 26h2M37 27h2M34 28h1M38 28h1M40 29h1M39 30h1M41 30h2M41 31h1M44 31h1M43 32h3M74 32h1M44 33h1M46 34h2M49 34h1M46 35h1M48 35h1M74 35h1M49 36h2M49 37h3M74 37h1M51 38h2M74 38h1M52 39h1M55 39h1M74 39h1M53 40h3M53 41h1M55 41h2M74 41h1M56 42h3M57 43h1M59 43h2M74 43h1M59 44h2M61 45h1M63 46h1M64 47h2M73 47h1M66 48h1M70 48h1M72 48h1M68 49h1M70 49h2"/>
<path stroke="#8fc3dd" d="M0 0h3M5 0h2M0 1h5M0 2h7M0 3h1M2 3h3M6 3h1M8 3h1M1 4h1M3 4h1M5 4h2M5 5h4M12 5h1M5 6h1M7 6h4M7 7h2M10 7h2M5 8h1M10 8h4M8 9h1M11 9h5M10 10h5M75 10h1M13 11h5M13 12h1M15 12h2M14 13h1M16 13h3M16 14h3M16 15h5M75 15h1M16 16h1M19 16h3M21 17h2M75 17h1M21 18h2M24 18h1M21 19h1M24 19h1M75 19h1M21 20h6M24 21h3M25 22h4M26 23h4M26 24h1M28 24h2M27 25h1M29 25h3M30 26h4M32 27h1M34 27h3M35 28h3M36 29h4M36 30h3M40 30h1M38 31h3M42 31h1M39 32h4M42 33h2M45 33h1M44 34h1M45 35h1M47 35h1M46 36h2M48 37h1M49 38h2M51 39h1M53 39h1M51 40h2M54 41h1M54 42h2M55 43h2M58 43h1M58 44h1M74 44h1M60 45h1M74 45h1M60 46h3M74 46h1M78 46h3M62 47h2M78 47h1M80 47h1M64 48h2M73 48h1M84 48h2M65 49h3M69 49h1M72 49h2M84 49h2M68 50h4M79 50h2M85 50h1M84 51h2M86 52h2"/>
<path stroke="#98c8e0" d="M75 0h1M75 1h1M75 2h1M1 3h1M5 3h1M75 3h1M0 4h1M2 4h1M4 4h1M75 4h1M2 5h3M75 5h1M0 6h5M6 6h1M75 6h1M1 7h1M3 7h4M9 7h1M75 7h1M4 8h1M6 8h4M75 8h1M5 9h3M9 9h2M75 9h1M5 10h1M8 10h2M9 11h4M75 11h1M8 12h1M10 12h3M14 12h1M75 12h1M10 13h4M15 13h1M75 13h1M12 14h4M75 14h1M13 15h3M14 16h2M17 16h2M75 16h1M14 17h1M17 17h4M17 18h4M75 18h1M19 19h2M23 19h1M18 20h3M75 20h1M21 21h3M75 21h1M20 22h1M23 22h2M75 22h1M22 23h4M75 23h1M22 24h1M24 24h2M27 24h1M75 24h1M26 25h1M28 25h1M75 25h1M26 26h4M75 26h1M29 27h3M33 27h1M30 28h4M75 28h1M31 29h1M33 29h3M75 29h1M34 30h2M75 30h1M36 31h2M37 32h2M38 33h4M42 34h2M45 34h1M43 35h2M43 36h3M45 37h3M46 38h3M49 39h2M75 39h1M50 40h1M75 40h1M51 41h2M75 41h1M51 42h3M75 42h1M54 43h1M75 43h1M56 44h2M75 44h1M58 45h2M61 47h1M74 47h1M79 47h1M63 48h1M64 49h1M65 50h3M72 50h2M78 50h1M84 50h1M68 51h4"/>
<path stroke="#a1cde2" d="M0 5h2M0 7h1M2 7h1M0 8h4M1 9h4M2 10h3M6 10h2M1 11h1M4 11h5M6 12h2M9 12h1M5 13h1M7 13h3M10 14h2M10 15h3M11 16h3M15 17h2M12 18h1M14 18h3M14 19h5M15 20h3M16 21h5M18 22h2M21 22h2M18 23h4M20 24h1M23 24h1M23 25h3M24 26h2M24 27h5M75 27h1M25 28h1M27 28h3M30 29h1M32 29h1M31 30h3M34 31h2M75 31h1M33 32h1M35 32h2M75 32h1M36 33h2M75 33h1M37 34h5M75 34h1M39 35h4M75 35h1M41 36h2M43 37h2M75 37h1M45 38h1M75 38h1M47 39h2M45 40h1M48 40h2M50 41h1M53 43h1M53 44h3M56 45h2M75 45h1M58 46h2M75 46h1M59 47h2M75 47h1M62 48h1M74 48h1M62 49h2M64 50h1M74 50h1M67 51h1M72 51h2M68 52h1"/>
<path stroke="#aad1e5" d="M76 4h1M76 5h1M76 6h1M0 9h1M0 10h2M0 11h1M2 11h2M0 12h1M3 12h3M1 13h2M4 13h1M6 13h1M4 14h6M4 15h6M4 16h1M6 16h1M9 16h2M8 17h6M10 18h2M13 18h1M11 19h3M76 19h1M12 20h3M14 21h2M15 22h3M17 23h1M16 24h4M21 24h1M18 25h5M18 26h3M22 26h2M21 27h3M23 28h2M26 28h1M26 29h4M27 30h4M29 31h5M31 32h2M34 32h1M32 33h1M35 33h1M34 34h3M35 35h1M37 35h2M36 36h5M75 36h1M38 37h1M40 37h3M41 38h2M44 38h1M41 39h1M43 39h4M46 40h2M46 41h1M48 41h2M49 42h2M49 43h4M51 44h2M53 45h3M55 46h3M59 48h3M75 48h1M61 49h1M74 49h1M63 50h1M65 51h2M64 52h1M67 52h1M69 52h3M73 52h1M71 53h1"/>
<path stroke="#b3d6e7" d="M76 0h1M76 1h1M76 2h1M76 3h1M76 7h1M76 8h1M76 9h1M76 10h1M76 11h1M1 12h2M76 12h1M0 13h1M3 13h1M76 13h1M0 14h4M76 14h1M1 15h3M76 15h1M0 16h1M3 16h1M5 16h1M7 16h2M76 16h1M4 17h4M76 17h1M3 18h1M6 18h2M9 18h1M76 18h1M7 19h4M8 20h4M76 20h1M8 21h1M10 21h4M76 21h1M12 22h3M76 22h1M11 23h1M13 23h4M76 23h1M13 24h1M76 24h1M16 25h2M76 25h1M17 26h1M21 26h1M76 26h1M18 27h3M19 28h4M20 29h1M22 29h1M24 29h2M24 30h3M23 31h1M26 31h3M28 32h1M30 32h1M29 33h2M33 33h2M30 34h1M32 34h2M34 35h1M36 35h1M33 36h1M35 36h1M36 37h1M39 37h1M39 38h2M43 38h1M42 39h1M41 40h4M43 41h3M47 41h1M46 42h3M46 43h1M48 43h1M47 44h1M50 45h1M52 45h1M54 46h1M56 47h3M76 47h1M56 48h3M59 49h2M75 49h2M61 50h2M75 50h1M63 51h2M74 51h2M65 52h2M72 52h1M74 52h1M66 53h5M72 53h3M70 54h2"/>
<path stroke="#bcdaea" d="M0 15h1M1 16h2M1 17h3M1 18h1M4 18h2M8 18h1M0 19h1M2 19h5M3 20h5M3 21h1M5 21h2M9 21h1M9 22h3M5 23h1M10 23h1M12 23h1M11 24h2M14 24h2M12 25h4M13 26h4M14 27h4M76 27h1M14 28h1M16 28h3M76 28h1M17 29h3M21 29h1M23 29h1M76 29h1M21 30h3M76 30h1M22 31h1M24 31h2M76 31h1M22 32h6M29 32h1M76 32h1M25 33h4M31 33h1M76 33h1M28 34h2M31 34h1M30 35h4M27 36h1M31 36h2M34 36h1M76 36h1M32 37h1M35 37h1M37 37h1M35 38h4M35 39h1M37 39h4M36 40h1M39 40h2M76 40h1M40 41h3M76 41h1M42 42h4M76 42h1M44 43h1M47 43h1M76 43h1M44 44h1M46 44h1M48 44h3M76 44h1M51 45h1M76 45h1M51 46h3M76 46h1M52 47h4M53 48h1M55 48h1M76 48h1M58 49h1M59 50h2M76 50h1M60 51h3M62 52h1M75 52h1M64 53h2M75 53h1M67 54h3M72 54h3M66 55h6M73 55h1M72 56h2"/>
<path stroke="#c5dfec" d="M77 0h1M77 1h1M77 9h1M77 12h1M77 13h1M0 17h1M0 18h1M2 18h1M1 19h1M0 20h3M1 21h2M4 21h1M7 21h1M0 22h1M2 22h7M4 23h1M6 23h4M3 24h8M8 25h4M9 26h1M11 26h2M9 27h1M11 27h3M8 28h1M13 28h1M15 28h1M13 29h4M14 30h1M16 30h5M18 31h4M16 32h2M19 32h3M21 33h4M23 34h5M76 34h1M26 35h4M76 35h1M28 36h3M27 37h3M31 37h1M33 37h2M76 37h1M31 38h4M76 38h1M32 39h3M36 39h1M76 39h1M35 40h1M37 40h2M37 41h3M38 42h4M39 43h1M41 43h3M45 43h1M41 44h2M45 44h1M42 45h1M44 45h1M46 45h4M46 46h5M50 47h2M77 47h1M50 48h1M52 48h1M54 48h1M54 49h4M77 49h1M57 50h2M58 51h2M76 51h1M59 52h3M63 52h1M76 52h1M62 53h2M62 54h1M64 54h3M75 54h2M72 55h1M74 55h2M67 56h5M74 56h1M70 57h4M75 57h1M72 58h1"/>
<path stroke="#cde3ef" d="M77 2h1M77 3h1M77 4h1M77 5h1M77 6h1M77 7h1M77 8h1M77 10h1M77 11h1M77 14h1M77 15h1M77 16h1M77 17h1M77 18h1M77 19h1M77 20h1M0 21h1M77 21h1M1 22h1M77 22h1M0 23h4M77 23h1M0 24h3M77 24h1M0 25h1M2 25h6M77 25h1M0 26h1M4 26h5M10 26h1M77 26h1M6 27h1M10 27h1M6 28h2M9 28h4M77 28h1M9 29h4M9 30h1M13 30h1M15 30h1M13 31h5M15 32h1M18 32h1M16 33h1M18 33h3M13 34h1M16 34h2M19 34h4M17 35h1M21 35h1M23 35h3M21 36h1M24 36h3M21 37h1M24 37h3M30 37h1M28 38h3M26 39h6M28 40h1M30 40h1M33 40h2M31 41h1M34 41h3M36 42h2M36 43h3M40 43h1M77 43h1M43 44h1M38 45h1M40 45h2M45 45h1M77 45h1M44 46h2M77 46h1M47 47h3M49 48h1M51 48h1M77 48h1M50 49h4M52 50h5M77 50h1M56 51h2M77 51h1M58 52h1M60 53h2M76 53h2M63 54h1M62 55h1M64 55h2M76 55h1M65 56h2M75 56h3M67 57h3M74 57h1M76 57h1M70 58h2M73 58h3M73 59h1M73 60h1"/>
<path stroke="#d4e7f1" d="M1 25h1M1 26h3M0 27h6M7 27h2M77 27h1M0 28h1M2 28h4M2 29h2M5 29h4M77 29h1M2 30h1M5 30h4M10 30h3M77 30h1M5 31h1M7 31h6M10 32h5M8 33h8M17 33h1M11 34h1M15 34h1M18 34h1M13 35h2M16 35h1M18 35h3M22 35h1M16 36h2M19 36h2M22 36h2M17 37h1M19 37h2M22 37h2M20 38h8M17 39h1M20 39h1M22 39h1M24 39h2M22 40h2M25 40h3M29 40h1M31 40h2M26 41h1M28 41h1M30 41h1M32 41h2M77 41h1M30 42h6M77 42h1M31 43h5M35 44h6M77 44h1M39 45h1M43 45h1M39 46h1M41 46h3M41 47h6M45 48h4M47 49h3M50 50h2M53 51h3M56 52h2M77 52h1M57 53h3M60 54h2M77 54h1M63 55h1M77 55h1M62 56h3M64 57h3M77 57h1M66 58h4M76 58h2M67 59h2M70 59h3M74 59h1M68 60h5M74 60h1M71 61h4M71 62h1M73 62h2M74 63h1M74 64h1M74 65h1M76 66h1M88 66h1"/>
<path stroke="#dae9f2" d="M78 1h1M78 3h1M78 17h1M1 28h1M0 29h2M4 29h1M0 30h1M3 30h2M0 31h5M6 31h1M77 31h1M1 32h1M4 32h6M77 32h1M5 33h3M77 33h1M4 34h2M7 34h4M12 34h1M14 34h1M77 34h1M7 35h3M11 35h2M15 35h1M77 35h1M9 36h1M12 36h4M18 36h1M14 37h3M18 37h1M77 37h1M14 38h1M16 38h4M77 38h1M18 39h2M21 39h1M23 39h1M77 39h1M15 40h1M18 40h4M24 40h1M77 40h1M18 41h1M21 41h5M27 41h1M29 41h1M19 42h1M21 42h2M24 42h6M26 43h5M26 44h3M30 44h5M28 45h2M31 45h1M34 45h4M35 46h4M40 46h1M34 47h1M37 47h4M40 48h5M40 49h1M43 49h4M46 50h4M48 51h5M51 52h5M53 53h4M55 54h5M57 55h1M59 55h3M59 56h3M63 57h1M62 58h4M64 59h3M69 59h1M66 60h2M67 61h1M69 61h2M67 62h3M72 62h1M70 63h4M70 64h4M70 65h1M72 65h2M73 66h3M77 66h11M89 66h2"/>
<path stroke="#dfecf3" d="M78 0h1M78 2h1M78 4h1M78 5h1M78 6h1M78 7h1M78 8h1M78 9h1M78 10h1M78 11h1M78 12h1M78 13h1M78 14h1M78 15h1M78 16h1M78 18h1M78 19h1M78 20h1M78 21h1M78 22h1M78 24h1M78 25h1M78 26h1M1 30h1M2 32h2M0 33h5M0 34h4M6 34h1M0 35h4M5 35h2M10 35h1M1 36h2M4 36h5M10 36h2M77 36h1M3 37h11M0 38h1M2 38h1M6 38h8M15 38h1M0 39h1M6 39h11M6 40h1M12 40h2M16 40h2M5 41h1M8 41h1M12 41h1M14 41h4M19 41h2M12 42h1M14 42h1M16 42h3M20 42h1M23 42h1M78 42h1M14 43h2M17 43h1M19 43h7M16 44h2M20 44h2M24 44h2M29 44h1M16 45h1M23 45h2M26 45h2M30 45h1M32 45h2M21 46h1M26 46h1M29 46h1M31 46h4M32 47h2M35 47h2M34 48h6M34 49h1M36 49h4M41 49h2M37 50h1M39 50h1M41 50h5M42 51h6M47 52h4M45 53h1M47 53h1M50 53h3M50 54h5M51 55h1M55 55h2M58 55h1M53 56h1M56 56h3M58 57h5M59 58h3M61 59h3M61 60h1M64 60h2M63 61h1M65 61h2M68 61h1M65 62h2M70 62h1M66 63h4M67 64h1M69 64h1M91 64h1M68 65h1M71 65h1M69 66h4"/>
<path stroke="#e4eef4" d="M79 7h1M78 23h1M78 27h1M78 28h1M78 29h1M0 32h1M78 33h1M4 35h1M0 36h1M3 36h1M0 37h3M1 38h1M4 38h2M2 39h4M78 39h1M0 40h2M3 40h3M7 40h5M14 40h1M0 41h2M3 41h1M6 41h2M9 41h3M13 41h1M6 42h6M13 42h1M15 42h1M0 43h3M5 43h2M8 43h1M10 43h1M12 43h2M16 43h1M18 43h1M5 44h2M10 44h1M12 44h4M18 44h2M22 44h2M9 45h2M13 45h3M17 45h6M25 45h1M10 46h2M16 46h5M22 46h4M27 46h2M30 46h1M8 47h1M14 47h2M17 47h4M24 47h8M10 48h1M12 48h1M14 48h2M23 48h2M27 48h1M29 48h5M24 49h1M26 49h1M28 49h6M35 49h1M27 50h4M32 50h1M35 50h2M38 50h1M40 50h1M28 51h1M32 51h3M36 51h1M38 51h4M38 52h3M42 52h5M38 53h1M41 53h4M48 53h2M90 53h1M43 54h1M46 54h1M49 54h1M46 55h3M50 55h1M52 55h3M52 56h1M54 56h2M52 57h6M90 57h1M55 58h4M90 58h1M57 59h1M59 59h2M90 59h1M58 60h2M62 60h2M58 61h1M61 61h2M64 61h1M62 62h3M91 62h1M62 63h1M64 63h2M91 63h1M64 64h1M66 64h1M68 64h1M64 65h1M66 65h2M69 65h1M91 65h2M64 66h5M91 66h2"/>
<path stroke="#eaf1f5" d="M79 0h1M79 2h1M79 3h1M79 4h1M79 5h1M79 6h1M79 8h1M79 9h1M79 10h1M79 12h1M79 13h1M79 14h1M79 15h1M79 16h1M79 17h1M79 18h1M79 19h1M79 20h1M79 21h1M79 24h1M79 27h1M78 30h1M78 31h1M78 32h1M78 34h1M78 35h1M78 36h1M78 37h1M3 38h1M78 38h1M1 39h1M2 40h1M78 40h1M2 41h1M4 41h1M78 41h1M0 42h6M3 43h2M7 43h1M9 43h1M11 43h1M0 44h5M7 44h3M11 44h1M0 45h9M11 45h2M0 46h6M8 46h2M12 46h4M1 47h7M9 47h5M16 47h1M21 47h3M0 48h6M7 48h3M11 48h1M13 48h1M16 48h7M25 48h2M28 48h1M3 49h5M9 49h2M12 49h5M18 49h6M25 49h1M27 49h1M0 50h1M2 50h1M4 50h1M11 50h16M31 50h1M33 50h2M0 51h1M2 51h2M6 51h1M10 51h3M15 51h4M20 51h4M25 51h3M29 51h3M35 51h1M37 51h1M11 52h1M14 52h3M18 52h1M20 52h1M23 52h15M41 52h1M7 53h2M15 53h4M20 53h2M23 53h2M27 53h11M39 53h2M46 53h1M9 54h1M17 54h4M22 54h3M28 54h2M31 54h12M44 54h2M47 54h2M4 55h1M20 55h3M24 55h1M29 55h1M33 55h2M36 55h1M40 55h6M49 55h1M25 56h1M30 56h1M33 56h1M36 56h1M39 56h1M43 56h4M48 56h4M21 57h1M24 57h2M33 57h1M36 57h1M42 57h2M46 57h1M48 57h4M34 58h1M40 58h1M42 58h4M47 58h2M50 58h5M39 59h1M49 59h4M54 59h3M58 59h1M28 60h1M54 60h4M60 60h1M51 61h2M55 61h1M57 61h1M59 61h2M91 61h1M50 62h1M58 62h4M56 63h1M60 63h2M63 63h1M92 63h1M27 64h1M55 64h1M60 64h4M65 64h1M92 64h1M59 65h1M61 65h3M65 65h1M59 66h1M62 66h2M93 66h1"/>
<path stroke="#eff3f6" d="M79 1h1M80 4h1M80 6h1M80 7h1M80 10h1M79 11h1M80 15h1M79 22h1M79 23h1M79 25h1M79 26h1M79 28h1M79 30h1M6 46h2M0 47h1M6 48h1M0 49h3M8 49h1M11 49h1M17 49h1M1 50h1M3 50h1M5 50h6M1 51h1M4 51h2M7 51h3M13 51h2M19 51h1M24 51h1M0 52h9M10 52h1M12 52h2M17 52h1M19 52h1M21 52h2M0 53h7M9 53h6M19 53h1M22 53h1M25 53h2M0 54h9M11 54h6M21 54h1M25 54h3M30 54h1M0 55h4M5 55h15M25 55h4M30 55h3M35 55h1M37 55h3M0 56h1M2 56h1M4 56h3M8 56h17M26 56h4M31 56h2M34 56h2M37 56h2M40 56h3M47 56h1M1 57h3M5 57h2M8 57h2M11 57h1M14 57h3M18 57h3M22 57h2M26 57h7M34 57h2M37 57h5M44 57h2M47 57h1M0 58h1M3 58h2M9 58h1M12 58h1M14 58h1M16 58h4M21 58h3M25 58h7M33 58h1M35 58h2M38 58h2M41 58h1M46 58h1M49 58h1M0 59h3M6 59h3M11 59h2M16 59h2M20 59h2M23 59h2M26 59h1M28 59h11M41 59h8M53 59h1M1 60h1M4 60h1M8 60h1M11 60h1M14 60h4M22 60h2M25 60h2M29 60h5M35 60h2M38 60h5M44 60h4M49 60h5M91 60h1M7 61h1M9 61h1M15 61h2M19 61h2M22 61h1M28 61h4M34 61h5M41 61h10M53 61h2M56 61h1M92 61h1M0 62h1M6 62h2M10 62h2M16 62h1M18 62h1M21 62h1M23 62h1M25 62h3M30 62h2M33 62h1M35 62h1M38 62h1M40 62h3M44 62h1M46 62h4M51 62h7M92 62h1M1 63h1M13 63h1M17 63h1M20 63h2M25 63h1M28 63h1M30 63h1M34 63h3M39 63h1M44 63h2M47 63h6M54 63h2M57 63h3M93 63h1M2 64h1M12 64h1M21 64h1M24 64h1M26 64h1M31 64h1M33 64h2M36 64h1M39 64h4M44 64h3M48 64h2M51 64h4M56 64h4M93 64h1M2 65h1M10 65h1M21 65h1M26 65h1M33 65h2M43 65h6M50 65h4M55 65h4M60 65h1M93 65h1M15 66h2M21 66h1M25 66h1M27 66h1M31 66h1M34 66h1M41 66h1M43 66h1M51 66h1M54 66h1M56 66h3M60 66h2"/>
<path stroke="#f4f6f7" d="M80 0h1M80 1h2M80 2h1M80 3h2M81 4h1M80 5h1M80 8h1M80 9h1M81 10h1M80 11h1M80 12h2M80 13h2M80 14h1M80 16h1M80 17h1M80 18h1M80 19h1M80 20h1M80 21h1M80 22h1M80 24h1M80 25h1M80 28h1M79 29h1M79 31h1M9 52h1M10 54h1M79 54h1M23 55h1M78 55h2M1 56h1M3 56h1M7 56h1M78 56h1M0 57h1M4 57h1M7 57h1M10 57h1M12 57h2M17 57h1M78 57h2M1 58h2M5 58h4M10 58h2M13 58h1M15 58h1M20 58h1M24 58h1M32 58h1M37 58h1M78 58h2M3 59h3M9 59h2M13 59h3M18 59h2M22 59h1M25 59h1M27 59h1M40 59h1M91 59h1M0 60h1M2 60h2M5 60h3M9 60h2M12 60h2M18 60h4M24 60h1M27 60h1M34 60h1M37 60h1M43 60h1M48 60h1M92 60h1M0 61h7M8 61h1M10 61h5M17 61h2M21 61h1M23 61h5M32 61h2M39 61h2M1 62h5M8 62h2M12 62h4M17 62h1M19 62h2M22 62h1M24 62h1M28 62h2M32 62h1M34 62h1M36 62h2M39 62h1M43 62h1M45 62h1M93 62h1M0 63h1M2 63h11M14 63h3M18 63h2M22 63h3M26 63h2M29 63h1M31 63h3M37 63h2M40 63h4M46 63h1M53 63h1M94 63h1M0 64h2M3 64h9M13 64h3M17 64h4M22 64h2M25 64h1M28 64h3M32 64h1M35 64h1M37 64h2M43 64h1M47 64h1M50 64h1M94 64h1M0 65h2M4 65h6M12 65h9M22 65h1M24 65h2M27 65h2M30 65h3M35 65h8M49 65h1M54 65h1M94 65h1M0 66h10M11 66h4M17 66h4M22 66h3M26 66h1M28 66h3M32 66h2M35 66h6M42 66h1M45 66h6M52 66h2M55 66h1M94 66h3"/>
<path stroke="#f7f5f4" d="M81 0h2M81 2h1M82 3h1M82 4h1M81 5h1M81 6h2M81 7h2M81 8h1M81 9h2M82 10h1M81 11h1M81 14h1M81 15h1M81 16h1M81 17h1M81 18h1M81 20h1M81 22h1M80 23h2M80 26h2M80 27h1M80 29h1M80 30h1M79 32h1M79 33h1M79 34h1M79 35h1M79 36h1M79 37h1M79 38h1M79 39h1M79 40h1M79 41h1M79 42h1M78 54h1M79 56h1M91 58h1M92 59h1M93 60h1M93 61h2M94 62h1M95 63h1M16 64h1M95 64h1M97 64h1M3 65h1M11 65h1M23 65h1M29 65h1M95 65h1M10 66h1M44 66h1M97 66h1"/>
<path stroke="#f8f1ed" d="M82 1h1M82 2h1M82 5h1M82 8h1M82 11h1M82 13h1M82 14h1M82 15h1M82 16h1M82 17h1M82 18h1M81 19h1M81 21h1M81 24h1M81 25h1M81 27h1M81 28h1M81 29h1M80 31h1M80 32h1M91 57h1M92 58h1M93 59h1M95 61h2M96 63h2M99 63h1M96 64h1M98 64h2M96 65h4M101 65h1M98 66h3"/>
<path stroke="#f9ede6" d="M83 0h1M83 1h1M83 3h1M83 4h1M83 5h1M83 6h1M83 7h1M83 8h1M83 9h1M83 10h1M83 11h1M82 12h2M83 13h1M83 14h1M83 17h1M82 19h1M82 20h1M82 21h1M82 22h1M82 23h1M82 25h1M82 26h1M81 30h1M80 33h1M80 34h1M80 35h1M80 36h1M80 37h1M80 39h1M80 40h1M80 41h1M80 42h1M92 57h1M93 58h1M94 59h1M94 60h2M95 62h5M98 63h1M100 63h1M102 63h1M100 65h1M102 65h2M102 66h3M106 66h1"/>
<path stroke="#fae9df" d="M83 2h1M83 15h1M83 16h1M83 18h1M83 19h1M83 21h1M82 24h1M82 27h1M82 28h1M82 29h1M82 30h1M81 31h1M81 32h1M81 33h1M81 34h1M80 38h3M84 38h2M81 39h5M84 40h2M84 41h2M82 42h2M85 42h1M82 43h4M81 44h2M82 45h2M81 46h1M81 47h1M81 50h1M81 51h1M82 52h2M91 56h2M94 58h1M97 59h2M96 60h2M99 60h1M97 61h5M106 61h1M100 62h4M105 62h3M101 63h1M103 63h3M111 63h1M100 64h5M107 64h3M111 64h2M104 65h7M116 65h1M101 66h1M105 66h1M107 66h7M116 66h1"/>
<path stroke="#fbe5d9" d="M84 0h1M84 2h1M84 3h1M84 4h1M84 5h1M84 6h1M84 7h1M84 8h1M84 9h1M84 10h1M84 11h1M84 12h1M84 13h1M84 14h1M84 15h1M83 20h1M83 22h1M83 23h1M83 24h1M83 25h1M83 26h1M83 27h1M82 31h1M81 35h1M81 36h1M81 37h1M83 38h1M84 42h1M83 44h1M81 45h1M91 55h1M93 56h1M93 57h2M95 58h2M98 58h1M95 59h2M99 59h3M98 60h1M100 60h4M105 60h2M109 60h1M102 61h4M108 61h1M110 61h1M112 61h1M115 61h1M104 62h1M108 62h8M118 62h1M106 63h5M112 63h7M105 64h2M110 64h1M113 64h6M111 65h5M117 65h2M114 66h2M117 66h2"/>
<path stroke="#fce1d2" d="M84 1h1M84 16h1M84 17h1M84 18h1M84 19h1M84 20h1M84 21h1M84 23h1M83 28h1M83 29h1M83 30h1M82 32h1M82 33h1M91 54h1M92 55h1M94 55h1M94 56h1M96 56h1M95 57h2M98 57h1M97 58h1M99 58h3M104 58h1M106 58h2M113 58h1M116 58h1M102 59h4M107 59h3M111 59h3M115 59h1M117 59h2M104 60h1M107 60h2M110 60h9M107 61h1M109 61h1M111 61h1M113 61h2M116 61h3M116 62h2"/>
<path stroke="#fcddcb" d="M85 9h1M85 13h1M85 14h1M85 15h1M84 22h1M84 24h1M84 25h1M84 26h1M83 31h1M82 34h1M82 35h1M82 36h1M88 52h2M91 53h1M92 54h1M115 54h3M93 55h1M109 55h1M113 55h2M116 55h3M95 56h1M97 56h5M104 56h2M111 56h1M113 56h2M116 56h3M97 57h1M99 57h4M105 57h8M115 57h4M102 58h2M105 58h1M108 58h5M114 58h2M117 58h2M106 59h1M110 59h1M114 59h1M116 59h1"/>
<path stroke="#fcd8c3" d="M85 0h1M85 1h1M85 2h1M85 3h1M85 4h1M85 5h1M85 6h1M85 7h1M85 8h1M85 10h1M85 11h1M85 12h1M85 16h1M85 17h1M85 18h1M85 19h1M85 20h1M85 22h1M84 27h1M84 28h1M84 29h1M84 30h1M83 32h1M82 37h1M118 49h1M118 50h1M88 51h1M118 52h1M92 53h1M109 53h1M113 53h6M93 54h2M111 54h1M113 54h2M118 54h1M95 55h2M99 55h6M106 55h3M110 55h3M115 55h1M102 56h2M106 56h5M112 56h1M115 56h1M103 57h2M113 57h2M76 62h1M76 63h1M76 64h1M76 65h1"/>
<path stroke="#fbd0b9" d="M86 5h1M85 21h1M85 23h1M85 24h1M85 26h1M85 27h1M85 28h1M84 31h1M84 32h1M83 33h1M83 34h1M83 35h1M83 36h1M116 48h2M115 49h3M114 50h1M116 50h2M89 51h1M110 51h1M114 51h5M90 52h1M92 52h1M106 52h1M109 52h9M93 53h1M101 53h1M108 53h1M110 53h3M95 54h16M112 54h1M98 55h1M105 55h1M77 59h1"/>
<path stroke="#fac9b0" d="M86 0h1M86 2h1M86 3h1M86 4h1M86 6h1M86 7h1M86 8h1M86 9h1M86 11h1M86 12h1M86 13h1M86 15h1M86 16h1M86 18h1M86 20h1M85 25h1M85 29h1M84 33h1M83 37h1M118 45h1M116 46h1M118 46h1M86 47h1M114 47h5M114 48h2M118 48h1M109 49h1M112 49h3M88 50h2M110 50h4M115 50h1M90 51h1M105 51h5M111 51h3M91 52h1M93 52h1M102 52h3M107 52h2M94 53h7M102 53h6M97 55h1"/>
<path stroke="#f9c1a6" d="M86 1h1M86 10h1M86 14h1M86 17h1M86 19h1M86 21h1M86 22h1M86 23h1M85 30h1M84 34h1M84 35h1M117 44h2M114 45h1M116 45h2M113 46h1M115 46h1M117 46h1M113 47h1M108 48h6M88 49h1M108 49h1M110 49h2M104 50h6M91 51h2M94 52h4M99 52h3M105 52h1M88 53h2M88 54h3M88 55h2M88 56h3M88 57h2M88 58h1M88 59h2"/>
<path stroke="#f7ba9c" d="M86 24h1M86 25h1M86 26h1M86 27h1M86 28h1M85 31h2M85 32h1M85 33h1M84 36h1M84 37h1M118 42h1M116 43h3M115 44h2M115 45h1M86 46h1M111 46h1M114 46h1M87 47h1M110 47h3M88 48h1M106 48h2M89 49h1M105 49h3M90 50h2M100 50h1M103 50h1M93 51h1M97 51h8M98 52h1M90 55h1M89 58h1"/>
<path stroke="#f6b293" d="M87 0h1M87 1h1M87 2h1M87 3h1M87 4h1M87 5h1M87 6h1M87 7h1M87 8h1M87 9h1M87 10h1M87 11h1M87 12h1M87 14h1M87 15h1M87 16h1M87 17h1M87 20h1M87 21h1M86 29h1M86 30h1M86 32h1M85 34h1M85 36h1M85 37h1M117 40h2M118 41h1M116 42h2M113 43h3M113 44h2M86 45h1M110 45h4M87 46h1M109 46h2M112 46h1M106 47h4M102 48h2M90 49h1M100 49h1M102 49h3M92 50h1M96 50h2M101 50h2M94 51h3"/>
<path stroke="#f5aa89" d="M87 13h1M87 18h1M87 19h1M87 22h1M87 23h1M87 24h1M87 25h1M87 26h1M87 27h1M85 35h1M118 37h1M118 38h1M117 39h2M82 40h2M116 40h1M114 41h4M81 42h1M113 42h3M86 44h1M111 44h2M109 45h1M82 46h1M85 46h1M105 46h4M104 48h2M91 49h1M98 49h1M101 49h1M93 50h3M98 50h2"/>
<path stroke="#f3a280" d="M88 10h1M88 12h1M88 13h1M88 16h1M87 28h1M87 29h1M87 30h1M86 33h1M86 34h1M86 35h1M118 36h1M117 37h1M86 38h1M116 38h2M115 39h2M114 40h2M82 41h2M113 41h1M111 42h2M81 43h1M86 43h1M111 43h2M84 44h2M109 44h2M84 45h2M87 45h1M106 45h3M84 46h1M88 46h1M82 47h4M88 47h2M101 47h5M89 48h3M99 48h3M92 49h2M95 49h3M99 49h1"/>
<path stroke="#ef9878" d="M88 2h1M88 3h1M88 4h1M88 5h1M88 6h1M88 7h1M88 8h1M88 9h1M88 11h1M88 14h1M88 15h1M88 17h1M88 18h1M88 19h1M88 20h1M88 21h1M88 22h1M88 23h1M88 25h1M88 26h1M88 29h1M87 31h1M87 32h1M87 33h1M118 35h1M86 36h1M86 37h1M115 38h1M86 39h1M114 39h1M86 40h1M112 40h2M112 41h1M86 42h1M110 42h1M108 43h3M87 44h1M107 44h2M88 45h1M104 45h2M83 46h1M89 46h1M103 46h2M100 47h1M92 48h1M95 48h4M94 49h1"/>
<path stroke="#ea8f71" d="M88 0h1M88 1h1M88 24h1M88 27h1M88 28h1M87 34h1M87 35h1M117 35h1M87 36h1M114 36h1M116 36h2M114 37h3M114 38h1M112 39h2M87 40h1M110 40h1M86 41h1M109 41h3M108 42h2M87 43h1M107 43h1M104 44h3M103 45h1M100 46h3M90 47h2M96 47h4M93 48h2"/>
<path stroke="#e68569" d="M89 9h1M89 13h1M89 14h1M89 16h1M89 17h1M89 18h1M89 19h1M89 20h1M89 21h1M89 22h1M89 23h1M89 24h1M89 25h1M89 27h1M88 30h1M88 31h1M88 32h1M88 33h1M117 34h2M114 35h3M88 36h1M113 36h1M115 36h1M87 37h1M113 37h1M87 38h1M112 38h2M87 39h1M111 39h1M109 40h1M111 40h1M87 41h1M107 41h2M106 42h1M88 43h1M105 43h2M88 44h1M103 44h1M89 45h2M99 45h1M101 45h2M90 46h2M96 46h4M92 47h4"/>
<path stroke="#e27b62" d="M89 5h1M89 6h1M89 8h1M89 10h1M89 11h1M89 12h1M89 15h1M90 19h1M90 24h1M90 25h1M89 26h1M89 28h1M89 29h1M89 30h1M89 33h1M117 33h2M88 34h1M115 34h2M88 35h1M113 35h1M88 37h1M111 37h2M110 38h2M88 39h1M109 39h2M108 40h1M106 41h1M87 42h1M107 42h1M89 43h1M103 43h2M89 44h2M101 44h2M92 45h1M97 45h2M100 45h1M92 46h4"/>
<path stroke="#de715a" d="M89 0h1M89 1h1M89 2h1M89 3h1M89 4h1M89 7h1M90 13h1M90 14h1M90 15h1M90 17h1M90 18h1M90 20h1M90 21h1M90 22h1M90 23h1M90 26h1M90 27h1M90 28h1M90 30h1M89 31h1M89 32h2M117 32h2M115 33h2M89 34h1M114 34h1M89 35h1M111 36h2M89 37h1M110 37h1M88 38h1M109 38h1M106 39h3M88 40h1M106 40h2M88 41h1M105 41h1M88 42h1M103 42h3M99 43h1M101 43h2M98 44h3M91 45h1M93 45h4"/>
<path stroke="#d96853" d="M90 10h1M90 11h1M90 12h1M90 16h1M91 18h1M91 22h1M91 23h1M91 24h1M91 25h1M91 26h1M91 27h1M90 29h1M90 31h1M117 31h2M115 32h1M90 33h1M114 33h1M90 34h1M113 34h1M110 35h3M89 36h2M110 36h1M107 37h3M89 38h2M107 38h2M89 39h1M105 39h1M89 40h1M105 40h1M89 41h1M103 41h2M89 42h2M101 42h2M90 43h2M98 43h1M91 44h2M97 44h1"/>
<path stroke="#d55e4c" d="M90 7h1M90 8h1M90 9h1M91 16h1M91 19h1M91 20h1M91 21h1M92 24h1M92 26h1M91 28h2M91 29h1M91 30h1M118 30h1M91 31h1M116 31h1M91 32h1M113 32h2M116 32h1M113 33h1M91 34h1M110 34h3M90 35h2M108 35h2M91 36h1M107 36h3M90 37h2M106 37h1M105 38h2M90 39h1M104 39h1M102 40h3M90 41h1M99 41h1M101 41h2M91 42h1M98 42h3M92 43h3M97 43h1M100 43h1M93 44h4"/>
<path stroke="#d05447" d="M90 6h1M91 13h1M91 14h1M91 15h1M91 17h1M92 19h1M92 20h1M92 21h1M92 22h1M92 23h1M93 24h1M92 25h1M92 27h2M92 29h1M117 29h2M92 30h1M115 30h3M92 31h1M114 31h2M92 32h1M111 32h2M91 33h2M108 33h5M109 34h1M92 35h1M107 35h1M92 36h1M105 36h2M105 37h1M91 38h1M104 38h1M91 39h2M101 39h3M90 40h3M98 40h4M91 41h2M100 41h1M92 42h3M97 42h1M95 43h2"/>
<path stroke="#cb4a42" d="M90 0h1M90 1h1M90 2h1M90 3h1M90 4h1M90 5h1M91 11h1M91 12h1M92 16h1M92 17h1M92 18h2M93 19h1M93 20h1M93 21h1M93 22h1M93 23h2M93 25h1M93 26h2M116 27h1M118 27h1M93 28h1M116 28h3M93 29h1M115 29h2M93 30h1M114 30h1M93 31h1M111 31h1M113 31h1M93 32h1M108 32h3M93 33h1M107 33h1M92 34h1M106 34h3M93 35h1M105 35h2M103 36h2M92 37h3M101 37h4M92 38h1M99 38h5M95 39h1M97 39h4M97 40h1M93 41h2M97 41h2M95 42h2"/>
<path stroke="#c6403e" d="M91 10h1M92 13h1M92 14h1M92 15h2M93 17h1M94 18h2M94 19h2M94 20h2M94 21h2M94 22h2M95 23h1M94 24h2M94 25h2M117 25h1M115 26h1M117 26h2M94 27h2M115 27h1M117 27h1M94 28h1M115 28h1M94 29h1M111 29h4M94 30h1M110 30h1M112 30h2M109 31h2M112 31h1M94 32h2M107 32h1M94 33h2M99 33h2M105 33h2M93 34h4M103 34h3M94 35h1M100 35h5M93 36h2M96 36h3M100 36h3M96 37h5M93 38h4M98 38h1M93 39h2M96 39h1M93 40h4M95 41h2"/>
<path stroke="#c13539" d="M91 9h1M93 16h2M94 17h1M96 18h2M96 19h1M96 20h2M99 20h1M118 20h1M96 21h2M96 22h5M116 22h2M96 23h2M118 23h1M96 24h6M115 24h4M96 25h1M98 25h1M103 25h1M115 25h2M118 25h1M95 26h4M102 26h1M112 26h3M116 26h1M96 27h3M113 27h2M95 28h2M98 28h2M108 28h2M111 28h4M95 29h3M99 29h2M102 29h1M105 29h1M110 29h1M95 30h3M99 30h1M107 30h3M111 30h1M94 31h5M101 31h1M106 31h3M96 32h1M98 32h4M104 32h3M96 33h3M101 33h4M97 34h6M95 35h5M95 36h1M99 36h1M95 37h1M97 38h1"/>
<path stroke="#bc2b34" d="M91 7h1M91 8h1M92 12h1M93 14h1M94 15h2M95 16h2M95 17h4M98 18h1M118 18h1M97 19h4M116 19h1M98 20h1M100 20h4M115 20h1M117 20h1M98 21h4M103 21h1M115 21h4M101 22h1M103 22h1M105 22h1M114 22h2M118 22h1M98 23h7M107 23h2M112 23h1M115 23h3M103 24h2M106 24h2M110 24h2M113 24h2M97 25h1M99 25h4M105 25h1M107 25h8M99 26h3M103 26h1M105 26h7M99 27h5M105 27h8M97 28h1M100 28h8M110 28h1M98 29h1M101 29h1M103 29h2M106 29h4M98 30h1M101 30h6M99 31h2M102 31h4M97 32h1M102 32h2"/>
<path stroke="#b7212f" d="M91 6h1M92 11h1M93 12h1M93 13h1M94 14h1M118 15h1M97 16h3M117 16h2M99 17h2M102 17h2M112 17h3M116 17h3M99 18h8M113 18h5M101 19h5M107 19h1M110 19h2M113 19h3M117 19h2M104 20h11M116 20h1M102 21h1M104 21h11M102 22h1M104 22h1M106 22h8M105 23h2M109 23h2M113 23h2M102 24h1M105 24h1M108 24h2M112 24h1M104 25h1M106 25h1M104 26h1M104 27h1M100 30h1"/>
<path stroke="#b1182b" d="M118 0h1M91 1h1M117 1h1M91 3h1M118 3h1M91 4h1M118 4h1M91 5h1M117 5h2M118 6h1M117 7h2M116 9h1M118 9h1M92 10h1M115 11h1M117 11h1M116 12h2M94 13h1M114 13h5M95 14h2M115 14h4M96 15h2M110 15h2M113 15h5M100 16h2M103 16h5M109 16h1M112 16h5M101 17h1M104 17h8M115 17h1M107 18h2M110 18h3M106 19h1M108 19h2M112 19h1M111 23h1M81 40h1"/>
<path stroke="#a61429" d="M91 0h1M117 0h1M116 1h1M118 1h1M91 2h1M115 2h1M117 2h2M117 3h1M116 4h2M115 5h2M115 6h3M115 7h2M114 8h5M92 9h1M115 9h1M117 9h1M113 10h1M115 10h4M93 11h1M113 11h2M116 11h1M118 11h1M94 12h1M113 12h3M118 12h1M95 13h1M110 13h4M111 14h4M98 15h3M105 15h1M107 15h3M112 15h1M102 16h1M108 16h1M110 16h2M109 18h1M81 41h1"/>
<path stroke="#9c1127" d="M115 0h2M115 1h1M116 2h1M115 3h2M114 4h2M114 5h1M114 6h1M113 7h2M92 8h1M113 8h1M113 9h2M93 10h1M112 10h1M114 10h1M94 11h1M110 11h3M95 12h1M111 12h2M108 13h2M97 14h1M105 14h1M107 14h1M109 14h2M101 15h4M106 15h1"/>
<path stroke="#910e26" d="M113 0h2M113 1h2M113 2h2M113 3h2M113 4h1M113 6h1M92 7h1M112 7h1M111 8h2M112 9h1M94 10h1M111 10h1M95 11h1M109 11h1M96 12h1M109 12h2M96 13h2M106 13h2M98 14h7M106 14h1M108 14h1M82 48h2M82 49h1M82 50h2M81 52h1"/>
<path stroke="#870a24" d="M92 5h1M112 5h2M92 6h1M112 6h1M93 8h1M93 9h2M110 9h2M109 10h2M97 12h1M104 12h5M98 13h8M81 48h1M81 49h1M83 49h1M82 51h2M79 52h1M80 59h1M78 64h2M79 65h1"/>
<path stroke="#7c0722" d="M92 0h1M112 0h1M92 1h1M112 1h1M92 2h1M111 2h2M92 3h1M111 3h2M92 4h1M112 4h1M111 5h1M111 6h1M93 7h1M111 7h1M110 8h1M109 9h1M95 10h1M108 10h1M96 11h1M103 11h1M107 11h2M98 12h4M103 12h1M78 51h2M78 52h1M78 53h2M80 54h1M80 55h1M80 56h1M77 60h1M77 61h1M77 62h1M77 63h3M77 64h1M77 65h2"/>
<path stroke="#720321" d="M104 0h1M109 0h3M102 1h1M111 1h1M103 2h1M100 3h1M105 3h1M107 3h1M93 4h1M109 4h1M111 4h1M93 5h1M100 5h1M109 5h2M93 6h1M101 6h1M110 6h1M108 7h1M110 7h1M94 8h1M108 8h2M95 9h4M104 9h1M108 9h1M96 10h2M99 10h1M101 10h2M104 10h4M97 11h6M104 11h3M102 12h1"/>
<path stroke="#67001f" d="M93 0h11M105 0h4M93 1h9M103 1h8M93 2h10M104 2h7M93 3h7M101 3h4M106 3h1M108 3h3M94 4h15M110 4h1M94 5h6M101 5h8M94 6h7M102 6h8M94 7h14M109 7h1M95 8h13M99 9h5M105 9h3M98 10h1M100 10h1M103 10h1"/>
</g></g>
<clipPath id="kd1"><rect x="1303.2" y="1033.9" width="713.6" height="396.8"/></clipPath>
<g clip-path="url(#kd1)"><g transform="translate(1303 1036) scale(6 6)" fill="none" stroke-width="1.04" shape-rendering="crispEdges">
<path stroke="#053061" d="M21 0h2M24 0h4M22 1h6M23 2h6M24 3h6M25 4h6M26 5h6M102 5h1M27 6h5M28 7h5M29 8h4M29 9h6M30 10h6M31 11h5M32 12h4M37 12h1M33 13h4M34 14h5M34 15h6M35 16h1M37 16h4M36 17h5M38 18h4M39 19h3M40 20h1"/>
<path stroke="#09386c" d="M23 0h1M102 0h1M28 1h1M102 1h1M102 2h1M118 2h1M100 3h1M102 3h1M102 4h1M25 5h1M26 6h1M32 6h1M102 6h1M27 7h1M33 7h1M102 7h1M28 8h1M33 8h1M102 8h1M102 9h1M102 10h1M30 11h1M36 11h1M36 12h1M32 13h1M37 13h2M33 14h1M39 14h1M40 15h1M36 16h1M41 16h1M41 17h1M37 18h1M42 18h1M38 19h1M42 19h2M39 20h1M41 20h3M41 21h3"/>
<path stroke="#0d3f76" d="M99 0h3M103 0h1M114 0h1M118 0h1M21 1h1M99 1h3M103 1h1M118 1h1M22 2h1M29 2h1M99 2h3M103 2h1M115 2h1M23 3h1M30 3h1M101 3h1M118 3h1M24 4h1M99 4h3M103 4h1M118 4h1M99 5h3M100 6h2M100 7h2M34 8h1M100 8h2M35 9h1M101 9h1M29 10h1M36 10h1M31 12h1M34 16h1M35 17h1M42 17h1M40 21h1M44 21h1M41 22h4"/>
<path stroke="#114781" d="M20 0h1M115 0h2M114 1h2M114 2h1M99 3h1M103 3h1M114 3h2M31 4h1M114 4h1M24 5h1M32 5h1M103 5h1M118 5h1M25 6h1M99 6h1M103 6h1M118 6h1M26 7h1M99 7h1M103 7h1M118 7h1M27 8h1M99 8h1M103 8h1M28 9h1M100 9h1M101 10h1M37 11h1M102 11h1M38 12h1M102 12h1M39 13h1M32 14h1M33 15h1M36 18h1M43 18h1M37 19h1M38 20h1M44 20h1M45 21h1M40 22h1M45 22h1M42 23h5"/>
<path stroke="#154e8b" d="M19 0h1M28 0h1M98 0h1M20 1h1M29 1h1M98 1h1M104 1h1M116 1h1M21 2h1M98 2h1M104 2h1M116 2h1M22 3h1M98 3h1M104 3h1M116 3h1M23 4h1M98 4h1M104 4h1M115 4h2M98 5h1M104 5h1M114 5h3M33 6h1M98 6h1M114 6h2M34 7h1M99 9h1M28 10h1M100 10h1M29 11h1M30 12h1M31 13h1M40 14h1M41 15h1M44 19h1M39 21h1M46 22h1M43 24h4"/>
<path stroke="#195696" d="M104 0h1M117 0h1M117 1h1M30 2h1M117 2h1M31 3h1M117 3h1M104 6h1M116 6h1M25 7h1M98 7h1M104 7h1M114 7h2M35 8h1M98 8h1M118 8h1M27 9h1M36 9h1M103 9h1M118 9h1M99 10h1M100 11h2M102 13h1M42 16h1M45 20h1M41 23h1M47 24h1M2 65h1M0 66h2"/>
<path stroke="#1d5ea0" d="M97 0h1M19 1h1M97 1h1M97 2h1M97 3h1M22 4h1M32 4h1M117 4h1M23 5h1M33 5h1M117 5h1M24 6h1M116 7h1M26 8h1M104 8h1M115 8h1M98 9h1M37 10h1M103 10h1M38 11h1M101 12h1M102 14h1M33 16h1M34 17h1M43 17h1M35 18h1M36 19h1M37 20h1M38 21h1M46 21h1M39 22h1M47 23h1M42 24h1M44 25h4M1 59h1M0 61h2M0 62h2M4 62h1M8 62h1M0 63h5M7 63h1M0 64h9M0 65h2M3 65h4M9 65h1M2 66h6"/>
<path stroke="#2165ab" d="M18 0h1M29 0h1M113 0h1M30 1h1M113 1h1M20 2h1M21 3h1M97 4h1M97 5h1M34 6h1M97 6h1M117 6h1M35 7h1M114 8h1M104 9h1M114 9h2M114 10h1M118 10h1M99 11h1M103 11h1M118 11h1M39 12h1M100 12h1M30 13h1M40 13h1M101 13h1M31 14h1M32 15h1M102 15h1M44 18h1M47 22h1M40 23h1M48 24h1M43 25h1M48 25h1M46 26h3M0 55h2M1 56h1M0 57h3M4 57h1M0 58h4M0 59h1M2 59h2M5 59h2M0 60h3M4 60h3M10 60h1M2 61h6M2 62h2M5 62h3M9 62h3M5 63h2M8 63h3M12 63h1M9 64h5M7 65h2M10 65h3M14 65h1M16 65h2M8 66h8M17 66h1"/>
<path stroke="#256caf" d="M113 2h1M113 3h1M23 6h1M97 7h1M117 7h1M25 8h1M97 8h1M116 8h1M26 9h1M116 9h1M27 10h1M104 10h1M115 10h1M28 11h1M29 12h1M103 12h1M118 12h1M118 13h1M41 14h1M42 15h1M45 19h1M41 24h1M42 25h1M44 26h2M48 27h1M0 52h3M0 53h2M0 54h2M3 54h2M2 55h2M5 55h1M7 55h1M0 56h1M2 56h6M3 57h1M5 57h2M4 58h5M4 59h1M7 59h5M13 59h2M3 60h1M7 60h3M11 60h4M8 61h6M15 61h3M12 62h5M11 63h1M13 63h5M14 64h5M13 65h1M15 65h1M18 65h2M16 66h1M18 66h2"/>
<path stroke="#2a72b2" d="M17 0h1M105 0h1M18 1h1M105 1h1M19 2h1M31 2h1M105 2h1M20 3h1M32 3h1M105 3h1M21 4h1M105 4h1M113 4h1M22 5h1M105 5h1M113 5h1M24 7h1M36 8h1M117 8h1M37 9h1M98 10h1M104 11h1M114 11h2M99 12h1M114 12h1M100 13h1M103 13h1M118 14h1M34 18h1M35 19h1M46 20h1M38 22h1M48 23h1M49 25h1M43 26h1M49 26h1M46 27h2M49 27h1M0 49h1M0 50h3M0 51h6M3 52h4M2 53h6M9 53h1M2 54h1M5 54h4M4 55h1M6 55h1M8 55h3M8 56h2M7 57h6M14 57h2M9 58h6M12 59h1M15 59h1M18 59h1M15 60h4M14 61h1M18 61h2M17 62h2M20 62h1M18 63h2M19 64h2M20 65h2M20 66h2"/>
<path stroke="#2f78b5" d="M33 4h1M105 6h1M113 6h1M23 7h1M105 7h1M113 7h1M97 9h1M38 10h1M116 10h1M39 11h1M98 11h1M115 12h1M99 13h1M114 13h2M30 14h1M101 14h1M114 14h1M31 15h1M118 15h1M32 16h1M43 16h1M102 16h1M118 16h1M33 17h1M44 17h1M118 18h1M36 20h1M37 21h1M47 21h1M39 23h1M118 23h1M40 24h1M49 24h1M45 27h1M46 28h4M118 29h1M118 37h1M118 42h1M118 44h1M118 45h1M0 46h1M0 47h2M0 48h3M4 48h1M1 49h4M6 49h1M3 50h6M118 50h1M6 51h4M7 52h5M8 53h1M10 53h2M14 53h1M9 54h5M11 55h4M10 56h8M13 57h1M16 57h2M15 58h3M19 58h1M16 59h2M19 59h1M19 60h2M20 61h1M19 62h1M21 62h1M118 62h1M20 63h2M23 63h1M21 64h2M22 65h2M22 66h2M118 66h1"/>
<path stroke="#347fb9" d="M15 0h2M30 0h1M112 0h1M16 1h2M96 1h1M106 1h1M112 1h1M18 2h1M96 2h1M106 2h1M19 3h1M96 3h1M106 3h1M20 4h1M21 5h1M34 5h1M22 6h1M35 6h1M24 8h1M105 8h1M113 8h1M25 9h1M113 9h1M117 9h1M26 10h1M97 10h1M27 11h1M116 11h1M28 12h1M40 12h1M98 12h1M104 12h1M29 13h1M100 14h1M103 14h1M115 14h1M101 15h1M114 15h1M114 16h1M102 17h1M118 17h1M45 18h1M118 19h1M118 20h1M118 21h1M48 22h1M114 22h1M118 22h1M114 24h1M118 24h1M41 25h1M118 25h1M50 26h1M118 26h1M44 27h1M50 27h1M118 27h1M118 28h1M114 29h1M118 30h1M118 31h1M118 32h1M118 33h1M118 34h1M118 35h1M118 36h1M118 38h1M118 39h1M118 40h1M0 41h1M118 41h1M1 42h1M0 43h2M118 43h1M0 44h3M0 45h4M1 46h3M5 46h1M118 46h1M2 47h5M118 47h1M3 48h1M5 48h3M118 48h1M5 49h1M7 49h2M118 49h1M9 50h1M11 50h2M10 51h3M14 51h1M118 51h1M12 52h4M118 52h1M12 53h2M15 53h2M18 53h1M118 53h1M14 54h4M118 54h1M15 55h5M114 55h1M118 55h1M18 56h2M118 56h1M18 57h3M18 58h1M20 58h2M118 58h1M20 59h1M22 59h1M118 59h1M21 60h1M114 60h1M118 60h1M21 61h2M118 61h1M22 62h2M22 63h1M24 63h1M118 63h1M23 64h2M118 64h1M24 65h1M118 65h1M24 66h2"/>
<path stroke="#3885bc" d="M1 0h4M7 0h1M13 0h2M96 0h1M106 0h1M111 0h1M1 1h2M15 1h1M31 1h1M0 2h4M7 2h1M16 2h2M32 2h1M112 2h1M0 3h3M12 3h1M14 3h1M18 3h1M112 3h1M1 4h1M3 4h1M96 4h1M106 4h1M0 5h1M7 5h1M96 5h1M106 5h1M0 6h1M2 6h2M6 6h1M106 6h1M0 7h3M4 7h1M36 7h1M106 7h1M0 8h1M37 8h1M106 8h1M0 9h2M5 9h1M105 9h2M0 10h1M2 10h1M113 10h1M117 10h1M0 11h2M113 11h1M117 11h1M1 12h1M116 12h1M0 13h1M41 13h1M104 13h1M116 13h1M99 14h1M2 15h1M115 15h1M0 16h2M115 16h1M0 17h2M114 17h1M102 18h1M114 18h1M0 19h2M46 19h1M114 19h1M1 20h1M114 20h1M114 21h1M1 22h1M114 23h1M115 24h1M50 25h1M114 25h1M0 26h1M42 26h1M114 26h2M43 27h1M114 27h1M45 28h1M50 28h1M114 28h1M47 29h3M114 30h1M0 31h1M114 31h1M114 32h1M114 33h2M114 34h1M114 35h1M0 36h2M114 36h1M0 38h1M114 38h1M0 39h2M114 39h1M0 40h2M3 40h1M114 40h1M1 41h2M114 41h1M0 42h1M2 42h2M114 42h1M2 43h3M114 43h1M3 44h3M114 44h1M4 45h3M114 45h1M4 46h1M6 46h2M114 46h1M7 47h4M8 48h6M114 48h1M9 49h5M114 49h1M10 50h1M13 50h5M114 50h1M13 51h1M15 51h3M114 51h1M16 52h4M114 52h1M17 53h1M19 53h2M114 53h1M18 54h4M114 54h1M20 55h1M20 56h2M114 56h1M21 57h2M114 57h1M118 57h1M22 58h3M114 58h1M21 59h1M23 59h2M114 59h1M22 60h3M23 61h2M114 61h2M24 62h3M114 62h1M25 63h3M114 63h1M25 64h3M114 64h1M25 65h4M114 65h1M26 66h2"/>
<path stroke="#3d8bbf" d="M0 0h1M5 0h2M8 0h5M0 1h1M3 1h12M111 1h1M4 2h3M8 2h8M111 2h1M3 3h9M13 3h1M15 3h3M33 3h1M111 3h1M0 4h1M2 4h1M4 4h16M34 4h1M112 4h1M1 5h6M8 5h3M13 5h1M15 5h1M17 5h1M19 5h2M112 5h1M1 6h1M4 6h2M7 6h3M11 6h2M14 6h4M19 6h1M21 6h1M96 6h1M3 7h1M5 7h4M10 7h1M14 7h1M22 7h1M96 7h1M1 8h8M23 8h1M2 9h3M6 9h6M24 9h1M38 9h1M1 10h1M3 10h5M10 10h1M25 10h1M105 10h1M2 11h6M9 11h1M97 11h1M0 12h1M4 12h3M12 12h1M27 12h1M113 12h1M1 13h6M8 13h1M28 13h1M98 13h1M113 13h1M0 14h6M7 14h2M42 14h1M104 14h1M116 14h1M0 15h2M3 15h4M30 15h1M43 15h1M100 15h1M103 15h1M2 16h5M31 16h1M101 16h1M2 17h4M32 17h1M115 17h1M0 18h5M33 18h1M115 18h1M2 19h4M34 19h1M102 19h1M115 19h1M0 20h1M2 20h2M35 20h1M102 20h1M115 20h1M0 21h5M36 21h1M115 21h1M0 22h1M2 22h4M37 22h1M115 22h1M0 23h5M38 23h1M49 23h1M115 23h1M0 24h3M0 25h5M115 25h1M1 26h2M0 27h4M51 27h1M115 27h1M0 28h5M44 28h1M51 28h1M115 28h1M0 29h3M4 29h1M46 29h1M115 29h1M0 30h4M49 30h1M115 30h1M1 31h3M115 31h1M0 32h2M4 32h1M115 32h1M0 33h2M3 33h2M0 34h2M115 34h1M0 35h4M2 36h1M115 36h1M0 37h4M114 37h2M1 38h4M115 38h1M2 39h4M115 39h1M2 40h1M4 40h3M115 40h1M3 41h4M115 41h1M4 42h3M115 42h1M5 43h4M115 43h1M6 44h4M115 44h1M7 45h5M115 45h1M8 46h5M11 47h5M114 47h2M14 48h2M14 49h3M115 49h1M18 50h1M115 50h1M18 51h2M20 52h2M115 52h1M21 53h2M22 54h2M115 54h1M21 55h4M115 55h1M22 56h4M115 56h1M23 57h3M115 57h1M25 58h1M115 58h1M25 59h2M115 59h1M25 60h2M28 60h1M25 61h3M27 62h1M115 62h1M28 63h2M115 63h1M28 64h1M115 64h1M115 65h1M28 66h2M114 66h2"/>
<path stroke="#4292c2" d="M32 1h1M111 4h1M11 5h2M14 5h1M16 5h1M18 5h1M35 5h1M111 5h1M10 6h1M13 6h1M18 6h1M20 6h1M111 6h2M9 7h1M11 7h3M15 7h7M111 7h2M9 8h14M96 8h1M111 8h2M12 9h6M23 9h1M8 10h2M11 10h7M39 10h1M106 10h1M111 10h1M8 11h1M10 11h7M19 11h1M26 11h1M105 11h2M2 12h2M7 12h5M13 12h1M16 12h1M97 12h1M106 12h1M117 12h1M7 13h1M9 13h5M15 13h1M117 13h1M6 14h1M9 14h1M12 14h1M29 14h1M113 14h1M7 15h6M99 15h1M104 15h1M113 15h1M116 15h1M7 16h3M44 16h1M103 16h1M116 16h1M6 17h4M12 17h1M101 17h1M103 17h1M116 17h1M5 18h4M10 18h2M6 19h5M116 19h1M4 20h5M47 20h1M116 20h1M5 21h4M102 21h1M6 22h4M5 23h3M116 23h1M3 24h6M39 24h1M116 24h1M5 25h2M8 25h1M40 25h1M3 26h3M7 26h1M41 26h1M51 26h1M116 26h1M4 27h3M116 27h1M5 28h1M9 28h1M52 28h1M3 29h1M5 29h2M50 29h3M116 29h1M4 30h2M48 30h1M4 31h3M2 32h2M5 32h2M116 32h1M2 33h1M5 33h2M116 33h1M2 34h4M4 35h2M115 35h1M3 36h3M7 36h1M4 37h3M5 38h4M6 39h3M7 40h1M7 41h3M11 41h1M7 42h4M116 42h1M9 43h2M12 43h1M116 43h1M10 44h3M12 45h2M116 45h1M13 46h4M115 46h1M16 47h2M16 48h4M115 48h1M17 49h5M19 50h3M20 51h4M115 51h2M22 52h3M116 52h1M23 53h3M115 53h1M24 54h1M26 54h1M116 54h1M25 55h2M116 55h1M26 56h1M26 57h3M26 58h3M116 58h1M27 59h1M29 59h1M27 60h1M115 60h1M28 61h3M28 62h3M29 64h2M29 65h1M31 65h1M30 66h2"/>
<path stroke="#4c99c6" d="M31 0h1M108 5h1M18 9h5M96 9h1M111 9h2M18 10h7M108 10h1M112 10h1M17 11h2M20 11h2M24 11h2M40 11h1M111 11h2M14 12h2M17 12h4M26 12h1M105 12h1M111 12h2M14 13h1M17 13h2M23 13h1M105 13h2M111 13h1M10 14h2M13 14h5M98 14h1M106 14h1M111 14h1M117 14h1M13 15h3M17 15h1M29 15h1M111 15h1M117 15h1M10 16h6M18 16h1M30 16h1M100 16h1M104 16h1M106 16h1M111 16h1M113 16h1M10 17h2M14 17h1M16 17h1M45 17h1M106 17h1M111 17h1M113 17h1M9 18h1M12 18h3M46 18h1M101 18h1M113 18h1M116 18h1M11 19h1M13 19h2M113 19h1M9 20h3M13 20h1M113 20h1M9 21h4M48 21h1M113 21h1M116 21h1M10 22h4M102 22h1M111 22h1M113 22h1M116 22h1M8 23h4M13 23h1M113 23h1M9 24h4M50 24h1M108 24h1M111 24h1M7 25h1M9 25h2M108 25h1M113 25h1M116 25h1M6 26h1M8 26h3M13 26h1M108 26h1M113 26h1M7 27h2M42 27h1M52 27h1M108 27h1M113 27h1M6 28h3M10 28h1M43 28h1M116 28h1M7 29h3M45 29h1M113 29h1M6 30h5M47 30h1M50 30h3M113 30h1M116 30h1M7 31h4M113 31h1M116 31h1M7 32h3M113 32h1M7 33h2M6 34h4M113 34h1M116 34h1M6 35h4M113 35h1M116 35h1M6 36h1M8 36h1M10 36h1M116 36h1M7 37h5M113 37h1M116 37h1M9 38h3M116 38h1M9 39h5M113 39h1M116 39h1M8 40h7M116 40h1M10 41h1M12 41h3M116 41h1M11 42h3M15 42h1M113 42h1M11 43h1M13 43h4M113 43h1M13 44h5M116 44h1M14 45h4M17 46h4M116 46h1M18 47h3M116 47h1M20 48h2M116 48h1M22 49h1M24 49h1M113 49h1M116 49h1M22 50h3M116 50h1M24 51h3M25 52h2M26 53h2M116 53h1M25 54h1M27 54h2M27 55h2M113 55h1M27 56h3M116 56h1M29 57h1M116 57h1M29 58h2M28 59h1M30 59h1M116 59h1M29 60h2M116 60h1M31 61h1M116 61h1M31 62h2M116 62h1M30 63h3M113 63h1M116 63h1M31 64h1M116 64h1M30 65h1M32 65h2M116 65h1M32 66h1M116 66h1"/>
<path stroke="#57a0ca" d="M32 0h1M108 0h1M110 0h1M108 1h1M110 1h1M33 2h1M108 2h1M34 3h1M108 3h1M110 3h1M35 4h1M108 4h1M36 6h1M108 6h1M37 7h1M108 7h1M38 8h1M108 8h1M108 9h1M96 10h1M22 11h2M108 11h1M21 12h5M41 12h1M108 12h1M16 13h1M19 13h4M25 13h3M42 13h1M97 13h1M108 13h1M110 13h1M112 13h1M18 14h6M27 14h2M43 14h1M97 14h1M105 14h1M108 14h1M112 14h1M16 15h1M18 15h7M28 15h1M98 15h1M106 15h1M108 15h1M16 16h2M19 16h3M99 16h1M108 16h1M117 16h1M13 17h1M15 17h1M17 17h3M21 17h1M31 17h1M100 17h1M104 17h1M108 17h1M15 18h5M32 18h1M100 18h1M103 18h2M106 18h1M108 18h1M111 18h1M117 18h1M12 19h1M15 19h4M33 19h1M47 19h1M101 19h1M103 19h1M108 19h1M111 19h1M117 19h1M12 20h1M14 20h5M21 20h1M34 20h1M101 20h1M106 20h1M108 20h1M111 20h1M13 21h3M35 21h1M108 21h1M110 21h2M117 21h1M14 22h1M36 22h1M49 22h1M106 22h1M108 22h1M117 22h1M12 23h1M14 23h1M37 23h1M102 23h1M106 23h1M108 23h1M110 23h2M13 24h2M16 24h1M18 24h1M102 24h1M106 24h1M110 24h1M113 24h1M117 24h1M11 25h5M39 25h1M106 25h1M111 25h1M117 25h1M11 26h2M14 26h1M106 26h1M110 26h2M117 26h1M9 27h4M14 27h1M106 27h1M111 27h1M11 28h2M14 28h1M108 28h1M111 28h1M113 28h1M117 28h1M10 29h4M44 29h1M108 29h1M111 29h1M11 30h2M46 30h1M53 30h1M108 30h1M111 30h1M11 31h3M48 31h5M111 31h1M10 32h4M111 32h1M9 33h3M111 33h1M113 33h1M10 34h4M111 34h1M10 35h2M14 35h1M111 35h1M9 36h1M11 36h2M113 36h1M117 36h1M12 37h1M14 37h1M111 37h1M12 38h2M113 38h1M117 38h1M14 39h3M111 39h1M15 40h3M113 40h1M15 41h4M20 41h1M113 41h1M14 42h1M16 42h2M111 42h1M17 43h3M18 44h4M111 44h1M113 44h1M18 45h4M113 45h1M21 46h2M113 46h1M117 46h1M21 47h5M113 47h1M117 47h1M22 48h4M113 48h1M23 49h1M25 49h1M27 49h1M111 49h1M25 50h2M28 50h1M111 50h1M113 50h1M117 50h1M27 51h3M113 51h1M27 52h3M113 52h1M28 53h4M113 53h1M29 54h3M117 54h1M29 55h2M111 55h1M30 56h2M113 56h1M30 57h2M113 57h1M117 57h1M31 58h2M113 58h1M31 59h3M113 59h1M117 59h1M31 60h3M111 60h1M113 60h1M32 61h1M34 61h1M113 61h1M33 62h1M113 62h1M33 63h1M117 63h1M32 64h2M113 64h1M34 65h1M111 65h1M113 65h1M117 65h1M33 66h2M111 66h1M113 66h1"/>
<path stroke="#62a7ce" d="M33 1h1M110 2h1M110 4h1M36 5h1M110 5h1M110 6h1M110 7h1M110 8h1M39 9h1M110 9h1M110 10h1M110 11h1M110 12h1M24 13h1M24 14h3M110 14h1M25 15h3M44 15h1M105 15h1M110 15h1M112 15h1M22 16h5M28 16h2M98 16h1M105 16h1M110 16h1M112 16h1M20 17h1M22 17h5M30 17h1M99 17h1M110 17h1M112 17h1M117 17h1M20 18h5M26 18h1M31 18h1M110 18h1M112 18h1M19 19h7M104 19h1M106 19h1M110 19h1M112 19h1M19 20h2M22 20h1M26 20h1M33 20h1M103 20h2M110 20h1M117 20h1M16 21h5M22 21h1M103 21h1M106 21h1M112 21h1M15 22h6M22 22h1M110 22h1M112 22h1M15 23h6M112 23h1M117 23h1M15 24h1M17 24h1M19 24h2M38 24h1M112 24h1M16 25h4M51 25h1M110 25h1M112 25h1M15 26h4M20 26h1M40 26h1M52 26h1M112 26h1M13 27h1M15 27h2M18 27h2M41 27h1M110 27h1M112 27h1M117 27h1M13 28h1M15 28h4M42 28h1M106 28h1M110 28h1M112 28h1M14 29h2M17 29h1M53 29h1M110 29h1M117 29h1M13 30h6M45 30h1M106 30h1M110 30h1M117 30h1M14 31h3M47 31h1M53 31h1M108 31h1M112 31h1M117 31h1M14 32h4M52 32h1M108 32h1M112 32h1M117 32h1M12 33h3M108 33h1M117 33h1M14 34h4M108 34h1M117 34h1M12 35h2M15 35h2M117 35h1M13 36h4M18 36h1M108 36h1M111 36h1M13 37h1M15 37h3M108 37h1M117 37h1M14 38h5M111 38h1M17 39h2M108 39h1M117 39h1M18 40h1M20 40h2M108 40h1M111 40h1M117 40h1M19 41h1M22 41h1M108 41h1M111 41h1M117 41h1M18 42h2M21 42h1M108 42h1M117 42h1M20 43h2M108 43h1M111 43h1M117 43h1M22 44h2M108 44h1M117 44h1M22 45h2M108 45h1M111 45h1M117 45h1M23 46h4M108 46h1M111 46h1M27 47h1M108 47h1M111 47h2M26 48h2M108 48h1M111 48h1M117 48h1M26 49h1M28 49h3M117 49h1M27 50h1M29 50h2M108 50h1M30 51h2M108 51h1M111 51h1M117 51h1M30 52h2M111 52h1M117 52h1M32 53h1M108 53h1M111 53h1M117 53h1M32 54h1M108 54h1M111 54h1M113 54h1M31 55h3M117 55h1M32 56h2M108 56h1M111 56h1M117 56h1M32 57h2M108 57h1M111 57h1M33 58h1M111 58h1M117 58h1M34 59h1M111 59h1M34 60h2M112 60h1M117 60h1M33 61h1M35 61h1M111 61h1M117 61h1M34 62h2M108 62h1M111 62h1M117 62h1M34 63h4M111 63h1M34 64h1M111 64h1M117 64h1M35 65h2M108 65h1M112 65h1M35 66h2M108 66h1M117 66h1"/>
<path stroke="#6daed1" d="M33 0h2M34 2h1M35 3h1M36 4h1M37 6h1M38 7h1M40 10h1M41 11h1M96 11h1M109 13h1M109 14h1M97 15h1M109 15h1M27 16h1M45 16h1M109 16h1M27 17h3M46 17h1M105 17h1M109 17h1M25 18h1M27 18h4M105 18h1M109 18h1M26 19h7M100 19h1M105 19h1M109 19h1M23 20h3M27 20h1M30 20h1M48 20h1M105 20h1M109 20h1M112 20h1M21 21h1M23 21h6M30 21h2M34 21h1M101 21h1M104 21h2M109 21h1M21 22h1M23 22h4M28 22h2M35 22h1M101 22h1M103 22h2M109 22h1M21 23h6M36 23h1M50 23h1M104 23h1M109 23h1M21 24h3M25 24h2M28 24h1M37 24h1M109 24h1M20 25h5M28 25h1M38 25h1M102 25h1M109 25h1M19 26h1M21 26h3M25 26h3M102 26h1M109 26h1M17 27h1M20 27h7M40 27h1M109 27h1M19 28h6M109 28h1M16 29h1M18 29h4M23 29h1M25 29h1M106 29h1M109 29h1M112 29h1M19 30h3M112 30h1M17 31h3M21 31h2M46 31h1M106 31h1M110 31h1M18 32h4M48 32h2M53 32h1M106 32h1M110 32h1M15 33h5M110 33h1M112 33h1M18 34h1M20 34h2M112 34h1M17 35h4M22 35h2M108 35h1M110 35h1M112 35h1M17 36h1M19 36h3M110 36h1M112 36h1M18 37h3M24 37h1M112 37h1M19 38h4M108 38h1M110 38h1M112 38h1M19 39h4M26 39h1M110 39h1M112 39h1M19 40h1M22 40h3M110 40h1M112 40h1M21 41h1M110 41h1M112 41h1M20 42h1M22 42h4M110 42h1M112 42h1M22 43h4M110 43h1M112 43h1M24 44h3M110 44h1M112 44h1M24 45h3M110 45h1M112 45h1M27 46h3M110 46h1M112 46h1M26 47h1M28 47h3M110 47h1M28 48h5M110 48h1M112 48h1M31 49h1M108 49h1M110 49h1M112 49h1M31 50h2M110 50h1M112 50h1M32 51h2M112 51h1M32 52h3M108 52h1M110 52h1M112 52h1M33 53h3M110 53h1M112 53h1M33 54h2M112 54h1M34 55h1M108 55h1M110 55h1M112 55h1M34 56h2M110 56h1M112 56h1M34 57h2M110 57h1M112 57h1M34 58h3M108 58h1M110 58h1M112 58h1M35 59h2M108 59h1M110 59h1M36 60h1M108 60h1M110 60h1M36 61h2M108 61h1M110 61h1M36 62h1M110 62h1M112 62h1M108 63h1M110 63h1M112 63h1M35 64h4M108 64h1M110 64h1M112 64h1M37 65h1M110 65h1M37 66h1M110 66h1M112 66h1"/>
<path stroke="#78b5d5" d="M35 0h1M95 0h1M109 0h1M34 1h1M95 1h1M109 1h1M35 2h1M95 2h1M107 2h1M109 2h1M36 3h1M95 3h1M109 3h1M109 4h1M109 5h1M107 6h1M109 6h1M109 7h1M39 8h1M109 8h1M109 9h1M109 11h1M42 12h1M96 12h1M109 12h1M43 13h1M96 13h1M97 16h1M98 17h1M47 18h1M99 18h1M28 20h2M31 20h2M100 20h1M29 21h1M32 21h2M49 21h1M27 22h1M30 22h5M105 22h1M27 23h9M103 23h1M105 23h1M24 24h1M27 24h1M29 24h5M36 24h1M51 24h1M104 24h2M25 25h3M29 25h5M104 25h1M24 26h1M28 26h2M31 26h2M39 26h1M27 27h2M30 27h1M33 27h1M102 27h1M25 28h5M31 28h1M53 28h1M102 28h1M22 29h1M24 29h1M26 29h4M43 29h1M22 30h6M44 30h1M54 30h1M109 30h1M20 31h1M23 31h3M27 31h1M45 31h1M54 31h1M109 31h1M22 32h6M47 32h1M50 32h2M109 32h1M20 33h5M26 33h1M29 33h1M52 33h1M106 33h1M19 34h1M22 34h5M106 34h1M109 34h2M21 35h1M24 35h2M106 35h1M109 35h1M22 36h4M106 36h1M21 37h3M26 37h1M106 37h1M110 37h1M23 38h3M27 38h1M106 38h1M109 38h1M23 39h3M27 39h2M106 39h1M109 39h1M26 40h3M106 40h1M109 40h1M23 41h4M106 41h1M26 42h3M106 42h1M109 42h1M26 43h3M27 44h3M106 44h1M27 45h4M106 45h1M109 45h1M30 46h2M106 46h1M31 47h2M106 47h1M109 47h1M33 48h1M106 48h1M32 49h3M33 50h2M106 50h1M34 51h2M106 51h1M110 51h1M35 52h2M106 52h1M106 53h1M35 54h2M106 54h1M109 54h2M35 55h3M106 55h1M36 56h2M106 56h1M109 56h1M36 57h1M38 57h1M106 57h1M37 58h2M106 58h1M37 59h2M109 59h1M112 59h1M37 60h2M109 61h1M112 61h1M37 62h3M106 62h1M38 63h2M106 63h1M106 64h1M109 64h1M38 65h2M106 65h1M38 66h2M106 66h1M109 66h1"/>
<path stroke="#84bcd9" d="M36 0h1M107 0h1M35 1h1M37 1h1M107 1h1M36 2h1M37 3h1M107 3h1M37 4h1M95 4h1M107 4h1M37 5h2M95 5h1M107 5h1M38 6h1M95 6h1M39 7h1M107 7h1M107 8h1M40 9h1M41 10h1M107 10h1M109 10h1M42 11h1M107 11h1M44 14h1M96 14h1M45 15h1M96 15h1M46 16h1M97 17h1M98 18h1M48 19h1M99 19h1M99 20h1M100 21h1M101 23h1M34 24h2M101 24h1M103 24h1M34 25h4M52 25h1M103 25h1M105 25h1M30 26h1M33 26h6M103 26h3M29 27h1M31 27h2M34 27h2M38 27h2M53 27h1M104 27h2M30 28h1M32 28h3M36 28h1M41 28h1M30 29h3M42 29h1M54 29h1M102 29h1M28 30h7M43 30h1M26 31h1M28 31h4M34 31h1M44 31h1M28 32h6M54 32h1M25 33h1M27 33h2M30 33h2M48 33h2M51 33h1M53 33h1M109 33h1M27 34h5M52 34h1M26 35h6M26 36h5M109 36h1M25 37h1M27 37h4M109 37h1M26 38h1M28 38h5M29 39h3M25 40h1M29 40h2M27 41h4M32 41h1M109 41h1M29 42h3M29 43h2M32 43h1M34 43h1M106 43h1M109 43h1M30 44h3M109 44h1M31 45h3M32 46h3M109 46h1M33 47h3M34 48h2M109 48h1M35 49h2M106 49h1M109 49h1M35 50h3M109 50h1M36 51h2M109 51h1M37 52h1M39 52h1M109 52h1M36 53h3M109 53h1M37 54h3M38 55h3M109 55h1M38 56h2M37 57h1M39 57h1M109 57h1M39 58h2M109 58h1M39 59h2M106 59h1M39 60h2M106 60h1M109 60h1M38 61h3M106 61h1M40 62h1M109 62h1M40 63h2M109 63h1M39 64h2M40 65h1M109 65h1M40 66h2"/>
<path stroke="#8fc3dd" d="M37 0h1M36 1h1M37 2h2M38 4h1M39 5h1M39 6h2M40 7h1M95 7h1M40 8h1M95 8h1M41 9h1M107 9h1M43 12h1M107 12h1M107 13h1M107 14h1M107 15h1M96 16h1M107 16h1M47 17h1M97 18h1M107 18h1M97 19h2M107 19h1M107 20h1M99 21h1M107 21h1M50 22h1M100 22h1M107 22h1M107 23h1M107 24h1M101 25h1M107 25h1M107 26h1M36 27h2M103 27h1M107 27h1M35 28h1M37 28h4M104 28h2M107 28h1M33 29h9M104 29h2M35 30h2M38 30h1M102 30h1M104 30h2M32 31h2M35 31h3M102 31h1M104 31h1M34 32h3M46 32h1M102 32h1M32 33h5M47 33h1M50 33h1M54 33h1M32 34h4M50 34h2M53 34h1M32 35h4M52 35h1M31 36h4M31 37h6M33 38h2M36 38h1M32 39h3M36 39h1M31 40h5M37 40h1M31 41h1M33 41h2M32 42h3M31 43h1M33 43h1M35 43h1M33 44h5M34 45h3M35 46h2M36 47h2M36 48h3M37 49h2M38 50h2M38 51h3M38 52h1M40 52h1M39 53h2M40 54h2M42 55h1M40 56h2M40 57h2M41 58h1M41 59h2M41 60h1M41 61h1M41 62h2M42 63h1M41 64h3M41 65h3M42 66h1"/>
<path stroke="#98c8e0" d="M38 0h1M38 1h1M39 2h2M38 3h2M39 4h2M40 5h1M41 7h1M41 8h2M42 9h1M95 9h1M42 10h1M95 10h1M43 11h1M44 12h1M44 13h1M45 14h1M46 15h1M47 16h1M107 17h1M48 18h1M49 20h1M98 20h1M99 22h1M51 23h1M100 23h1M53 26h1M101 26h1M54 28h1M103 28h1M103 29h1M107 29h1M37 30h1M39 30h4M107 30h1M38 31h6M105 31h1M107 31h1M37 32h5M45 32h1M104 32h2M37 33h1M39 33h1M46 33h1M102 33h1M104 33h2M36 34h4M48 34h2M102 34h1M104 34h2M36 35h4M41 35h1M53 35h1M104 35h2M35 36h6M104 36h2M37 37h1M39 37h1M35 38h1M37 38h2M105 38h1M35 39h1M39 39h1M104 39h1M36 40h1M35 41h5M35 42h4M36 43h3M102 43h1M105 43h1M38 44h1M37 45h3M37 46h3M104 46h1M38 47h4M39 48h2M42 48h1M105 48h1M39 49h4M105 49h1M40 50h3M105 50h1M41 51h2M102 51h1M104 51h2M41 52h2M41 53h2M42 54h1M41 55h1M42 56h2M105 56h1M42 57h1M42 58h1M102 58h1M43 59h2M42 60h2M104 60h1M42 61h2M43 62h1M105 62h1M43 63h1M102 63h1M43 66h1"/>
<path stroke="#a1cde2" d="M39 0h1M94 0h1M39 1h1M94 1h1M94 2h1M40 3h1M94 3h1M41 4h1M94 4h1M41 5h2M94 5h1M41 6h2M42 7h1M43 9h1M43 10h1M44 11h1M95 11h1M45 13h1M46 14h1M47 15h1M48 17h1M96 17h1M96 18h1M49 19h1M97 20h1M98 21h1M52 24h1M100 24h1M101 27h1M101 28h1M103 30h1M103 31h1M42 32h3M103 32h1M107 32h1M38 33h1M40 33h6M107 33h1M40 34h8M54 34h1M107 34h1M40 35h1M42 35h1M44 35h1M47 35h3M51 35h1M54 35h1M102 35h1M42 36h2M52 36h2M102 36h1M107 36h1M38 37h1M40 37h2M43 37h1M102 37h1M104 37h2M107 37h1M39 38h4M102 38h1M104 38h1M107 38h1M37 39h2M40 39h2M102 39h1M105 39h1M38 40h2M41 40h2M102 40h1M104 40h2M107 40h1M40 41h2M102 41h1M104 41h2M107 41h1M39 42h4M102 42h1M104 42h2M107 42h1M39 43h2M42 43h1M104 43h1M107 43h1M39 44h4M102 44h1M104 44h2M107 44h1M40 45h3M102 45h1M104 45h2M40 46h2M102 46h1M105 46h1M42 47h1M102 47h1M104 47h2M107 47h1M41 48h1M44 48h1M102 48h1M104 48h1M107 48h1M43 49h1M102 49h1M104 49h1M43 50h1M102 50h1M104 50h1M107 50h1M43 51h1M107 51h1M43 52h1M102 52h1M104 52h2M43 53h2M102 53h1M104 53h2M107 53h1M43 54h1M102 54h1M104 54h2M107 54h1M43 55h2M102 55h1M104 55h2M107 55h1M102 56h1M104 56h1M107 56h1M43 57h2M102 57h1M104 57h2M107 57h1M43 58h2M104 58h2M107 58h1M45 59h1M102 59h1M104 59h2M44 60h1M102 60h1M105 60h1M107 60h1M44 61h1M102 61h1M104 61h2M107 61h1M44 62h1M102 62h1M104 62h1M107 62h1M44 63h2M104 63h2M107 63h1M44 64h3M102 64h1M104 64h2M107 64h1M44 65h3M102 65h1M104 65h2M107 65h1M44 66h2M102 66h1M104 66h2"/>
<path stroke="#aad1e5" d="M40 0h2M40 1h2M41 2h2M41 3h2M42 4h1M43 5h1M43 6h1M94 6h1M43 7h1M94 7h1M43 8h1M94 8h1M44 9h1M44 10h1M94 10h1M45 11h1M45 12h2M95 12h1M46 13h2M95 13h1M47 14h1M48 16h1M49 18h1M96 19h1M50 21h1M97 21h1M51 22h1M99 23h1M99 24h1M100 25h1M100 26h1M54 27h1M101 29h1M101 30h1M55 31h1M55 32h1M103 33h1M103 34h1M43 35h1M45 35h2M50 35h1M103 35h1M107 35h1M41 36h1M44 36h4M49 36h1M51 36h1M42 37h1M45 37h2M48 37h1M52 37h2M43 38h4M42 39h4M107 39h1M40 40h1M43 40h3M42 41h3M43 42h3M41 43h1M43 43h1M45 43h1M103 43h1M43 44h3M43 45h2M107 45h1M42 46h4M103 46h1M107 46h1M43 47h3M43 48h1M45 48h1M44 49h3M107 49h1M44 50h2M103 50h1M44 51h2M44 52h2M107 52h1M45 53h2M103 53h1M44 54h2M103 54h1M45 55h1M44 56h2M103 56h1M45 57h2M103 57h1M45 58h2M103 58h1M107 59h1M45 60h2M103 60h1M45 61h2M103 61h1M45 62h2M46 63h1M103 63h1M103 65h1M46 66h2M103 66h1M107 66h1"/>
<path stroke="#b3d6e7" d="M42 0h1M42 1h1M43 2h1M43 3h1M43 4h2M44 6h1M44 7h1M44 8h2M45 9h1M94 9h1M45 10h2M46 11h2M94 11h1M47 12h1M94 12h1M48 13h1M48 14h1M95 14h1M48 15h1M95 15h1M49 16h1M49 17h1M50 20h1M96 20h1M97 22h2M52 23h1M98 23h1M53 25h1M99 25h1M100 27h1M55 30h1M56 31h1M101 31h1M56 32h1M55 33h2M48 36h1M50 36h1M54 36h1M103 36h1M44 37h1M47 37h1M49 37h1M51 37h1M54 37h1M103 37h1M47 38h3M52 38h1M103 38h1M46 39h3M52 39h1M103 39h1M46 40h2M49 40h1M52 40h1M103 40h1M45 41h5M52 41h1M103 41h1M46 42h3M103 42h1M44 43h1M46 43h2M46 44h2M103 44h1M45 45h2M103 45h1M46 46h2M46 47h2M103 47h1M46 48h2M103 48h1M48 49h1M103 49h1M46 50h1M48 50h1M46 51h2M103 51h1M46 52h2M103 52h1M47 53h1M46 54h2M46 55h3M103 55h1M46 56h2M47 57h2M47 58h2M46 59h2M103 59h1M47 60h2M47 61h2M47 62h2M103 62h1M47 63h2M47 64h2M103 64h1M47 65h2M48 66h1"/>
<path stroke="#bcdaea" d="M43 0h2M43 1h2M44 2h1M44 3h2M44 5h2M45 6h1M45 7h2M46 8h1M46 9h1M47 10h1M48 11h1M48 12h1M94 13h1M49 14h1M94 14h1M49 15h1M95 16h1M50 19h1M51 21h1M52 22h1M97 23h1M53 24h1M98 24h1M54 26h1M99 26h1M99 27h1M100 28h1M55 29h1M100 29h1M101 32h1M55 34h2M56 35h1M50 37h1M51 38h1M53 38h1M49 39h3M53 39h1M48 40h1M51 40h1M53 40h1M49 42h1M52 42h2M48 43h2M52 43h1M48 44h2M52 44h1M47 45h3M52 45h1M48 46h2M52 46h1M48 47h2M52 47h1M48 48h2M52 48h1M47 49h1M49 49h1M47 50h1M52 50h1M48 51h1M48 52h2M48 53h2M48 54h2M49 55h1M48 56h2M49 57h1M49 58h1M48 59h2M49 60h1M49 62h1M49 63h1M49 64h1M49 65h1M49 66h1"/>
<path stroke="#c5dfec" d="M45 0h1M45 1h1M45 2h1M45 4h2M46 5h1M46 6h1M47 7h1M47 8h1M47 9h1M48 10h1M49 12h1M49 13h1M94 15h1M94 16h1M94 17h2M50 18h1M52 18h1M51 19h1M51 20h2M52 21h1M96 21h1M53 22h1M96 22h1M97 24h1M98 25h1M99 28h1M56 30h1M100 30h1M101 33h1M101 34h1M55 35h1M101 35h1M101 36h1M101 37h1M50 38h1M101 38h1M54 39h1M50 40h1M101 40h1M50 41h2M53 41h1M101 41h1M50 42h2M101 42h1M50 43h2M53 43h1M101 43h1M50 44h2M53 44h1M101 44h1M50 45h2M53 45h1M101 45h1M50 46h2M50 47h2M101 47h1M50 48h2M53 48h1M101 48h1M50 49h1M52 49h1M101 49h1M49 50h3M101 50h1M49 51h2M52 51h1M50 52h3M101 52h1M52 53h1M101 53h1M52 54h1M101 54h1M51 55h2M101 55h1M52 56h1M101 56h1M50 58h1M52 58h1M52 59h1M101 59h1M50 60h3M101 60h1M49 61h1M51 61h2M101 61h1M50 62h1M52 62h1M101 62h1M50 63h3M50 64h1M52 64h1M101 64h1M52 65h1M101 65h1M50 66h3M101 66h1"/>
<path stroke="#cde3ef" d="M46 0h1M93 0h1M46 1h2M93 1h1M46 2h2M93 2h1M46 3h3M93 3h1M47 4h1M93 4h1M47 5h2M93 5h1M47 6h1M93 6h1M93 7h1M48 8h1M93 8h1M48 9h1M93 9h1M49 10h1M49 11h1M93 11h1M50 13h1M50 14h2M50 16h3M50 17h3M51 18h1M94 18h2M52 19h1M95 19h1M53 23h1M96 23h1M54 25h1M97 25h1M97 26h2M55 28h1M56 29h1M99 29h1M100 31h1M55 36h2M54 38h1M101 39h1M54 40h1M54 41h1M54 42h1M54 43h1M54 44h1M53 46h2M101 46h1M53 47h2M54 48h1M51 49h1M53 49h1M53 50h1M51 51h1M53 51h1M101 51h1M53 52h1M50 53h2M53 53h1M50 54h2M53 54h1M50 55h1M53 55h1M50 56h2M53 56h1M50 57h4M101 57h1M51 58h1M53 58h1M101 58h1M50 59h2M53 59h1M50 61h1M53 61h1M51 62h1M53 62h1M53 63h1M101 63h1M51 64h1M53 64h1M50 65h2M53 65h1M53 66h1"/>
<path stroke="#d4e7f1" d="M47 0h2M48 1h1M48 2h1M48 4h1M49 5h1M48 6h1M48 7h2M49 8h1M49 9h1M93 10h1M50 11h1M52 12h1M93 12h1M51 13h2M93 13h1M52 14h1M93 14h1M50 15h3M53 17h1M53 18h1M53 19h1M53 20h1M53 21h1M54 24h1M96 24h1M97 27h2M98 28h1M99 30h1M99 31h1M100 32h1M100 33h1M100 34h1M56 37h1M100 40h1M100 42h1M54 45h1M54 49h1M54 50h1M54 51h1M54 52h1M100 52h1M54 53h1M54 54h1M54 55h1M54 56h1M54 58h1M54 59h1M53 60h2M54 61h1M54 62h1M54 63h1M54 64h1M54 65h1M54 66h1"/>
<path stroke="#dae9f2" d="M49 0h1M49 1h1M49 2h1M49 3h1M49 4h1M49 6h1M50 9h1M50 10h3M51 11h2M50 12h2M53 14h1M53 15h1M93 15h1M53 16h1M93 16h1M94 19h1M94 20h2M54 21h1M95 21h1M54 22h1M54 23h1M96 25h1M55 27h1M56 28h1M97 28h1M98 29h1M98 30h1M99 32h1M99 33h1M100 35h1M100 36h1M55 37h1M100 37h1M56 38h1M100 38h1M100 39h1M100 41h1M56 42h1M100 43h1M56 44h1M100 44h1M56 45h1M100 45h1M56 46h1M100 46h1M100 47h1M100 48h1M100 49h1M100 50h1M100 51h1M100 53h1M100 54h1M100 55h1M100 56h1M54 57h1M100 57h1M100 58h1M100 59h1M100 60h1M100 61h1M100 62h1M100 63h1M100 64h1M100 65h1M100 66h1"/>
<path stroke="#dfecf3" d="M52 0h1M50 1h3M50 2h1M50 3h1M52 3h1M51 4h2M50 5h1M52 5h1M50 6h1M50 7h1M50 8h3M51 9h2M53 11h1M53 12h1M53 13h1M54 14h1M54 15h1M54 16h1M54 17h1M93 17h1M54 18h1M93 18h1M54 19h1M54 20h1M94 21h1M95 22h1M96 26h1M56 27h1M97 29h1M97 30h1M98 31h1M57 32h2M57 33h2M57 34h2M99 34h1M57 35h3M99 36h1M99 37h1M55 38h1M99 38h1M55 39h2M55 40h2M99 40h1M55 41h2M99 41h1M55 42h1M55 43h2M99 43h1M55 44h1M99 44h1M55 45h1M56 47h1M99 47h1M56 48h1M99 48h1M55 49h2M99 49h1M56 50h1M99 50h1M56 51h1M99 51h1M56 52h1M99 52h1M99 53h1M56 55h1M99 55h1M56 56h1M99 56h1M56 58h1M99 58h1M56 59h1M99 59h1M56 60h1M99 60h1M56 61h1M99 61h1M56 62h1M99 62h1M56 63h1M99 63h1M56 64h1M99 64h1M56 65h1M99 65h1M56 66h1M99 66h1"/>
<path stroke="#e4eef4" d="M50 0h2M53 1h1M51 2h3M51 3h1M92 3h1M50 4h1M51 5h1M51 6h3M51 7h3M53 9h1M53 10h2M54 11h1M54 12h1M54 13h1M94 22h1M95 23h1M55 25h2M55 26h2M96 27h1M96 28h1M57 31h2M97 31h1M97 32h2M98 33h1M59 34h1M99 35h1M58 36h1M58 37h1M99 39h1M99 42h1M99 45h1M55 46h1M99 46h1M55 47h1M55 48h1M55 50h1M55 51h1M55 52h1M98 52h1M55 53h2M55 54h2M99 54h1M55 55h1M55 56h1M55 57h2M99 57h1M55 58h1M55 59h1M55 60h1M55 61h1M55 62h1M55 63h1M55 64h1M55 65h1M55 66h1"/>
<path stroke="#eaf1f5" d="M53 0h2M92 0h1M92 1h1M92 2h1M53 3h1M53 4h2M92 4h1M53 5h2M92 5h1M54 6h1M92 6h1M54 7h1M92 7h1M53 8h2M92 8h1M54 9h1M92 9h1M92 12h1M92 14h1M92 15h1M55 19h1M93 19h1M55 20h1M93 20h1M55 21h2M56 22h1M55 23h2M94 23h1M55 24h2M95 24h1M96 29h1M57 30h1M96 30h1M59 32h1M59 33h1M97 33h1M60 34h1M98 34h1M60 35h1M98 35h1M57 36h1M59 36h2M98 36h1M59 37h1M98 37h1M98 38h1M58 39h1M98 39h1M98 40h1M98 41h1M98 42h1M98 43h1M58 44h1M98 44h1M98 45h1M98 46h1M58 47h1M98 47h1M58 48h1M98 48h1M98 49h1M58 50h1M98 50h1M98 51h1M98 53h1M98 54h1M58 55h1M98 55h1M58 56h1M98 56h1M98 57h1M58 58h1M98 58h1M98 59h1M98 60h1M98 61h1M59 62h1M98 62h1M98 63h1M98 65h1M58 66h1M98 66h1"/>
<path stroke="#eff3f6" d="M54 1h1M54 2h1M54 3h1M92 10h1M55 11h1M92 11h1M55 12h1M56 13h1M92 13h1M55 14h2M55 15h2M55 16h2M55 17h2M55 18h2M56 19h1M56 20h1M93 21h1M55 22h1M94 24h1M95 25h1M95 26h1M58 28h1M57 29h1M58 30h1M59 31h1M96 31h1M96 32h1M60 33h1M97 34h1M97 35h1M97 36h1M57 37h1M60 37h1M97 37h1M57 38h3M97 38h1M97 39h1M57 40h3M97 40h1M58 41h2M97 41h1M57 42h3M97 42h1M57 43h4M97 43h1M57 44h1M59 44h2M97 44h1M57 45h4M97 45h1M57 46h4M97 46h1M59 47h2M97 47h1M59 48h2M97 48h1M57 49h4M97 49h1M59 50h2M97 50h1M58 51h2M97 51h1M57 52h4M97 52h1M58 53h3M97 53h1M58 54h3M97 54h1M59 55h1M97 55h1M59 56h2M97 56h1M57 57h4M97 57h1M59 58h2M97 58h1M58 59h3M97 59h1M58 60h3M97 60h1M57 61h4M97 61h1M58 62h1M60 62h1M97 62h1M58 63h3M97 63h1M58 64h3M97 64h2M57 65h4M97 65h1M59 66h2M97 66h1"/>
<path stroke="#f4f6f7" d="M55 0h2M55 1h2M55 2h2M55 3h2M55 4h2M55 5h2M55 6h2M55 7h2M55 8h2M55 9h2M55 10h2M56 11h1M56 12h1M55 13h1M92 16h1M92 17h1M92 18h1M58 21h1M58 24h1M58 25h1M94 25h1M58 26h1M94 26h1M58 27h1M95 27h1M57 28h1M59 28h1M95 28h1M58 29h3M59 30h1M60 31h1M60 32h1M96 33h1M60 38h1M57 39h1M59 39h2M60 40h1M57 41h1M60 41h1M60 42h1M57 47h1M57 48h1M57 50h1M57 51h1M60 51h1M61 52h1M57 53h1M57 54h1M57 55h1M60 55h1M62 55h1M57 56h1M57 58h1M57 59h1M63 59h1M96 59h1M57 60h1M57 62h1M57 63h1M57 64h1M61 64h2M62 65h1M57 66h1"/>
<path stroke="#f7f5f4" d="M58 15h1M58 16h1M57 17h3M57 18h3M58 19h2M92 19h1M58 20h1M92 20h1M57 21h1M59 21h1M57 22h2M93 22h1M57 23h3M93 23h1M59 24h2M93 24h1M57 25h1M59 25h1M57 26h1M59 26h1M57 27h1M59 27h2M94 27h1M94 28h1M95 29h1M60 30h1M95 30h1M61 34h1M96 34h1M61 35h1M96 35h1M61 36h2M96 36h1M96 37h1M96 38h1M96 39h1M96 40h1M61 41h2M96 41h1M96 42h1M61 43h2M96 43h1M61 44h2M96 44h1M61 45h2M96 45h1M62 46h1M96 46h1M61 47h2M96 47h1M61 48h1M63 48h1M96 48h1M61 49h2M96 49h1M61 50h3M96 50h1M61 51h3M96 51h1M62 52h2M96 52h1M61 53h3M96 53h1M61 54h3M61 55h1M63 55h1M96 55h1M61 56h3M96 56h1M61 57h3M96 57h1M61 58h2M96 58h1M61 59h2M61 60h3M96 60h1M61 61h3M96 61h1M61 62h3M96 62h1M61 63h3M96 63h1M63 64h1M96 64h1M61 65h1M63 65h1M96 65h1M61 66h3M96 66h1"/>
<path stroke="#f8f1ed" d="M58 0h1M58 1h2M91 1h1M91 2h1M57 3h2M57 4h3M57 5h2M91 5h1M57 6h2M91 6h1M57 7h3M91 7h1M57 8h2M91 8h1M57 9h2M91 9h1M57 10h2M57 11h3M57 12h3M91 12h1M57 13h2M57 14h3M91 14h1M57 15h1M59 15h2M57 16h1M59 16h1M60 17h1M60 18h1M57 19h1M57 20h1M59 20h1M60 21h1M92 21h1M59 22h2M60 23h1M57 24h1M60 25h1M93 25h1M60 26h1M60 28h1M94 29h1M94 30h1M94 31h2M61 33h2M62 34h1M62 35h1M61 37h2M61 38h3M61 39h2M61 40h2M61 42h3M63 43h1M63 44h1M63 45h1M61 46h1M63 46h1M63 47h1M62 48h1M63 49h1M96 54h1M63 58h1"/>
<path stroke="#f9ede6" d="M57 0h1M59 0h2M91 0h1M57 1h1M57 2h3M59 3h2M91 3h1M91 4h1M59 5h2M59 6h2M59 8h2M59 9h1M59 10h2M91 10h1M60 11h1M91 11h1M60 12h1M59 13h2M91 13h1M60 14h1M91 15h1M60 16h1M91 16h1M91 17h1M60 19h1M60 20h1M62 21h1M92 22h1M93 26h1M61 27h2M93 27h1M61 28h1M93 28h1M61 29h1M61 30h2M61 31h2M61 32h2M94 32h2M63 33h1M94 33h2M63 34h1M95 34h1M63 35h1M95 35h1M63 36h1M95 36h1M63 37h1M95 38h1M63 39h1M63 40h1M95 40h1M63 41h1M94 41h2M95 42h1M95 43h1M95 44h1M95 47h1M95 48h1M95 49h1M64 51h1M95 51h1M95 52h1M64 53h1M64 54h1M95 54h1M64 55h1M95 55h1M64 56h1M95 56h1M64 57h1M64 58h1M95 58h1M64 59h1M95 59h1M64 60h1M95 60h1M64 61h1M95 61h1M64 62h1M95 62h1M64 63h1M95 63h1M64 64h1M95 64h1M64 65h1M95 65h1M64 66h1"/>
<path stroke="#fae9df" d="M60 1h1M60 2h1M60 4h1M60 7h1M60 9h1M61 14h1M61 16h2M61 18h2M91 18h1M61 19h2M91 19h1M61 20h1M61 21h1M61 22h2M61 23h2M92 23h1M61 24h2M92 24h1M61 25h2M61 26h2M62 28h1M62 29h1M93 29h1M63 30h1M93 30h1M63 31h1M93 31h1M63 32h1M94 34h1M94 35h1M94 36h1M94 37h2M94 38h1M94 39h2M94 40h1M64 41h1M64 43h1M94 43h1M64 44h1M94 44h1M64 45h1M94 45h2M64 46h1M94 46h2M64 47h2M94 47h1M64 48h2M94 48h1M64 49h1M94 49h1M64 50h2M94 50h2M65 51h1M94 51h1M64 52h2M94 52h1M65 53h1M94 53h2M65 54h1M94 54h1M65 55h1M94 55h1M65 56h1M94 56h1M65 57h1M94 57h2M65 58h1M65 59h1M94 59h1M65 60h1M94 60h1M65 61h1M94 61h1M65 62h1M94 62h1M65 63h1M94 63h1M65 64h1M94 64h1M65 65h1M94 65h1M65 66h1M95 66h1"/>
<path stroke="#fbe5d9" d="M61 0h1M61 1h1M61 2h1M62 3h1M61 7h1M61 8h1M61 9h1M61 10h2M61 11h2M61 12h2M61 13h2M62 14h1M61 15h2M63 16h1M61 17h3M63 18h1M63 19h1M62 20h2M91 20h1M63 21h1M63 22h1M63 23h1M63 24h1M63 25h1M92 25h1M63 26h1M63 27h1M63 28h1M63 29h1M93 32h1M93 33h1M64 36h1M64 37h1M64 38h1M64 39h1M64 40h1M64 42h2M94 42h1M65 43h1M65 44h1M93 44h1M65 45h1M65 46h1M65 49h1M93 50h1M93 52h1M94 58h1M94 66h1"/>
<path stroke="#fce1d2" d="M62 0h1M62 1h1M62 2h1M61 3h1M61 4h2M61 5h2M61 6h2M62 7h1M62 8h1M62 9h2M63 11h1M63 12h1M63 13h1M63 14h1M91 21h1M91 22h1M92 26h1M92 27h1M64 28h1M92 28h1M64 30h1M64 32h1M64 33h1M64 34h1M93 34h1M64 35h1M93 35h1M93 36h1M93 37h1M65 38h1M93 38h1M65 39h1M93 39h1M65 40h1M93 40h1M65 41h1M93 41h1M93 42h1M93 45h1M93 46h1M93 47h1M93 48h1M93 49h1M93 51h1M93 53h1M93 54h1M93 55h1M93 56h1M93 57h1M93 58h1M93 59h1M93 60h1M93 61h1M66 62h1M93 62h1M93 63h1M93 64h1M93 65h1M66 66h1M93 66h1"/>
<path stroke="#fcddcb" d="M63 0h1M63 1h1M63 2h1M63 3h1M63 4h1M63 5h1M63 6h1M63 7h1M63 8h1M63 10h1M63 15h1M64 18h1M64 22h1M64 23h1M91 23h1M91 24h1M64 25h1M64 26h1M64 27h1M64 29h1M92 29h1M92 30h1M64 31h1M92 31h1M65 32h1M65 34h1M65 35h1M65 36h1M65 37h1M93 43h1M66 45h1M66 47h1M66 49h1M66 50h1M66 51h1M66 52h1M66 53h1M66 54h1M66 55h1M66 56h1M66 57h1M66 58h1M66 59h1M66 60h1M66 61h1M66 63h1M66 64h1M66 65h1"/>
<path stroke="#fcd8c3" d="M90 5h1M64 13h1M90 13h1M64 14h1M64 15h1M64 16h1M64 17h1M90 17h1M65 18h1M64 19h1M64 20h1M64 21h1M65 23h1M64 24h2M91 25h1M91 26h1M65 27h1M91 27h1M65 28h1M65 29h1M65 30h1M65 31h1M92 32h1M65 33h1M92 33h1M92 34h1M92 35h1M92 37h1M66 40h1M66 41h1M66 42h1M92 42h1M66 43h1M92 43h1M66 44h1M66 46h1M92 46h1M66 48h1M67 50h1M67 51h1M92 51h1M67 52h1M92 53h1M67 54h1M67 55h1M67 57h1M67 58h1M67 59h1M92 59h1M67 60h1M67 61h1M67 62h1M92 62h1M67 63h1M67 64h2M67 65h1M67 66h2"/>
<path stroke="#fbd0b9" d="M64 0h1M90 0h1M90 1h1M64 2h1M90 2h1M64 3h1M90 3h1M64 4h1M90 4h1M64 5h1M64 6h1M90 6h1M64 7h1M90 7h1M90 8h1M64 9h1M90 9h1M64 10h1M90 10h1M64 11h1M90 11h1M64 12h1M90 12h1M90 14h1M65 15h1M90 15h1M65 16h1M90 16h1M65 17h1M65 19h1M90 19h1M65 20h1M65 21h1M65 22h1M65 25h1M65 26h1M91 28h1M91 29h1M92 36h1M66 38h1M92 38h1M66 39h1M92 39h1M92 40h1M67 41h2M92 41h1M67 42h1M67 43h2M68 44h1M92 44h1M67 45h2M92 45h1M67 46h2M67 47h2M92 47h1M67 48h2M92 48h1M67 49h2M92 49h1M68 50h1M92 50h1M68 51h1M92 52h1M67 53h2M68 54h1M92 54h1M68 55h1M92 55h1M67 56h2M92 56h1M68 57h1M92 57h1M68 58h1M92 58h1M68 59h1M68 60h1M92 60h1M68 61h1M92 61h1M68 62h1M68 63h1M92 63h1M92 64h1M68 65h1M92 65h1M92 66h1"/>
<path stroke="#fac9b0" d="M64 1h1M65 7h1M64 8h2M65 10h1M65 11h1M65 12h1M65 13h1M65 14h1M90 18h1M66 27h1M91 30h1M66 31h1M91 31h1M66 32h1M91 32h1M91 33h1M66 34h1M91 34h1M66 35h1M91 35h1M66 36h1M66 37h1M67 38h1M91 38h1M67 39h2M67 40h2M68 42h1M91 42h1M91 43h1M67 44h1M91 47h1M91 51h1M68 52h1M91 52h1M91 55h1M91 58h1M91 61h1"/>
<path stroke="#f9c1a6" d="M65 0h1M65 1h1M65 2h1M65 3h1M65 4h1M65 5h1M65 6h1M65 9h1M66 20h1M90 20h1M90 21h1M90 22h1M66 23h1M66 24h1M66 26h1M66 28h1M66 29h1M66 30h1M66 33h1M67 35h1M67 36h1M91 36h1M67 37h2M91 37h1M68 38h1M91 39h1M91 40h1M91 41h1M91 44h1M91 45h1M91 46h1M91 48h1M91 49h1M91 50h1M91 53h1M91 54h1M91 56h1M91 57h1M91 59h1M91 60h1M91 62h1M91 63h1M91 64h1M91 65h1M91 66h1"/>
<path stroke="#f7ba9c" d="M66 14h1M66 15h1M66 16h1M66 17h1M66 18h1M66 19h1M66 21h1M66 22h1M90 23h1M90 24h1M66 25h2M90 25h1M67 26h1M67 27h1M67 28h2M67 29h2M67 30h2M67 31h2M67 32h2M67 33h2M67 34h2M68 35h1M68 36h1"/>
<path stroke="#f6b293" d="M66 0h1M89 0h1M66 1h1M89 1h1M89 4h1M66 5h1M89 5h1M89 6h1M89 8h1M66 10h1M89 10h1M66 11h1M89 11h1M66 12h1M89 12h1M66 13h1M89 13h1M89 14h1M89 15h1M67 16h1M89 16h1M67 17h1M89 17h1M67 18h1M67 19h1M67 20h2M67 21h1M67 22h2M67 23h2M67 24h2M68 25h1M68 26h1M90 26h1M68 27h1M90 28h1"/>
<path stroke="#f5aa89" d="M66 2h1M89 2h1M66 3h1M89 3h1M66 4h1M66 6h1M66 7h1M89 7h1M66 8h1M66 9h1M89 9h1M67 12h1M67 13h1M67 14h1M67 15h2M68 16h1M68 17h1M68 18h1M89 18h1M68 19h1M89 19h1M89 20h1M68 21h1M90 27h1M90 29h1M90 30h1M90 31h1M90 32h1M69 43h1M69 44h1M69 45h1M69 46h1M69 47h1M69 48h1M69 49h1M69 50h1M90 51h1M90 52h1M90 54h1M90 55h1M69 56h1M90 57h1M90 60h1M69 62h1M90 62h1M90 63h1M69 65h1"/>
<path stroke="#f3a280" d="M67 0h1M67 1h1M67 2h1M67 3h1M67 4h1M67 6h1M67 7h1M67 8h1M67 9h1M67 10h1M67 11h1M68 13h1M68 14h1M89 21h1M89 22h1M89 23h1M90 33h1M90 34h1M90 35h1M90 36h1M90 37h1M90 38h1M90 39h1M69 40h1M90 40h1M69 41h1M90 41h1M69 42h1M90 42h1M70 43h1M90 43h1M70 44h1M90 44h1M70 45h1M90 45h1M70 46h1M90 46h1M70 47h1M90 47h1M90 48h1M90 49h1M90 50h1M69 51h1M69 52h1M69 53h1M90 53h1M69 54h1M69 55h1M90 56h1M69 57h1M69 58h1M90 58h1M69 59h1M90 59h1M69 60h1M69 61h1M90 61h1M69 63h1M69 64h1M90 64h1M90 65h1M69 66h1M90 66h1"/>
<path stroke="#ef9878" d="M67 5h1M68 10h1M68 11h1M68 12h1M89 24h1M89 25h1M89 26h1M89 27h1M89 30h1M89 31h1M69 37h1M69 38h1M69 39h1M70 40h1M70 41h1M70 42h1M70 48h1M70 49h1M70 50h1M70 51h1M70 52h1M70 53h1M70 54h1M70 55h1M70 56h1M70 57h1M70 58h1M70 59h1M70 60h1M70 61h1M70 62h1M70 63h1M70 65h1M70 66h1"/>
<path stroke="#ea8f71" d="M68 0h1M68 1h1M68 2h1M68 3h1M68 4h1M68 5h1M68 7h1M68 8h1M68 9h1M89 28h1M89 29h1M89 32h1M89 33h1M89 34h1M69 35h1M89 35h1M69 36h1M89 36h1M89 37h1M89 38h1M89 39h1M89 40h1M89 41h1M89 42h1M89 43h1M89 44h1M89 45h1M89 46h1M89 47h1M89 48h1M89 49h1M89 50h1M89 51h1M89 52h1M89 53h1M89 54h1M89 55h1M89 56h1M89 57h1M89 58h1M89 59h1M89 60h1M89 61h1M89 62h1M89 63h1M70 64h1M89 64h1M89 65h1M89 66h1"/>
<path stroke="#e68569" d="M68 6h1M69 23h1M69 24h1M69 25h1M69 26h1M69 27h1M69 28h1M69 29h1M69 30h1M69 31h1M69 32h1M69 33h1M69 34h1M70 37h1M70 38h1M70 39h1"/>
<path stroke="#e27b62" d="M69 21h1M69 22h1M70 25h1M70 31h1M70 35h1M70 36h1"/>
<path stroke="#de715a" d="M88 2h1M88 6h1M88 9h1M69 15h1M88 15h1M69 17h1M69 18h1M69 19h1M69 20h1M70 22h1M70 26h1M70 27h1M70 28h1M70 29h1M70 30h1M70 32h1M70 33h1M70 34h1"/>
<path stroke="#d96853" d="M88 0h1M88 1h1M88 3h1M88 4h1M88 5h1M88 7h1M88 8h1M88 10h1M88 11h1M88 12h1M69 13h1M88 13h1M69 14h2M88 14h1M70 15h1M69 16h1M88 16h1M88 17h1M88 18h1M88 19h1M70 20h1M88 20h1M70 21h1M88 21h1M88 22h1M70 23h1M88 23h1M70 24h1M88 24h1M88 25h1M88 26h1M88 27h1M88 29h1M88 30h1M88 31h1M88 32h1M88 34h1M88 35h1M88 36h1M88 37h1M88 38h1M88 39h1M88 40h1M88 41h1M88 42h1M88 43h1M88 44h1M88 45h1M88 46h1M88 47h1M88 48h1M88 50h1M88 51h1M88 52h1M88 53h1M88 54h1M88 55h1M88 56h1M88 57h1M88 58h1M88 59h1M88 60h1M88 61h1M88 62h1M88 63h1M88 64h1M88 65h1M88 66h1"/>
<path stroke="#d55e4c" d="M69 10h1M69 11h1M69 12h1M70 13h1M70 16h1M70 17h1M70 18h1M70 19h1M88 28h1M88 33h1M71 44h1M71 45h1M71 46h1M71 47h1M71 48h1M71 49h1M88 49h1M71 50h1M71 51h1M71 54h1M71 55h1M71 56h1M71 58h1M71 60h1M71 62h1"/>
<path stroke="#d05447" d="M69 0h1M70 2h1M69 3h2M70 4h1M70 5h1M70 6h1M69 7h2M69 8h2M69 9h2M70 10h1M70 11h1M70 12h1M71 40h1M71 41h1M71 42h1M71 43h1M71 52h1M71 53h1M71 57h1M71 59h1M71 61h1M71 63h1M71 64h1M71 65h1M71 66h1"/>
<path stroke="#cb4a42" d="M70 0h1M69 1h2M69 2h1M69 4h1M69 5h1M69 6h1M71 38h1M71 39h1"/>
<path stroke="#c6403e" d="M87 34h1M87 35h1M71 36h1M71 37h1M87 39h1M87 41h1M87 42h1M87 43h1M87 44h1M87 45h1M87 50h1M87 58h1M87 59h1M87 60h1M87 61h1"/>
<path stroke="#c13539" d="M71 24h1M71 25h1M71 26h1M71 28h1M71 29h1M71 30h1M71 31h1M87 31h1M87 32h1M87 33h1M71 34h1M71 35h1M87 36h1M87 37h1M87 38h1M87 40h1M87 46h1M87 47h1M87 48h1M87 49h1M87 51h1M87 52h1M87 53h1M87 54h1M87 55h1M87 56h1M87 57h1M87 62h1M87 63h1M87 64h1M87 65h1M87 66h1"/>
<path stroke="#bc2b34" d="M73 0h1M79 0h1M73 1h1M71 2h1M73 2h1M73 3h1M73 4h1M87 4h1M73 5h2M71 6h1M73 6h1M73 7h1M73 8h1M73 11h1M73 12h1M73 13h1M71 15h1M71 19h1M71 20h1M71 21h1M71 22h1M87 22h1M71 23h1M87 26h1M71 27h1M87 27h1M87 28h1M87 29h1M87 30h1M71 32h1M71 33h1M72 49h1M72 51h1M72 52h1M72 53h1M72 55h1"/>
<path stroke="#b7212f" d="M71 0h1M74 0h1M87 0h1M71 1h1M74 1h1M79 1h1M87 1h1M74 2h1M79 2h1M87 2h1M71 3h1M74 3h1M79 3h1M87 3h1M71 4h1M74 4h1M79 4h1M71 5h1M79 5h1M87 5h1M74 6h1M79 6h1M87 6h1M71 7h1M74 7h1M87 7h1M71 8h1M74 8h1M87 8h1M71 9h1M73 9h2M87 9h1M71 10h1M73 10h2M87 10h1M71 11h1M74 11h1M87 11h1M71 12h1M74 12h1M87 12h1M71 13h1M87 13h1M71 14h1M73 14h1M87 14h1M73 15h1M87 15h1M71 16h1M73 16h1M87 16h1M71 17h1M73 17h1M87 17h1M71 18h1M87 18h1M73 19h1M87 19h1M87 20h1M87 21h1M87 23h1M87 24h1M87 25h1M72 40h1M72 42h1M72 43h1M72 44h1M72 45h1M72 46h1M72 47h1M73 49h1M72 50h2M73 51h1M73 53h1M72 54h1M72 56h1M72 57h2M72 58h1M72 59h1M72 60h1M72 61h1M72 62h1M72 63h1M72 64h1M72 65h1M72 66h1"/>
<path stroke="#b1182b" d="M72 0h1M72 1h1M72 2h1M72 3h1M72 4h1M72 5h1M72 6h1M72 7h1M79 7h1M72 8h1M79 8h1M72 9h1M79 9h1M72 10h1M79 10h1M72 11h1M72 12h1M79 12h1M74 13h1M72 14h1M74 14h1M72 15h1M74 15h1M74 16h1M73 18h1M74 19h1M73 20h1M73 21h1M73 22h1M73 23h1M73 24h1M73 25h1M86 33h1M72 36h1M72 37h1M86 37h1M72 38h2M86 38h1M72 39h1M86 40h1M72 41h2M86 41h1M73 42h1M86 42h1M73 43h1M86 43h1M73 44h1M86 44h1M73 45h1M86 45h1M73 46h1M73 47h1M86 47h1M72 48h2M86 48h1M86 50h1M86 51h1M73 52h1M86 52h1M86 53h1M73 54h1M86 54h1M73 55h1M86 55h1M73 56h1M86 56h1M86 57h1M73 58h1M86 58h1M73 59h1M86 59h1M73 60h1M86 60h1M73 61h1M86 61h1M73 62h1M86 62h1M73 63h1M86 63h1M73 64h1M86 64h1M73 65h1M86 65h1M73 66h1M86 66h1"/>
<path stroke="#a61429" d="M75 0h1M78 0h1M86 0h1M75 1h1M81 1h1M86 1h1M75 2h1M86 2h1M75 3h1M78 3h1M86 3h1M75 4h1M78 4h1M81 4h1M86 4h1M75 5h1M86 5h1M75 6h1M86 6h1M75 7h1M86 7h1M75 8h1M75 9h1M86 9h1M75 11h1M79 11h1M86 12h1M72 13h1M75 13h1M79 13h1M79 14h1M79 15h1M72 16h1M79 16h1M72 17h1M74 17h1M72 18h1M74 18h1M72 19h1M86 19h1M72 20h1M74 20h1M72 21h1M74 21h1M72 22h1M74 22h1M72 23h1M74 23h1M72 24h1M74 24h1M72 25h1M74 25h1M72 26h3M72 27h3M73 28h1M86 28h1M72 29h2M86 29h1M72 30h2M86 30h1M73 31h1M86 31h1M72 32h2M86 32h1M73 33h1M72 34h2M86 34h1M73 35h1M86 35h1M73 36h1M86 36h1M73 37h1M73 39h1M86 39h1M73 40h1M74 46h1M86 46h1M86 49h1M74 50h1M74 51h1M74 52h1M74 53h1M74 54h1M74 55h1M74 59h1M74 61h1M74 63h1"/>
<path stroke="#9c1127" d="M80 0h2M78 1h1M80 1h1M78 2h1M80 2h2M80 3h2M80 4h1M78 5h1M80 5h2M78 6h1M80 6h2M78 7h1M81 7h1M78 8h1M81 8h1M86 8h1M78 9h1M81 9h1M75 10h1M78 10h1M81 10h1M86 10h1M78 11h1M81 11h1M86 11h1M75 12h1M78 12h1M78 13h1M86 13h1M75 14h1M78 14h1M86 14h1M75 15h1M86 15h1M75 16h1M78 16h1M86 16h1M75 17h1M79 17h1M86 17h1M75 18h1M78 18h2M86 18h1M75 19h1M79 19h1M75 20h1M78 20h2M86 20h1M75 21h1M86 21h1M75 22h1M86 22h1M75 23h1M86 23h1M75 24h1M86 24h1M75 25h1M86 25h1M75 26h1M86 26h1M75 27h1M86 27h1M72 28h1M74 28h2M74 29h2M74 30h2M72 31h1M74 31h1M74 32h1M72 33h1M74 33h2M74 34h1M72 35h1M74 36h1M74 37h1M74 38h1M74 39h1M74 40h1M74 41h1M74 42h1M74 43h2M74 44h1M74 45h1M74 47h2M74 48h2M74 49h2M75 50h1M75 52h1M75 53h1M75 55h1M74 56h2M74 57h2M74 58h1M75 59h1M74 60h2M75 61h1M74 62h2M74 64h2M74 65h2M74 66h2"/>
<path stroke="#910e26" d="M77 0h1M82 0h4M77 1h1M82 1h4M77 2h1M82 2h4M77 3h1M82 3h2M77 4h1M82 4h2M85 4h1M77 5h1M82 5h2M85 5h1M77 6h1M83 6h1M80 7h1M82 7h2M77 8h1M80 8h1M77 9h1M80 9h1M84 9h2M77 10h1M80 10h1M83 10h1M80 11h1M77 12h1M81 12h1M77 13h1M81 13h1M81 14h1M78 15h1M81 15h1M78 17h1M78 19h1M77 21h3M78 22h2M78 23h2M77 24h3M81 24h1M77 25h3M78 26h2M77 27h2M77 28h2M77 29h2M77 30h1M75 31h1M78 31h1M75 32h1M78 32h1M75 34h1M74 35h2M75 36h1M75 37h1M75 38h1M78 38h1M75 39h1M75 40h1M75 41h1M75 42h1M75 44h1M75 45h1M75 46h1M78 46h1M79 47h1M78 48h1M78 50h1M75 51h1M77 51h1M78 52h1M78 53h1M75 54h1M77 54h2M78 56h2M75 58h1M78 58h2M78 60h1M78 61h2M77 62h2M75 63h1M77 63h2M78 64h1M78 65h1M78 66h1"/>
<path stroke="#870a24" d="M76 0h1M76 2h1M76 3h1M84 3h2M76 4h1M84 4h1M76 5h1M84 5h1M76 6h1M82 6h1M84 6h2M76 7h2M84 7h2M76 8h1M82 8h4M76 9h1M82 9h2M82 10h1M84 10h2M76 11h2M82 11h2M85 11h1M80 12h1M82 12h4M80 13h1M82 13h1M84 13h2M77 14h1M80 14h1M82 14h2M85 14h1M77 15h1M80 15h1M84 15h1M76 16h2M80 16h3M85 16h1M77 17h1M80 17h2M85 17h1M77 18h1M80 18h2M83 18h1M85 18h1M77 19h1M81 19h3M85 19h1M77 20h1M80 20h2M84 20h2M81 21h2M85 21h1M76 22h2M80 22h3M85 22h1M77 23h1M81 23h1M84 23h1M83 24h1M76 25h1M81 25h2M76 26h2M81 26h1M76 27h1M79 27h1M79 28h1M81 28h1M83 28h1M79 29h1M81 29h1M85 29h1M76 30h1M78 30h2M81 30h1M77 31h1M79 31h1M77 32h1M79 32h1M77 33h3M77 34h3M82 34h1M78 35h2M77 36h2M77 37h3M85 37h1M77 38h1M79 38h1M81 38h1M77 39h3M77 40h3M76 41h1M78 41h2M77 42h3M77 43h3M77 44h3M82 44h1M77 45h3M81 45h1M77 46h1M79 46h1M77 47h2M77 48h1M79 48h1M77 49h3M77 50h1M79 50h1M85 50h1M76 51h1M78 51h2M77 52h1M77 53h1M79 53h1M76 54h1M79 54h1M81 54h1M76 55h4M81 55h1M76 56h2M77 57h3M76 58h2M85 58h1M77 59h3M77 60h1M79 60h1M76 61h2M81 61h1M79 62h1M81 62h1M79 63h1M81 63h1M77 64h1M79 64h1M77 65h1M79 65h1M81 65h1M76 66h2M79 66h1"/>
<path stroke="#7c0722" d="M76 1h1M76 10h1M84 11h1M76 12h1M76 13h1M83 13h1M76 14h1M84 14h1M76 15h1M82 15h2M85 15h1M83 16h2M76 17h1M82 17h3M76 18h1M82 18h1M84 18h1M76 19h1M80 19h1M84 19h1M76 20h1M82 20h2M76 21h1M80 21h1M83 21h2M83 22h2M76 23h1M80 23h1M82 23h2M85 23h1M76 24h1M80 24h1M82 24h1M84 24h2M80 25h1M83 25h3M82 26h4M81 27h5M76 28h1M82 28h1M84 28h2M76 29h1M82 29h3M82 30h2M85 30h1M76 31h1M81 31h3M85 31h1M76 32h1M81 32h5M76 33h1M81 33h1M83 33h1M85 33h1M76 34h1M80 34h2M83 34h3M76 35h2M81 35h3M85 35h1M76 36h1M79 36h1M81 36h3M85 36h1M76 37h1M81 37h3M76 38h1M82 38h4M76 39h1M81 39h2M85 39h1M76 40h1M81 40h5M77 41h1M81 41h5M76 42h1M81 42h2M85 42h1M76 43h1M81 43h2M84 43h2M76 44h1M81 44h1M83 44h3M76 45h1M82 45h1M84 45h2M76 46h1M81 46h3M85 46h1M76 47h1M81 47h2M84 47h2M76 48h1M81 48h3M85 48h1M76 49h1M81 49h5M76 50h1M81 50h4M81 51h5M76 52h1M79 52h1M81 52h3M85 52h1M76 53h1M80 53h4M85 53h1M82 54h4M82 55h4M81 56h5M76 57h1M81 57h5M81 58h4M76 59h1M81 59h5M76 60h1M81 60h5M82 61h1M85 61h1M76 62h1M80 62h1M82 62h2M85 62h1M76 63h1M82 63h4M76 64h1M81 64h5M76 65h1M82 65h1M85 65h1M81 66h5"/>
<path stroke="#720321" d="M80 26h1M80 27h1M80 28h1M80 29h1M80 30h1M84 30h1M84 31h1M80 32h1M80 33h1M82 33h1M84 33h1M80 35h1M84 35h1M80 36h1M84 36h1M80 37h1M84 37h1M80 39h1M83 39h2M80 40h1M80 41h1M80 42h1M83 42h2M80 43h1M83 43h1M80 44h1M80 45h1M83 45h1M80 46h1M84 46h1M80 47h1M83 47h1M80 48h1M84 48h1M80 49h1M80 50h1M80 51h1M80 52h1M84 52h1M84 53h1M80 54h1M80 55h1M80 56h1M80 57h1M80 58h1M80 59h1M80 60h1M80 61h1M83 61h2M84 62h1M80 63h1M80 64h1M80 65h1M83 65h2M80 66h1"/>
<path stroke="#67001f" d="M80 31h1M80 38h1"/>
</g></g>
<clipPath id="kd2"><rect x="1303.2" y="1430.7" width="713.6" height="395.7"/></clipPath>
<g clip-path="url(#kd2)"><g transform="translate(1303 1433) scale(6 6)" fill="none" stroke-width="1.04" shape-rendering="crispEdges">
<path stroke="#3885bc" d="M48 15h1M57 18h1"/>
<path stroke="#3d8bbf" d="M48 0h1M50 2h1M45 5h1M52 6h1M45 7h1M52 7h1M44 8h1M48 8h1M43 9h1M46 9h3M51 9h2M46 10h5M53 10h1M43 11h6M50 11h1M52 11h3M46 12h7M45 13h5M51 13h1M54 13h1M43 14h4M48 14h4M54 14h1M46 15h2M49 15h7M57 15h1M44 16h14M45 17h1M47 17h1M49 17h8M45 18h4M50 18h2M53 18h2M58 18h1M46 19h3M50 19h1M53 19h1M56 19h1M46 20h1M49 20h4M57 20h2M46 21h1M50 21h4M55 21h2M51 22h1M55 23h1M55 24h1M57 24h1M57 25h1M57 26h1"/>
<path stroke="#4292c2" d="M40 0h1M43 0h3M50 0h2M53 0h1M56 0h2M38 1h1M41 1h2M45 1h7M53 1h1M39 2h1M42 2h2M45 2h3M49 2h1M51 2h2M54 2h1M56 2h1M38 3h1M40 3h1M44 3h10M55 3h1M58 3h1M38 4h1M41 4h3M45 4h5M51 4h2M54 4h2M38 5h1M43 5h2M46 5h12M37 6h1M40 6h1M42 6h7M50 6h2M53 6h3M57 6h2M38 7h1M40 7h3M44 7h1M46 7h6M53 7h2M56 7h1M40 8h4M45 8h3M49 8h6M56 8h1M58 8h2M38 9h1M40 9h3M44 9h2M49 9h2M53 9h6M38 10h1M42 10h4M51 10h1M54 10h1M56 10h4M41 11h2M49 11h1M51 11h1M55 11h5M42 12h4M53 12h2M56 12h4M40 13h5M50 13h1M52 13h2M55 13h5M41 14h2M47 14h1M52 14h2M55 14h5M41 15h1M43 15h3M56 15h1M58 15h2M40 16h4M58 16h2M42 17h3M46 17h1M48 17h1M57 17h3M41 18h1M44 18h1M49 18h1M52 18h1M55 18h2M59 18h1M44 19h2M49 19h1M51 19h2M54 19h2M57 19h3M43 20h1M45 20h1M47 20h2M53 20h4M59 20h1M44 21h2M47 21h3M54 21h1M57 21h3M47 22h4M53 22h5M59 22h1M45 23h1M48 23h7M56 23h4M47 24h4M52 24h3M56 24h1M58 24h1M49 25h1M51 25h1M53 25h4M58 25h2M49 26h1M51 26h3M55 26h2M58 26h2M51 27h8M53 28h1M56 28h3M55 29h5M56 30h1M58 30h1M58 31h1M56 32h1M58 32h1M57 33h1M59 33h1M58 34h1"/>
<path stroke="#4c99c6" d="M29 0h1M31 0h9M41 0h2M46 0h2M49 0h1M52 0h1M54 0h2M58 0h1M30 1h1M32 1h6M39 1h2M43 1h2M52 1h1M54 1h4M30 2h1M33 2h1M35 2h4M40 2h2M44 2h1M48 2h1M53 2h1M55 2h1M57 2h4M28 3h1M31 3h2M34 3h4M39 3h1M41 3h3M54 3h1M56 3h2M59 3h1M31 4h1M34 4h3M39 4h2M44 4h1M50 4h1M53 4h1M56 4h4M31 5h1M35 5h3M39 5h4M58 5h2M32 6h5M38 6h2M41 6h1M49 6h1M56 6h1M59 6h1M33 7h5M39 7h1M43 7h1M55 7h1M57 7h4M33 8h1M35 8h5M55 8h1M57 8h1M32 9h1M34 9h1M37 9h1M39 9h1M59 9h1M35 10h3M39 10h3M52 10h1M55 10h1M60 10h1M36 11h2M39 11h1M60 11h1M37 12h5M55 12h1M60 12h1M36 13h4M60 13h1M36 14h1M38 14h3M60 14h1M36 15h5M42 15h1M60 15h1M38 16h2M60 16h1M36 17h6M60 17h1M39 18h2M42 18h2M60 18h2M41 19h3M60 19h1M44 20h1M60 20h1M43 21h1M60 21h1M43 22h4M52 22h1M58 22h1M60 22h1M43 23h2M46 23h2M45 24h2M51 24h1M59 24h2M45 25h4M50 25h1M52 25h1M60 25h1M45 26h1M47 26h2M50 26h1M54 26h1M46 27h1M49 27h2M59 27h2M50 28h3M54 28h2M59 28h1M49 29h1M51 29h4M60 29h1M51 30h1M53 30h3M57 30h1M59 30h2M51 31h2M54 31h4M59 31h1M55 32h1M57 32h1M59 32h1M56 33h1M58 33h1M56 34h2M56 35h1M58 35h1M56 36h2M58 37h2"/>
<path stroke="#57a0ca" d="M24 0h5M30 0h1M59 0h2M25 1h5M31 1h1M58 1h3M26 2h4M31 2h2M34 2h1M25 3h1M27 3h1M29 3h2M33 3h1M60 3h1M27 4h4M32 4h2M37 4h1M60 4h1M28 5h1M30 5h1M32 5h3M60 5h1M28 6h4M60 6h2M27 7h1M29 7h4M29 8h4M34 8h1M60 8h2M29 9h3M33 9h1M35 9h2M60 9h2M31 10h2M34 10h1M30 11h1M32 11h4M38 11h1M40 11h1M61 11h1M29 12h1M33 12h4M61 12h1M31 13h5M61 13h1M33 14h3M37 14h1M61 14h1M32 15h1M34 15h2M34 16h4M61 16h1M33 17h2M61 17h1M37 18h2M36 19h5M37 20h6M61 20h1M40 21h3M40 22h3M61 22h1M41 23h2M60 23h2M42 24h3M42 25h3M61 25h1M44 26h1M46 26h1M60 26h2M44 27h2M47 27h2M46 28h4M60 28h2M45 29h1M47 29h2M50 29h1M47 30h4M52 30h1M48 31h3M53 31h1M60 31h1M50 32h5M60 32h1M50 33h1M52 33h1M54 33h2M54 34h2M59 34h2M54 35h2M57 35h1M59 35h2M55 36h1M58 36h2M55 37h3M56 38h4M57 39h2"/>
<path stroke="#62a7ce" d="M21 0h3M22 1h1M24 1h1M61 1h1M23 2h3M61 2h1M26 3h1M24 4h3M61 4h1M25 5h3M29 5h1M61 5h1M25 6h3M25 7h2M28 7h1M61 7h2M27 8h2M26 9h3M62 9h1M27 10h4M33 10h1M61 10h2M27 11h3M31 11h1M28 12h1M30 12h3M62 12h1M28 13h3M62 13h1M29 14h4M62 14h1M28 15h4M33 15h1M61 15h2M30 16h4M30 17h1M32 17h1M35 17h1M62 17h1M33 18h4M62 18h1M33 19h3M61 19h1M34 20h3M62 20h1M36 21h4M61 21h1M37 22h3M62 22h1M37 23h4M62 23h1M39 24h1M41 24h1M61 24h2M40 25h2M62 25h1M42 26h2M62 26h1M42 27h1M61 27h1M43 28h3M43 29h2M46 29h1M61 29h1M45 30h2M61 30h1M46 31h2M61 31h1M47 32h1M49 32h1M61 32h1M49 33h1M51 33h1M53 33h1M60 33h2M49 34h1M51 34h3M61 34h1M49 35h1M52 35h2M53 36h2M60 36h2M53 37h2M60 37h1M54 38h2M60 38h1M55 39h2M59 39h1M57 40h3"/>
<path stroke="#6daed1" d="M17 0h4M61 0h1M18 1h4M23 1h1M62 1h1M19 2h4M62 2h1M19 3h6M61 3h2M19 4h1M22 4h2M62 4h1M21 5h4M62 5h2M22 6h3M62 6h2M22 7h3M63 7h1M23 8h4M62 8h2M24 9h2M24 10h3M63 10h1M24 11h1M26 11h1M62 11h2M25 12h3M63 12h1M27 13h1M63 13h1M25 14h4M63 14h1M26 15h2M63 15h1M28 16h2M62 16h2M27 17h3M31 17h1M29 18h4M31 19h2M62 19h1M31 20h3M63 20h1M33 21h3M62 21h1M34 22h3M35 23h2M36 24h3M40 24h1M37 25h3M39 26h3M41 27h1M43 27h1M62 27h1M41 28h2M62 28h1M42 29h1M62 29h1M42 30h3M42 31h4M45 32h2M48 32h1M45 33h1M47 33h2M47 34h2M50 34h1M48 35h1M50 35h2M61 35h1M49 36h4M50 37h1M52 37h1M61 37h1M51 38h1M53 38h1M54 39h1M60 39h2M53 40h4M60 40h1M55 41h6M57 42h2M56 43h1"/>
<path stroke="#78b5d5" d="M12 0h5M62 0h1M12 1h2M15 1h3M63 1h1M14 2h1M17 2h2M63 2h1M16 3h1M63 3h1M17 4h2M20 4h2M63 4h1M20 5h1M19 6h3M20 7h2M64 7h1M21 8h2M64 8h1M21 9h3M63 9h1M21 10h3M22 11h2M25 11h1M64 11h1M23 12h2M64 12h1M23 13h4M24 14h1M64 14h1M25 15h1M64 15h1M26 16h2M26 17h1M63 17h1M26 18h3M63 18h1M28 19h3M63 19h1M28 20h3M29 21h1M31 21h2M63 21h1M30 22h1M32 22h2M63 22h1M33 23h2M63 23h1M33 24h1M35 24h1M63 24h1M36 25h1M63 25h1M36 26h3M36 27h1M38 27h3M63 27h1M39 28h2M39 29h3M41 30h1M62 30h1M41 31h1M62 31h1M42 32h3M62 32h1M44 33h1M46 33h1M62 33h1M45 34h2M62 34h1M45 35h1M47 35h1M46 36h3M62 36h1M49 37h1M51 37h1M50 38h1M52 38h1M61 38h1M51 39h3M51 40h2M53 41h2M55 42h2M59 42h2M55 43h1M57 43h4"/>
<path stroke="#84bcd9" d="M10 0h1M63 0h1M8 1h2M11 1h1M14 1h1M64 1h1M12 2h2M15 2h2M12 3h4M17 3h2M64 3h1M12 4h2M15 4h2M64 4h1M14 5h1M16 5h1M18 5h2M16 6h3M64 6h1M15 7h1M18 7h1M16 8h5M18 9h1M20 9h1M64 9h1M20 10h1M64 10h1M19 11h1M21 11h1M21 12h2M22 13h1M64 13h1M22 14h2M22 15h3M22 16h4M64 16h1M23 17h3M64 17h1M25 18h1M64 18h1M24 19h1M26 19h2M64 19h1M27 20h1M64 20h1M26 21h1M28 21h1M30 21h1M28 22h2M31 22h1M30 23h3M31 24h2M34 24h1M31 25h5M33 26h3M63 26h1M34 27h2M37 27h1M36 28h3M63 28h1M37 29h2M63 29h1M38 30h3M63 30h1M39 31h2M40 32h2M63 32h1M42 33h2M43 34h2M46 35h1M62 35h1M47 37h2M62 37h1M49 38h1M62 38h1M49 39h2M62 39h1M50 40h1M61 40h1M52 41h1M61 41h1M53 42h2M61 42h1M53 43h2M61 43h1M54 44h2M57 44h4M59 45h1"/>
<path stroke="#8fc3dd" d="M4 0h1M8 0h2M11 0h1M64 0h1M7 1h1M10 1h1M8 2h4M64 2h1M9 3h1M11 3h1M11 4h1M14 4h1M13 5h1M15 5h1M17 5h1M64 5h1M13 6h3M65 6h1M14 7h1M16 7h2M19 7h1M65 7h1M16 9h2M19 9h1M65 9h1M17 10h3M17 11h2M20 11h1M65 11h1M18 12h3M18 13h4M20 14h1M20 15h2M20 16h2M21 17h2M24 18h1M23 19h1M25 19h1M24 20h3M27 21h1M64 21h1M25 22h3M64 22h1M28 23h2M64 23h1M27 24h1M29 24h2M29 25h2M32 26h1M64 26h1M32 27h2M64 27h1M34 28h2M35 29h2M36 30h2M37 31h2M63 31h1M37 32h1M39 32h1M37 33h1M39 33h3M63 33h1M41 34h2M63 34h1M41 35h4M63 35h1M43 36h3M45 37h2M46 38h3M48 39h1M48 40h2M62 40h1M51 41h1M51 42h2M52 43h1M53 44h1M56 44h1M61 44h1M54 45h5"/>
<path stroke="#98c8e0" d="M2 0h2M6 0h2M65 0h1M1 1h1M4 1h3M65 1h1M5 2h3M65 2h1M6 3h3M10 3h1M65 3h1M6 4h1M8 4h3M65 4h1M8 5h5M65 5h1M10 6h3M11 7h3M13 8h3M65 8h1M12 9h1M14 9h2M14 10h3M65 10h1M15 11h2M16 12h2M65 12h1M17 13h1M65 13h1M17 14h3M21 14h1M65 14h1M18 15h2M18 16h2M65 16h1M19 17h2M65 17h1M20 18h4M21 19h2M22 20h2M22 21h4M24 23h4M28 24h1M64 24h1M27 25h2M64 25h1M29 26h3M31 27h1M32 28h2M64 28h1M33 29h2M64 29h1M33 30h3M35 31h2M36 32h1M38 32h1M36 33h1M38 33h1M38 34h3M39 35h2M42 36h1M63 36h1M42 37h3M63 37h1M45 38h1M46 39h2M63 39h1M46 40h2M48 41h3M62 41h1M50 42h1M62 42h1M51 44h2M53 45h1M60 45h2M54 46h7M58 47h1M60 47h1"/>
<path stroke="#a1cde2" d="M0 0h2M5 0h1M0 1h1M2 1h2M2 2h3M66 2h1M3 3h3M66 3h1M2 4h3M7 4h1M4 5h4M7 6h3M6 7h1M10 7h1M66 7h1M7 8h1M10 8h3M66 8h1M10 9h2M13 9h1M11 10h1M13 10h1M12 11h3M11 12h1M13 12h3M13 13h4M16 14h1M17 15h1M65 15h1M16 16h2M18 17h1M18 18h2M65 18h1M65 19h1M19 20h1M21 20h1M65 20h1M21 21h1M65 21h1M22 22h3M22 23h2M24 24h3M24 25h3M25 26h4M27 27h4M26 28h1M29 28h3M32 29h1M32 30h1M64 30h1M33 31h2M64 31h1M34 32h2M64 32h1M35 33h1M64 33h1M38 35h1M39 36h3M40 37h2M41 38h4M63 38h1M44 39h2M44 40h2M47 41h1M49 42h1M48 43h1M50 43h2M62 43h1M50 44h1M62 44h1M51 45h2M53 46h1M56 47h2M59 47h1"/>
<path stroke="#aad1e5" d="M66 0h1M66 1h1M77 1h1M0 2h2M0 3h3M77 3h1M5 4h1M66 4h1M0 5h4M66 5h1M74 5h1M1 6h6M66 6h1M3 7h3M7 7h3M6 8h1M8 8h2M7 9h3M66 9h1M8 10h2M12 10h1M8 11h4M66 11h1M9 12h1M12 12h1M66 12h1M10 13h3M13 14h3M13 15h4M13 16h3M14 17h4M15 18h3M17 19h4M17 20h2M20 20h1M18 21h3M20 22h2M65 22h1M65 23h1M21 24h3M65 24h1M23 25h1M22 26h1M65 26h1M24 27h2M27 28h2M28 29h4M28 30h4M29 31h1M31 31h2M31 32h3M32 33h3M34 34h4M64 34h1M36 35h2M64 35h1M37 36h2M38 37h2M38 38h1M40 38h1M39 39h1M42 39h2M63 40h1M44 41h3M63 41h1M47 42h2M49 43h1M49 44h1M62 45h1M51 46h2M61 46h1M53 47h3M61 47h1M56 48h6M59 49h2"/>
<path stroke="#b3d6e7" d="M67 0h1M72 0h1M77 0h1M72 1h1M67 2h1M77 2h1M76 3h1M0 4h2M74 4h1M67 6h1M0 7h3M1 8h1M3 8h3M77 8h1M3 9h1M5 9h2M77 9h1M4 10h2M7 10h1M10 10h1M66 10h1M77 10h1M6 11h2M75 11h1M77 11h1M5 12h1M7 12h2M10 12h1M9 13h1M66 13h1M10 14h3M66 14h1M11 15h2M66 15h1M11 16h2M66 16h1M14 18h1M15 19h2M15 20h2M17 21h1M18 22h2M18 23h4M20 24h1M19 25h4M65 25h1M20 26h2M23 26h2M23 27h1M26 27h1M65 27h1M23 28h3M65 28h1M25 29h3M65 29h1M27 30h1M65 30h1M28 31h1M30 31h1M65 31h1M30 32h1M31 33h1M32 34h2M34 35h2M35 36h2M64 36h1M36 37h2M64 37h1M36 38h2M39 38h1M64 38h1M37 39h2M40 39h2M41 40h3M41 41h1M43 41h1M43 42h4M63 42h1M45 43h3M63 43h1M47 44h2M49 45h2M50 46h1M51 47h2M53 48h3M54 49h5M59 50h1"/>
<path stroke="#bcdaea" d="M67 1h1M76 2h1M67 3h1M67 4h1M67 5h1M0 6h1M67 7h1M0 8h1M2 8h1M67 8h1M0 9h3M4 9h1M67 9h1M3 10h1M6 10h1M75 10h1M3 11h1M5 11h1M67 11h1M4 12h1M6 12h1M6 13h1M8 13h1M9 14h1M8 15h3M8 16h1M10 16h1M9 17h1M11 17h3M66 17h1M12 18h2M66 18h1M12 19h3M66 19h1M12 20h3M66 20h1M14 21h3M15 22h3M66 22h1M17 23h1M17 24h3M18 25h1M18 26h2M20 27h3M22 28h1M23 29h2M25 30h2M24 31h4M28 32h2M65 32h1M30 33h1M29 34h3M31 35h3M32 36h3M34 37h2M35 38h1M64 39h1M37 40h1M39 40h2M39 41h2M42 41h1M42 42h1M42 43h3M44 44h3M47 45h2M48 46h2M62 46h1M62 47h1M51 48h2M53 49h1M61 49h1M54 50h2M57 50h2M60 50h1"/>
<path stroke="#c5dfec" d="M68 2h1M68 3h1M68 4h1M0 10h3M67 10h1M0 11h3M4 11h1M0 12h1M2 12h2M67 12h1M2 13h4M7 13h1M67 13h1M2 14h7M5 15h3M9 16h1M6 17h3M10 17h1M8 18h4M9 19h3M11 20h1M12 21h2M66 21h1M12 22h1M14 22h1M14 23h3M66 23h1M15 24h2M66 24h1M16 25h2M66 25h1M16 26h1M17 27h3M66 27h1M18 28h4M20 29h3M21 30h4M23 31h1M24 32h4M24 33h1M26 33h4M65 33h1M26 34h2M29 35h2M65 35h1M30 36h2M32 37h2M34 38h1M33 39h1M35 39h2M36 40h1M38 40h1M64 40h1M36 41h3M64 41h1M36 42h1M38 42h4M40 43h2M43 44h1M63 44h1M45 45h2M63 45h1M46 46h2M48 47h3M50 48h1M52 49h1M53 50h1M56 50h1M61 50h1M56 51h5"/>
<path stroke="#cde3ef" d="M68 0h1M68 1h1M68 5h1M68 6h1M68 7h1M68 8h1M68 9h1M1 12h1M0 13h2M1 14h1M67 14h1M1 15h4M67 15h1M2 16h6M67 16h1M2 17h4M67 17h1M4 18h2M7 18h1M67 18h1M6 19h3M7 20h4M9 21h3M8 22h1M10 22h2M13 22h1M11 23h3M13 24h2M13 25h3M15 26h1M17 26h1M66 26h1M13 27h1M16 27h1M16 28h2M66 28h1M17 29h3M66 29h1M17 30h4M21 31h2M19 32h5M22 33h2M25 33h1M24 34h2M28 34h1M65 34h1M22 35h1M25 35h1M27 35h2M25 36h1M29 36h1M65 36h1M29 37h3M30 38h4M30 39h3M34 39h1M32 40h1M34 40h2M33 41h1M35 41h1M35 42h1M37 42h1M64 42h1M35 43h1M37 43h3M64 43h1M39 44h4M42 45h3M44 46h2M63 46h1M46 47h2M47 48h3M62 48h1M50 49h2M62 49h1M51 50h2M54 51h2M61 51h1M55 52h6M57 53h1"/>
<path stroke="#d4e7f1" d="M69 0h1M69 1h1M69 2h1M69 4h1M68 10h1M68 11h1M0 14h1M0 15h1M0 16h2M1 17h1M0 18h1M2 18h2M6 18h1M0 19h1M3 19h3M67 19h1M1 20h2M5 20h2M67 20h1M2 21h1M4 21h5M6 22h2M9 22h1M67 22h1M7 23h1M10 23h1M10 24h3M11 25h2M11 26h4M14 27h2M14 28h2M14 29h1M16 29h1M14 30h1M66 30h1M16 31h1M18 31h3M66 31h1M18 32h1M66 32h1M18 33h4M66 33h1M20 34h1M22 34h2M24 35h1M26 35h1M24 36h1M26 36h3M24 37h1M26 37h1M28 37h1M65 37h1M27 38h3M65 38h1M65 39h1M30 40h2M33 40h1M32 41h1M34 41h1M33 42h2M33 43h2M36 43h1M37 44h2M64 44h1M39 45h3M64 45h1M38 46h2M41 46h3M43 47h3M63 47h1M45 48h2M48 49h2M49 50h2M62 50h1M50 51h4M52 52h3M61 52h1M56 53h1M58 53h2"/>
<path stroke="#dae9f2" d="M69 3h1M69 5h1M69 6h1M69 7h1M69 8h1M68 12h1M68 13h1M68 14h1M68 15h1M68 16h1M0 17h1M1 18h1M1 19h2M0 20h1M3 20h2M0 21h2M3 21h1M67 21h1M2 22h4M4 23h3M8 23h2M67 23h1M3 24h7M67 24h1M4 25h1M6 25h1M8 25h3M67 25h1M2 26h1M6 26h1M8 26h2M67 26h1M10 27h3M67 27h1M10 28h4M10 29h1M12 29h2M15 29h1M13 30h1M15 30h2M14 31h2M17 31h1M14 32h1M16 32h2M16 33h1M16 34h1M19 34h1M21 34h1M66 34h1M17 35h5M23 35h1M20 36h2M23 36h1M25 37h1M27 37h1M23 38h1M25 38h2M25 39h5M26 40h3M65 40h1M28 41h4M65 41h1M29 42h4M34 44h3M34 45h5M34 46h2M37 46h1M40 46h1M39 47h4M40 48h1M42 48h3M63 48h1M42 49h1M46 49h2M63 49h1M45 50h4M62 51h1M50 52h1M51 53h5M60 53h2M56 54h1M58 54h2"/>
<path stroke="#dfecf3" d="M70 0h1M70 1h1M70 2h1M70 3h1M69 9h1M69 10h1M69 11h1M69 13h1M68 17h1M68 18h1M68 19h1M68 20h1M0 22h2M0 23h4M0 24h3M0 25h4M5 25h1M7 25h1M1 26h1M3 26h3M7 26h1M10 26h1M1 27h1M3 27h7M3 28h7M6 29h1M9 29h1M11 29h1M67 29h1M6 30h1M10 30h3M6 31h1M9 31h5M11 32h1M15 32h1M14 33h2M17 33h1M13 34h2M17 34h2M15 35h2M66 35h1M14 36h1M17 36h3M22 36h1M66 36h1M19 37h5M19 38h4M24 38h1M20 39h5M21 40h3M25 40h1M29 40h1M20 41h1M22 41h2M25 41h3M27 42h2M65 42h1M29 43h4M31 44h3M30 45h1M32 45h2M36 46h1M64 46h1M33 47h1M36 47h3M64 47h1M39 48h1M41 48h1M40 49h2M43 49h3M41 50h1M43 50h1M46 51h4M48 52h2M51 52h1M62 52h1M50 53h1M53 54h3M57 54h1M60 54h2M55 55h1M57 55h4"/>
<path stroke="#e4eef4" d="M70 4h1M70 5h1M70 6h1M70 7h1M70 8h1M69 12h1M69 14h1M0 26h1M0 27h1M2 27h1M0 28h3M67 28h1M0 29h3M4 29h2M7 29h2M1 30h1M3 30h3M7 30h3M1 31h1M3 31h1M5 31h1M8 31h1M0 32h10M12 32h2M2 33h8M12 33h2M0 34h1M6 34h1M8 34h5M15 34h1M12 35h3M12 36h2M15 36h2M13 37h6M16 38h3M12 39h1M15 39h5M15 40h1M18 40h3M24 40h1M21 41h1M24 41h1M18 42h1M22 42h5M21 43h2M24 43h2M27 43h2M65 43h1M22 44h1M24 44h1M27 44h4M23 45h1M29 45h1M31 45h1M26 46h1M30 46h4M32 47h1M34 47h2M34 48h5M64 48h1M35 49h5M64 49h1M36 50h1M38 50h3M42 50h1M44 50h1M63 50h1M40 51h6M63 51h1M40 52h1M43 52h2M46 52h2M45 53h1M47 53h3M62 53h1M49 54h4M51 55h4M56 55h1M52 56h2M55 56h6M56 57h3M56 59h1"/>
<path stroke="#eaf1f5" d="M70 9h1M70 10h1M70 11h1M3 29h1M0 30h1M2 30h1M0 31h1M2 31h1M4 31h1M7 31h1M10 32h1M0 33h2M10 33h2M1 34h5M7 34h1M1 35h11M1 36h4M6 36h6M1 37h2M5 37h1M7 37h6M2 38h2M5 38h1M7 38h1M9 38h7M3 39h3M7 39h1M10 39h2M14 39h1M1 40h1M4 40h1M11 40h4M17 40h1M0 41h1M8 41h1M10 41h1M13 41h7M12 42h2M15 42h3M19 42h3M1 43h1M9 43h1M12 43h1M17 43h4M23 43h1M26 43h1M13 44h9M23 44h1M25 44h2M16 45h1M19 45h4M24 45h5M3 46h1M17 46h1M19 46h3M24 46h2M27 46h3M13 47h1M22 47h1M26 47h6M19 48h1M23 48h1M26 48h1M28 48h1M31 48h3M31 49h4M32 50h2M35 50h1M37 50h1M34 51h6M35 52h1M37 52h3M41 52h2M45 52h1M63 52h1M36 53h1M38 53h1M41 53h4M46 53h1M39 54h1M41 54h2M44 54h1M46 54h3M62 54h1M38 55h1M49 55h2M61 55h2M48 56h1M50 56h1M54 56h1M61 56h1M51 57h5M59 57h3M50 58h1M54 58h5M60 58h1M53 59h2M57 59h3M52 60h1M56 60h1M58 60h1"/>
<path stroke="#eff3f6" d="M0 35h1M0 36h1M5 36h1M0 37h1M3 37h2M6 37h1M0 38h2M4 38h1M6 38h1M8 38h1M1 39h2M6 39h1M8 39h2M13 39h1M0 40h1M2 40h2M5 40h6M16 40h1M1 41h7M9 41h1M11 41h2M0 42h12M14 42h1M0 43h1M2 43h7M10 43h2M13 43h4M2 44h1M4 44h3M8 44h2M11 44h2M3 45h1M5 45h2M8 45h1M10 45h6M17 45h2M0 46h3M5 46h5M11 46h6M18 46h1M22 46h2M0 47h7M8 47h2M11 47h2M14 47h8M23 47h3M6 48h2M10 48h9M20 48h3M24 48h2M27 48h1M29 48h2M6 49h1M11 49h2M14 49h17M0 50h1M4 50h1M6 50h1M11 50h1M17 50h1M20 50h1M22 50h1M25 50h7M34 50h1M6 51h1M8 51h1M10 51h1M13 51h1M15 51h1M17 51h4M22 51h4M29 51h5M1 52h1M7 52h1M10 52h1M13 52h3M17 52h1M22 52h1M28 52h1M30 52h5M36 52h1M2 53h1M7 53h1M9 53h1M14 53h1M18 53h1M21 53h1M24 53h2M27 53h1M30 53h6M37 53h1M39 53h2M63 53h1M2 54h1M5 54h1M8 54h2M12 54h1M14 54h1M22 54h2M25 54h1M27 54h1M32 54h2M35 54h1M38 54h1M40 54h1M43 54h1M45 54h1M4 55h1M13 55h2M16 55h1M27 55h1M31 55h1M33 55h3M37 55h1M39 55h10M8 56h1M18 56h1M20 56h1M29 56h1M32 56h2M38 56h1M40 56h4M47 56h1M49 56h1M51 56h1M62 56h1M2 57h1M5 57h1M26 57h1M30 57h1M33 57h1M36 57h1M38 57h1M40 57h5M46 57h5M0 58h1M14 58h1M26 58h1M29 58h1M36 58h2M40 58h1M42 58h1M44 58h1M46 58h4M51 58h3M59 58h1M61 58h1M46 59h3M50 59h3M55 59h1M60 59h2M0 60h1M9 60h1M21 60h1M39 60h1M44 60h1M48 60h2M51 60h1M53 60h3M57 60h1M59 60h3M6 61h1M45 61h1M50 61h2M53 61h7M10 62h2M38 62h1M43 62h1M49 62h1M53 62h1M55 62h1M57 62h2M59 63h1M50 64h1"/>
<path stroke="#f4f6f7" d="M74 1h1M73 2h2M77 4h1M72 10h2M73 11h1M0 39h1M0 44h2M3 44h1M7 44h1M10 44h1M0 45h3M4 45h1M7 45h1M9 45h1M4 46h1M10 46h1M7 47h1M10 47h1M0 48h6M8 48h2M0 49h6M7 49h4M13 49h1M1 50h3M5 50h1M7 50h4M12 50h5M18 50h2M21 50h1M23 50h2M0 51h6M7 51h1M9 51h1M11 51h2M14 51h1M16 51h1M21 51h1M26 51h3M0 52h1M2 52h5M8 52h2M11 52h2M16 52h1M18 52h4M23 52h5M29 52h1M0 53h2M3 53h4M8 53h1M10 53h4M15 53h2M19 53h2M22 53h2M26 53h1M28 53h2M0 54h2M3 54h2M6 54h2M10 54h2M13 54h1M15 54h7M24 54h1M26 54h1M28 54h4M34 54h1M36 54h2M63 54h1M0 55h4M5 55h8M15 55h1M17 55h10M28 55h2M32 55h1M36 55h1M63 55h1M0 56h8M9 56h1M11 56h5M17 56h1M19 56h1M21 56h8M30 56h2M34 56h4M39 56h1M44 56h3M0 57h2M3 57h2M6 57h20M27 57h3M31 57h2M34 57h2M37 57h1M39 57h1M45 57h1M62 57h1M1 58h13M15 58h8M24 58h2M28 58h1M30 58h2M33 58h3M38 58h2M41 58h1M43 58h1M45 58h1M0 59h15M16 59h3M20 59h3M24 59h4M29 59h8M38 59h8M49 59h1M1 60h7M10 60h11M22 60h2M25 60h14M40 60h4M45 60h3M50 60h1M0 61h6M7 61h6M14 61h11M26 61h2M29 61h16M46 61h4M52 61h1M60 61h1M1 62h3M5 62h4M12 62h2M15 62h3M19 62h11M32 62h4M37 62h1M39 62h4M44 62h5M50 62h3M54 62h1M56 62h1M59 62h2M0 63h5M6 63h5M13 63h1M15 63h1M17 63h1M19 63h1M21 63h6M28 63h6M35 63h2M38 63h4M43 63h2M46 63h10M57 63h2M60 63h2M0 64h1M4 64h2M8 64h2M11 64h3M15 64h3M19 64h1M21 64h2M24 64h1M26 64h2M29 64h1M31 64h2M34 64h1M38 64h3M42 64h3M46 64h4M51 64h9M2 65h4M8 65h1M10 65h2M13 65h1M17 65h6M25 65h4M30 65h7M39 65h1M41 65h1M43 65h1M47 65h3M51 65h1M53 65h2M57 65h2M2 66h1M5 66h4M11 66h2M14 66h1M16 66h4M21 66h1M26 66h1M31 66h3M35 66h2M43 66h10M54 66h1M56 66h3"/>
<path stroke="#f7f5f4" d="M73 0h2M73 1h1M73 3h2M72 4h1M72 5h1M77 5h1M74 6h1M74 7h1M71 10h1M71 11h2M67 31h1M67 37h1M66 39h1M65 46h1M17 53h1M30 55h1M10 56h1M16 56h1M63 56h1M23 58h1M27 58h1M32 58h1M62 58h2M15 59h1M19 59h1M23 59h1M28 59h1M37 59h1M62 59h1M8 60h1M24 60h1M62 60h1M13 61h1M25 61h1M28 61h1M61 61h1M0 62h1M4 62h1M9 62h1M14 62h1M18 62h1M30 62h2M36 62h1M61 62h1M5 63h1M11 63h2M14 63h1M16 63h1M18 63h1M20 63h1M27 63h1M34 63h1M37 63h1M42 63h1M45 63h1M56 63h1M1 64h3M6 64h2M10 64h1M14 64h1M18 64h1M20 64h1M23 64h1M25 64h1M28 64h1M30 64h1M33 64h1M35 64h3M41 64h1M45 64h1M60 64h1M0 65h2M6 65h2M9 65h1M12 65h1M14 65h3M23 65h2M29 65h1M37 65h2M40 65h1M42 65h1M44 65h3M50 65h1M52 65h1M55 65h2M59 65h2M0 66h2M3 66h2M9 66h2M13 66h1M15 66h1M20 66h1M22 66h4M27 66h4M34 66h1M37 66h6M53 66h1M55 66h1M59 66h2"/>
<path stroke="#f8f1ed" d="M70 12h1M70 13h1M70 14h1M69 16h1M69 17h1M69 18h1M69 19h1M68 21h2M68 22h1M68 23h1M68 24h1M68 25h1M68 26h1M68 27h1M68 28h1M68 29h1M67 30h2M67 32h1M67 33h1M67 34h1M67 35h1M67 36h1M66 37h1M66 38h1M66 41h1M66 42h1M66 43h1M65 44h1M65 45h1M65 47h1M65 48h1M65 49h1M64 50h1M64 51h1M64 52h1M64 53h1M64 54h1M63 57h1M63 59h1M63 60h1M62 61h1M62 62h1M62 63h1M61 64h1M61 65h1M61 66h1"/>
<path stroke="#f9ede6" d="M69 15h1M69 20h1M66 40h1M65 50h1M64 55h1M64 56h1M64 57h1M63 61h1M63 62h1M62 64h1M62 65h1M62 66h1"/>
<path stroke="#fae9df" d="M64 59h1M64 60h1M63 63h1M63 64h1M63 65h1M97 65h1M63 66h1M99 66h1M117 66h2"/>
<path stroke="#fbe5d9" d="M64 58h1M64 61h1M64 62h1M117 62h1M99 63h1M107 63h1M111 63h1M113 63h2M117 63h2M98 64h1M100 64h5M106 64h2M109 64h10M95 65h2M98 65h21M95 66h4M100 66h11M112 66h5"/>
<path stroke="#fce1d2" d="M114 59h1M107 60h1M110 60h1M112 60h1M117 60h2M98 61h1M106 61h1M110 61h1M113 61h4M118 61h1M103 62h3M107 62h10M118 62h1M94 63h5M100 63h7M108 63h3M112 63h1M115 63h2M94 64h4M99 64h1M105 64h1M108 64h1M93 65h2M94 66h1M111 66h1"/>
<path stroke="#fcddcb" d="M115 56h2M117 57h1M108 58h2M112 58h7M106 59h6M113 59h1M115 59h4M96 60h1M100 60h2M103 60h1M105 60h1M108 60h2M111 60h1M113 60h4M95 61h3M100 61h6M107 61h3M111 61h2M117 61h1M95 62h8M106 62h1M93 64h1M92 66h2"/>
<path stroke="#fcd8c3" d="M116 54h2M112 55h1M115 55h1M118 55h1M111 56h3M117 56h2M104 57h1M109 57h1M111 57h6M118 57h1M97 58h1M101 58h1M103 58h3M107 58h1M110 58h2M95 59h3M99 59h3M103 59h3M112 59h1M95 60h1M97 60h3M102 60h1M104 60h1M106 60h1M94 61h1M99 61h1M93 62h2M92 63h2M92 64h1M91 65h2M91 66h1"/>
<path stroke="#fbd0b9" d="M116 52h2M112 53h3M117 53h2M109 54h1M113 54h3M118 54h1M105 55h1M108 55h4M113 55h2M116 55h2M99 56h1M102 56h1M104 56h7M114 56h1M95 57h1M97 57h2M100 57h1M102 57h2M105 57h4M110 57h1M98 58h3M102 58h1M106 58h1M94 59h1M98 59h1M102 59h1M93 60h2M92 61h2M92 62h1M91 63h1M91 64h1M90 65h1M89 66h2"/>
<path stroke="#fac9b0" d="M116 50h3M116 51h1M118 51h1M107 52h1M110 52h6M118 52h1M105 53h1M107 53h2M110 53h2M115 53h2M103 54h1M106 54h1M108 54h1M110 54h3M98 55h1M101 55h2M104 55h1M106 55h2M94 56h1M96 56h3M100 56h2M103 56h1M94 57h1M96 57h1M99 57h1M101 57h1M94 58h3M93 59h1M92 60h1M91 61h1M91 62h1M90 63h1M90 64h1M89 65h1"/>
<path stroke="#f9c1a6" d="M115 48h2M114 49h5M111 50h1M113 50h3M109 51h4M114 51h2M117 51h1M105 52h2M109 52h1M101 53h3M106 53h1M109 53h1M95 54h1M98 54h1M100 54h3M104 54h2M107 54h1M94 55h4M99 55h2M103 55h1M93 56h1M95 56h1M92 57h2M92 58h2M92 59h1M91 60h1M90 62h1M89 63h1M89 64h1"/>
<path stroke="#f7ba9c" d="M116 46h1M118 47h1M111 48h4M117 48h2M109 49h5M107 50h4M112 50h1M104 51h5M113 51h1M99 52h1M102 52h3M108 52h1M95 53h5M104 53h1M94 54h1M96 54h2M99 54h1M91 58h1M90 59h2M90 60h1M90 61h1M89 62h1"/>
<path stroke="#f6b293" d="M117 44h1M117 45h2M111 46h1M113 46h1M115 46h1M117 46h2M110 47h8M108 48h3M104 49h5M102 50h5M97 51h1M101 51h3M95 52h1M97 52h2M100 52h2M100 53h1M93 54h1M91 55h3M92 56h1M91 57h1M90 58h1M89 60h1M89 61h1"/>
<path stroke="#f5aa89" d="M77 6h1M75 8h1M75 9h2M76 10h1M118 37h1M116 40h1M118 40h1M114 43h1M117 43h1M114 44h3M118 44h1M110 45h7M106 46h5M112 46h1M114 46h1M105 47h5M101 48h1M103 48h5M101 49h3M96 50h6M95 51h2M98 51h3M94 52h1M96 52h1M93 53h2M92 54h1M91 56h1M90 57h1M89 58h1M89 59h1M88 64h1M88 65h1M88 66h1"/>
<path stroke="#f3a280" d="M76 0h1M76 1h1M71 2h1M71 3h1M73 4h1M73 5h1M73 6h1M75 6h2M73 7h1M75 7h3M76 8h1M76 11h1M118 32h1M117 33h1M117 34h2M116 35h3M117 36h2M116 37h1M112 38h1M116 38h3M114 39h3M118 39h1M110 40h1M112 40h1M114 40h2M117 40h1M109 41h1M113 41h6M110 42h1M112 42h1M114 42h5M109 43h5M115 43h2M118 43h1M109 44h5M108 45h2M104 46h1M102 47h3M96 48h1M100 48h1M102 48h1M96 49h1M98 49h3M95 50h1M94 51h1M92 53h1M91 54h1M90 55h1M90 56h1M89 57h1"/>
<path stroke="#ef9878" d="M116 30h2M114 31h2M117 31h2M113 32h1M116 32h2M114 33h3M118 33h1M112 34h1M114 34h3M113 35h3M112 36h5M111 37h1M113 37h3M117 37h1M113 38h3M110 39h4M117 39h1M109 40h1M111 40h1M113 40h1M108 41h1M110 41h3M108 42h2M111 42h1M113 42h1M106 43h3M106 44h3M103 45h5M101 46h3M105 46h1M97 47h5M97 48h3M95 49h1M97 49h1M94 50h1M93 51h1M92 52h2M91 53h1M89 56h1M88 62h1M88 63h1"/>
<path stroke="#ea8f71" d="M71 12h1M72 13h1M70 15h2M70 17h1M70 20h1M69 22h1M69 24h1M69 25h2M70 27h1M70 28h1M118 28h1M69 29h1M116 29h1M118 29h1M115 30h1M118 30h1M68 31h1M113 31h1M116 31h1M68 32h2M111 32h1M114 32h2M69 33h1M112 33h2M110 34h1M113 34h1M68 35h2M111 35h2M68 36h1M109 36h3M68 37h1M110 37h1M112 37h1M108 38h4M68 39h1M107 39h1M109 39h1M67 40h2M104 40h1M107 40h2M68 41h1M106 41h2M104 42h1M106 42h2M103 43h3M101 44h5M67 45h1M100 45h3M98 46h3M66 47h2M95 47h2M94 48h2M66 49h1M94 49h1M66 50h1M93 50h1M65 51h1M92 51h1M65 52h1M91 52h1M90 53h1M66 54h1M89 54h2M65 55h2M89 55h1M65 56h2M66 57h1M65 60h1M88 60h1M65 61h1M88 61h1M65 62h1M64 65h1M65 66h1"/>
<path stroke="#e68569" d="M72 12h1M71 13h1M71 14h1M70 16h2M71 17h1M70 18h2M70 19h1M70 21h1M70 22h1M69 23h2M70 24h1M69 26h2M69 27h1M116 27h3M69 28h1M115 28h3M112 29h4M117 29h1M69 30h1M110 30h5M69 31h1M111 31h2M110 32h1M112 32h1M68 33h1M110 33h2M68 34h2M109 34h1M111 34h1M108 35h3M107 36h2M106 37h4M67 38h2M106 38h2M67 39h1M104 39h1M106 39h1M108 39h1M105 40h2M67 41h1M101 41h1M103 41h3M67 42h1M101 42h3M105 42h1M67 43h1M99 43h1M101 43h2M66 44h2M98 44h2M66 45h1M96 45h4M66 46h2M96 46h2M94 47h1M66 48h2M93 48h1M92 49h2M66 51h1M91 51h1M66 52h1M90 52h1M65 53h2M65 54h1M65 57h1M65 58h1M88 58h1M65 59h1M88 59h1M64 63h2M64 64h2M65 65h1M64 66h1"/>
<path stroke="#e27b62" d="M116 25h3M115 26h4M114 27h2M112 28h3M111 29h1M110 31h1M108 32h2M109 33h1M106 34h3M107 35h1M105 36h2M105 37h1M105 38h1M102 39h2M105 39h1M102 40h2M100 41h1M102 41h1M99 42h2M96 43h1M98 43h1M100 43h1M95 44h3M100 44h1M95 45h1M94 46h2M93 47h1M92 48h1M91 49h1M91 50h2M90 51h1M89 52h1M89 53h1M88 57h1"/>
<path stroke="#de715a" d="M115 24h4M115 25h1M113 26h2M111 27h3M110 28h2M109 29h2M108 30h2M108 31h2M107 32h1M106 33h3M105 34h1M104 35h3M103 36h2M102 37h3M101 38h4M100 39h2M99 40h3M97 41h3M96 42h3M97 43h1M94 45h1M93 46h1M92 47h1M91 48h1M90 50h1M88 56h1"/>
<path stroke="#d96853" d="M117 22h2M117 23h2M114 24h1M113 25h2M111 26h2M110 27h1M109 28h1M108 29h1M106 31h2M105 32h2M105 33h1M103 34h2M102 35h2M102 36h1M99 37h3M99 38h2M98 39h2M96 40h3M95 41h2M95 42h1M94 43h2M92 44h3M93 45h1M92 46h1M90 49h1M89 51h1M88 55h1"/>
<path stroke="#d55e4c" d="M117 21h1M115 22h2M114 23h3M111 24h3M110 25h3M109 26h2M109 27h1M108 28h1M106 29h2M106 30h2M105 31h1M103 32h2M103 33h2M102 34h1M99 36h3M97 38h2M96 39h2M94 40h1M94 41h1M93 42h2M92 43h2M91 45h2M91 46h1M90 47h2M90 48h1M89 49h1M89 50h1M88 54h1"/>
<path stroke="#d05447" d="M116 20h1M118 20h1M115 21h2M118 21h1M113 22h2M110 23h1M112 23h2M110 24h1M108 25h2M108 26h1M108 27h1M107 28h1M105 29h1M105 30h1M104 31h1M102 32h1M101 33h2M100 34h2M100 35h2M98 36h1M97 37h2M96 38h1M95 39h1M95 40h1M93 41h1M92 42h1M90 46h1M88 53h1"/>
<path stroke="#cb4a42" d="M118 19h1M113 20h1M117 20h1M112 21h1M114 21h1M112 22h1M111 23h1M107 26h1M106 27h2M105 28h2M104 29h1M103 30h2M102 31h2M100 32h2M100 33h1M99 34h1M96 35h4M96 36h2M94 37h3M94 38h2M93 39h2M92 40h1M92 41h1M91 42h1M91 43h1M90 44h2M90 45h1M89 47h1M89 48h1M88 52h1M87 64h1M87 65h1M87 66h1"/>
<path stroke="#c6403e" d="M116 18h1M118 18h1M113 19h1M115 19h3M114 20h2M110 21h2M113 21h1M110 22h2M109 23h1M107 24h3M107 25h1M106 26h1M105 27h1M103 29h1M101 30h2M101 31h1M99 33h1M97 34h2M93 37h1M93 38h1M92 39h1M93 40h1M90 41h2M90 42h1M90 43h1M89 46h1M88 51h1M87 63h1"/>
<path stroke="#c13539" d="M117 15h2M118 16h1M114 17h2M118 17h1M114 18h2M117 18h1M112 19h1M114 19h1M110 20h3M109 22h1M108 23h1M106 24h1M105 25h2M105 26h1M104 27h1M103 28h2M102 29h1M99 31h2M98 32h2M98 33h1M95 35h1M94 36h2M92 37h1M91 38h2M91 39h1M91 40h1M89 45h1M88 50h1M87 59h1M87 60h1M87 61h1M87 62h1"/>
<path stroke="#bc2b34" d="M117 10h1M118 11h1M117 12h2M118 13h1M116 14h3M114 15h3M113 16h5M112 17h2M116 17h2M111 18h3M110 19h2M109 20h1M109 21h1M107 22h2M107 23h1M105 24h1M104 25h1M104 26h1M103 27h1M101 29h1M100 30h1M98 31h1M97 32h1M96 33h2M95 34h2M94 35h1M93 36h1M90 40h1M89 43h1M89 44h1M88 48h1M88 49h1M87 58h1"/>
<path stroke="#b7212f" d="M118 4h1M118 5h1M117 7h2M116 8h3M117 9h2M116 10h1M118 10h1M115 11h3M113 12h4M113 13h5M113 14h3M113 15h1M112 16h1M111 17h1M109 19h1M108 20h1M107 21h2M106 22h1M106 23h1M103 25h1M102 26h2M101 27h2M101 28h2M100 29h1M99 30h1M96 31h1M96 32h1M94 33h2M94 34h1M93 35h1M91 36h2M91 37h1M90 38h1M90 39h1M89 42h1M87 56h1M87 57h1"/>
<path stroke="#b1182b" d="M116 0h3M115 1h4M116 2h3M117 3h2M115 4h3M115 5h3M116 6h3M116 7h1M114 8h2M114 9h3M114 10h2M113 11h2M112 12h1M112 13h1M111 14h2M111 15h2M111 16h1M109 17h2M109 18h2M108 19h1M107 20h1M106 21h1M104 23h2M103 24h2M102 25h1M100 28h1M97 30h2M97 31h1M95 32h1M93 34h1M92 35h1M90 37h1M89 40h1M89 41h1M88 46h1M88 47h1M87 55h1"/>
<path stroke="#a61429" d="M114 0h2M113 1h2M114 2h2M114 3h3M113 4h2M113 5h2M112 6h4M113 7h3M113 8h1M111 9h3M112 10h2M112 11h1M111 12h1M111 13h1M110 15h1M109 16h2M107 18h2M105 21h1M105 22h1M103 23h1M102 24h1M101 26h1M100 27h1M99 28h1M98 29h2M96 30h1M95 31h1M94 32h1M92 33h2M92 34h1M91 35h1M90 36h1M89 37h1M89 39h1M88 43h1M88 45h1M87 53h1M87 54h1"/>
<path stroke="#9c1127" d="M113 0h1M112 1h1M72 2h1M112 2h2M113 3h1M76 4h1M112 4h1M112 5h1M112 7h1M111 8h2M111 10h1M110 11h2M110 12h1M109 13h2M109 14h2M109 15h1M108 16h1M108 17h1M106 19h2M106 20h1M102 22h3M102 23h1M101 25h1M96 29h1M94 30h2M93 31h2M93 32h1M91 34h1M90 35h1M89 38h1M88 42h1M88 44h1M87 51h1M87 52h1"/>
<path stroke="#910e26" d="M75 0h1M112 0h1M75 1h1M75 2h1M72 3h1M75 3h1M112 3h1M75 4h1M111 4h1M71 5h1M76 5h1M111 5h1M111 6h1M71 7h2M110 7h2M71 8h4M110 8h1M71 9h1M73 9h1M110 9h1M74 10h1M109 10h2M109 11h1M109 12h1M108 13h1M108 14h1M108 15h1M107 17h1M106 18h1M105 19h1M105 20h1M102 21h3M101 23h1M100 24h2M100 25h1M99 26h2M99 27h1M95 28h1M97 28h2M94 29h2M97 29h1M93 30h1M92 31h1M92 32h1M91 33h1M89 35h1M89 36h1M88 40h1M88 41h1"/>
<path stroke="#870a24" d="M71 0h1M71 1h1M111 2h1M111 3h1M71 4h1M75 5h1M71 6h2M109 6h2M109 7h1M109 8h1M72 9h1M74 9h1M109 9h1M74 11h1M108 11h1M108 12h1M107 14h1M107 15h1M107 16h1M106 17h1M103 19h1M103 20h2M98 27h1M96 28h1M92 30h1M90 33h1M90 34h1M88 37h1M88 38h1M88 39h1"/>
<path stroke="#7c0722" d="M110 0h2M111 1h1M110 3h1M109 4h2M109 5h2M108 6h1M108 8h1M108 9h1M107 10h2M107 11h1M107 12h1M106 13h2M105 15h1M106 16h1M105 17h1M104 18h2M104 19h1M99 25h1M98 26h1M97 27h1M91 31h1M91 32h1M89 33h1M89 34h1M88 35h1M88 36h1"/>
<path stroke="#720321" d="M110 1h1M110 2h1M109 3h1M108 7h1M107 9h1M106 12h1M106 14h1M106 15h1M105 16h1M90 31h1M90 32h1"/>
<path stroke="#67001f" d="M78 0h32M78 1h32M78 2h32M78 3h31M78 4h31M78 5h31M78 6h30M78 7h30M78 8h30M78 9h29M78 10h29M78 11h29M73 12h33M73 13h33M72 14h34M72 15h33M72 16h33M72 17h33M72 18h32M71 19h32M71 20h32M71 21h31M71 22h31M71 23h30M71 24h29M71 25h28M71 26h27M71 27h26M71 28h24M70 29h24M70 30h22M70 31h20M70 32h20M70 33h19M70 34h19M70 35h18M69 36h19M69 37h19M69 38h19M69 39h19M69 40h19M69 41h19M68 42h20M68 43h20M68 44h20M68 45h20M68 46h20M68 47h20M68 48h20M67 49h21M67 50h21M67 51h20M67 52h20M67 53h20M67 54h20M67 55h20M67 56h20M67 57h20M66 58h21M66 59h21M66 60h21M66 61h21M66 62h21M66 63h21M66 64h21M66 65h21M66 66h21"/>
</g></g>
<path d="M222.1 111.9H890.5" stroke="#000" stroke-width="3.5" stroke-dasharray="15.6 11.7" fill="none"/><path d="M219 111.9H223" stroke="#000" stroke-width="3.5"/>
<path d="M222.1 258.7H890.5" stroke="#000" stroke-width="3.5" stroke-dasharray="15.6 11.7" fill="none"/><path d="M219 258.7H223" stroke="#000" stroke-width="3.5"/>
<path d="M222.1 422.1H890.5" stroke="#000" stroke-width="3.5" stroke-dasharray="15.6 11.7" fill="none"/><path d="M219 422.1H223" stroke="#000" stroke-width="3.5"/>
<path d="M222.1 507.4H890.5" stroke="#000" stroke-width="3.5" stroke-dasharray="15.6 11.7" fill="none"/><path d="M219 507.4H223" stroke="#000" stroke-width="3.5"/>
<path d="M222.1 654.1H890.5" stroke="#000" stroke-width="3.5" stroke-dasharray="15.6 11.7" fill="none"/><path d="M219 654.1H223" stroke="#000" stroke-width="3.5"/>
<path d="M222.1 814.7H890.5" stroke="#000" stroke-width="3.5" stroke-dasharray="15.6 11.7" fill="none"/><path d="M219 814.7H223" stroke="#000" stroke-width="3.5"/>
<rect x="218.8" y="53.7" width="685.0999999999999" height="790.5" fill="none" stroke="#000" stroke-width="2.5"/>
<line x1="218.8" y1="449.6" x2="903.9" y2="449.6" stroke="#000" stroke-width="2.5"/>
<line x1="207.05" y1="111.9" x2="217.55" y2="111.9" stroke="#000" stroke-width="2.4"/>
<text transform="translate(196.7 130.6) scale(1 1.04)" font-size="42" text-anchor="end">-0.20</text>
<line x1="207.05" y1="258.7" x2="217.55" y2="258.7" stroke="#000" stroke-width="2.4"/>
<text transform="translate(196.7 274.1) scale(1 1.04)" font-size="42" text-anchor="end">-0.15</text>
<line x1="207.05" y1="405.3" x2="217.55" y2="405.3" stroke="#000" stroke-width="2.4"/>
<text transform="translate(195.7 420.9) scale(1 1.04)" font-size="42" text-anchor="end">-0.10</text>
<line x1="207.05" y1="507.4" x2="217.55" y2="507.4" stroke="#000" stroke-width="2.4"/>
<text transform="translate(196.7 524.0) scale(1 1.04)" font-size="42" text-anchor="end">-0.20</text>
<line x1="207.05" y1="654.1" x2="217.55" y2="654.1" stroke="#000" stroke-width="2.4"/>
<text transform="translate(196.7 668.0) scale(1 1.04)" font-size="42" text-anchor="end">-0.15</text>
<line x1="207.05" y1="800" x2="217.55" y2="800" stroke="#000" stroke-width="2.4"/>
<text transform="translate(195.7 813.3) scale(1 1.04)" font-size="42" text-anchor="end">-0.10</text>
<line x1="337.1" y1="845.45" x2="337.1" y2="855.95" stroke="#000" stroke-width="2.4"/>
<text transform="translate(339.8 898.2) scale(1 1.04)" font-size="46" text-anchor="middle">-2</text>
<line x1="572.5" y1="845.45" x2="572.5" y2="855.95" stroke="#000" stroke-width="2.4"/>
<text transform="translate(573.7 898.2) scale(1 1.04)" font-size="46" text-anchor="middle">0</text>
<line x1="807.9" y1="845.45" x2="807.9" y2="855.95" stroke="#000" stroke-width="2.4"/>
<text transform="translate(809.1 898.2) scale(1 1.04)" font-size="46" text-anchor="middle">2</text>
<text x="430.8" y="961.4" font-size="53.6"><tspan font-style="italic">n</tspan> (10<tspan font-size="32.4" dy="-18.5">11</tspan><tspan dy="18.5"> cm</tspan><tspan font-size="32.4" dy="-18.5">-2</tspan><tspan dy="18.5">)</tspan></text>
<text transform="translate(76.5 439) rotate(-90)" font-size="45.8" text-anchor="middle"><tspan font-style="italic">D</tspan> (V/nm)</text>
<text x="924.3" y="168.7" font-size="37.8"><tspan font-style="italic">R</tspan><tspan font-style="italic" font-size="22" dy="11">xx</tspan><tspan dy="-11"> (kΩ)</tspan></text>
<rect x="923.50" y="212.30" width="34.20" height="237.00" fill="url(#cbx)" stroke="#000" stroke-width="2.6"/>
<line x1="958.5" y1="212.1" x2="964.5" y2="212.1" stroke="#000" stroke-width="2.1"/>
<text transform="translate(984 224.2) scale(1 1.04)" font-size="42" text-anchor="start">100</text>
<line x1="958.5" y1="387" x2="964.5" y2="387" stroke="#000" stroke-width="2.1"/>
<text transform="translate(984 414) scale(1 1.04)" font-size="42" text-anchor="start">1</text>
<text x="924.3" y="558.6" font-size="37.8"><tspan font-style="italic">R</tspan><tspan font-style="italic" font-size="22" dy="11">xy</tspan><tspan dy="-11"> (kΩ)</tspan></text>
<rect x="923.50" y="607.30" width="34.20" height="237.00" fill="url(#cb)" stroke="#000" stroke-width="2.6"/>
<line x1="958.5" y1="607.4" x2="970.5" y2="607.4" stroke="#000" stroke-width="2.1"/>
<text transform="translate(988 621) scale(1 1.04)" font-size="42" text-anchor="start">8</text>
<line x1="958.5" y1="725.6" x2="970.5" y2="725.6" stroke="#000" stroke-width="2.1"/>
<text transform="translate(988 740.5) scale(1 1.04)" font-size="42" text-anchor="start">0</text>
<line x1="958.5" y1="844.1" x2="970.5" y2="844.1" stroke="#000" stroke-width="2.1"/>
<text transform="translate(988 858) scale(1 1.04)" font-size="42" text-anchor="start">-8</text>
<text x="-2.5" y="44.6" font-size="62" text-anchor="start" font-weight="bold">a</text>
<path d="M1432 57L1785 446" stroke="#000" stroke-width="3.9" stroke-dasharray="15.6 11.7" fill="none"/>
<path d="M1432 451L1785 840" stroke="#000" stroke-width="3.9" stroke-dasharray="15.6 11.7" fill="none"/>
<rect x="1303.5" y="52.8" width="712.8" height="789.2" fill="none" stroke="#000" stroke-width="2.5"/>
<line x1="1303.5" y1="447.5" x2="2016.3" y2="447.5" stroke="#000" stroke-width="2.5"/>
<line x1="1291.75" y1="118.4" x2="1302.25" y2="118.4" stroke="#000" stroke-width="2.4"/>
<text transform="translate(1281 134.5) scale(1 1.04)" font-size="46" text-anchor="end">1.5</text>
<line x1="1291.75" y1="228.1" x2="1302.25" y2="228.1" stroke="#000" stroke-width="2.4"/>
<text transform="translate(1281 245.5) scale(1 1.04)" font-size="46" text-anchor="end">1.0</text>
<line x1="1291.75" y1="337.9" x2="1302.25" y2="337.9" stroke="#000" stroke-width="2.4"/>
<text transform="translate(1281 356.2) scale(1 1.04)" font-size="46" text-anchor="end">0.5</text>
<line x1="1291.75" y1="447.5" x2="1302.25" y2="447.5" stroke="#000" stroke-width="2.4"/>
<text transform="translate(1281 465.4) scale(1 1.04)" font-size="46" text-anchor="end">0.0</text>
<line x1="1291.75" y1="513.3" x2="1302.25" y2="513.3" stroke="#000" stroke-width="2.4"/>
<text transform="translate(1281 533.5) scale(1 1.04)" font-size="46" text-anchor="end">1.5</text>
<line x1="1291.75" y1="622.9" x2="1302.25" y2="622.9" stroke="#000" stroke-width="2.4"/>
<text transform="translate(1281 644.2) scale(1 1.04)" font-size="46" text-anchor="end">1.0</text>
<line x1="1291.75" y1="732.3" x2="1302.25" y2="732.3" stroke="#000" stroke-width="2.4"/>
<text transform="translate(1281 752.7) scale(1 1.04)" font-size="46" text-anchor="end">0.5</text>
<line x1="1291.75" y1="842" x2="1302.25" y2="842" stroke="#000" stroke-width="2.4"/>
<text transform="translate(1279.5 857.4) scale(1 1.04)" font-size="46" text-anchor="end">0.0</text>
<line x1="1427.8" y1="843.25" x2="1427.8" y2="853.75" stroke="#000" stroke-width="2.4"/>
<text transform="translate(1432.8 899.6) scale(1 1.04)" font-size="46" text-anchor="middle">-2</text>
<line x1="1605.7" y1="843.25" x2="1605.7" y2="853.75" stroke="#000" stroke-width="2.4"/>
<text transform="translate(1609.2 899.6) scale(1 1.04)" font-size="46" text-anchor="middle">-1</text>
<line x1="1783.6" y1="843.25" x2="1783.6" y2="853.75" stroke="#000" stroke-width="2.4"/>
<text transform="translate(1784.7 899.6) scale(1 1.04)" font-size="46" text-anchor="middle">0</text>
<line x1="1961.5" y1="843.25" x2="1961.5" y2="853.75" stroke="#000" stroke-width="2.4"/>
<text transform="translate(1967.0 899.6) scale(1 1.04)" font-size="46" text-anchor="middle">1</text>
<text x="1523" y="965.7" font-size="53.6"><tspan font-style="italic">n</tspan> (10<tspan font-size="32.4" dy="-18.5">11</tspan><tspan dy="18.5"> cm</tspan><tspan font-size="32.4" dy="-18.5">-2</tspan><tspan dy="18.5">)</tspan></text>
<text transform="translate(1188 441.5) rotate(-90)" font-size="46.5" text-anchor="middle"><tspan font-style="italic">B</tspan> (T)</text>
<text x="2034.5" y="173.1" font-size="38"><tspan font-style="italic">R</tspan><tspan font-style="italic" font-size="21.5" dy="13.5">xx</tspan><tspan dy="-13.5"> (kΩ)</tspan></text>
<rect x="2037.05" y="210.55" width="36.20" height="237.70" fill="url(#cbx)" stroke="#000" stroke-width="1.9"/>
<line x1="2073.7" y1="299.6" x2="2079.5" y2="299.6" stroke="#000" stroke-width="2.1"/>
<text transform="translate(2093.7 318.5) scale(1 1.04)" font-size="44.5" text-anchor="start">5</text>
<line x1="2073.7" y1="448" x2="2079.5" y2="448" stroke="#000" stroke-width="2.1"/>
<text transform="translate(2093.7 465.5) scale(1 1.04)" font-size="44.5" text-anchor="start">0</text>
<text x="2034.8" y="576" font-size="38"><tspan font-style="italic">R</tspan><tspan font-style="italic" font-size="22.5" dy="10.5">xy</tspan><tspan dy="-10.5"> (kΩ)</tspan></text>
<rect x="2037.05" y="605.75" width="36.20" height="236.10" fill="url(#cb)" stroke="#000" stroke-width="1.9"/>
<line x1="2073.7" y1="649.4" x2="2079.5" y2="649.4" stroke="#000" stroke-width="2.1"/>
<text transform="translate(2094.3 666) scale(1 1.04)" font-size="44.5" text-anchor="start">5</text>
<line x1="2073.7" y1="723.3" x2="2079.5" y2="723.3" stroke="#000" stroke-width="2.1"/>
<text transform="translate(2094.3 739.2) scale(1 1.04)" font-size="44.5" text-anchor="start">0</text>
<line x1="2073.7" y1="797.5" x2="2079.5" y2="797.5" stroke="#000" stroke-width="2.1"/>
<text transform="translate(2094.3 813.2) scale(1 1.04)" font-size="44.5" text-anchor="start">-5</text>
<text transform="translate(1452 373.3) scale(1 1.04)" font-size="46" text-anchor="start" fill="#fff">C = -5</text>
<text transform="translate(1339 796.8) scale(1 1.04)" font-size="49.5"><tspan font-style="italic">D</tspan> = -0.15 V/nm</text>
<text x="1113.8" y="44.6" font-size="62" text-anchor="start" font-weight="bold">b</text>
<path d="M370 1036L697.5 1428" stroke="#000" stroke-width="3.9" stroke-dasharray="15.6 11.7" fill="none"/>
<path d="M370 1433L697.5 1824" stroke="#000" stroke-width="3.9" stroke-dasharray="15.6 11.7" fill="none"/>
<rect x="213.5" y="1034.4" width="712.7" height="792.5" fill="none" stroke="#000" stroke-width="2.5"/>
<line x1="213.5" y1="1430.7" x2="926.2" y2="1430.7" stroke="#000" stroke-width="2.5"/>
<line x1="201.75" y1="1034.4" x2="212.25" y2="1034.4" stroke="#000" stroke-width="2.4"/>
<text transform="translate(191 1051.7) scale(1 1.04)" font-size="46" text-anchor="end">3</text>
<line x1="201.75" y1="1166.4" x2="212.25" y2="1166.4" stroke="#000" stroke-width="2.4"/>
<text transform="translate(191 1180.2) scale(1 1.04)" font-size="46" text-anchor="end">2</text>
<line x1="201.75" y1="1298.9" x2="212.25" y2="1298.9" stroke="#000" stroke-width="2.4"/>
<text transform="translate(191 1315.1) scale(1 1.04)" font-size="46" text-anchor="end">1</text>
<line x1="201.75" y1="1430.7" x2="212.25" y2="1430.7" stroke="#000" stroke-width="2.4"/>
<text transform="translate(191 1450.2) scale(1 1.04)" font-size="46" text-anchor="end">0</text>
<line x1="201.75" y1="1562.8" x2="212.25" y2="1562.8" stroke="#000" stroke-width="2.4"/>
<text transform="translate(191 1578.6) scale(1 1.04)" font-size="46" text-anchor="end">2</text>
<line x1="201.75" y1="1694.7" x2="212.25" y2="1694.7" stroke="#000" stroke-width="2.4"/>
<text transform="translate(191 1711.0) scale(1 1.04)" font-size="46" text-anchor="end">1</text>
<line x1="201.75" y1="1826.9" x2="212.25" y2="1826.9" stroke="#000" stroke-width="2.4"/>
<text transform="translate(191 1842.6) scale(1 1.04)" font-size="46" text-anchor="end">0</text>
<line x1="338" y1="1828.15" x2="338" y2="1838.65" stroke="#000" stroke-width="2.4"/>
<text transform="translate(343.3 1883.3) scale(1 1.04)" font-size="46" text-anchor="middle">-2</text>
<line x1="516.4" y1="1828.15" x2="516.4" y2="1838.65" stroke="#000" stroke-width="2.4"/>
<text transform="translate(521.9 1883.3) scale(1 1.04)" font-size="46" text-anchor="middle">-1</text>
<line x1="694.8" y1="1828.15" x2="694.8" y2="1838.65" stroke="#000" stroke-width="2.4"/>
<text transform="translate(694.8 1883.3) scale(1 1.04)" font-size="46" text-anchor="middle">0</text>
<line x1="873.2" y1="1828.15" x2="873.2" y2="1838.65" stroke="#000" stroke-width="2.4"/>
<text transform="translate(875.2 1883.3) scale(1 1.04)" font-size="46" text-anchor="middle">1</text>
<text x="433.3" y="1949.7" font-size="53.6"><tspan font-style="italic">n</tspan> (10<tspan font-size="32.4" dy="-18.5">11</tspan><tspan dy="18.5"> cm</tspan><tspan font-size="32.4" dy="-18.5">-2</tspan><tspan dy="18.5">)</tspan></text>
<text transform="translate(98.5 1420) rotate(-90)" font-size="46.5" text-anchor="middle"><tspan font-style="italic">B</tspan> (T)</text>
<text x="946" y="1159.7" font-size="38"><tspan font-style="italic">R</tspan><tspan font-style="italic" font-size="21.5" dy="13.5">xx</tspan><tspan dy="-13.5"> (kΩ)</tspan></text>
<rect x="946.90" y="1192.90" width="36.40" height="237.60" fill="url(#cb)" stroke="#000" stroke-width="2.2"/>
<line x1="983.9" y1="1193.4" x2="989.6999999999999" y2="1193.4" stroke="#000" stroke-width="2.1"/>
<text transform="translate(1005 1210) scale(1 1.04)" font-size="44.5" text-anchor="start">100</text>
<line x1="983.9" y1="1399.6" x2="989.6999999999999" y2="1399.6" stroke="#000" stroke-width="2.1"/>
<text transform="translate(1005 1416) scale(1 1.04)" font-size="44.5" text-anchor="start">1</text>
<text x="946" y="1562.3" font-size="38"><tspan font-style="italic">R</tspan><tspan font-style="italic" font-size="22.5" dy="10.5">xy</tspan><tspan dy="-10.5"> (kΩ)</tspan></text>
<rect x="946.90" y="1588.60" width="36.40" height="237.60" fill="url(#cb)" stroke="#000" stroke-width="2.2"/>
<line x1="983.9" y1="1628.6" x2="989.6999999999999" y2="1628.6" stroke="#000" stroke-width="2.1"/>
<text transform="translate(1005 1644) scale(1 1.04)" font-size="44.5" text-anchor="start">10</text>
<line x1="983.9" y1="1707.4" x2="989.6999999999999" y2="1707.4" stroke="#000" stroke-width="2.1"/>
<text transform="translate(1005 1723) scale(1 1.04)" font-size="44.5" text-anchor="start">0</text>
<line x1="983.9" y1="1786.9" x2="989.6999999999999" y2="1786.9" stroke="#000" stroke-width="2.1"/>
<text transform="translate(1000.2 1802) scale(1 1.04)" font-size="44.5" text-anchor="start">-10</text>
<text transform="translate(370.5 1298.3) scale(1 1.04)" font-size="49.5" text-anchor="start">C = -3</text>
<text transform="translate(258.5 1785.5) scale(1 1.04)" font-size="49.5"><tspan font-style="italic">D</tspan> = -0.093 V/nm</text>
<text x="-2.5" y="983" font-size="62" text-anchor="start" font-weight="bold">c</text>
<path d="M1440 1036L1771 1428" stroke="#000" stroke-width="3.9" stroke-dasharray="15.6 11.7" fill="none"/>
<path d="M1452 1433L1783 1824" stroke="#000" stroke-width="3.9" stroke-dasharray="15.6 11.7" fill="none"/>
<rect x="1303.2" y="1034.4" width="713.5999999999999" height="792.5" fill="none" stroke="#000" stroke-width="2.5"/>
<line x1="1303.2" y1="1430.7" x2="2016.8" y2="1430.7" stroke="#000" stroke-width="2.5"/>
<line x1="1291.45" y1="1034.4" x2="1301.95" y2="1034.4" stroke="#000" stroke-width="2.4"/>
<text transform="translate(1279.6 1051.7) scale(1 1.04)" font-size="46" text-anchor="end">3</text>
<line x1="1291.45" y1="1166.4" x2="1301.95" y2="1166.4" stroke="#000" stroke-width="2.4"/>
<text transform="translate(1279.6 1180.2) scale(1 1.04)" font-size="46" text-anchor="end">2</text>
<line x1="1291.45" y1="1298.9" x2="1301.95" y2="1298.9" stroke="#000" stroke-width="2.4"/>
<text transform="translate(1279.6 1315.1) scale(1 1.04)" font-size="46" text-anchor="end">1</text>
<line x1="1291.45" y1="1430.7" x2="1301.95" y2="1430.7" stroke="#000" stroke-width="2.4"/>
<text transform="translate(1279.6 1450.2) scale(1 1.04)" font-size="46" text-anchor="end">0</text>
<line x1="1291.45" y1="1562.8" x2="1301.95" y2="1562.8" stroke="#000" stroke-width="2.4"/>
<text transform="translate(1279.6 1578.6) scale(1 1.04)" font-size="46" text-anchor="end">2</text>
<line x1="1291.45" y1="1694.7" x2="1301.95" y2="1694.7" stroke="#000" stroke-width="2.4"/>
<text transform="translate(1279.6 1711.0) scale(1 1.04)" font-size="46" text-anchor="end">1</text>
<line x1="1291.45" y1="1826.9" x2="1301.95" y2="1826.9" stroke="#000" stroke-width="2.4"/>
<text transform="translate(1279.6 1842.6) scale(1 1.04)" font-size="46" text-anchor="end">0</text>
<line x1="1427.6" y1="1828.15" x2="1427.6" y2="1838.65" stroke="#000" stroke-width="2.4"/>
<text transform="translate(1429.9 1883.3) scale(1 1.04)" font-size="46" text-anchor="middle">-2</text>
<line x1="1605.6" y1="1828.15" x2="1605.6" y2="1838.65" stroke="#000" stroke-width="2.4"/>
<text transform="translate(1609.6 1883.3) scale(1 1.04)" font-size="46" text-anchor="middle">-1</text>
<line x1="1783.5" y1="1828.15" x2="1783.5" y2="1838.65" stroke="#000" stroke-width="2.4"/>
<text transform="translate(1781.9 1883.3) scale(1 1.04)" font-size="46" text-anchor="middle">0</text>
<line x1="1961.8" y1="1828.15" x2="1961.8" y2="1838.65" stroke="#000" stroke-width="2.4"/>
<text transform="translate(1961.8 1883.3) scale(1 1.04)" font-size="46" text-anchor="middle">1</text>
<text x="1519" y="1949.7" font-size="53.6"><tspan font-style="italic">n</tspan> (10<tspan font-size="32.4" dy="-18.5">11</tspan><tspan dy="18.5"> cm</tspan><tspan font-size="32.4" dy="-18.5">-2</tspan><tspan dy="18.5">)</tspan></text>
<text transform="translate(1188 1420) rotate(-90)" font-size="46.5" text-anchor="middle"><tspan font-style="italic">B</tspan> (T)</text>
<text x="2037" y="1159.7" font-size="38"><tspan font-style="italic">R</tspan><tspan font-style="italic" font-size="21.5" dy="13.5">xx</tspan><tspan dy="-13.5"> (kΩ)</tspan></text>
<rect x="2037.20" y="1192.90" width="36.00" height="237.60" fill="url(#cb)" stroke="#000" stroke-width="2.2"/>
<line x1="2073.8" y1="1193.4" x2="2079.6000000000004" y2="1193.4" stroke="#000" stroke-width="2.1"/>
<text transform="translate(2094 1210) scale(1 1.04)" font-size="44.5" text-anchor="start">100</text>
<line x1="2073.8" y1="1399.6" x2="2079.6000000000004" y2="1399.6" stroke="#000" stroke-width="2.1"/>
<text transform="translate(2094 1416) scale(1 1.04)" font-size="44.5" text-anchor="start">1</text>
<text x="2037" y="1562.3" font-size="38"><tspan font-style="italic">R</tspan><tspan font-style="italic" font-size="22.5" dy="10.5">xy</tspan><tspan dy="-10.5"> (kΩ)</tspan></text>
<rect x="2037.20" y="1588.60" width="36.00" height="237.60" fill="url(#cb)" stroke="#000" stroke-width="2.2"/>
<line x1="2073.8" y1="1628.6" x2="2079.6000000000004" y2="1628.6" stroke="#000" stroke-width="2.1"/>
<text transform="translate(2094 1644) scale(1 1.04)" font-size="44.5" text-anchor="start">10</text>
<line x1="2073.8" y1="1707.4" x2="2079.6000000000004" y2="1707.4" stroke="#000" stroke-width="2.1"/>
<text transform="translate(2094 1723) scale(1 1.04)" font-size="44.5" text-anchor="start">0</text>
<line x1="2073.8" y1="1786.9" x2="2079.6000000000004" y2="1786.9" stroke="#000" stroke-width="2.1"/>
<text transform="translate(2089.2 1802) scale(1 1.04)" font-size="44.5" text-anchor="start">-10</text>
<text transform="translate(1419.5 1298.5) scale(1 1.04)" font-size="49.5" text-anchor="start">C = -3</text>
<text transform="translate(1356.5 1785.5) scale(1 1.04)" font-size="49.5"><tspan font-style="italic">D</tspan> = -0.2 V/nm</text>
<text x="1113.5" y="983" font-size="62" text-anchor="start" font-weight="bold">d</text>
</svg>
</body></html>
